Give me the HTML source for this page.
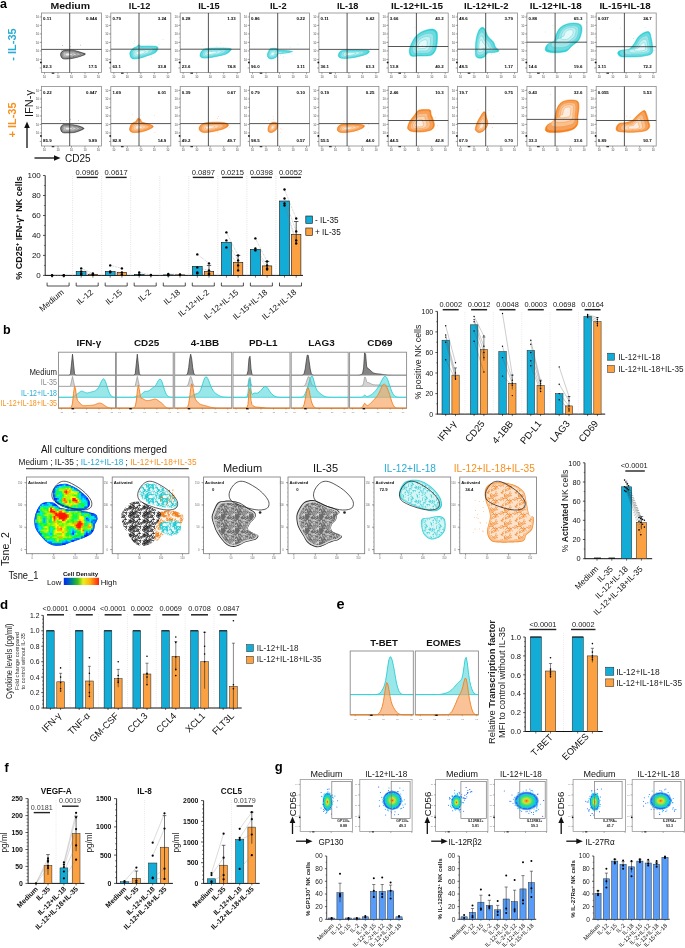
<!DOCTYPE html>
<html><head><meta charset="utf-8"><style>
html,body{margin:0;padding:0;background:#fff;width:685px;height:948px;overflow:hidden}
svg{display:block;will-change:transform;-webkit-font-smoothing:antialiased}
text{font-family:"Liberation Sans",sans-serif}
</style></head><body>
<svg width="685" height="948" viewBox="0 0 685 948" fill="#1a1a1a">
<rect width="685" height="948" fill="#fff"/>
<text x="0" y="8.2" font-size="12.5" font-weight="bold" fill="#000">a</text>
<defs><g id="fax"><line x1="-1.8" y1="4" x2="0" y2="4" stroke="#555" stroke-width="0.5"/>
<text x="-5.6" y="5.2" font-size="2.8" fill="#444">10</text>
<line x1="-1.8" y1="12.5" x2="0" y2="12.5" stroke="#555" stroke-width="0.5"/>
<text x="-5.6" y="13.7" font-size="2.8" fill="#444">10</text>
<line x1="-1.8" y1="21" x2="0" y2="21" stroke="#555" stroke-width="0.5"/>
<text x="-5.6" y="22.2" font-size="2.8" fill="#444">10</text>
<line x1="-1.8" y1="29.5" x2="0" y2="29.5" stroke="#555" stroke-width="0.5"/>
<text x="-5.6" y="30.7" font-size="2.8" fill="#444">10</text>
<line x1="-1.8" y1="38" x2="0" y2="38" stroke="#555" stroke-width="0.5"/>
<text x="-5.6" y="39.2" font-size="2.8" fill="#444">10</text>
<line x1="-1.8" y1="46.5" x2="0" y2="46.5" stroke="#555" stroke-width="0.5"/>
<text x="-5.6" y="47.7" font-size="2.8" fill="#444">10</text>
<line x1="-1.8" y1="55" x2="0" y2="55" stroke="#555" stroke-width="0.5"/>
<line x1="-1" y1="3" x2="0" y2="3" stroke="#777" stroke-width="0.3"/>
<line x1="-1" y1="7.3" x2="0" y2="7.3" stroke="#777" stroke-width="0.3"/>
<line x1="-1" y1="11.6" x2="0" y2="11.6" stroke="#777" stroke-width="0.3"/>
<line x1="-1" y1="15.9" x2="0" y2="15.9" stroke="#777" stroke-width="0.3"/>
<line x1="-1" y1="20.2" x2="0" y2="20.2" stroke="#777" stroke-width="0.3"/>
<line x1="-1" y1="24.5" x2="0" y2="24.5" stroke="#777" stroke-width="0.3"/>
<line x1="-1" y1="28.8" x2="0" y2="28.8" stroke="#777" stroke-width="0.3"/>
<line x1="-1" y1="33.1" x2="0" y2="33.1" stroke="#777" stroke-width="0.3"/>
<line x1="-1" y1="37.4" x2="0" y2="37.4" stroke="#777" stroke-width="0.3"/>
<line x1="-1" y1="41.7" x2="0" y2="41.7" stroke="#777" stroke-width="0.3"/>
<line x1="-1" y1="46" x2="0" y2="46" stroke="#777" stroke-width="0.3"/>
<line x1="-1" y1="50.3" x2="0" y2="50.3" stroke="#777" stroke-width="0.3"/>
<line x1="-1" y1="54.6" x2="0" y2="54.6" stroke="#777" stroke-width="0.3"/>
<line x1="3" y1="59.5" x2="3" y2="61.3" stroke="#555" stroke-width="0.5"/>
<text x="1.5" y="64.5" font-size="2.8" fill="#444">10</text>
<line x1="16.5" y1="59.5" x2="16.5" y2="61.3" stroke="#555" stroke-width="0.5"/>
<text x="15" y="64.5" font-size="2.8" fill="#444">10</text>
<line x1="30" y1="59.5" x2="30" y2="61.3" stroke="#555" stroke-width="0.5"/>
<text x="28.5" y="64.5" font-size="2.8" fill="#444">10</text>
<line x1="43.5" y1="59.5" x2="43.5" y2="61.3" stroke="#555" stroke-width="0.5"/>
<text x="42" y="64.5" font-size="2.8" fill="#444">10</text>
<line x1="57" y1="59.5" x2="57" y2="61.3" stroke="#555" stroke-width="0.5"/>
<text x="55.5" y="64.5" font-size="2.8" fill="#444">10</text>
<circle cx="-0.6" cy="49.4" r="0.9" fill="#111"/>
<rect x="10.2" y="59.7" width="2.6" height="1" fill="#111" stroke="none" stroke-width="1"/></g></defs>
<path d="M60.5,54.5C60.5,53.2 61.3,51.8 62.5,51C63.7,50.2 65.5,50.1 67.5,50C69.5,49.9 72.2,50.1 74.5,50.5C76.8,50.9 79.7,51.9 81.5,52.5C83.3,53.1 85.5,53.4 85.5,54C85.5,54.6 83.3,55.3 81.5,56C79.7,56.7 76.8,57.5 74.5,58C72.2,58.5 69.5,58.9 67.5,59C65.5,59.1 63.7,59.2 62.5,58.5C61.3,57.8 60.5,55.8 60.5,54.5Z" fill="#3a3a3a" stroke="#3a3a3a" stroke-width="0.5"/>
<path d="M61.1,54.5C61.1,53.4 61.8,52 62.9,51.3C64,50.6 65.7,50.4 67.5,50.4C69.3,50.3 71.8,50.4 73.9,50.8C76.1,51.2 78.7,52.1 80.4,52.7C82.1,53.2 84.1,53.5 84.1,54C84.1,54.6 82.1,55.3 80.4,55.9C78.7,56.5 76.1,57.3 73.9,57.7C71.8,58.2 69.3,58.6 67.5,58.6C65.7,58.7 64,58.9 62.9,58.2C61.8,57.5 61.1,55.6 61.1,54.5Z" fill="#9a9a9a" stroke="#555555" stroke-width="0.4"/>
<path d="M62.3,54.5C62.3,53.6 62.9,52.5 63.8,51.9C64.7,51.4 66,51.2 67.5,51.2C69,51.1 71,51.2 72.7,51.5C74.4,51.8 76.5,52.6 77.9,53C79.2,53.5 80.8,53.7 80.8,54.1C80.8,54.6 79.2,55.1 77.9,55.6C76.5,56.1 74.4,56.7 72.7,57.1C71,57.5 69,57.8 67.5,57.8C66,57.9 64.7,58 63.8,57.5C62.9,56.9 62.3,55.4 62.3,54.5Z" fill="#bdbdbd" stroke="#555555" stroke-width="0.4"/>
<path d="M63.7,54.5C63.7,53.8 64.2,53 64.8,52.6C65.4,52.2 66.4,52.1 67.5,52.1C68.6,52 70,52.1 71.3,52.3C72.5,52.6 74.1,53.1 75.1,53.4C76,53.7 77.2,53.9 77.2,54.2C77.2,54.5 76,55 75.1,55.3C74.1,55.7 72.5,56.1 71.3,56.4C70,56.7 68.6,56.9 67.5,56.9C66.4,57 65.4,57.1 64.8,56.7C64.2,56.3 63.7,55.2 63.7,54.5Z" fill="#d8d8d8" stroke="#555555" stroke-width="0.4"/>
<path d="M65.2,54.5C65.2,54.1 65.5,53.6 65.8,53.3C66.2,53.1 66.8,53 67.5,53C68.2,53 69,53 69.8,53.2C70.6,53.3 71.5,53.6 72.1,53.8C72.7,54 73.4,54.1 73.4,54.3C73.4,54.5 72.7,54.8 72.1,55C71.5,55.2 70.6,55.5 69.8,55.7C69,55.8 68.2,56 67.5,56C66.8,56 66.2,56.1 65.8,55.8C65.5,55.6 65.2,54.9 65.2,54.5Z" fill="#eeeeee" stroke="#555555" stroke-width="0.4"/>
<circle cx="70.5" cy="46.3" r="0.3" fill="#3a3a3a"/>
<circle cx="80.7" cy="45.1" r="0.3" fill="#3a3a3a"/>
<circle cx="77.1" cy="49.5" r="0.3" fill="#3a3a3a"/>
<circle cx="62.3" cy="51.6" r="0.3" fill="#3a3a3a"/>
<circle cx="61.7" cy="50.5" r="0.3" fill="#3a3a3a"/>
<circle cx="62.7" cy="45.4" r="0.3" fill="#3a3a3a"/>
<circle cx="73.7" cy="56.4" r="0.3" fill="#3a3a3a"/>
<rect x="41.5" y="13" width="60" height="59.5" fill="none" stroke="#8a8a8a" stroke-width="0.8"/>
<line x1="69.7" y1="13" x2="69.7" y2="72.5" stroke="#2a2a2a" stroke-width="0.8"/>
<line x1="41.5" y1="49.4" x2="101.5" y2="49.4" stroke="#2a2a2a" stroke-width="0.8"/>
<text x="43.1" y="20" font-size="4.4" font-weight="bold" fill="#000">0.11</text>
<text x="97" y="20" font-size="4.4" text-anchor="end" font-weight="bold" fill="#000">0.044</text>
<text x="43.1" y="68.4" font-size="4.4" font-weight="bold" fill="#000">82.3</text>
<text x="97" y="68.4" font-size="4.4" text-anchor="end" font-weight="bold" fill="#000">17.5</text>
<use href="#fax" x="41.5" y="13"/>
<path d="M129.8,53C130,51.3 131.7,49.6 132.8,48.5C134,47.4 135.8,47.1 136.8,46.5C137.8,45.9 138.2,44.9 138.8,44.8C139.5,44.7 139.2,45.8 140.8,46C142.5,46.2 146.2,45.9 148.8,46C151.5,46.1 155.3,46 156.8,46.5C158.3,47 158.2,47.9 157.8,49C157.5,50.1 156.7,51.8 154.8,53C153,54.2 149.5,55.1 146.8,56C144.2,56.9 141.3,58.1 138.8,58.5C136.3,58.9 133.3,59.4 131.8,58.5C130.3,57.6 129.7,54.7 129.8,53Z" fill="#2ccfd5" stroke="#2ccfd5" stroke-width="0.5"/>
<path d="M130.6,53C130.7,51.5 132.2,49.9 133.3,48.9C134.4,47.9 136.1,47.6 137,47C137.9,46.5 138.2,45.5 138.8,45.5C139.5,45.4 139.1,46.4 140.7,46.6C142.2,46.7 145.6,46.5 148,46.6C150.5,46.6 154,46.6 155.4,47C156.8,47.5 156.6,48.3 156.3,49.3C156,50.3 155.2,51.9 153.6,53C151.9,54.1 148.7,54.9 146.2,55.8C143.7,56.6 141.1,57.7 138.8,58.1C136.5,58.4 133.8,58.9 132.4,58.1C131,57.2 130.4,54.5 130.6,53Z" fill="#6fd9dd" stroke="#3fd2d8" stroke-width="0.4"/>
<path d="M132.2,53C132.3,51.8 133.5,50.5 134.4,49.7C135.3,48.9 136.6,48.6 137.4,48.2C138.1,47.7 138.3,47 138.8,46.9C139.3,46.9 139.1,47.7 140.3,47.8C141.6,48 144.3,47.8 146.2,47.8C148.2,47.9 151.1,47.8 152.2,48.2C153.3,48.6 153.1,49.2 152.9,50C152.7,50.8 152,52.1 150.7,53C149.3,53.9 146.7,54.5 144.8,55.2C142.8,55.9 140.7,56.8 138.8,57.1C137,57.4 134.8,57.7 133.7,57.1C132.6,56.4 132.1,54.2 132.2,53Z" fill="#9fe5e8" stroke="#3fd2d8" stroke-width="0.4"/>
<path d="M134,53C134.1,52.1 135,51.2 135.6,50.6C136.2,50 137.2,49.8 137.8,49.5C138.3,49.2 138.5,48.6 138.8,48.6C139.2,48.5 139,49.1 139.9,49.2C140.8,49.3 142.8,49.2 144.2,49.2C145.7,49.3 147.8,49.2 148.6,49.5C149.4,49.8 149.3,50.3 149.1,50.8C148.9,51.4 148.5,52.4 147.5,53C146.5,53.6 144.6,54.1 143.2,54.6C141.7,55.1 140.2,55.7 138.8,56C137.5,56.2 135.9,56.5 135.1,56C134.2,55.5 133.9,53.9 134,53Z" fill="#c8f0f1" stroke="#3fd2d8" stroke-width="0.4"/>
<path d="M135.9,53C135.9,52.5 136.5,51.9 136.9,51.5C137.2,51.2 137.9,51.1 138.2,50.9C138.5,50.7 138.6,50.3 138.8,50.3C139.1,50.3 138.9,50.6 139.5,50.7C140.1,50.8 141.3,50.7 142.1,50.7C143,50.7 144.3,50.7 144.8,50.9C145.3,51 145.2,51.3 145.1,51.7C145,52 144.7,52.6 144.1,53C143.5,53.4 142.4,53.7 141.5,54C140.6,54.3 139.7,54.7 138.8,54.8C138,55 137,55.1 136.5,54.8C136,54.5 135.8,53.5 135.9,53Z" fill="#e6f9fa" stroke="#3fd2d8" stroke-width="0.4"/>
<circle cx="134" cy="43.2" r="0.3" fill="#2ccfd5"/>
<circle cx="151.2" cy="57.5" r="0.3" fill="#2ccfd5"/>
<circle cx="149.5" cy="46.6" r="0.3" fill="#2ccfd5"/>
<circle cx="163" cy="39.7" r="0.3" fill="#2ccfd5"/>
<circle cx="159" cy="44.5" r="0.3" fill="#2ccfd5"/>
<circle cx="134.7" cy="41.1" r="0.3" fill="#2ccfd5"/>
<circle cx="140.3" cy="54.9" r="0.3" fill="#2ccfd5"/>
<rect x="110.8" y="13" width="60" height="59.5" fill="none" stroke="#8a8a8a" stroke-width="0.8"/>
<line x1="139" y1="13" x2="139" y2="72.5" stroke="#2a2a2a" stroke-width="0.8"/>
<line x1="110.8" y1="49.2" x2="170.8" y2="49.2" stroke="#2a2a2a" stroke-width="0.8"/>
<text x="112.4" y="20" font-size="4.4" font-weight="bold" fill="#000">0.79</text>
<text x="166.3" y="20" font-size="4.4" text-anchor="end" font-weight="bold" fill="#000">3.24</text>
<text x="112.4" y="68.4" font-size="4.4" font-weight="bold" fill="#000">63.1</text>
<text x="166.3" y="68.4" font-size="4.4" text-anchor="end" font-weight="bold" fill="#000">33.8</text>
<use href="#fax" x="110.8" y="13"/>
<path d="M200.2,54C200.5,52.7 201.5,50.5 203.2,49.5C204.8,48.5 207,48.5 210.2,48.2C213.3,48 218.8,48 222.2,48C225.5,48 228.7,48.2 230.2,48.5C231.7,48.8 231.8,49.1 231.2,50C230.5,50.9 228.7,52.9 226.2,54C223.7,55.1 219.3,55.8 216.2,56.5C213,57.2 209.7,57.8 207.2,58C204.7,58.2 202.3,58.2 201.2,57.5C200,56.8 199.8,55.3 200.2,54Z" fill="#2ccfd5" stroke="#2ccfd5" stroke-width="0.5"/>
<path d="M201,53.9C201.3,52.7 202.2,50.7 203.7,49.8C205.3,48.9 207.3,48.8 210.2,48.6C213.1,48.4 218.2,48.4 221.2,48.4C224.3,48.4 227.2,48.6 228.6,48.9C230,49.2 230.1,49.4 229.5,50.2C228.9,51.1 227.2,52.9 224.9,53.9C222.6,54.9 218.6,55.6 215.7,56.2C212.8,56.8 209.7,57.4 207.4,57.6C205.1,57.8 203,57.8 201.9,57.1C200.8,56.5 200.7,55.1 201,53.9Z" fill="#6fd9dd" stroke="#3fd2d8" stroke-width="0.4"/>
<path d="M202.8,53.7C203,52.8 203.8,51.1 205,50.4C206.2,49.7 207.8,49.6 210.2,49.4C212.5,49.3 216.6,49.3 219.1,49.3C221.5,49.3 223.9,49.4 225,49.7C226.1,49.9 226.2,50.1 225.7,50.8C225.2,51.5 223.9,52.9 222,53.7C220.2,54.5 217,55.1 214.6,55.6C212.3,56.1 209.8,56.6 208,56.7C206.1,56.8 204.4,56.8 203.5,56.3C202.7,55.8 202.5,54.7 202.8,53.7Z" fill="#9fe5e8" stroke="#3fd2d8" stroke-width="0.4"/>
<path d="M204.8,53.5C205,52.8 205.5,51.6 206.4,51.1C207.3,50.6 208.5,50.5 210.2,50.4C211.9,50.3 214.9,50.3 216.7,50.3C218.5,50.3 220.2,50.4 221,50.6C221.8,50.8 221.9,50.9 221.5,51.4C221.2,51.9 220.2,53 218.8,53.5C217.5,54.1 215.1,54.5 213.4,54.9C211.7,55.2 209.9,55.6 208.6,55.7C207.2,55.8 205.9,55.8 205.3,55.4C204.7,55.1 204.6,54.3 204.8,53.5Z" fill="#c8f0f1" stroke="#3fd2d8" stroke-width="0.4"/>
<path d="M206.9,53.3C207,52.9 207.3,52.2 207.9,51.8C208.4,51.5 209.1,51.5 210.2,51.4C211.2,51.3 213,51.3 214.1,51.4C215.2,51.4 216.3,51.4 216.8,51.5C217.3,51.6 217.3,51.7 217.1,52C216.9,52.3 216.3,53 215.5,53.3C214.6,53.7 213.2,53.9 212.2,54.2C211.1,54.4 210,54.6 209.2,54.6C208.4,54.7 207.6,54.7 207.2,54.5C206.8,54.3 206.8,53.8 206.9,53.3Z" fill="#e6f9fa" stroke="#3fd2d8" stroke-width="0.4"/>
<circle cx="206.9" cy="51.3" r="0.3" fill="#2ccfd5"/>
<circle cx="223.8" cy="48" r="0.3" fill="#2ccfd5"/>
<circle cx="220.4" cy="43" r="0.3" fill="#2ccfd5"/>
<circle cx="202.4" cy="45.3" r="0.3" fill="#2ccfd5"/>
<circle cx="225.4" cy="48.8" r="0.3" fill="#2ccfd5"/>
<circle cx="211.8" cy="51.4" r="0.3" fill="#2ccfd5"/>
<circle cx="216.9" cy="46.8" r="0.3" fill="#2ccfd5"/>
<rect x="180.2" y="13" width="60" height="59.5" fill="none" stroke="#8a8a8a" stroke-width="0.8"/>
<line x1="208.4" y1="13" x2="208.4" y2="72.5" stroke="#2a2a2a" stroke-width="0.8"/>
<line x1="180.2" y1="49.2" x2="240.2" y2="49.2" stroke="#2a2a2a" stroke-width="0.8"/>
<text x="181.8" y="20" font-size="4.4" font-weight="bold" fill="#000">0.28</text>
<text x="235.7" y="20" font-size="4.4" text-anchor="end" font-weight="bold" fill="#000">1.33</text>
<text x="181.8" y="68.4" font-size="4.4" font-weight="bold" fill="#000">23.6</text>
<text x="235.7" y="68.4" font-size="4.4" text-anchor="end" font-weight="bold" fill="#000">74.8</text>
<use href="#fax" x="180.2" y="13"/>
<path d="M267.5,54C267.8,52.7 268.7,50.5 269.5,49.5C270.4,48.5 271.4,48.5 272.5,48.3C273.7,48.1 275.5,48.2 276.5,48.5C277.5,48.8 277,49.7 278.5,50C280,50.3 283.2,50.2 285.5,50.5C287.9,50.8 292.5,51.1 292.5,51.5C292.5,51.9 287.9,52.7 285.5,53C283.2,53.3 280,52.8 278.5,53.5C277,54.2 277.7,56.1 276.5,57C275.4,57.9 272.9,58.9 271.5,59C270.1,59.1 268.7,58.3 268,57.5C267.4,56.7 267.3,55.3 267.5,54Z" fill="#2ccfd5" stroke="#2ccfd5" stroke-width="0.5"/>
<path d="M267.9,54C268.2,52.8 269,50.7 269.8,49.9C270.5,49 271.4,48.9 272.5,48.8C273.6,48.6 275.3,48.7 276.2,48.9C277.1,49.2 276.7,50 278,50.3C279.4,50.6 282.3,50.5 284.5,50.8C286.6,51 290.9,51.3 290.9,51.7C290.9,52.1 286.6,52.8 284.5,53.1C282.3,53.4 279.4,52.9 278,53.5C276.7,54.2 277.3,55.9 276.2,56.8C275.1,57.6 272.9,58.5 271.6,58.6C270.3,58.7 269,58 268.4,57.2C267.8,56.5 267.7,55.2 267.9,54Z" fill="#6fd9dd" stroke="#3fd2d8" stroke-width="0.4"/>
<path d="M268.8,54C269,53 269.7,51.4 270.3,50.7C270.9,50 271.7,49.9 272.5,49.8C273.4,49.7 274.7,49.7 275.5,49.9C276.2,50.1 275.9,50.8 277,51C278.1,51.3 280.4,51.2 282.1,51.4C283.9,51.6 287.3,51.8 287.3,52.1C287.3,52.5 283.9,53 282.1,53.3C280.4,53.5 278.1,53.1 277,53.6C275.9,54.1 276.3,55.5 275.5,56.2C274.6,56.9 272.8,57.6 271.8,57.7C270.7,57.8 269.7,57.2 269.2,56.6C268.7,56 268.6,55 268.8,54Z" fill="#9fe5e8" stroke="#3fd2d8" stroke-width="0.4"/>
<path d="M269.8,54C270,53.3 270.5,52.1 270.9,51.6C271.4,51.1 271.9,51 272.5,50.9C273.1,50.8 274.1,50.9 274.7,51C275.2,51.2 274.9,51.7 275.8,51.8C276.6,52 278.3,52 279.5,52.1C280.8,52.2 283.3,52.4 283.3,52.6C283.3,52.9 280.8,53.3 279.5,53.5C278.3,53.6 276.6,53.4 275.8,53.7C274.9,54.1 275.3,55.1 274.7,55.6C274.1,56.1 272.7,56.7 272,56.7C271.2,56.7 270.5,56.3 270.1,55.9C269.7,55.4 269.7,54.7 269.8,54Z" fill="#c8f0f1" stroke="#3fd2d8" stroke-width="0.4"/>
<path d="M270.9,54C271,53.6 271.3,52.8 271.5,52.5C271.8,52.2 272.1,52.2 272.5,52.1C272.9,52.1 273.5,52.1 273.8,52.2C274.2,52.3 274,52.6 274.5,52.7C275,52.8 276,52.8 276.8,52.8C277.6,52.9 279.1,53 279.1,53.2C279.1,53.3 277.6,53.6 276.8,53.7C276,53.8 275,53.6 274.5,53.8C274,54.1 274.2,54.7 273.8,55C273.5,55.3 272.7,55.6 272.2,55.6C271.7,55.7 271.3,55.4 271,55.2C270.8,54.9 270.8,54.4 270.9,54Z" fill="#e6f9fa" stroke="#3fd2d8" stroke-width="0.4"/>
<circle cx="292.1" cy="54" r="0.3" fill="#2ccfd5"/>
<circle cx="275.1" cy="51.9" r="0.3" fill="#2ccfd5"/>
<circle cx="283.8" cy="56.9" r="0.3" fill="#2ccfd5"/>
<circle cx="290.1" cy="47.1" r="0.3" fill="#2ccfd5"/>
<circle cx="297.9" cy="44.3" r="0.3" fill="#2ccfd5"/>
<circle cx="280.5" cy="54.9" r="0.3" fill="#2ccfd5"/>
<circle cx="272.2" cy="50.5" r="0.3" fill="#2ccfd5"/>
<rect x="249.5" y="13" width="60" height="59.5" fill="none" stroke="#8a8a8a" stroke-width="0.8"/>
<line x1="277.7" y1="13" x2="277.7" y2="72.5" stroke="#2a2a2a" stroke-width="0.8"/>
<line x1="249.5" y1="49.2" x2="309.5" y2="49.2" stroke="#2a2a2a" stroke-width="0.8"/>
<text x="251.1" y="20" font-size="4.4" font-weight="bold" fill="#000">0.86</text>
<text x="305" y="20" font-size="4.4" text-anchor="end" font-weight="bold" fill="#000">0.22</text>
<text x="251.1" y="68.4" font-size="4.4" font-weight="bold" fill="#000">96.0</text>
<text x="305" y="68.4" font-size="4.4" text-anchor="end" font-weight="bold" fill="#000">3.11</text>
<use href="#fax" x="249.5" y="13"/>
<path d="M338.4,54.5C338.7,53.5 339.1,51.8 340.9,51C342.6,50.2 345.5,50.2 348.9,50C352.2,49.8 357.5,49.9 360.9,50C364.2,50.1 367.7,49.9 368.9,50.5C370,51.1 369.2,52.6 367.9,53.5C366.5,54.4 363.7,55.2 360.9,56C358,56.8 354,57.6 350.9,58C347.7,58.4 343.9,58.5 341.9,58.3C339.9,58.1 339.4,57.6 338.9,57C338.3,56.4 338,55.5 338.4,54.5Z" fill="#2ccfd5" stroke="#2ccfd5" stroke-width="0.5"/>
<path d="M339.2,54.5C339.5,53.5 339.9,51.9 341.5,51.2C343.1,50.6 345.8,50.5 348.9,50.3C351.9,50.2 356.8,50.2 359.9,50.3C363,50.4 366.2,50.2 367.3,50.8C368.3,51.3 367.6,52.7 366.3,53.5C365.1,54.4 362.5,55.2 359.9,55.8C357.3,56.5 353.6,57.3 350.7,57.7C347.8,58 344.3,58.1 342.4,58C340.6,57.8 340.2,57.3 339.7,56.8C339.1,56.2 338.9,55.4 339.2,54.5Z" fill="#6fd9dd" stroke="#3fd2d8" stroke-width="0.4"/>
<path d="M341.1,54.4C341.3,53.6 341.6,52.3 342.9,51.8C344.2,51.2 346.4,51.2 348.9,51C351.3,50.9 355.3,51 357.7,51C360.2,51.1 362.8,51 363.7,51.4C364.5,51.8 363.9,53 362.9,53.6C361.9,54.3 359.8,54.9 357.7,55.5C355.6,56 352.7,56.7 350.3,57C348,57.2 345.2,57.3 343.7,57.2C342.2,57.1 341.9,56.7 341.5,56.2C341,55.8 340.8,55.1 341.1,54.4Z" fill="#9fe5e8" stroke="#3fd2d8" stroke-width="0.4"/>
<path d="M343.2,54.3C343.4,53.7 343.6,52.8 344.5,52.4C345.5,52 347.1,51.9 348.9,51.8C350.7,51.8 353.5,51.8 355.3,51.8C357.1,51.9 359,51.8 359.7,52.1C360.3,52.4 359.8,53.2 359.1,53.7C358.4,54.2 356.9,54.7 355.3,55.1C353.8,55.5 351.6,56 349.9,56.2C348.2,56.4 346.2,56.4 345.1,56.3C344,56.2 343.8,56 343.5,55.6C343.1,55.3 343,54.8 343.2,54.3Z" fill="#c8f0f1" stroke="#3fd2d8" stroke-width="0.4"/>
<path d="M345.4,54.2C345.5,53.8 345.6,53.3 346.2,53C346.8,52.8 347.8,52.7 348.9,52.7C350,52.6 351.7,52.7 352.8,52.7C353.9,52.7 355.1,52.7 355.5,52.8C355.8,53 355.6,53.5 355.1,53.8C354.7,54.1 353.8,54.4 352.8,54.7C351.9,54.9 350.6,55.2 349.5,55.3C348.5,55.4 347.2,55.5 346.6,55.4C345.9,55.4 345.8,55.2 345.6,55C345.4,54.8 345.3,54.5 345.4,54.2Z" fill="#e6f9fa" stroke="#3fd2d8" stroke-width="0.4"/>
<circle cx="339.8" cy="53.6" r="0.3" fill="#2ccfd5"/>
<circle cx="366.3" cy="52.2" r="0.3" fill="#2ccfd5"/>
<circle cx="370.3" cy="48.5" r="0.3" fill="#2ccfd5"/>
<circle cx="363.7" cy="52.5" r="0.3" fill="#2ccfd5"/>
<circle cx="359.5" cy="50.5" r="0.3" fill="#2ccfd5"/>
<circle cx="369" cy="57.5" r="0.3" fill="#2ccfd5"/>
<circle cx="355.7" cy="53.5" r="0.3" fill="#2ccfd5"/>
<rect x="318.9" y="13" width="60" height="59.5" fill="none" stroke="#8a8a8a" stroke-width="0.8"/>
<line x1="347.1" y1="13" x2="347.1" y2="72.5" stroke="#2a2a2a" stroke-width="0.8"/>
<line x1="318.9" y1="49.4" x2="378.9" y2="49.4" stroke="#2a2a2a" stroke-width="0.8"/>
<text x="320.5" y="20" font-size="4.4" font-weight="bold" fill="#000">0.11</text>
<text x="374.4" y="20" font-size="4.4" text-anchor="end" font-weight="bold" fill="#000">0.42</text>
<text x="320.5" y="68.4" font-size="4.4" font-weight="bold" fill="#000">36.1</text>
<text x="374.4" y="68.4" font-size="4.4" text-anchor="end" font-weight="bold" fill="#000">63.3</text>
<use href="#fax" x="318.9" y="13"/>
<path d="M409.2,51C409.2,49 410.2,46.3 411.2,44C412.2,41.7 413.5,39 415.2,37C416.9,35 419,33.2 421.2,32C423.4,30.8 426,29.9 428.2,29.5C430.4,29.1 432.7,28.9 434.2,29.5C435.7,30.1 436.7,30.8 437.2,33C437.7,35.2 437.5,40 437.2,43C436.9,46 436.4,48.9 435.2,51C434,53.1 433,54.7 430.2,55.5C427.4,56.3 421.4,55.9 418.2,56C415,56.1 412.7,56.8 411.2,56C409.7,55.2 409.2,53 409.2,51Z" fill="#2ccfd5" stroke="#2ccfd5" stroke-width="0.5"/>
<path d="M410.2,50.5C410.2,48.7 411.2,46.2 412.1,44.1C413,41.9 414.2,39.5 415.8,37.6C417.3,35.8 419.3,34.2 421.3,33C423.3,31.9 425.7,31.1 427.7,30.7C429.7,30.4 431.9,30.2 433.2,30.7C434.6,31.3 435.5,31.9 436,34C436.5,36 436.3,40.4 436,43.2C435.7,45.9 435.2,48.6 434.2,50.5C433.1,52.4 432.2,53.9 429.6,54.7C427,55.4 421.4,55 418.5,55.1C415.6,55.2 413.5,55.9 412.1,55.1C410.7,54.4 410.2,52.4 410.2,50.5Z" fill="#6fd9dd" stroke="#3fd2d8" stroke-width="0.4"/>
<path d="M412.6,49.4C412.6,48 413.3,46 414.1,44.3C414.8,42.5 415.8,40.6 417,39.1C418.3,37.6 419.9,36.3 421.5,35.4C423.1,34.5 425,33.8 426.6,33.5C428.2,33.2 430,33.1 431.1,33.5C432.2,34 432.9,34.5 433.3,36.1C433.7,37.8 433.5,41.3 433.3,43.5C433.1,45.7 432.7,47.9 431.8,49.4C431,51 430.2,52.2 428.1,52.8C426,53.4 421.6,53.1 419.2,53.1C416.9,53.2 415.2,53.8 414.1,53.1C413,52.5 412.6,50.9 412.6,49.4Z" fill="#9fe5e8" stroke="#3fd2d8" stroke-width="0.4"/>
<path d="M415.2,48.2C415.2,47.2 415.7,45.7 416.3,44.5C416.8,43.2 417.5,41.8 418.4,40.7C419.3,39.6 420.5,38.7 421.7,38C422.8,37.3 424.3,36.9 425.4,36.6C426.6,36.4 427.9,36.3 428.7,36.6C429.5,36.9 430,37.3 430.3,38.5C430.6,39.7 430.5,42.3 430.3,43.9C430.1,45.5 429.9,47.1 429.2,48.2C428.6,49.4 428.1,50.2 426.5,50.7C425,51.1 421.8,50.9 420,50.9C418.3,51 417.1,51.4 416.3,50.9C415.5,50.5 415.2,49.3 415.2,48.2Z" fill="#c8f0f1" stroke="#3fd2d8" stroke-width="0.4"/>
<path d="M417.9,47C417.9,46.3 418.2,45.4 418.6,44.7C418.9,43.9 419.3,43 419.9,42.4C420.4,41.7 421.2,41.1 421.9,40.7C422.6,40.3 423.5,40 424.2,39.9C424.9,39.7 425.7,39.7 426.2,39.9C426.7,40.1 427,40.3 427.2,41C427.3,41.8 427.3,43.4 427.2,44.3C427,45.3 426.9,46.3 426.5,47C426.1,47.7 425.8,48.2 424.8,48.5C423.9,48.7 421.9,48.6 420.9,48.6C419.8,48.7 419.1,48.9 418.6,48.6C418.1,48.4 417.9,47.6 417.9,47Z" fill="#e6f9fa" stroke="#3fd2d8" stroke-width="0.4"/>
<circle cx="411.3" cy="46.3" r="0.3" fill="#2ccfd5"/>
<circle cx="431.2" cy="55.8" r="0.3" fill="#2ccfd5"/>
<circle cx="437.1" cy="32.7" r="0.3" fill="#2ccfd5"/>
<circle cx="422.3" cy="45.2" r="0.3" fill="#2ccfd5"/>
<circle cx="410" cy="38.5" r="0.3" fill="#2ccfd5"/>
<circle cx="414.9" cy="27.3" r="0.3" fill="#2ccfd5"/>
<circle cx="411.2" cy="48.5" r="0.3" fill="#2ccfd5"/>
<rect x="388.2" y="13" width="60" height="59.5" fill="none" stroke="#8a8a8a" stroke-width="0.8"/>
<line x1="416.4" y1="13" x2="416.4" y2="72.5" stroke="#2a2a2a" stroke-width="0.8"/>
<line x1="388.2" y1="46.5" x2="448.2" y2="46.5" stroke="#2a2a2a" stroke-width="0.8"/>
<text x="389.8" y="20" font-size="4.4" font-weight="bold" fill="#000">3.66</text>
<text x="443.7" y="20" font-size="4.4" text-anchor="end" font-weight="bold" fill="#000">43.2</text>
<text x="389.8" y="68.4" font-size="4.4" font-weight="bold" fill="#000">13.8</text>
<text x="443.7" y="68.4" font-size="4.4" text-anchor="end" font-weight="bold" fill="#000">40.2</text>
<use href="#fax" x="388.2" y="13"/>
<path d="M475.5,51C475.5,48.2 475.5,43.3 476,40C476.5,36.7 477.6,33.1 478.5,31C479.5,28.9 480.5,27.9 481.5,27.5C482.5,27.1 483.7,27.6 484.5,28.5C485.4,29.4 485.9,31.6 486.5,33C487.2,34.4 487.4,35.5 488.5,37C489.7,38.5 492.4,40.3 493.5,42C494.7,43.7 494.6,45.5 495.5,47C496.5,48.5 499.4,50.1 499,51C498.7,51.9 495.5,52.2 493.5,52.5C491.6,52.8 489,52.2 487.5,53C486,53.8 485.9,56.1 484.5,57C483.2,57.9 481,58.3 479.5,58.2C478.1,58.1 476.7,57.7 476,56.5C475.4,55.3 475.5,53.8 475.5,51Z" fill="#2ccfd5" stroke="#2ccfd5" stroke-width="0.5"/>
<path d="M475.9,50.6C475.9,48.1 475.9,43.5 476.4,40.5C476.9,37.4 477.9,34.1 478.7,32.2C479.5,30.3 480.5,29.4 481.5,29C482.4,28.6 483.5,29.1 484.2,29.9C485,30.7 485.4,32.7 486.1,34C486.7,35.3 486.8,36.3 487.9,37.7C489,39.1 491.4,40.8 492.5,42.3C493.6,43.9 493.5,45.5 494.3,46.9C495.2,48.3 497.9,49.8 497.6,50.6C497.3,51.4 494.3,51.7 492.5,52C490.7,52.3 488.4,51.8 487,52.4C485.6,53.1 485.4,55.3 484.2,56.1C483,56.9 480.9,57.3 479.6,57.2C478.3,57.1 477,56.8 476.4,55.7C475.8,54.6 475.9,53.1 475.9,50.6Z" fill="#6fd9dd" stroke="#3fd2d8" stroke-width="0.4"/>
<path d="M476.8,49.7C476.8,47.7 476.8,44 477.2,41.6C477.6,39.1 478.4,36.4 479.1,34.9C479.7,33.4 480.5,32.6 481.3,32.3C482,32 482.9,32.4 483.5,33C484.1,33.7 484.5,35.3 485,36.4C485.5,37.4 485.6,38.2 486.5,39.3C487.3,40.5 489.3,41.8 490.2,43C491,44.3 491,45.6 491.6,46.7C492.3,47.9 494.5,49 494.2,49.7C494,50.4 491.6,50.6 490.2,50.8C488.7,51.1 486.8,50.6 485.7,51.2C484.6,51.7 484.5,53.5 483.5,54.1C482.5,54.8 480.8,55.1 479.8,55C478.8,55 477.7,54.7 477.2,53.8C476.7,52.9 476.8,51.7 476.8,49.7Z" fill="#9fe5e8" stroke="#3fd2d8" stroke-width="0.4"/>
<path d="M477.8,48.7C477.8,47.2 477.8,44.6 478.1,42.8C478.4,41 479,39 479.5,37.9C480,36.8 480.5,36.2 481.1,36C481.6,35.8 482.3,36.1 482.7,36.5C483.2,37 483.4,38.2 483.8,39C484.1,39.7 484.2,40.3 484.9,41.1C485.5,42 486.9,42.9 487.6,43.8C488.2,44.7 488.1,45.7 488.6,46.5C489.1,47.4 490.7,48.2 490.5,48.7C490.4,49.2 488.6,49.3 487.6,49.5C486.5,49.7 485.1,49.4 484.3,49.8C483.5,50.2 483.4,51.5 482.7,51.9C482,52.4 480.8,52.6 480,52.6C479.2,52.5 478.5,52.3 478.1,51.7C477.8,51 477.8,50.2 477.8,48.7Z" fill="#c8f0f1" stroke="#3fd2d8" stroke-width="0.4"/>
<path d="M478.9,47.6C478.9,46.7 478.9,45.1 479.1,44C479.2,42.9 479.6,41.7 479.9,41C480.2,40.4 480.5,40 480.9,39.9C481.2,39.8 481.6,39.9 481.9,40.2C482.1,40.5 482.3,41.2 482.5,41.7C482.7,42.2 482.8,42.5 483.2,43C483.6,43.5 484.4,44.1 484.8,44.7C485.2,45.2 485.2,45.8 485.5,46.3C485.8,46.8 486.8,47.3 486.6,47.6C486.5,48 485.5,48 484.8,48.1C484.2,48.3 483.3,48.1 482.9,48.3C482.4,48.6 482.3,49.3 481.9,49.6C481.4,49.9 480.7,50.1 480.2,50C479.7,50 479.3,49.9 479.1,49.5C478.8,49.1 478.9,48.6 478.9,47.6Z" fill="#e6f9fa" stroke="#3fd2d8" stroke-width="0.4"/>
<circle cx="479.4" cy="30.6" r="0.3" fill="#2ccfd5"/>
<circle cx="487.1" cy="53.5" r="0.3" fill="#2ccfd5"/>
<circle cx="477.9" cy="38" r="0.3" fill="#2ccfd5"/>
<circle cx="491.7" cy="53.9" r="0.3" fill="#2ccfd5"/>
<circle cx="499.7" cy="53.2" r="0.3" fill="#2ccfd5"/>
<circle cx="483.8" cy="36.7" r="0.3" fill="#2ccfd5"/>
<circle cx="486.1" cy="53.9" r="0.3" fill="#2ccfd5"/>
<rect x="457.5" y="13" width="60" height="59.5" fill="none" stroke="#8a8a8a" stroke-width="0.8"/>
<line x1="485.7" y1="13" x2="485.7" y2="72.5" stroke="#2a2a2a" stroke-width="0.8"/>
<line x1="457.5" y1="49.2" x2="517.5" y2="49.2" stroke="#2a2a2a" stroke-width="0.8"/>
<text x="459.1" y="20" font-size="4.4" font-weight="bold" fill="#000">48.6</text>
<text x="513" y="20" font-size="4.4" text-anchor="end" font-weight="bold" fill="#000">3.79</text>
<text x="459.1" y="68.4" font-size="4.4" font-weight="bold" fill="#000">48.5</text>
<text x="513" y="68.4" font-size="4.4" text-anchor="end" font-weight="bold" fill="#000">1.17</text>
<use href="#fax" x="457.5" y="13"/>
<path d="M545.4,48C545.7,46.8 546.5,45 547.9,44C549.3,43 552.5,43.5 553.9,42C555.2,40.5 554.9,37.3 555.9,35C556.9,32.7 558,29.8 559.9,28C561.7,26.2 564.4,24.8 566.9,24C569.4,23.2 572.5,22.8 574.9,23C577.2,23.2 579.7,23.7 580.9,25C582,26.3 582.2,28.5 581.9,31C581.5,33.5 580.5,37.5 578.9,40C577.2,42.5 573.9,44.2 571.9,46C569.9,47.8 568.9,49.9 566.9,51C564.9,52.1 562.5,52.2 559.9,52.5C557.2,52.8 553.2,52.8 550.9,52.5C548.5,52.2 546.8,51.8 545.9,51C545,50.2 545,49.2 545.4,48Z" fill="#2ccfd5" stroke="#2ccfd5" stroke-width="0.5"/>
<path d="M547.3,46.8C547.6,45.7 548.3,44 549.6,43.1C550.9,42.2 553.9,42.7 555.1,41.3C556.3,39.9 556,37 556.9,34.8C557.8,32.7 558.9,30.1 560.6,28.4C562.3,26.7 564.7,25.5 567,24.7C569.3,24 572.3,23.6 574.4,23.8C576.5,24 578.8,24.4 579.9,25.6C581,26.9 581.1,28.9 580.8,31.2C580.5,33.5 579.6,37.1 578.1,39.4C576.5,41.7 573.5,43.3 571.6,45C569.8,46.6 568.9,48.6 567,49.6C565.2,50.6 563.1,50.7 560.6,50.9C558.1,51.2 554.5,51.2 552.3,50.9C550.2,50.7 548.6,50.2 547.7,49.6C546.9,48.9 547,47.9 547.3,46.8Z" fill="#6fd9dd" stroke="#3fd2d8" stroke-width="0.4"/>
<path d="M551.5,44.1C551.7,43.2 552.3,41.9 553.3,41.1C554.4,40.4 556.8,40.8 557.8,39.7C558.8,38.5 558.5,36.2 559.3,34.5C560,32.8 560.9,30.7 562.2,29.3C563.6,27.9 565.5,27 567.4,26.3C569.2,25.7 571.6,25.5 573.3,25.6C575,25.7 576.9,26.1 577.8,27.1C578.6,28.1 578.7,29.7 578.5,31.5C578.3,33.4 577.5,36.3 576.3,38.2C575,40 572.6,41.3 571.1,42.6C569.6,44 568.9,45.5 567.4,46.3C565.9,47.1 564.2,47.2 562.2,47.4C560.2,47.6 557.3,47.6 555.6,47.4C553.8,47.2 552.5,46.9 551.9,46.3C551.2,45.8 551.2,45 551.5,44.1Z" fill="#9fe5e8" stroke="#3fd2d8" stroke-width="0.4"/>
<path d="M556.2,41.1C556.4,40.5 556.8,39.5 557.5,38.9C558.3,38.4 560.1,38.7 560.8,37.9C561.5,37 561.3,35.3 561.9,34.1C562.4,32.8 563,31.3 564,30.3C565,29.3 566.4,28.6 567.8,28.1C569.1,27.7 570.9,27.5 572.1,27.6C573.4,27.7 574.7,28 575.4,28.7C576,29.4 576.1,30.6 575.9,31.9C575.7,33.3 575.2,35.4 574.3,36.8C573.4,38.1 571.6,39 570.5,40C569.4,41 568.9,42.1 567.8,42.7C566.7,43.3 565.5,43.4 564,43.5C562.6,43.7 560.4,43.7 559.2,43.5C557.9,43.4 557,43.1 556.5,42.7C556,42.3 556,41.7 556.2,41.1Z" fill="#c8f0f1" stroke="#3fd2d8" stroke-width="0.4"/>
<path d="M561.1,38C561.2,37.6 561.5,37 562,36.6C562.4,36.3 563.5,36.5 563.9,36C564.4,35.5 564.3,34.4 564.6,33.7C564.9,32.9 565.3,32 565.9,31.4C566.5,30.7 567.4,30.3 568.2,30C569,29.8 570.1,29.6 570.9,29.7C571.6,29.8 572.5,29.9 572.8,30.4C573.2,30.8 573.3,31.5 573.2,32.3C573.1,33.2 572.7,34.5 572.2,35.3C571.6,36.1 570.5,36.7 569.9,37.3C569.2,37.9 568.9,38.6 568.2,38.9C567.6,39.3 566.8,39.4 565.9,39.4C565,39.5 563.7,39.5 562.9,39.4C562.2,39.4 561.6,39.2 561.3,38.9C561,38.7 561,38.3 561.1,38Z" fill="#e6f9fa" stroke="#3fd2d8" stroke-width="0.4"/>
<circle cx="586.1" cy="22.4" r="0.3" fill="#2ccfd5"/>
<circle cx="552.9" cy="25.2" r="0.3" fill="#2ccfd5"/>
<circle cx="555.3" cy="34.2" r="0.3" fill="#2ccfd5"/>
<circle cx="570.4" cy="26.3" r="0.3" fill="#2ccfd5"/>
<circle cx="545.6" cy="31.9" r="0.3" fill="#2ccfd5"/>
<circle cx="561.1" cy="37.1" r="0.3" fill="#2ccfd5"/>
<circle cx="585.9" cy="41.5" r="0.3" fill="#2ccfd5"/>
<rect x="526.9" y="13" width="60" height="59.5" fill="none" stroke="#8a8a8a" stroke-width="0.8"/>
<line x1="555.1" y1="13" x2="555.1" y2="72.5" stroke="#2a2a2a" stroke-width="0.8"/>
<line x1="526.9" y1="42.2" x2="586.9" y2="42.2" stroke="#2a2a2a" stroke-width="0.8"/>
<text x="528.5" y="20" font-size="4.4" font-weight="bold" fill="#000">0.88</text>
<text x="582.4" y="20" font-size="4.4" text-anchor="end" font-weight="bold" fill="#000">65.3</text>
<text x="528.5" y="68.4" font-size="4.4" font-weight="bold" fill="#000">14.6</text>
<text x="582.4" y="68.4" font-size="4.4" text-anchor="end" font-weight="bold" fill="#000">19.6</text>
<use href="#fax" x="526.9" y="13"/>
<path d="M617.7,53C617.7,52 618.5,51.1 620.2,50.5C622,49.9 626.1,50.4 628.2,49.5C630.4,48.6 631.6,47.1 633.2,45C634.9,42.9 636.4,39.1 638.2,37C640.1,34.9 642.4,33.3 644.2,32.5C646.1,31.7 648.1,31.1 649.2,32C650.4,32.9 650.6,35.3 651.2,38C651.8,40.7 652.7,45.3 652.7,48C652.7,50.7 653.1,52.6 651.2,54C649.3,55.4 645.1,56 641.2,56.5C637.4,57 631.7,57 628.2,57C624.7,57 622,57.2 620.2,56.5C618.5,55.8 617.7,54 617.7,53Z" fill="#2ccfd5" stroke="#2ccfd5" stroke-width="0.5"/>
<path d="M619.7,52.6C619.7,51.7 620.4,50.8 622,50.3C623.6,49.8 627.3,50.2 629.3,49.4C631.3,48.5 632.4,47.2 633.9,45.2C635.5,43.3 636.9,39.8 638.5,37.9C640.2,36 642.4,34.5 644.1,33.7C645.7,33 647.6,32.4 648.7,33.3C649.7,34.1 650,36.3 650.5,38.8C651,41.3 651.9,45.5 651.9,48C651.9,50.5 652.3,52.2 650.5,53.5C648.7,54.8 644.8,55.4 641.3,55.8C637.8,56.3 632.6,56.3 629.3,56.3C626.1,56.3 623.6,56.4 622,55.8C620.4,55.2 619.7,53.5 619.7,52.6Z" fill="#6fd9dd" stroke="#3fd2d8" stroke-width="0.4"/>
<path d="M624.1,51.7C624.1,51 624.6,50.3 625.9,49.9C627.2,49.4 630.3,49.8 631.9,49.1C633.5,48.4 634.3,47.3 635.6,45.8C636.8,44.2 637.9,41.4 639.3,39.9C640.6,38.3 642.3,37.1 643.7,36.5C645.1,35.9 646.5,35.5 647.4,36.2C648.3,36.8 648.4,38.6 648.9,40.6C649.3,42.6 650,46 650,48C650,50 650.3,51.4 648.9,52.4C647.5,53.5 644.3,53.9 641.5,54.3C638.6,54.7 634.5,54.7 631.9,54.7C629.3,54.7 627.2,54.8 625.9,54.3C624.6,53.8 624.1,52.4 624.1,51.7Z" fill="#9fe5e8" stroke="#3fd2d8" stroke-width="0.4"/>
<path d="M629,50.7C629,50.2 629.4,49.7 630.3,49.4C631.3,49 633.5,49.3 634.7,48.8C635.8,48.3 636.5,47.5 637.4,46.4C638.3,45.3 639.1,43.2 640.1,42.1C641.1,40.9 642.3,40.1 643.3,39.6C644.3,39.2 645.4,38.9 646,39.4C646.6,39.9 646.8,41.2 647.1,42.6C647.4,44 647.9,46.6 647.9,48C647.9,49.4 648.1,50.5 647.1,51.2C646,52 643.8,52.3 641.7,52.6C639.6,52.9 636.6,52.9 634.7,52.9C632.8,52.9 631.3,53 630.3,52.6C629.4,52.2 629,51.2 629,50.7Z" fill="#c8f0f1" stroke="#3fd2d8" stroke-width="0.4"/>
<path d="M634.1,49.6C634.1,49.3 634.4,49 635,48.8C635.5,48.6 636.9,48.8 637.6,48.5C638.3,48.2 638.7,47.7 639.2,47C639.8,46.3 640.3,45.1 640.9,44.4C641.5,43.7 642.3,43.2 642.9,42.9C643.5,42.6 644.1,42.4 644.5,42.7C644.9,43 645,43.8 645.2,44.7C645.4,45.6 645.7,47.1 645.7,48C645.7,48.9 645.8,49.5 645.2,50C644.6,50.4 643.2,50.6 641.9,50.8C640.6,51 638.8,51 637.6,51C636.4,51 635.5,51 635,50.8C634.4,50.6 634.1,50 634.1,49.6Z" fill="#e6f9fa" stroke="#3fd2d8" stroke-width="0.4"/>
<circle cx="638.9" cy="45.1" r="0.3" fill="#2ccfd5"/>
<circle cx="645.4" cy="27.7" r="0.3" fill="#2ccfd5"/>
<circle cx="654.6" cy="50.2" r="0.3" fill="#2ccfd5"/>
<circle cx="653.6" cy="50.7" r="0.3" fill="#2ccfd5"/>
<circle cx="633.8" cy="38.4" r="0.3" fill="#2ccfd5"/>
<circle cx="622" cy="45.7" r="0.3" fill="#2ccfd5"/>
<circle cx="620.3" cy="28.1" r="0.3" fill="#2ccfd5"/>
<rect x="596.2" y="13" width="60" height="59.5" fill="none" stroke="#8a8a8a" stroke-width="0.8"/>
<line x1="624.4" y1="13" x2="624.4" y2="72.5" stroke="#2a2a2a" stroke-width="0.8"/>
<line x1="596.2" y1="46.7" x2="656.2" y2="46.7" stroke="#2a2a2a" stroke-width="0.8"/>
<text x="597.8" y="20" font-size="4.4" font-weight="bold" fill="#000">0.037</text>
<text x="651.7" y="20" font-size="4.4" text-anchor="end" font-weight="bold" fill="#000">24.7</text>
<text x="597.8" y="68.4" font-size="4.4" font-weight="bold" fill="#000">3.11</text>
<text x="651.7" y="68.4" font-size="4.4" text-anchor="end" font-weight="bold" fill="#000">72.2</text>
<use href="#fax" x="596.2" y="13"/>
<path d="M60.5,128.5C60.5,127.2 61.3,125.7 62.5,125C63.7,124.3 65.5,124.5 67.5,124.5C69.5,124.5 72.3,124.7 74.5,125C76.7,125.3 78.9,125.9 80.5,126.5C82.1,127.1 84,127.8 84,128.5C84,129.2 82.1,129.8 80.5,130.5C78.9,131.2 76.7,132.1 74.5,132.5C72.3,132.9 69.5,132.9 67.5,132.9C65.5,132.9 63.7,133.2 62.5,132.5C61.3,131.8 60.5,129.8 60.5,128.5Z" fill="#3a3a3a" stroke="#3a3a3a" stroke-width="0.5"/>
<path d="M61.1,128.5C61.1,127.3 61.8,125.9 62.9,125.3C64,124.7 65.7,124.8 67.5,124.8C69.3,124.8 71.9,125 73.9,125.3C75.9,125.6 78,126.1 79.5,126.7C80.9,127.2 82.7,127.9 82.7,128.5C82.7,129.1 80.9,129.7 79.5,130.3C78,131 75.9,131.8 73.9,132.2C71.9,132.5 69.3,132.5 67.5,132.5C65.7,132.5 64,132.9 62.9,132.2C61.8,131.5 61.1,129.7 61.1,128.5Z" fill="#9a9a9a" stroke="#555555" stroke-width="0.4"/>
<path d="M62.3,128.5C62.3,127.6 62.9,126.4 63.8,125.9C64.7,125.4 66,125.5 67.5,125.5C69,125.5 71.1,125.7 72.7,125.9C74.3,126.2 75.9,126.6 77.1,127C78.3,127.5 79.7,128 79.7,128.5C79.7,129 78.3,129.5 77.1,130C75.9,130.5 74.3,131.2 72.7,131.5C71.1,131.8 69,131.8 67.5,131.8C66,131.8 64.7,132 63.8,131.5C62.9,130.9 62.3,129.4 62.3,128.5Z" fill="#bdbdbd" stroke="#555555" stroke-width="0.4"/>
<path d="M63.7,128.5C63.7,127.8 64.2,127 64.8,126.6C65.4,126.2 66.4,126.3 67.5,126.3C68.6,126.3 70.1,126.4 71.3,126.6C72.5,126.8 73.7,127.1 74.5,127.4C75.4,127.7 76.4,128.1 76.4,128.5C76.4,128.9 75.4,129.2 74.5,129.6C73.7,129.9 72.5,130.4 71.3,130.7C70.1,130.9 68.6,130.9 67.5,130.9C66.4,130.9 65.4,131.1 64.8,130.7C64.2,130.3 63.7,129.2 63.7,128.5Z" fill="#d8d8d8" stroke="#555555" stroke-width="0.4"/>
<path d="M65.2,128.5C65.2,128.1 65.5,127.6 65.8,127.3C66.2,127.1 66.8,127.2 67.5,127.2C68.2,127.2 69.1,127.2 69.8,127.3C70.5,127.5 71.3,127.6 71.8,127.8C72.3,128 72.9,128.3 72.9,128.5C72.9,128.7 72.3,128.9 71.8,129.2C71.3,129.4 70.5,129.7 69.8,129.8C69.1,130 68.2,130 67.5,130C66.8,130 66.2,130.1 65.8,129.8C65.5,129.6 65.2,128.9 65.2,128.5Z" fill="#eeeeee" stroke="#555555" stroke-width="0.4"/>
<circle cx="66.7" cy="120.8" r="0.3" fill="#3a3a3a"/>
<circle cx="70.5" cy="119.3" r="0.3" fill="#3a3a3a"/>
<circle cx="60.5" cy="120.7" r="0.3" fill="#3a3a3a"/>
<circle cx="63.5" cy="123.7" r="0.3" fill="#3a3a3a"/>
<circle cx="61.3" cy="131.1" r="0.3" fill="#3a3a3a"/>
<circle cx="78.6" cy="120.6" r="0.3" fill="#3a3a3a"/>
<circle cx="67.9" cy="123.5" r="0.3" fill="#3a3a3a"/>
<rect x="41.5" y="86.5" width="60" height="59.5" fill="none" stroke="#8a8a8a" stroke-width="0.8"/>
<line x1="69.7" y1="86.5" x2="69.7" y2="146" stroke="#2a2a2a" stroke-width="0.8"/>
<line x1="41.5" y1="123.6" x2="101.5" y2="123.6" stroke="#2a2a2a" stroke-width="0.8"/>
<text x="43.1" y="93.5" font-size="4.4" font-weight="bold" fill="#000">0.22</text>
<text x="97" y="93.5" font-size="4.4" text-anchor="end" font-weight="bold" fill="#000">0.047</text>
<text x="43.1" y="141.9" font-size="4.4" font-weight="bold" fill="#000">85.9</text>
<text x="97" y="141.9" font-size="4.4" text-anchor="end" font-weight="bold" fill="#000">9.89</text>
<use href="#fax" x="41.5" y="86.5"/>
<path d="M129.8,127.5C130.2,126.3 130.8,124.5 131.8,123.5C132.8,122.5 134.8,122.3 135.8,121.5C136.8,120.7 137,118.8 137.8,118.5C138.7,118.2 140.2,118.9 140.8,119.5C141.5,120.1 140.5,121.2 141.8,122C143.2,122.8 146.9,123.2 148.8,124C150.8,124.8 153.3,125.6 153.3,126.5C153.3,127.4 150.9,128.6 148.8,129.5C146.8,130.4 143.5,131.5 140.8,132C138.2,132.5 134.7,132.8 132.8,132.5C131,132.2 130.3,131.3 129.8,130.5C129.3,129.7 129.5,128.7 129.8,127.5Z" fill="#f47f1c" stroke="#f47f1c" stroke-width="0.5"/>
<path d="M130.5,127.5C130.8,126.4 131.4,124.7 132.3,123.8C133.2,122.9 135.1,122.7 136,122C136.9,121.2 137.1,119.5 137.8,119.2C138.6,118.9 140,119.6 140.6,120.1C141.2,120.7 140.3,121.8 141.5,122.4C142.7,123.1 146.2,123.6 148,124.3C149.7,125 152.1,125.7 152.1,126.6C152.1,127.4 149.9,128.5 148,129.3C146,130.2 143.1,131.2 140.6,131.6C138.1,132.1 134.9,132.3 133.2,132.1C131.6,131.9 130.9,131 130.5,130.3C130,129.5 130.2,128.6 130.5,127.5Z" fill="#f6a25e" stroke="#f58a2c" stroke-width="0.4"/>
<path d="M131.9,127.5C132.2,126.6 132.7,125.3 133.4,124.5C134.1,123.8 135.6,123.7 136.4,123.1C137.1,122.4 137.2,121.1 137.8,120.8C138.5,120.6 139.6,121.1 140.1,121.6C140.6,122 139.8,122.9 140.8,123.4C141.8,124 144.6,124.4 146,124.9C147.4,125.5 149.3,126.1 149.3,126.8C149.3,127.4 147.5,128.3 146,129C144.4,129.7 142,130.5 140.1,130.8C138.1,131.2 135.5,131.4 134.1,131.2C132.8,131 132.3,130.3 131.9,129.7C131.6,129.1 131.7,128.4 131.9,127.5Z" fill="#f9c08f" stroke="#f58a2c" stroke-width="0.4"/>
<path d="M133.5,127.5C133.7,126.9 134.1,125.9 134.6,125.3C135.1,124.8 136.2,124.7 136.8,124.3C137.3,123.8 137.4,122.8 137.8,122.6C138.3,122.5 139.1,122.9 139.5,123.2C139.8,123.5 139.3,124.1 140,124.5C140.7,124.9 142.7,125.2 143.8,125.6C144.8,126 146.2,126.5 146.2,127C146.2,127.5 144.9,128.1 143.8,128.6C142.7,129.1 140.9,129.7 139.5,129.9C138,130.2 136.1,130.3 135.1,130.2C134.2,130.1 133.8,129.6 133.5,129.1C133.2,128.7 133.3,128.1 133.5,127.5Z" fill="#fbd8ba" stroke="#f58a2c" stroke-width="0.4"/>
<path d="M135.2,127.5C135.3,127.1 135.5,126.5 135.9,126.2C136.2,125.9 136.9,125.8 137.2,125.5C137.5,125.2 137.6,124.6 137.8,124.5C138.1,124.4 138.6,124.7 138.8,124.9C139.1,125.1 138.7,125.4 139.2,125.7C139.6,125.9 140.8,126.1 141.5,126.3C142.1,126.6 143,126.9 143,127.2C143,127.5 142.2,127.9 141.5,128.2C140.8,128.5 139.7,128.8 138.8,129C138,129.2 136.8,129.2 136.2,129.2C135.6,129.1 135.4,128.8 135.2,128.5C135,128.2 135.1,127.9 135.2,127.5Z" fill="#fdece0" stroke="#f58a2c" stroke-width="0.4"/>
<circle cx="140.6" cy="115" r="0.3" fill="#f47f1c"/>
<circle cx="154.9" cy="132.4" r="0.3" fill="#f47f1c"/>
<circle cx="143.6" cy="122.2" r="0.3" fill="#f47f1c"/>
<circle cx="132.4" cy="114.5" r="0.3" fill="#f47f1c"/>
<circle cx="139.9" cy="117.8" r="0.3" fill="#f47f1c"/>
<circle cx="154.3" cy="115.7" r="0.3" fill="#f47f1c"/>
<circle cx="130.5" cy="131.5" r="0.3" fill="#f47f1c"/>
<rect x="110.8" y="86.5" width="60" height="59.5" fill="none" stroke="#8a8a8a" stroke-width="0.8"/>
<line x1="139" y1="86.5" x2="139" y2="146" stroke="#2a2a2a" stroke-width="0.8"/>
<line x1="110.8" y1="123.6" x2="170.8" y2="123.6" stroke="#2a2a2a" stroke-width="0.8"/>
<text x="112.4" y="93.5" font-size="4.4" font-weight="bold" fill="#000">1.69</text>
<text x="166.3" y="93.5" font-size="4.4" text-anchor="end" font-weight="bold" fill="#000">6.01</text>
<text x="112.4" y="141.9" font-size="4.4" font-weight="bold" fill="#000">82.8</text>
<text x="166.3" y="141.9" font-size="4.4" text-anchor="end" font-weight="bold" fill="#000">14.9</text>
<use href="#fax" x="110.8" y="86.5"/>
<path d="M199.2,127.5C199.5,126.3 200.7,124.8 202.2,124C203.7,123.2 205.2,122.8 208.2,122.5C211.2,122.2 217,122 220.2,122.2C223.3,122.4 225.8,122.9 227.2,123.5C228.5,124.1 228.8,125.1 228.2,126C227.5,126.9 225.7,128.1 223.2,129C220.7,129.9 216.3,130.9 213.2,131.5C210,132.1 206.3,132.6 204.2,132.5C202,132.4 201,131.8 200.2,131C199.3,130.2 198.8,128.7 199.2,127.5Z" fill="#f47f1c" stroke="#f47f1c" stroke-width="0.5"/>
<path d="M199.9,127.5C200.2,126.4 201.3,125 202.7,124.3C204,123.5 205.4,123.2 208.2,122.9C210.9,122.6 216.3,122.5 219.2,122.6C222.1,122.8 224.4,123.2 225.7,123.8C226.9,124.4 227.2,125.3 226.6,126.1C226,127 224.3,128 222,128.9C219.7,129.7 215.7,130.6 212.8,131.2C209.9,131.7 206.5,132.2 204.5,132.1C202.5,132 201.6,131.5 200.8,130.7C200.1,130 199.6,128.6 199.9,127.5Z" fill="#f6a25e" stroke="#f58a2c" stroke-width="0.4"/>
<path d="M201.5,127.5C201.8,126.6 202.6,125.5 203.7,124.9C204.9,124.3 206,124 208.2,123.8C210.4,123.6 214.7,123.5 217.1,123.6C219.4,123.7 221.3,124.1 222.2,124.5C223.2,125 223.5,125.7 223,126.4C222.5,127.1 221.1,127.9 219.3,128.6C217.4,129.3 214.2,130 211.9,130.5C209.5,130.9 206.8,131.3 205.2,131.2C203.6,131.1 202.9,130.7 202.3,130.1C201.6,129.5 201.3,128.4 201.5,127.5Z" fill="#f9c08f" stroke="#f58a2c" stroke-width="0.4"/>
<path d="M203.3,127.5C203.5,126.9 204.1,126.1 204.9,125.6C205.8,125.2 206.6,125 208.2,124.8C209.8,124.6 213,124.5 214.7,124.6C216.4,124.7 217.7,125 218.4,125.3C219.2,125.7 219.3,126.2 219,126.7C218.6,127.2 217.6,127.8 216.3,128.3C214.9,128.8 212.6,129.3 210.9,129.7C209.2,130 207.2,130.2 206,130.2C204.9,130.2 204.3,129.8 203.9,129.4C203.4,128.9 203.1,128.1 203.3,127.5Z" fill="#fbd8ba" stroke="#f58a2c" stroke-width="0.4"/>
<path d="M205.2,127.5C205.3,127.1 205.7,126.6 206.2,126.3C206.7,126.1 207.2,125.9 208.2,125.8C209.2,125.8 211.1,125.7 212.1,125.8C213.2,125.8 214,126 214.5,126.2C214.9,126.4 215,126.7 214.8,127C214.6,127.3 214,127.7 213.1,128C212.3,128.3 210.9,128.6 209.8,128.8C208.8,129 207.6,129.2 206.9,129.2C206.1,129.1 205.8,128.9 205.5,128.7C205.3,128.4 205.1,127.9 205.2,127.5Z" fill="#fdece0" stroke="#f58a2c" stroke-width="0.4"/>
<circle cx="217.7" cy="118.6" r="0.3" fill="#f47f1c"/>
<circle cx="218.2" cy="116.6" r="0.3" fill="#f47f1c"/>
<circle cx="217.7" cy="132.1" r="0.3" fill="#f47f1c"/>
<circle cx="229.4" cy="127.5" r="0.3" fill="#f47f1c"/>
<circle cx="208.3" cy="122.2" r="0.3" fill="#f47f1c"/>
<circle cx="205" cy="128.8" r="0.3" fill="#f47f1c"/>
<circle cx="217.8" cy="128.9" r="0.3" fill="#f47f1c"/>
<rect x="180.2" y="86.5" width="60" height="59.5" fill="none" stroke="#8a8a8a" stroke-width="0.8"/>
<line x1="208.4" y1="86.5" x2="208.4" y2="146" stroke="#2a2a2a" stroke-width="0.8"/>
<line x1="180.2" y1="123.6" x2="240.2" y2="123.6" stroke="#2a2a2a" stroke-width="0.8"/>
<text x="181.8" y="93.5" font-size="4.4" font-weight="bold" fill="#000">0.39</text>
<text x="235.7" y="93.5" font-size="4.4" text-anchor="end" font-weight="bold" fill="#000">0.67</text>
<text x="181.8" y="141.9" font-size="4.4" font-weight="bold" fill="#000">49.2</text>
<text x="235.7" y="141.9" font-size="4.4" text-anchor="end" font-weight="bold" fill="#000">49.7</text>
<use href="#fax" x="180.2" y="86.5"/>
<path d="M268,128.5C268.2,127.3 268.7,125.5 269.5,124.5C270.4,123.5 271.8,122.5 273,122.2C274.3,122 276.2,122.4 277,123C277.8,123.6 277.9,124.8 277.7,126C277.6,127.2 277.1,128.9 276,130C275,131.1 272.8,132.2 271.5,132.5C270.3,132.8 269.1,132.2 268.5,131.5C267.9,130.8 267.9,129.7 268,128.5Z" fill="#f47f1c" stroke="#f47f1c" stroke-width="0.5"/>
<path d="M268.4,128.4C268.5,127.3 269,125.7 269.8,124.7C270.5,123.8 271.8,122.9 273,122.6C274.1,122.4 275.9,122.8 276.7,123.4C277.4,123.9 277.5,125 277.3,126.1C277.2,127.2 276.7,128.8 275.7,129.8C274.8,130.8 272.8,131.9 271.6,132.1C270.5,132.3 269.4,131.8 268.8,131.2C268.3,130.6 268.2,129.5 268.4,128.4Z" fill="#f6a25e" stroke="#f58a2c" stroke-width="0.4"/>
<path d="M269.2,128.2C269.3,127.4 269.7,126.1 270.3,125.3C270.9,124.5 272,123.8 272.9,123.6C273.8,123.4 275.3,123.7 275.9,124.2C276.4,124.6 276.5,125.5 276.4,126.4C276.2,127.3 275.9,128.5 275.1,129.3C274.3,130.2 272.7,131 271.8,131.2C270.9,131.4 270,131 269.6,130.5C269.1,130 269.1,129.1 269.2,128.2Z" fill="#f9c08f" stroke="#f58a2c" stroke-width="0.4"/>
<path d="M270.1,128C270.2,127.4 270.5,126.4 270.9,125.9C271.4,125.3 272.1,124.8 272.8,124.6C273.5,124.5 274.5,124.7 274.9,125.1C275.4,125.4 275.4,126.1 275.3,126.7C275.2,127.3 275,128.3 274.4,128.8C273.9,129.4 272.7,130.1 272,130.2C271.3,130.3 270.7,130 270.4,129.7C270,129.3 270,128.7 270.1,128Z" fill="#fbd8ba" stroke="#f58a2c" stroke-width="0.4"/>
<path d="M271,127.8C271.1,127.4 271.3,126.9 271.5,126.5C271.8,126.2 272.3,125.8 272.7,125.8C273.1,125.7 273.7,125.8 274,126C274.3,126.2 274.3,126.6 274.2,127C274.2,127.4 274,128 273.7,128.3C273.3,128.7 272.6,129.1 272.2,129.2C271.8,129.2 271.4,129 271.2,128.8C271,128.6 271,128.2 271,127.8Z" fill="#fdece0" stroke="#f58a2c" stroke-width="0.4"/>
<circle cx="273.2" cy="119.8" r="0.3" fill="#f47f1c"/>
<circle cx="280.8" cy="132.3" r="0.3" fill="#f47f1c"/>
<circle cx="281.4" cy="129.3" r="0.3" fill="#f47f1c"/>
<circle cx="280.9" cy="128.3" r="0.3" fill="#f47f1c"/>
<circle cx="271.6" cy="124.6" r="0.3" fill="#f47f1c"/>
<circle cx="273.6" cy="116.7" r="0.3" fill="#f47f1c"/>
<circle cx="268.5" cy="120.8" r="0.3" fill="#f47f1c"/>
<rect x="249.5" y="86.5" width="60" height="59.5" fill="none" stroke="#8a8a8a" stroke-width="0.8"/>
<line x1="277.7" y1="86.5" x2="277.7" y2="146" stroke="#2a2a2a" stroke-width="0.8"/>
<line x1="249.5" y1="123.6" x2="309.5" y2="123.6" stroke="#2a2a2a" stroke-width="0.8"/>
<text x="251.1" y="93.5" font-size="4.4" font-weight="bold" fill="#000">0.79</text>
<text x="305" y="93.5" font-size="4.4" text-anchor="end" font-weight="bold" fill="#000">0.10</text>
<text x="251.1" y="141.9" font-size="4.4" font-weight="bold" fill="#000">98.5</text>
<text x="305" y="141.9" font-size="4.4" text-anchor="end" font-weight="bold" fill="#000">0.57</text>
<use href="#fax" x="249.5" y="86.5"/>
<path d="M337.4,128.5C337.6,127.4 338.3,125.8 339.9,125C341.4,124.2 344,124.2 346.9,124C349.7,123.8 354,123.8 356.9,124C359.8,124.2 363.4,124.8 364.3,125.5C365.1,126.2 363.8,127.5 361.9,128.5C360,129.5 356,130.8 352.9,131.5C349.7,132.2 345.3,132.5 342.9,132.5C340.4,132.5 339.3,132.2 338.4,131.5C337.4,130.8 337.1,129.6 337.4,128.5Z" fill="#f47f1c" stroke="#f47f1c" stroke-width="0.5"/>
<path d="M338.1,128.5C338.4,127.5 339,126 340.4,125.3C341.9,124.6 344.3,124.5 346.9,124.4C349.5,124.2 353.4,124.1 356.1,124.4C358.7,124.6 362.1,125.1 362.9,125.7C363.6,126.4 362.4,127.6 360.7,128.5C358.9,129.4 355.3,130.6 352.4,131.3C349.5,131.9 345.4,132.2 343.2,132.2C341,132.2 339.9,131.9 339,131.3C338.2,130.6 337.9,129.5 338.1,128.5Z" fill="#f6a25e" stroke="#f58a2c" stroke-width="0.4"/>
<path d="M339.8,128.5C340,127.7 340.5,126.5 341.7,125.9C342.9,125.4 344.8,125.3 346.9,125.2C349,125 352.1,125 354.3,125.2C356.4,125.4 359.1,125.7 359.7,126.3C360.4,126.8 359.4,127.8 358,128.5C356.6,129.2 353.6,130.2 351.3,130.7C349,131.2 345.7,131.5 343.9,131.5C342.1,131.5 341.2,131.2 340.6,130.7C339.9,130.2 339.6,129.3 339.8,128.5Z" fill="#f9c08f" stroke="#f58a2c" stroke-width="0.4"/>
<path d="M341.7,128.5C341.9,127.9 342.2,127 343.1,126.6C343.9,126.2 345.3,126.2 346.9,126.1C348.4,126 350.7,125.9 352.3,126.1C353.8,126.2 355.8,126.5 356.3,126.9C356.7,127.3 356,128 355,128.5C353.9,129 351.8,129.8 350.1,130.1C348.4,130.5 346,130.7 344.7,130.7C343.4,130.7 342.8,130.5 342.3,130.1C341.8,129.8 341.6,129.1 341.7,128.5Z" fill="#fbd8ba" stroke="#f58a2c" stroke-width="0.4"/>
<path d="M343.7,128.5C343.8,128.1 344,127.6 344.6,127.3C345.1,127.1 345.9,127.1 346.9,127C347.8,127 349.2,126.9 350.2,127C351.1,127.1 352.3,127.3 352.6,127.5C352.9,127.8 352.4,128.2 351.8,128.5C351.2,128.8 349.9,129.3 348.8,129.5C347.8,129.7 346.3,129.8 345.5,129.8C344.7,129.8 344.4,129.7 344.1,129.5C343.8,129.3 343.6,128.9 343.7,128.5Z" fill="#fdece0" stroke="#f58a2c" stroke-width="0.4"/>
<circle cx="345.9" cy="128" r="0.3" fill="#f47f1c"/>
<circle cx="368.8" cy="124.5" r="0.3" fill="#f47f1c"/>
<circle cx="368.2" cy="132.3" r="0.3" fill="#f47f1c"/>
<circle cx="368.8" cy="123.3" r="0.3" fill="#f47f1c"/>
<circle cx="344.6" cy="121.3" r="0.3" fill="#f47f1c"/>
<circle cx="343.8" cy="121" r="0.3" fill="#f47f1c"/>
<circle cx="357.9" cy="131.1" r="0.3" fill="#f47f1c"/>
<rect x="318.9" y="86.5" width="60" height="59.5" fill="none" stroke="#8a8a8a" stroke-width="0.8"/>
<line x1="347.1" y1="86.5" x2="347.1" y2="146" stroke="#2a2a2a" stroke-width="0.8"/>
<line x1="318.9" y1="123.6" x2="378.9" y2="123.6" stroke="#2a2a2a" stroke-width="0.8"/>
<text x="320.5" y="93.5" font-size="4.4" font-weight="bold" fill="#000">0.19</text>
<text x="374.4" y="93.5" font-size="4.4" text-anchor="end" font-weight="bold" fill="#000">0.25</text>
<text x="320.5" y="141.9" font-size="4.4" font-weight="bold" fill="#000">55.5</text>
<text x="374.4" y="141.9" font-size="4.4" text-anchor="end" font-weight="bold" fill="#000">44.0</text>
<use href="#fax" x="318.9" y="86.5"/>
<path d="M407.7,126.5C408,125 409.1,122.3 410.2,120.5C411.3,118.7 412.9,117.2 414.2,115.5C415.5,113.8 416.5,111.5 418.2,110.5C419.9,109.5 422.2,109.6 424.2,109.5C426.2,109.4 429,109.2 430.2,110C431.4,110.8 430.7,112.9 431.2,114.5C431.7,116.1 432.7,117.7 433.2,119.5C433.7,121.3 434.7,123.8 434.4,125.5C434.1,127.2 433.4,128.9 431.2,130C429,131.1 424.4,131.8 421.2,132C418,132.2 414.4,131.9 412.2,131.5C410,131.1 409,130.3 408.2,129.5C407.5,128.7 407.4,128 407.7,126.5Z" fill="#f47f1c" stroke="#f47f1c" stroke-width="0.5"/>
<path d="M408.5,126.3C408.8,125 409.8,122.5 410.8,120.8C411.8,119.1 413.3,117.8 414.5,116.2C415.7,114.7 416.7,112.5 418.2,111.6C419.7,110.7 421.9,110.8 423.7,110.7C425.6,110.6 428.2,110.4 429.2,111.2C430.3,111.9 429.7,113.8 430.2,115.3C430.6,116.8 431.5,118.2 432,119.9C432.5,121.6 433.4,123.8 433.1,125.4C432.8,127 432.2,128.6 430.2,129.6C428.1,130.6 423.9,131.2 421,131.4C418,131.6 414.7,131.3 412.7,130.9C410.7,130.6 409.7,129.9 409,129.1C408.3,128.3 408.2,127.7 408.5,126.3Z" fill="#f6a25e" stroke="#f58a2c" stroke-width="0.4"/>
<path d="M410.4,126C410.7,124.9 411.5,122.9 412.3,121.5C413.1,120.2 414.3,119.1 415.2,117.8C416.2,116.6 417,114.9 418.2,114.1C419.4,113.4 421.2,113.5 422.6,113.4C424.1,113.3 426.2,113.2 427.1,113.8C427.9,114.4 427.5,115.9 427.8,117.1C428.2,118.3 428.9,119.4 429.3,120.8C429.7,122.2 430.4,123.9 430.2,125.2C429.9,126.5 429.4,127.8 427.8,128.6C426.2,129.4 422.8,129.9 420.4,130.1C418.1,130.2 415.4,130 413.8,129.7C412.2,129.4 411.4,128.8 410.8,128.2C410.2,127.6 410.2,127.1 410.4,126Z" fill="#f9c08f" stroke="#f58a2c" stroke-width="0.4"/>
<path d="M412.5,125.6C412.7,124.8 413.3,123.3 413.9,122.3C414.5,121.4 415.3,120.5 416,119.6C416.8,118.7 417.3,117.5 418.2,116.9C419.1,116.4 420.4,116.4 421.4,116.4C422.5,116.4 424.1,116.2 424.7,116.7C425.3,117.1 425,118.2 425.2,119.1C425.5,120 426,120.8 426.3,121.8C426.6,122.8 427.1,124.1 426.9,125C426.8,126 426.4,126.9 425.2,127.5C424,128.1 421.5,128.4 419.8,128.6C418.1,128.7 416.1,128.5 415,128.3C413.8,128.1 413.2,127.7 412.8,127.2C412.4,126.8 412.4,126.4 412.5,125.6Z" fill="#fbd8ba" stroke="#f58a2c" stroke-width="0.4"/>
<path d="M414.7,125.2C414.8,124.7 415.2,123.8 415.6,123.2C415.9,122.6 416.4,122.1 416.9,121.5C417.3,121 417.7,120.2 418.2,119.9C418.8,119.5 419.5,119.6 420.2,119.5C420.8,119.5 421.8,119.4 422.2,119.7C422.5,120 422.3,120.7 422.5,121.2C422.7,121.7 423,122.2 423.2,122.8C423.3,123.5 423.7,124.3 423.5,124.8C423.4,125.4 423.2,126 422.5,126.3C421.8,126.7 420.2,126.9 419.2,127C418.1,127.1 416.9,126.9 416.2,126.8C415.5,126.7 415.1,126.4 414.9,126.2C414.7,125.9 414.6,125.7 414.7,125.2Z" fill="#fdece0" stroke="#f58a2c" stroke-width="0.4"/>
<circle cx="435.2" cy="117.2" r="0.3" fill="#f47f1c"/>
<circle cx="429.1" cy="126.3" r="0.3" fill="#f47f1c"/>
<circle cx="410.5" cy="122.3" r="0.3" fill="#f47f1c"/>
<circle cx="437.4" cy="125.8" r="0.3" fill="#f47f1c"/>
<circle cx="432.2" cy="117.1" r="0.3" fill="#f47f1c"/>
<circle cx="413.5" cy="126" r="0.3" fill="#f47f1c"/>
<circle cx="418.6" cy="126.3" r="0.3" fill="#f47f1c"/>
<rect x="388.2" y="86.5" width="60" height="59.5" fill="none" stroke="#8a8a8a" stroke-width="0.8"/>
<line x1="416.4" y1="86.5" x2="416.4" y2="146" stroke="#2a2a2a" stroke-width="0.8"/>
<line x1="388.2" y1="120.5" x2="448.2" y2="120.5" stroke="#2a2a2a" stroke-width="0.8"/>
<text x="389.8" y="93.5" font-size="4.4" font-weight="bold" fill="#000">2.46</text>
<text x="443.7" y="93.5" font-size="4.4" text-anchor="end" font-weight="bold" fill="#000">10.3</text>
<text x="389.8" y="141.9" font-size="4.4" font-weight="bold" fill="#000">44.5</text>
<text x="443.7" y="141.9" font-size="4.4" text-anchor="end" font-weight="bold" fill="#000">42.8</text>
<use href="#fax" x="388.2" y="86.5"/>
<path d="M475.5,127.5C475.8,126 476.6,123.5 477.5,121.5C478.5,119.5 480,117.1 481,115.5C482,113.9 482.8,112.5 483.5,112C484.3,111.5 485,111.6 485.5,112.5C486,113.4 486.1,115.8 486.5,117.5C486.9,119.2 487.9,120.8 487.9,122.5C487.9,124.2 487.4,126 486.5,127.5C485.6,129 483.9,130.7 482.5,131.5C481.2,132.3 479.7,132.7 478.5,132.5C477.4,132.3 476.2,131.3 475.7,130.5C475.2,129.7 475.2,129 475.5,127.5Z" fill="#f47f1c" stroke="#f47f1c" stroke-width="0.5"/>
<path d="M476,127.4C476.3,126 477,123.7 477.9,121.9C478.7,120.1 480.2,117.8 481.1,116.4C482,114.9 482.7,113.6 483.4,113.2C484.1,112.7 484.8,112.8 485.2,113.6C485.7,114.5 485.8,116.7 486.1,118.2C486.5,119.8 487.4,121.3 487.4,122.8C487.4,124.4 487,126 486.1,127.4C485.3,128.8 483.7,130.3 482.5,131.1C481.2,131.9 479.8,132.2 478.8,132C477.7,131.9 476.7,130.9 476.2,130.2C475.7,129.4 475.7,128.8 476,127.4Z" fill="#f6a25e" stroke="#f58a2c" stroke-width="0.4"/>
<path d="M477.1,127.2C477.3,126.1 477.9,124.3 478.6,122.8C479.3,121.3 480.4,119.5 481.2,118.4C481.9,117.2 482.5,116.1 483,115.8C483.6,115.4 484.1,115.5 484.5,116.1C484.9,116.8 484.9,118.6 485.2,119.8C485.5,121.1 486.3,122.3 486.3,123.5C486.3,124.8 485.9,126.1 485.2,127.2C484.6,128.4 483.3,129.6 482.3,130.2C481.3,130.8 480.2,131.1 479.3,130.9C478.5,130.8 477.6,130.1 477.2,129.5C476.9,128.8 476.9,128.4 477.1,127.2Z" fill="#f9c08f" stroke="#f58a2c" stroke-width="0.4"/>
<path d="M478.3,127C478.5,126.2 478.9,124.9 479.4,123.8C479.9,122.7 480.7,121.4 481.3,120.6C481.8,119.7 482.2,118.9 482.6,118.7C483,118.4 483.4,118.4 483.7,118.9C484,119.4 484,120.7 484.2,121.6C484.5,122.5 485,123.4 485,124.3C485,125.2 484.7,126.2 484.2,127C483.8,127.8 482.8,128.8 482.1,129.2C481.4,129.6 480.5,129.8 479.9,129.7C479.3,129.7 478.7,129.1 478.4,128.7C478.1,128.2 478.1,127.8 478.3,127Z" fill="#fbd8ba" stroke="#f58a2c" stroke-width="0.4"/>
<path d="M479.6,126.8C479.7,126.3 479.9,125.5 480.2,124.8C480.5,124.2 481,123.4 481.4,122.9C481.7,122.3 482,121.9 482.2,121.7C482.4,121.5 482.7,121.6 482.9,121.9C483,122.2 483.1,123 483.2,123.5C483.3,124.1 483.7,124.6 483.7,125.2C483.7,125.7 483.5,126.3 483.2,126.8C482.9,127.3 482.3,127.9 481.9,128.2C481.4,128.4 480.9,128.5 480.6,128.5C480.2,128.4 479.8,128.1 479.6,127.8C479.5,127.5 479.5,127.3 479.6,126.8Z" fill="#fdece0" stroke="#f58a2c" stroke-width="0.4"/>
<circle cx="493.4" cy="116.5" r="0.3" fill="#f47f1c"/>
<circle cx="482.9" cy="131.1" r="0.3" fill="#f47f1c"/>
<circle cx="488.9" cy="110.5" r="0.3" fill="#f47f1c"/>
<circle cx="477.9" cy="110" r="0.3" fill="#f47f1c"/>
<circle cx="492.2" cy="127.4" r="0.3" fill="#f47f1c"/>
<circle cx="478.2" cy="127.9" r="0.3" fill="#f47f1c"/>
<circle cx="493.6" cy="123.4" r="0.3" fill="#f47f1c"/>
<rect x="457.5" y="86.5" width="60" height="59.5" fill="none" stroke="#8a8a8a" stroke-width="0.8"/>
<line x1="485.7" y1="86.5" x2="485.7" y2="146" stroke="#2a2a2a" stroke-width="0.8"/>
<line x1="457.5" y1="123.6" x2="517.5" y2="123.6" stroke="#2a2a2a" stroke-width="0.8"/>
<text x="459.1" y="93.5" font-size="4.4" font-weight="bold" fill="#000">19.7</text>
<text x="513" y="93.5" font-size="4.4" text-anchor="end" font-weight="bold" fill="#000">0.75</text>
<text x="459.1" y="141.9" font-size="4.4" font-weight="bold" fill="#000">67.9</text>
<text x="513" y="141.9" font-size="4.4" text-anchor="end" font-weight="bold" fill="#000">0.70</text>
<use href="#fax" x="457.5" y="86.5"/>
<path d="M545.4,128.5C545.6,127.3 546.5,125.5 547.9,124.5C549.3,123.5 552.6,124.2 553.9,122.5C555.1,120.8 554.7,117.2 555.4,114.5C556,111.8 556.6,108.7 557.9,106.5C559.1,104.3 560.7,102.6 562.9,101.5C565,100.4 568.4,99.9 570.9,99.9C573.4,99.9 576.5,100.1 577.9,101.5C579.2,102.9 578.9,106 578.9,108.5C578.9,111 578.1,113.8 577.9,116.5C577.7,119.2 578.4,122.3 577.6,124.5C576.7,126.7 575.3,128.2 572.9,129.5C570.4,130.8 566.4,131.5 562.9,132C559.4,132.5 554.6,132.6 551.9,132.5C549.1,132.4 547.5,132.2 546.4,131.5C545.3,130.8 545.1,129.7 545.4,128.5Z" fill="#f47f1c" stroke="#f47f1c" stroke-width="0.5"/>
<path d="M547.1,127.1C547.3,126 548.1,124.3 549.4,123.4C550.7,122.5 553.8,123.1 554.9,121.5C556.1,120 555.7,116.6 556.3,114.2C556.9,111.7 557.5,108.8 558.6,106.8C559.8,104.8 561.2,103.2 563.2,102.2C565.2,101.2 568.3,100.7 570.6,100.7C572.9,100.7 575.8,100.9 577,102.2C578.2,103.5 577.9,106.4 577.9,108.7C577.9,111 577.2,113.6 577,116C576.8,118.5 577.5,121.4 576.7,123.4C576,125.4 574.7,126.8 572.4,128C570.1,129.1 566.4,129.8 563.2,130.3C560,130.7 555.6,130.8 553.1,130.7C550.6,130.7 549,130.4 548,129.8C547,129.2 546.9,128.1 547.1,127.1Z" fill="#f6a25e" stroke="#f58a2c" stroke-width="0.4"/>
<path d="M551,123.8C551.2,123 551.8,121.6 552.8,120.9C553.9,120.1 556.3,120.6 557.3,119.4C558.2,118.1 557.9,115.4 558.4,113.5C558.9,111.5 559.3,109.1 560.2,107.5C561.1,105.9 562.3,104.7 563.9,103.8C565.5,103 568,102.7 569.8,102.7C571.7,102.7 574,102.8 575,103.8C576,104.9 575.8,107.2 575.8,109C575.8,110.9 575.2,113 575,114.9C574.9,116.9 575.4,119.3 574.8,120.9C574.2,122.5 573.1,123.6 571.3,124.6C569.5,125.5 566.5,126 563.9,126.4C561.3,126.8 557.8,126.8 555.8,126.8C553.7,126.7 552.5,126.5 551.7,126C550.9,125.5 550.8,124.7 551,123.8Z" fill="#f9c08f" stroke="#f58a2c" stroke-width="0.4"/>
<path d="M555.3,120.2C555.4,119.6 555.9,118.6 556.6,118.1C557.4,117.5 559.2,117.9 559.9,117C560.5,116.1 560.3,114.1 560.7,112.7C561,111.2 561.3,109.5 562,108.3C562.7,107.2 563.6,106.2 564.7,105.6C565.9,105 567.7,104.8 569,104.8C570.4,104.8 572.1,104.9 572.8,105.6C573.5,106.4 573.4,108.1 573.4,109.4C573.4,110.8 572.9,112.3 572.8,113.7C572.7,115.2 573.1,116.9 572.7,118.1C572.2,119.2 571.4,120.1 570.1,120.8C568.8,121.4 566.6,121.8 564.7,122.1C562.8,122.4 560.3,122.4 558.8,122.4C557.3,122.3 556.4,122.2 555.8,121.8C555.2,121.5 555.1,120.8 555.3,120.2Z" fill="#fbd8ba" stroke="#f58a2c" stroke-width="0.4"/>
<path d="M559.8,116.4C559.9,116.1 560.1,115.5 560.6,115.1C561.1,114.8 562.2,115 562.6,114.5C563,113.9 562.9,112.7 563.1,111.8C563.3,110.9 563.5,109.9 563.9,109.2C564.3,108.5 564.8,107.9 565.6,107.5C566.3,107.2 567.4,107 568.2,107C569,107 570.1,107.1 570.5,107.5C571,108 570.8,109 570.8,109.8C570.8,110.7 570.6,111.6 570.5,112.5C570.4,113.4 570.7,114.4 570.4,115.1C570.1,115.8 569.7,116.4 568.9,116.8C568.1,117.2 566.7,117.4 565.6,117.6C564.4,117.8 562.8,117.8 561.9,117.8C561,117.7 560.5,117.7 560.1,117.4C559.8,117.2 559.7,116.8 559.8,116.4Z" fill="#fdece0" stroke="#f58a2c" stroke-width="0.4"/>
<circle cx="559.2" cy="115.1" r="0.3" fill="#f47f1c"/>
<circle cx="550.6" cy="94.4" r="0.3" fill="#f47f1c"/>
<circle cx="583.7" cy="119" r="0.3" fill="#f47f1c"/>
<circle cx="566.2" cy="129.9" r="0.3" fill="#f47f1c"/>
<circle cx="562.5" cy="127.5" r="0.3" fill="#f47f1c"/>
<circle cx="578" cy="102" r="0.3" fill="#f47f1c"/>
<circle cx="555.3" cy="105.2" r="0.3" fill="#f47f1c"/>
<rect x="526.9" y="86.5" width="60" height="59.5" fill="none" stroke="#8a8a8a" stroke-width="0.8"/>
<line x1="555.1" y1="86.5" x2="555.1" y2="146" stroke="#2a2a2a" stroke-width="0.8"/>
<line x1="526.9" y1="119.4" x2="586.9" y2="119.4" stroke="#2a2a2a" stroke-width="0.8"/>
<text x="528.5" y="93.5" font-size="4.4" font-weight="bold" fill="#000">0.43</text>
<text x="582.4" y="93.5" font-size="4.4" text-anchor="end" font-weight="bold" fill="#000">32.6</text>
<text x="528.5" y="141.9" font-size="4.4" font-weight="bold" fill="#000">33.3</text>
<text x="582.4" y="141.9" font-size="4.4" text-anchor="end" font-weight="bold" fill="#000">33.6</text>
<use href="#fax" x="526.9" y="86.5"/>
<path d="M616.2,127.5C616.6,126.2 617.6,124.3 619.2,123.5C620.9,122.7 624.1,123 626.2,122.5C628.4,122 630.6,121.5 632.2,120.5C633.9,119.5 634.7,117.9 636.2,116.5C637.7,115.1 639.8,113 641.2,112C642.6,111 643.8,110.1 644.7,110.5C645.6,110.9 646.1,112.7 646.7,114.5C647.4,116.3 648.2,119.5 648.7,121.5C649.2,123.5 650.1,125 649.7,126.5C649.3,128 648.5,129.6 646.2,130.5C644,131.4 639.9,131.8 636.2,132.1C632.6,132.4 627.4,132.3 624.2,132.1C621.1,131.9 618.6,131.8 617.2,131C615.9,130.2 615.9,128.8 616.2,127.5Z" fill="#f47f1c" stroke="#f47f1c" stroke-width="0.5"/>
<path d="M617.7,127.5C618,126.3 618.9,124.6 620.4,123.8C622,123.1 624.9,123.4 626.9,122.9C628.9,122.4 630.8,122 632.4,121.1C633.9,120.1 634.7,118.7 636.1,117.4C637.4,116.1 639.4,114.2 640.7,113.2C642,112.3 643,111.5 643.9,111.9C644.7,112.2 645.1,113.9 645.7,115.5C646.3,117.2 647.1,120.1 647.6,122C648,123.8 648.9,125.2 648.5,126.6C648.1,128 647.3,129.4 645.3,130.3C643.2,131.1 639.4,131.5 636.1,131.7C632.7,132 627.9,131.9 625,131.7C622.1,131.6 619.8,131.4 618.6,130.7C617.4,130 617.4,128.7 617.7,127.5Z" fill="#f6a25e" stroke="#f58a2c" stroke-width="0.4"/>
<path d="M620.9,127.5C621.1,126.6 621.9,125.2 623.1,124.5C624.4,123.9 626.7,124.2 628.3,123.8C629.9,123.4 631.5,123.1 632.7,122.3C634,121.6 634.6,120.4 635.7,119.4C636.8,118.3 638.4,116.8 639.4,116C640.4,115.3 641.3,114.6 642,114.9C642.7,115.2 643,116.5 643.5,117.9C644,119.2 644.6,121.6 645,123.1C645.3,124.5 646,125.6 645.7,126.8C645.4,127.9 644.8,129 643.1,129.7C641.4,130.4 638.4,130.7 635.7,130.9C633,131.1 629.2,131 626.8,130.9C624.5,130.8 622.6,130.7 621.6,130.1C620.7,129.5 620.7,128.4 620.9,127.5Z" fill="#f9c08f" stroke="#f58a2c" stroke-width="0.4"/>
<path d="M624.5,127.5C624.7,126.8 625.2,125.8 626.1,125.3C627,124.9 628.7,125.1 629.9,124.8C631.1,124.5 632.2,124.3 633.1,123.7C634,123.2 634.5,122.3 635.3,121.6C636.1,120.8 637.2,119.7 638,119.1C638.8,118.6 639.4,118.1 639.9,118.3C640.4,118.5 640.6,119.5 641,120.5C641.3,121.5 641.8,123.2 642.1,124.3C642.3,125.3 642.8,126.2 642.6,127C642.4,127.8 641.9,128.6 640.7,129.1C639.5,129.6 637.3,129.8 635.3,130C633.3,130.1 630.5,130.1 628.8,130C627.1,129.9 625.8,129.8 625,129.4C624.3,129 624.3,128.2 624.5,127.5Z" fill="#fbd8ba" stroke="#f58a2c" stroke-width="0.4"/>
<path d="M628.3,127.5C628.4,127.1 628.7,126.5 629.3,126.2C629.8,125.9 630.9,126 631.6,125.8C632.3,125.7 633,125.5 633.6,125.2C634.1,124.9 634.4,124.3 634.9,123.9C635.4,123.4 636.1,122.7 636.5,122.4C637,122.1 637.4,121.8 637.7,121.9C638,122 638.1,122.6 638.3,123.2C638.6,123.8 638.8,124.9 639,125.5C639.2,126.2 639.5,126.7 639.3,127.2C639.2,127.7 638.9,128.2 638.2,128.5C637.4,128.8 636.1,128.9 634.9,129C633.7,129.1 632,129.1 630.9,129C629.9,129 629.1,128.9 628.6,128.7C628.2,128.4 628.2,127.9 628.3,127.5Z" fill="#fdece0" stroke="#f58a2c" stroke-width="0.4"/>
<circle cx="625.7" cy="120.7" r="0.3" fill="#f47f1c"/>
<circle cx="626.5" cy="116.1" r="0.3" fill="#f47f1c"/>
<circle cx="621.4" cy="129.6" r="0.3" fill="#f47f1c"/>
<circle cx="630.2" cy="117.1" r="0.3" fill="#f47f1c"/>
<circle cx="639.3" cy="129.5" r="0.3" fill="#f47f1c"/>
<circle cx="632.8" cy="129.8" r="0.3" fill="#f47f1c"/>
<circle cx="636" cy="119.2" r="0.3" fill="#f47f1c"/>
<rect x="596.2" y="86.5" width="60" height="59.5" fill="none" stroke="#8a8a8a" stroke-width="0.8"/>
<line x1="624.4" y1="86.5" x2="624.4" y2="146" stroke="#2a2a2a" stroke-width="0.8"/>
<line x1="596.2" y1="120.5" x2="656.2" y2="120.5" stroke="#2a2a2a" stroke-width="0.8"/>
<text x="597.8" y="93.5" font-size="4.4" font-weight="bold" fill="#000">0.055</text>
<text x="651.7" y="93.5" font-size="4.4" text-anchor="end" font-weight="bold" fill="#000">5.53</text>
<text x="597.8" y="141.9" font-size="4.4" font-weight="bold" fill="#000">0.89</text>
<text x="651.7" y="141.9" font-size="4.4" text-anchor="end" font-weight="bold" fill="#000">93.7</text>
<use href="#fax" x="596.2" y="86.5"/>
<text x="70.3" y="8.7" font-size="9.3" text-anchor="middle" font-weight="bold" fill="#111" textLength="39.7" lengthAdjust="spacingAndGlyphs">Medium</text>
<text x="139.6" y="8.7" font-size="9.3" text-anchor="middle" font-weight="bold" fill="#111" textLength="21.5" lengthAdjust="spacingAndGlyphs">IL-12</text>
<text x="209" y="8.7" font-size="9.3" text-anchor="middle" font-weight="bold" fill="#111" textLength="21.5" lengthAdjust="spacingAndGlyphs">IL-15</text>
<text x="278.3" y="8.7" font-size="9.3" text-anchor="middle" font-weight="bold" fill="#111" textLength="16.5" lengthAdjust="spacingAndGlyphs">IL-2</text>
<text x="347.7" y="8.7" font-size="9.3" text-anchor="middle" font-weight="bold" fill="#111" textLength="21.5" lengthAdjust="spacingAndGlyphs">IL-18</text>
<text x="417" y="8.7" font-size="9.3" text-anchor="middle" font-weight="bold" fill="#111" textLength="52.1" lengthAdjust="spacingAndGlyphs">IL-12+IL-15</text>
<text x="486.3" y="8.7" font-size="9.3" text-anchor="middle" font-weight="bold" fill="#111" textLength="44.5" lengthAdjust="spacingAndGlyphs">IL-12+IL-2</text>
<text x="555.7" y="8.7" font-size="9.3" text-anchor="middle" font-weight="bold" fill="#111" textLength="52" lengthAdjust="spacingAndGlyphs">IL-12+IL-18</text>
<text x="625" y="8.7" font-size="9.3" text-anchor="middle" font-weight="bold" fill="#111" textLength="51.2" lengthAdjust="spacingAndGlyphs">IL-15+IL-18</text>
<text x="16.3" y="44.5" font-size="11" text-anchor="middle" font-weight="bold" fill="#29abd4" transform="rotate(-90 16.3 44.5)">- IL-35</text>
<text x="16.3" y="120" font-size="11" text-anchor="middle" font-weight="bold" fill="#f7901e" transform="rotate(-90 16.3 120)">+ IL-35</text>
<text x="33" y="103.5" font-size="11" text-anchor="middle" fill="#111" transform="rotate(-90 33 103.5)">IFN-&#947;</text>
<line x1="27" y1="148" x2="27" y2="127" stroke="#111" stroke-width="1.3"/>
<path d="M24.2,128 L27,121.5 L29.8,128 Z" fill="#111" stroke="none" stroke-width="1"/>
<line x1="34.5" y1="158" x2="55" y2="158" stroke="#111" stroke-width="1.3"/>
<path d="M54,155.2 L60.5,158 L54,160.8 Z" fill="#111" stroke="none" stroke-width="1"/>
<text x="65" y="161.6" font-size="10" fill="#111">CD25</text>
<line x1="45.2" y1="275.8" x2="45.2" y2="175.5" stroke="#111" stroke-width="0.9"/>
<line x1="43" y1="275.4" x2="45.2" y2="275.4" stroke="#111" stroke-width="0.7"/>
<text x="40.8" y="278.3" font-size="8" text-anchor="end" fill="#111">0</text>
<line x1="43.9" y1="265.4" x2="45.2" y2="265.4" stroke="#111" stroke-width="0.5"/>
<line x1="43" y1="255.4" x2="45.2" y2="255.4" stroke="#111" stroke-width="0.7"/>
<text x="40.8" y="258.3" font-size="8" text-anchor="end" fill="#111">20</text>
<line x1="43.9" y1="245.4" x2="45.2" y2="245.4" stroke="#111" stroke-width="0.5"/>
<line x1="43" y1="235.4" x2="45.2" y2="235.4" stroke="#111" stroke-width="0.7"/>
<text x="40.8" y="238.3" font-size="8" text-anchor="end" fill="#111">40</text>
<line x1="43.9" y1="225.4" x2="45.2" y2="225.4" stroke="#111" stroke-width="0.5"/>
<line x1="43" y1="215.5" x2="45.2" y2="215.5" stroke="#111" stroke-width="0.7"/>
<text x="40.8" y="218.3" font-size="8" text-anchor="end" fill="#111">60</text>
<line x1="43.9" y1="205.5" x2="45.2" y2="205.5" stroke="#111" stroke-width="0.5"/>
<line x1="43" y1="195.5" x2="45.2" y2="195.5" stroke="#111" stroke-width="0.7"/>
<text x="40.8" y="198.4" font-size="8" text-anchor="end" fill="#111">80</text>
<line x1="43.9" y1="185.5" x2="45.2" y2="185.5" stroke="#111" stroke-width="0.5"/>
<line x1="43" y1="175.5" x2="45.2" y2="175.5" stroke="#111" stroke-width="0.7"/>
<text x="40.8" y="178.4" font-size="8" text-anchor="end" fill="#111">100</text>
<line x1="45.2" y1="275.4" x2="303" y2="275.4" stroke="#111" stroke-width="1"/>
<text x="21.8" y="228" font-size="9" text-anchor="middle" font-weight="bold" fill="#111" transform="rotate(-90 21.8 228)">% CD25<tspan font-size="5.8" dy="-3.2">+</tspan><tspan dy="3.2"> IFN-&#947;</tspan><tspan font-size="5.8" dy="-3.2">+</tspan><tspan dy="3.2"> NK cells</tspan></text>
<line x1="72.6" y1="176" x2="72.6" y2="275.4" stroke="#bbb" stroke-width="0.5" stroke-dasharray="0.8,1.4"/>
<line x1="101.7" y1="176" x2="101.7" y2="275.4" stroke="#bbb" stroke-width="0.5" stroke-dasharray="0.8,1.4"/>
<line x1="130.7" y1="176" x2="130.7" y2="275.4" stroke="#bbb" stroke-width="0.5" stroke-dasharray="0.8,1.4"/>
<line x1="159.8" y1="176" x2="159.8" y2="275.4" stroke="#bbb" stroke-width="0.5" stroke-dasharray="0.8,1.4"/>
<line x1="188.8" y1="176" x2="188.8" y2="275.4" stroke="#bbb" stroke-width="0.5" stroke-dasharray="0.8,1.4"/>
<line x1="217.8" y1="176" x2="217.8" y2="275.4" stroke="#bbb" stroke-width="0.5" stroke-dasharray="0.8,1.4"/>
<line x1="246.9" y1="176" x2="246.9" y2="275.4" stroke="#bbb" stroke-width="0.5" stroke-dasharray="0.8,1.4"/>
<line x1="275.9" y1="176" x2="275.9" y2="275.4" stroke="#bbb" stroke-width="0.5" stroke-dasharray="0.8,1.4"/>
<line x1="52.1" y1="275.4" x2="63.8" y2="275.4" stroke="#777" stroke-width="0.4" stroke-dasharray="0.8,0.8"/>
<line x1="52.1" y1="275.4" x2="63.8" y2="275.4" stroke="#777" stroke-width="0.4" stroke-dasharray="0.8,0.8"/>
<line x1="52.1" y1="275.4" x2="63.8" y2="275.4" stroke="#777" stroke-width="0.4" stroke-dasharray="0.8,0.8"/>
<circle cx="52.1" cy="275.4" r="1.2" fill="#000"/>
<circle cx="52.1" cy="275.4" r="1.2" fill="#000"/>
<circle cx="52.1" cy="275.4" r="1.2" fill="#000"/>
<circle cx="63.8" cy="275.4" r="1.2" fill="#000"/>
<circle cx="63.8" cy="275.4" r="1.2" fill="#000"/>
<circle cx="63.8" cy="275.4" r="1.2" fill="#000"/>
<path d="M47.1,282.6 L47.1,286 L69.1,286 L69.1,282.6" fill="none" stroke="#222" stroke-width="0.8"/>
<line x1="52.1" y1="275.4" x2="52.1" y2="277.6" stroke="#111" stroke-width="0.6"/>
<line x1="63.8" y1="275.4" x2="63.8" y2="277.6" stroke="#111" stroke-width="0.6"/>
<text x="64.6" y="293.2" font-size="8.2" text-anchor="end" fill="#111" transform="rotate(-40 64.6 293.2)">Medium</text>
<rect x="76.2" y="271.4" width="9.8" height="4" fill="#12acd6" stroke="#111" stroke-width="0.6"/>
<rect x="88.2" y="274.4" width="9.4" height="1" fill="#fba142" stroke="#111" stroke-width="0.6"/>
<line x1="81.2" y1="268.4" x2="92.9" y2="273.4" stroke="#777" stroke-width="0.4" stroke-dasharray="0.8,0.8"/>
<line x1="81.2" y1="271.4" x2="92.9" y2="274.4" stroke="#777" stroke-width="0.4" stroke-dasharray="0.8,0.8"/>
<line x1="81.2" y1="273.4" x2="92.9" y2="274.9" stroke="#777" stroke-width="0.4" stroke-dasharray="0.8,0.8"/>
<circle cx="81.2" cy="268.4" r="1.2" fill="#000"/>
<circle cx="81.2" cy="271.4" r="1.2" fill="#000"/>
<circle cx="81.2" cy="273.4" r="1.2" fill="#000"/>
<circle cx="81.2" cy="274.4" r="1.2" fill="#000"/>
<circle cx="92.9" cy="273.4" r="1.2" fill="#000"/>
<circle cx="92.9" cy="274.4" r="1.2" fill="#000"/>
<circle cx="92.9" cy="274.9" r="1.2" fill="#000"/>
<path d="M76.2,282.6 L76.2,286 L98.2,286 L98.2,282.6" fill="none" stroke="#222" stroke-width="0.8"/>
<line x1="81.2" y1="275.4" x2="81.2" y2="277.6" stroke="#111" stroke-width="0.6"/>
<line x1="92.9" y1="275.4" x2="92.9" y2="277.6" stroke="#111" stroke-width="0.6"/>
<text x="87.2" y="174.8" font-size="7.6" text-anchor="middle" fill="#222">0.0966</text>
<line x1="76.7" y1="177.4" x2="97.7" y2="177.4" stroke="#222" stroke-width="1.4"/>
<text x="93.7" y="293.2" font-size="8.2" text-anchor="end" fill="#111" transform="rotate(-40 93.7 293.2)">IL-12</text>
<rect x="105.3" y="271.4" width="9.8" height="4" fill="#12acd6" stroke="#111" stroke-width="0.6"/>
<rect x="117.2" y="272.4" width="9.4" height="3" fill="#fba142" stroke="#111" stroke-width="0.6"/>
<line x1="110.2" y1="265.4" x2="121.9" y2="268.4" stroke="#777" stroke-width="0.4" stroke-dasharray="0.8,0.8"/>
<line x1="110.2" y1="271.4" x2="121.9" y2="272.4" stroke="#777" stroke-width="0.4" stroke-dasharray="0.8,0.8"/>
<line x1="110.2" y1="272.4" x2="121.9" y2="274.4" stroke="#777" stroke-width="0.4" stroke-dasharray="0.8,0.8"/>
<circle cx="110.2" cy="265.4" r="1.2" fill="#000"/>
<circle cx="110.2" cy="271.4" r="1.2" fill="#000"/>
<circle cx="110.2" cy="272.4" r="1.2" fill="#000"/>
<circle cx="121.9" cy="268.4" r="1.2" fill="#000"/>
<circle cx="121.9" cy="272.4" r="1.2" fill="#000"/>
<circle cx="121.9" cy="274.4" r="1.2" fill="#000"/>
<path d="M105.2,282.6 L105.2,286 L127.2,286 L127.2,282.6" fill="none" stroke="#222" stroke-width="0.8"/>
<line x1="110.2" y1="275.4" x2="110.2" y2="277.6" stroke="#111" stroke-width="0.6"/>
<line x1="121.9" y1="275.4" x2="121.9" y2="277.6" stroke="#111" stroke-width="0.6"/>
<text x="116.2" y="174.8" font-size="7.6" text-anchor="middle" fill="#222">0.0617</text>
<line x1="105.7" y1="177.4" x2="126.7" y2="177.4" stroke="#222" stroke-width="1.4"/>
<text x="122.7" y="293.2" font-size="8.2" text-anchor="end" fill="#111" transform="rotate(-40 122.7 293.2)">IL-15</text>
<rect x="134.3" y="274.4" width="9.8" height="1" fill="#12acd6" stroke="#111" stroke-width="0.6"/>
<line x1="139.2" y1="272.4" x2="150.9" y2="274.9" stroke="#777" stroke-width="0.4" stroke-dasharray="0.8,0.8"/>
<line x1="139.2" y1="274.4" x2="150.9" y2="275.2" stroke="#777" stroke-width="0.4" stroke-dasharray="0.8,0.8"/>
<circle cx="139.2" cy="272.4" r="1.2" fill="#000"/>
<circle cx="139.2" cy="274.4" r="1.2" fill="#000"/>
<circle cx="139.2" cy="274.9" r="1.2" fill="#000"/>
<circle cx="150.9" cy="274.9" r="1.2" fill="#000"/>
<circle cx="150.9" cy="275.2" r="1.2" fill="#000"/>
<path d="M134.2,282.6 L134.2,286 L156.2,286 L156.2,282.6" fill="none" stroke="#222" stroke-width="0.8"/>
<line x1="139.2" y1="275.4" x2="139.2" y2="277.6" stroke="#111" stroke-width="0.6"/>
<line x1="150.9" y1="275.4" x2="150.9" y2="277.6" stroke="#111" stroke-width="0.6"/>
<text x="151.8" y="293.2" font-size="8.2" text-anchor="end" fill="#111" transform="rotate(-40 151.8 293.2)">IL-2</text>
<rect x="163.4" y="274.9" width="9.8" height="0.5" fill="#12acd6" stroke="#111" stroke-width="0.6"/>
<rect x="175.3" y="274.9" width="9.4" height="0.5" fill="#fba142" stroke="#111" stroke-width="0.6"/>
<line x1="168.3" y1="273.9" x2="180" y2="274.4" stroke="#777" stroke-width="0.4" stroke-dasharray="0.8,0.8"/>
<line x1="168.3" y1="274.9" x2="180" y2="274.9" stroke="#777" stroke-width="0.4" stroke-dasharray="0.8,0.8"/>
<circle cx="168.3" cy="273.9" r="1.2" fill="#000"/>
<circle cx="168.3" cy="274.9" r="1.2" fill="#000"/>
<circle cx="168.3" cy="275.4" r="1.2" fill="#000"/>
<circle cx="180" cy="274.4" r="1.2" fill="#000"/>
<circle cx="180" cy="274.9" r="1.2" fill="#000"/>
<path d="M163.3,282.6 L163.3,286 L185.3,286 L185.3,282.6" fill="none" stroke="#222" stroke-width="0.8"/>
<line x1="168.3" y1="275.4" x2="168.3" y2="277.6" stroke="#111" stroke-width="0.6"/>
<line x1="180" y1="275.4" x2="180" y2="277.6" stroke="#111" stroke-width="0.6"/>
<text x="180.8" y="293.2" font-size="8.2" text-anchor="end" fill="#111" transform="rotate(-40 180.8 293.2)">IL-18</text>
<rect x="192.4" y="266.4" width="9.8" height="9" fill="#12acd6" stroke="#111" stroke-width="0.6"/>
<rect x="204.3" y="271.4" width="9.4" height="4" fill="#fba142" stroke="#111" stroke-width="0.6"/>
<line x1="197.3" y1="254.4" x2="209" y2="263.4" stroke="#777" stroke-width="0.4" stroke-dasharray="0.8,0.8"/>
<line x1="197.3" y1="267.4" x2="209" y2="270.4" stroke="#777" stroke-width="0.4" stroke-dasharray="0.8,0.8"/>
<line x1="197.3" y1="272.4" x2="209" y2="273.4" stroke="#777" stroke-width="0.4" stroke-dasharray="0.8,0.8"/>
<line x1="197.3" y1="273.4" x2="209" y2="274.4" stroke="#777" stroke-width="0.4" stroke-dasharray="0.8,0.8"/>
<circle cx="197.3" cy="254.4" r="1.2" fill="#000"/>
<circle cx="197.3" cy="267.4" r="1.2" fill="#000"/>
<circle cx="197.3" cy="272.4" r="1.2" fill="#000"/>
<circle cx="197.3" cy="273.4" r="1.2" fill="#000"/>
<circle cx="209" cy="263.4" r="1.2" fill="#000"/>
<circle cx="209" cy="270.4" r="1.2" fill="#000"/>
<circle cx="209" cy="273.4" r="1.2" fill="#000"/>
<circle cx="209" cy="274.4" r="1.2" fill="#000"/>
<line x1="209" y1="265.4" x2="209" y2="275.4" stroke="#111" stroke-width="0.7"/>
<line x1="206.8" y1="265.4" x2="211.2" y2="265.4" stroke="#111" stroke-width="0.7"/>
<path d="M192.3,282.6 L192.3,286 L214.3,286 L214.3,282.6" fill="none" stroke="#222" stroke-width="0.8"/>
<line x1="197.3" y1="275.4" x2="197.3" y2="277.6" stroke="#111" stroke-width="0.6"/>
<line x1="209" y1="275.4" x2="209" y2="277.6" stroke="#111" stroke-width="0.6"/>
<text x="203.3" y="174.8" font-size="7.6" text-anchor="middle" fill="#222">0.0897</text>
<line x1="192.8" y1="177.4" x2="213.8" y2="177.4" stroke="#222" stroke-width="1.4"/>
<text x="209.8" y="293.2" font-size="8.2" text-anchor="end" fill="#111" transform="rotate(-40 209.8 293.2)">IL-12+IL-2</text>
<rect x="221.5" y="242.4" width="9.8" height="33" fill="#12acd6" stroke="#111" stroke-width="0.6"/>
<rect x="233.4" y="262.4" width="9.4" height="13" fill="#fba142" stroke="#111" stroke-width="0.6"/>
<line x1="226.4" y1="232.4" x2="238.1" y2="255.4" stroke="#777" stroke-width="0.4" stroke-dasharray="0.8,0.8"/>
<line x1="226.4" y1="240.4" x2="238.1" y2="260.4" stroke="#777" stroke-width="0.4" stroke-dasharray="0.8,0.8"/>
<line x1="226.4" y1="247.4" x2="238.1" y2="265.4" stroke="#777" stroke-width="0.4" stroke-dasharray="0.8,0.8"/>
<circle cx="226.4" cy="232.4" r="1.2" fill="#000"/>
<circle cx="226.4" cy="240.4" r="1.2" fill="#000"/>
<circle cx="226.4" cy="247.4" r="1.2" fill="#000"/>
<circle cx="238.1" cy="255.4" r="1.2" fill="#000"/>
<circle cx="238.1" cy="260.4" r="1.2" fill="#000"/>
<circle cx="238.1" cy="265.4" r="1.2" fill="#000"/>
<circle cx="238.1" cy="270.4" r="1.2" fill="#000"/>
<line x1="238.1" y1="255.4" x2="238.1" y2="269.4" stroke="#111" stroke-width="0.7"/>
<line x1="235.9" y1="255.4" x2="240.3" y2="255.4" stroke="#111" stroke-width="0.7"/>
<path d="M221.4,282.6 L221.4,286 L243.4,286 L243.4,282.6" fill="none" stroke="#222" stroke-width="0.8"/>
<line x1="226.4" y1="275.4" x2="226.4" y2="277.6" stroke="#111" stroke-width="0.6"/>
<line x1="238.1" y1="275.4" x2="238.1" y2="277.6" stroke="#111" stroke-width="0.6"/>
<text x="232.4" y="174.8" font-size="7.6" text-anchor="middle" fill="#222">0.0215</text>
<line x1="221.9" y1="177.4" x2="242.9" y2="177.4" stroke="#222" stroke-width="1.4"/>
<text x="238.9" y="293.2" font-size="8.2" text-anchor="end" fill="#111" transform="rotate(-40 238.9 293.2)">IL-12+IL-15</text>
<rect x="250.5" y="249.4" width="9.8" height="26" fill="#12acd6" stroke="#111" stroke-width="0.6"/>
<rect x="262.4" y="265.9" width="9.4" height="9.5" fill="#fba142" stroke="#111" stroke-width="0.6"/>
<line x1="255.4" y1="238.4" x2="267.1" y2="261.4" stroke="#777" stroke-width="0.4" stroke-dasharray="0.8,0.8"/>
<line x1="255.4" y1="248.4" x2="267.1" y2="265.4" stroke="#777" stroke-width="0.4" stroke-dasharray="0.8,0.8"/>
<line x1="255.4" y1="250.4" x2="267.1" y2="268.4" stroke="#777" stroke-width="0.4" stroke-dasharray="0.8,0.8"/>
<circle cx="255.4" cy="238.4" r="1.2" fill="#000"/>
<circle cx="255.4" cy="248.4" r="1.2" fill="#000"/>
<circle cx="255.4" cy="250.4" r="1.2" fill="#000"/>
<circle cx="267.1" cy="261.4" r="1.2" fill="#000"/>
<circle cx="267.1" cy="265.4" r="1.2" fill="#000"/>
<circle cx="267.1" cy="268.4" r="1.2" fill="#000"/>
<circle cx="267.1" cy="269.4" r="1.2" fill="#000"/>
<line x1="267.1" y1="261.4" x2="267.1" y2="270.4" stroke="#111" stroke-width="0.7"/>
<line x1="264.9" y1="261.4" x2="269.3" y2="261.4" stroke="#111" stroke-width="0.7"/>
<path d="M250.4,282.6 L250.4,286 L272.4,286 L272.4,282.6" fill="none" stroke="#222" stroke-width="0.8"/>
<line x1="255.4" y1="275.4" x2="255.4" y2="277.6" stroke="#111" stroke-width="0.6"/>
<line x1="267.1" y1="275.4" x2="267.1" y2="277.6" stroke="#111" stroke-width="0.6"/>
<text x="261.4" y="174.8" font-size="7.6" text-anchor="middle" fill="#222">0.0398</text>
<line x1="250.9" y1="177.4" x2="271.9" y2="177.4" stroke="#222" stroke-width="1.4"/>
<text x="267.9" y="293.2" font-size="8.2" text-anchor="end" fill="#111" transform="rotate(-40 267.9 293.2)">IL-15+IL-18</text>
<rect x="279.6" y="201" width="9.8" height="74.4" fill="#12acd6" stroke="#111" stroke-width="0.6"/>
<rect x="291.5" y="234.4" width="9.4" height="41" fill="#fba142" stroke="#111" stroke-width="0.6"/>
<line x1="284.5" y1="189.5" x2="296.2" y2="218.5" stroke="#777" stroke-width="0.4" stroke-dasharray="0.8,0.8"/>
<line x1="284.5" y1="198.5" x2="296.2" y2="231.4" stroke="#777" stroke-width="0.4" stroke-dasharray="0.8,0.8"/>
<line x1="284.5" y1="203.5" x2="296.2" y2="240.4" stroke="#777" stroke-width="0.4" stroke-dasharray="0.8,0.8"/>
<line x1="284.5" y1="205.5" x2="296.2" y2="243.4" stroke="#777" stroke-width="0.4" stroke-dasharray="0.8,0.8"/>
<circle cx="284.5" cy="189.5" r="1.2" fill="#000"/>
<circle cx="284.5" cy="198.5" r="1.2" fill="#000"/>
<circle cx="284.5" cy="203.5" r="1.2" fill="#000"/>
<circle cx="284.5" cy="205.5" r="1.2" fill="#000"/>
<circle cx="296.2" cy="218.5" r="1.2" fill="#000"/>
<circle cx="296.2" cy="231.4" r="1.2" fill="#000"/>
<circle cx="296.2" cy="240.4" r="1.2" fill="#000"/>
<circle cx="296.2" cy="243.4" r="1.2" fill="#000"/>
<line x1="296.2" y1="221.5" x2="296.2" y2="244.4" stroke="#111" stroke-width="0.7"/>
<line x1="294" y1="221.5" x2="298.4" y2="221.5" stroke="#111" stroke-width="0.7"/>
<path d="M279.5,282.6 L279.5,286 L301.5,286 L301.5,282.6" fill="none" stroke="#222" stroke-width="0.8"/>
<line x1="284.5" y1="275.4" x2="284.5" y2="277.6" stroke="#111" stroke-width="0.6"/>
<line x1="296.2" y1="275.4" x2="296.2" y2="277.6" stroke="#111" stroke-width="0.6"/>
<text x="290.5" y="174.8" font-size="7.6" text-anchor="middle" fill="#222">0.0052</text>
<line x1="280" y1="177.4" x2="301" y2="177.4" stroke="#222" stroke-width="1.4"/>
<text x="297" y="293.2" font-size="8.2" text-anchor="end" fill="#111" transform="rotate(-40 297 293.2)">IL-12+IL-18</text>
<rect x="305.8" y="216" width="6.6" height="7.3" fill="#12acd6" stroke="#111" stroke-width="0.6"/>
<rect x="305.8" y="228" width="6.6" height="7.3" fill="#fba142" stroke="#111" stroke-width="0.6"/>
<text x="315" y="222.6" font-size="8.2" fill="#111">- IL-35</text>
<text x="315" y="234.6" font-size="8.2" fill="#111">+ IL-35</text>
<text x="3" y="334" font-size="12.5" font-weight="bold" fill="#000">b</text>
<path d="M58.5,375.2 L58.5,375.2 L59.5,375.2 L60.5,375.2 L61.5,375.2 L62.5,375.2 L63.5,375.2 L64.5,375.2 L65.5,375.2 L66.5,375.2 L67.5,375.2 L68.5,375.2 L69.5,375.1 L70.5,373.4 L71.5,363.9 L72.5,354.2 L73.5,363.9 L74.5,373.4 L75.5,375.1 L76.5,375.2 L77.5,375.2 L78.5,375.2 L79.5,375.2 L80.5,375.2 L81.5,375.2 L82.5,375.2 L83.5,375.2 L84.5,375.2 L85.5,375.2 L86.5,375.2 L87.5,375.2 L88.5,375.2 L89.5,375.2 L90.5,375.2 L91.5,375.2 L92.5,375.2 L93.5,375.2 L94.5,375.2 L95.5,375.2 L96.5,375.2 L97.5,375.2 L98.5,375.2 L99.5,375.2 L100.5,375.2 L101.5,375.2 L102.5,375.2 L103.5,375.2 L104.5,375.2 L105.5,375.2 L106.5,375.2 L107.5,375.2 L108.5,375.2 L109.5,375.2 L110.5,375.2 L111.5,375.2 L112.5,375.2 L113.5,375.2 L114.5,375.2 L115.5,375.2 L115.5,375.2 Z" fill="#6e6e6e" stroke="none" stroke-width="1" fill-opacity="0.85"/>
<path d="M58.5,375.2 L59.5,375.2 L60.5,375.2 L61.5,375.2 L62.5,375.2 L63.5,375.2 L64.5,375.2 L65.5,375.2 L66.5,375.2 L67.5,375.2 L68.5,375.2 L69.5,375.1 L70.5,373.4 L71.5,363.9 L72.5,354.2 L73.5,363.9 L74.5,373.4 L75.5,375.1 L76.5,375.2 L77.5,375.2 L78.5,375.2 L79.5,375.2 L80.5,375.2 L81.5,375.2 L82.5,375.2 L83.5,375.2 L84.5,375.2 L85.5,375.2 L86.5,375.2 L87.5,375.2 L88.5,375.2 L89.5,375.2 L90.5,375.2 L91.5,375.2 L92.5,375.2 L93.5,375.2 L94.5,375.2 L95.5,375.2 L96.5,375.2 L97.5,375.2 L98.5,375.2 L99.5,375.2 L100.5,375.2 L101.5,375.2 L102.5,375.2 L103.5,375.2 L104.5,375.2 L105.5,375.2 L106.5,375.2 L107.5,375.2 L108.5,375.2 L109.5,375.2 L110.5,375.2 L111.5,375.2 L112.5,375.2 L113.5,375.2 L114.5,375.2 L115.5,375.2" fill="none" stroke="#333" stroke-width="0.7"/>
<line x1="58.5" y1="375.2" x2="115.5" y2="375.2" stroke="#999" stroke-width="0.6"/>
<path d="M58.5,386.4 L58.5,386.4 L59.5,386.4 L60.5,386.4 L61.5,386.4 L62.5,386.4 L63.5,386.4 L64.5,386.4 L65.5,386.4 L66.5,386.4 L67.5,386.4 L68.5,386.4 L69.5,386.4 L70.5,385.6 L71.5,381 L72.5,376.4 L73.5,381 L74.5,385.6 L75.5,386.4 L76.5,386.4 L77.5,386.4 L78.5,386.4 L79.5,386.4 L80.5,386.4 L81.5,386.4 L82.5,386.4 L83.5,386.4 L84.5,386.4 L85.5,386.4 L86.5,386.4 L87.5,386.4 L88.5,386.4 L89.5,386.4 L90.5,386.4 L91.5,386.4 L92.5,386.4 L93.5,386.4 L94.5,386.4 L95.5,386.4 L96.5,386.4 L97.5,386.4 L98.5,386.4 L99.5,386.4 L100.5,386.4 L101.5,386.4 L102.5,386.4 L103.5,386.4 L104.5,386.4 L105.5,386.4 L106.5,386.4 L107.5,386.4 L108.5,386.4 L109.5,386.4 L110.5,386.4 L111.5,386.4 L112.5,386.4 L113.5,386.4 L114.5,386.4 L115.5,386.4 L115.5,386.4 Z" fill="#cfcfcf" stroke="none" stroke-width="1" fill-opacity="0.9"/>
<path d="M58.5,386.4 L59.5,386.4 L60.5,386.4 L61.5,386.4 L62.5,386.4 L63.5,386.4 L64.5,386.4 L65.5,386.4 L66.5,386.4 L67.5,386.4 L68.5,386.4 L69.5,386.4 L70.5,385.6 L71.5,381 L72.5,376.4 L73.5,381 L74.5,385.6 L75.5,386.4 L76.5,386.4 L77.5,386.4 L78.5,386.4 L79.5,386.4 L80.5,386.4 L81.5,386.4 L82.5,386.4 L83.5,386.4 L84.5,386.4 L85.5,386.4 L86.5,386.4 L87.5,386.4 L88.5,386.4 L89.5,386.4 L90.5,386.4 L91.5,386.4 L92.5,386.4 L93.5,386.4 L94.5,386.4 L95.5,386.4 L96.5,386.4 L97.5,386.4 L98.5,386.4 L99.5,386.4 L100.5,386.4 L101.5,386.4 L102.5,386.4 L103.5,386.4 L104.5,386.4 L105.5,386.4 L106.5,386.4 L107.5,386.4 L108.5,386.4 L109.5,386.4 L110.5,386.4 L111.5,386.4 L112.5,386.4 L113.5,386.4 L114.5,386.4 L115.5,386.4" fill="none" stroke="#8a8a8a" stroke-width="0.6"/>
<line x1="58.5" y1="386.4" x2="115.5" y2="386.4" stroke="#999" stroke-width="0.6"/>
<path d="M58.5,397.3 L58.5,397.3 L59.5,397.3 L60.5,397.3 L61.5,397.3 L62.5,397.3 L63.5,397.3 L64.5,397.3 L65.5,397.3 L66.5,397.3 L67.5,397.3 L68.5,397.3 L69.5,397.3 L70.5,397.3 L71.5,397.2 L72.5,397 L73.5,396.7 L74.5,396 L75.5,395.2 L76.5,394.4 L77.5,393.7 L78.5,393 L79.5,392.3 L80.5,391.6 L81.5,391.2 L82.5,391.3 L83.5,391.7 L84.5,392.2 L85.5,392.7 L86.5,392.9 L87.5,392.9 L88.5,392.7 L89.5,392.5 L90.5,392.2 L91.5,391.9 L92.5,391.7 L93.5,391.5 L94.5,391.2 L95.5,390.7 L96.5,390 L97.5,389 L98.5,387.6 L99.5,385.7 L100.5,383.4 L101.5,381.2 L102.5,379.5 L103.5,378.8 L104.5,379.6 L105.5,381.6 L106.5,384.6 L107.5,387.9 L108.5,390.9 L109.5,393.3 L110.5,395.1 L111.5,396.1 L112.5,396.7 L113.5,397.1 L114.5,397.2 L115.5,397.3 L115.5,397.3 Z" fill="#36cfd6" stroke="none" stroke-width="1" fill-opacity="0.5"/>
<path d="M58.5,397.3 L59.5,397.3 L60.5,397.3 L61.5,397.3 L62.5,397.3 L63.5,397.3 L64.5,397.3 L65.5,397.3 L66.5,397.3 L67.5,397.3 L68.5,397.3 L69.5,397.3 L70.5,397.3 L71.5,397.2 L72.5,397 L73.5,396.7 L74.5,396 L75.5,395.2 L76.5,394.4 L77.5,393.7 L78.5,393 L79.5,392.3 L80.5,391.6 L81.5,391.2 L82.5,391.3 L83.5,391.7 L84.5,392.2 L85.5,392.7 L86.5,392.9 L87.5,392.9 L88.5,392.7 L89.5,392.5 L90.5,392.2 L91.5,391.9 L92.5,391.7 L93.5,391.5 L94.5,391.2 L95.5,390.7 L96.5,390 L97.5,389 L98.5,387.6 L99.5,385.7 L100.5,383.4 L101.5,381.2 L102.5,379.5 L103.5,378.8 L104.5,379.6 L105.5,381.6 L106.5,384.6 L107.5,387.9 L108.5,390.9 L109.5,393.3 L110.5,395.1 L111.5,396.1 L112.5,396.7 L113.5,397.1 L114.5,397.2 L115.5,397.3" fill="none" stroke="#28cdd4" stroke-width="0.9"/>
<line x1="58.5" y1="397.3" x2="115.5" y2="397.3" stroke="#35cfd6" stroke-width="0.8"/>
<path d="M58.5,408.2 L58.5,408.2 L59.5,408.2 L60.5,408.2 L61.5,408.2 L62.5,408.2 L63.5,408.2 L64.5,408.2 L65.5,408.2 L66.5,408.2 L67.5,408.2 L68.5,408.2 L69.5,408.1 L70.5,407.9 L71.5,407.1 L72.5,403.1 L73.5,393.8 L74.5,386 L75.5,389 L76.5,396.6 L77.5,400.3 L78.5,401.5 L79.5,402.6 L80.5,403.8 L81.5,404.8 L82.5,405.4 L83.5,405.7 L84.5,405.7 L85.5,405.7 L86.5,405.6 L87.5,405.5 L88.5,405.5 L89.5,405.4 L90.5,405.4 L91.5,405.3 L92.5,405.2 L93.5,405 L94.5,404.8 L95.5,404.4 L96.5,404 L97.5,403.6 L98.5,403.3 L99.5,403.1 L100.5,403.2 L101.5,403.5 L102.5,404 L103.5,404.7 L104.5,405.4 L105.5,406.1 L106.5,406.7 L107.5,407.2 L108.5,407.6 L109.5,407.8 L110.5,408 L111.5,408.1 L112.5,408.1 L113.5,408.2 L114.5,408.2 L115.5,408.2 L115.5,408.2 Z" fill="#f6a25f" stroke="none" stroke-width="1" fill-opacity="0.65"/>
<path d="M58.5,408.2 L59.5,408.2 L60.5,408.2 L61.5,408.2 L62.5,408.2 L63.5,408.2 L64.5,408.2 L65.5,408.2 L66.5,408.2 L67.5,408.2 L68.5,408.2 L69.5,408.1 L70.5,407.9 L71.5,407.1 L72.5,403.1 L73.5,393.8 L74.5,386 L75.5,389 L76.5,396.6 L77.5,400.3 L78.5,401.5 L79.5,402.6 L80.5,403.8 L81.5,404.8 L82.5,405.4 L83.5,405.7 L84.5,405.7 L85.5,405.7 L86.5,405.6 L87.5,405.5 L88.5,405.5 L89.5,405.4 L90.5,405.4 L91.5,405.3 L92.5,405.2 L93.5,405 L94.5,404.8 L95.5,404.4 L96.5,404 L97.5,403.6 L98.5,403.3 L99.5,403.1 L100.5,403.2 L101.5,403.5 L102.5,404 L103.5,404.7 L104.5,405.4 L105.5,406.1 L106.5,406.7 L107.5,407.2 L108.5,407.6 L109.5,407.8 L110.5,408 L111.5,408.1 L112.5,408.1 L113.5,408.2 L114.5,408.2 L115.5,408.2" fill="none" stroke="#f47f1c" stroke-width="0.9"/>
<rect x="58.5" y="352.2" width="57" height="56" fill="none" stroke="#8a8a8a" stroke-width="0.9"/>
<line x1="58.5" y1="408.2" x2="115.5" y2="408.2" stroke="#f47f1c" stroke-width="0.9"/>
<line x1="61.5" y1="408.2" x2="61.5" y2="409.7" stroke="#666" stroke-width="0.4"/>
<text x="60.5" y="413.2" font-size="2.4" fill="#777">10</text>
<line x1="74" y1="408.2" x2="74" y2="409.7" stroke="#666" stroke-width="0.4"/>
<text x="73" y="413.2" font-size="2.4" fill="#777">10</text>
<line x1="86.5" y1="408.2" x2="86.5" y2="409.7" stroke="#666" stroke-width="0.4"/>
<text x="85.5" y="413.2" font-size="2.4" fill="#777">10</text>
<line x1="99" y1="408.2" x2="99" y2="409.7" stroke="#666" stroke-width="0.4"/>
<text x="98" y="413.2" font-size="2.4" fill="#777">10</text>
<line x1="111.5" y1="408.2" x2="111.5" y2="409.7" stroke="#666" stroke-width="0.4"/>
<text x="110.5" y="413.2" font-size="2.4" fill="#777">10</text>
<rect x="71.5" y="408" width="2.4" height="1.4" fill="#111" stroke="none" stroke-width="1"/>
<text x="88.8" y="346.4" font-size="9.9" text-anchor="middle" font-weight="bold" fill="#111">IFN-&#947;</text>
<path d="M116.3,375.2 L116.3,375.2 L117.3,375.2 L118.3,375.2 L119.3,375.2 L120.3,375.2 L121.3,375.2 L122.3,375.2 L123.3,375.2 L124.3,375.2 L125.3,375.2 L126.3,375.2 L127.3,375.2 L128.3,375.2 L129.3,375.2 L130.3,375.2 L131.3,375.2 L132.3,375.2 L133.3,375.2 L134.3,375.1 L135.3,373.4 L136.3,363.9 L137.3,354.2 L138.3,363.9 L139.3,373.4 L140.3,375.1 L141.3,375.2 L142.3,375.2 L143.3,375.2 L144.3,375.2 L145.3,375.2 L146.3,375.2 L147.3,375.2 L148.3,375.2 L149.3,375.2 L150.3,375.2 L151.3,375.2 L152.3,375.2 L153.3,375.2 L154.3,375.2 L155.3,375.2 L156.3,375.2 L157.3,375.2 L158.3,375.2 L159.3,375.2 L160.3,375.2 L161.3,375.2 L162.3,375.2 L163.3,375.2 L164.3,375.2 L165.3,375.2 L166.3,375.2 L167.3,375.2 L168.3,375.2 L169.3,375.2 L170.3,375.2 L171.3,375.2 L172.3,375.2 L173.3,375.2 L173.3,375.2 Z" fill="#6e6e6e" stroke="none" stroke-width="1" fill-opacity="0.85"/>
<path d="M116.3,375.2 L117.3,375.2 L118.3,375.2 L119.3,375.2 L120.3,375.2 L121.3,375.2 L122.3,375.2 L123.3,375.2 L124.3,375.2 L125.3,375.2 L126.3,375.2 L127.3,375.2 L128.3,375.2 L129.3,375.2 L130.3,375.2 L131.3,375.2 L132.3,375.2 L133.3,375.2 L134.3,375.1 L135.3,373.4 L136.3,363.9 L137.3,354.2 L138.3,363.9 L139.3,373.4 L140.3,375.1 L141.3,375.2 L142.3,375.2 L143.3,375.2 L144.3,375.2 L145.3,375.2 L146.3,375.2 L147.3,375.2 L148.3,375.2 L149.3,375.2 L150.3,375.2 L151.3,375.2 L152.3,375.2 L153.3,375.2 L154.3,375.2 L155.3,375.2 L156.3,375.2 L157.3,375.2 L158.3,375.2 L159.3,375.2 L160.3,375.2 L161.3,375.2 L162.3,375.2 L163.3,375.2 L164.3,375.2 L165.3,375.2 L166.3,375.2 L167.3,375.2 L168.3,375.2 L169.3,375.2 L170.3,375.2 L171.3,375.2 L172.3,375.2 L173.3,375.2" fill="none" stroke="#333" stroke-width="0.7"/>
<line x1="116.3" y1="375.2" x2="173.3" y2="375.2" stroke="#999" stroke-width="0.6"/>
<path d="M116.3,386.4 L116.3,386.4 L117.3,386.4 L118.3,386.4 L119.3,386.4 L120.3,386.4 L121.3,386.4 L122.3,386.4 L123.3,386.4 L124.3,386.4 L125.3,386.4 L126.3,386.4 L127.3,386.4 L128.3,386.4 L129.3,386.4 L130.3,386.4 L131.3,386.4 L132.3,386.4 L133.3,386.4 L134.3,386.4 L135.3,385.6 L136.3,381 L137.3,376.4 L138.3,381 L139.3,385.6 L140.3,386.4 L141.3,386.4 L142.3,386.4 L143.3,386.4 L144.3,386.4 L145.3,386.4 L146.3,386.4 L147.3,386.4 L148.3,386.4 L149.3,386.4 L150.3,386.4 L151.3,386.4 L152.3,386.4 L153.3,386.4 L154.3,386.4 L155.3,386.4 L156.3,386.4 L157.3,386.4 L158.3,386.4 L159.3,386.4 L160.3,386.4 L161.3,386.4 L162.3,386.4 L163.3,386.4 L164.3,386.4 L165.3,386.4 L166.3,386.4 L167.3,386.4 L168.3,386.4 L169.3,386.4 L170.3,386.4 L171.3,386.4 L172.3,386.4 L173.3,386.4 L173.3,386.4 Z" fill="#cfcfcf" stroke="none" stroke-width="1" fill-opacity="0.9"/>
<path d="M116.3,386.4 L117.3,386.4 L118.3,386.4 L119.3,386.4 L120.3,386.4 L121.3,386.4 L122.3,386.4 L123.3,386.4 L124.3,386.4 L125.3,386.4 L126.3,386.4 L127.3,386.4 L128.3,386.4 L129.3,386.4 L130.3,386.4 L131.3,386.4 L132.3,386.4 L133.3,386.4 L134.3,386.4 L135.3,385.6 L136.3,381 L137.3,376.4 L138.3,381 L139.3,385.6 L140.3,386.4 L141.3,386.4 L142.3,386.4 L143.3,386.4 L144.3,386.4 L145.3,386.4 L146.3,386.4 L147.3,386.4 L148.3,386.4 L149.3,386.4 L150.3,386.4 L151.3,386.4 L152.3,386.4 L153.3,386.4 L154.3,386.4 L155.3,386.4 L156.3,386.4 L157.3,386.4 L158.3,386.4 L159.3,386.4 L160.3,386.4 L161.3,386.4 L162.3,386.4 L163.3,386.4 L164.3,386.4 L165.3,386.4 L166.3,386.4 L167.3,386.4 L168.3,386.4 L169.3,386.4 L170.3,386.4 L171.3,386.4 L172.3,386.4 L173.3,386.4" fill="none" stroke="#8a8a8a" stroke-width="0.6"/>
<line x1="116.3" y1="386.4" x2="173.3" y2="386.4" stroke="#999" stroke-width="0.6"/>
<path d="M116.3,397.3 L116.3,397.3 L117.3,397.3 L118.3,397.3 L119.3,397.3 L120.3,397.3 L121.3,397.3 L122.3,397.3 L123.3,397.3 L124.3,397.3 L125.3,397.3 L126.3,397.3 L127.3,397.3 L128.3,397.3 L129.3,397.3 L130.3,397.3 L131.3,397.3 L132.3,397.3 L133.3,397.3 L134.3,397.1 L135.3,396.8 L136.3,396.4 L137.3,396 L138.3,395.9 L139.3,395.7 L140.3,395.2 L141.3,394.4 L142.3,393.4 L143.3,392.5 L144.3,391.8 L145.3,391.5 L146.3,391.4 L147.3,391.3 L148.3,391 L149.3,390.5 L150.3,389.8 L151.3,389 L152.3,388.2 L153.3,387.5 L154.3,386.7 L155.3,385.7 L156.3,384.3 L157.3,382.5 L158.3,380.6 L159.3,379.3 L160.3,379.1 L161.3,380.2 L162.3,382.7 L163.3,386 L164.3,389.3 L165.3,392.2 L166.3,394.3 L167.3,395.7 L168.3,396.5 L169.3,396.9 L170.3,397.1 L171.3,397.2 L172.3,397.3 L173.3,397.3 L173.3,397.3 Z" fill="#36cfd6" stroke="none" stroke-width="1" fill-opacity="0.5"/>
<path d="M116.3,397.3 L117.3,397.3 L118.3,397.3 L119.3,397.3 L120.3,397.3 L121.3,397.3 L122.3,397.3 L123.3,397.3 L124.3,397.3 L125.3,397.3 L126.3,397.3 L127.3,397.3 L128.3,397.3 L129.3,397.3 L130.3,397.3 L131.3,397.3 L132.3,397.3 L133.3,397.3 L134.3,397.1 L135.3,396.8 L136.3,396.4 L137.3,396 L138.3,395.9 L139.3,395.7 L140.3,395.2 L141.3,394.4 L142.3,393.4 L143.3,392.5 L144.3,391.8 L145.3,391.5 L146.3,391.4 L147.3,391.3 L148.3,391 L149.3,390.5 L150.3,389.8 L151.3,389 L152.3,388.2 L153.3,387.5 L154.3,386.7 L155.3,385.7 L156.3,384.3 L157.3,382.5 L158.3,380.6 L159.3,379.3 L160.3,379.1 L161.3,380.2 L162.3,382.7 L163.3,386 L164.3,389.3 L165.3,392.2 L166.3,394.3 L167.3,395.7 L168.3,396.5 L169.3,396.9 L170.3,397.1 L171.3,397.2 L172.3,397.3 L173.3,397.3" fill="none" stroke="#28cdd4" stroke-width="0.9"/>
<line x1="116.3" y1="397.3" x2="173.3" y2="397.3" stroke="#35cfd6" stroke-width="0.8"/>
<path d="M116.3,408.2 L116.3,408.2 L117.3,408.2 L118.3,408.2 L119.3,408.2 L120.3,408.2 L121.3,408.2 L122.3,408.2 L123.3,408.2 L124.3,408.2 L125.3,408.2 L126.3,408.2 L127.3,408.2 L128.3,408.2 L129.3,408.2 L130.3,408.2 L131.3,408.2 L132.3,408.1 L133.3,408 L134.3,407.6 L135.3,406.1 L136.3,401 L137.3,391.2 L138.3,385.1 L139.3,389.5 L140.3,395.9 L141.3,398.3 L142.3,398.6 L143.3,399 L144.3,399.6 L145.3,400.2 L146.3,400.6 L147.3,400.7 L148.3,400.6 L149.3,400.4 L150.3,400.2 L151.3,400 L152.3,399.7 L153.3,399.4 L154.3,399.2 L155.3,399.1 L156.3,399.4 L157.3,399.9 L158.3,400.6 L159.3,401.4 L160.3,402.1 L161.3,402.7 L162.3,403.6 L163.3,404.7 L164.3,405.9 L165.3,406.9 L166.3,407.6 L167.3,407.9 L168.3,408.1 L169.3,408.2 L170.3,408.2 L171.3,408.2 L172.3,408.2 L173.3,408.2 L173.3,408.2 Z" fill="#f6a25f" stroke="none" stroke-width="1" fill-opacity="0.65"/>
<path d="M116.3,408.2 L117.3,408.2 L118.3,408.2 L119.3,408.2 L120.3,408.2 L121.3,408.2 L122.3,408.2 L123.3,408.2 L124.3,408.2 L125.3,408.2 L126.3,408.2 L127.3,408.2 L128.3,408.2 L129.3,408.2 L130.3,408.2 L131.3,408.2 L132.3,408.1 L133.3,408 L134.3,407.6 L135.3,406.1 L136.3,401 L137.3,391.2 L138.3,385.1 L139.3,389.5 L140.3,395.9 L141.3,398.3 L142.3,398.6 L143.3,399 L144.3,399.6 L145.3,400.2 L146.3,400.6 L147.3,400.7 L148.3,400.6 L149.3,400.4 L150.3,400.2 L151.3,400 L152.3,399.7 L153.3,399.4 L154.3,399.2 L155.3,399.1 L156.3,399.4 L157.3,399.9 L158.3,400.6 L159.3,401.4 L160.3,402.1 L161.3,402.7 L162.3,403.6 L163.3,404.7 L164.3,405.9 L165.3,406.9 L166.3,407.6 L167.3,407.9 L168.3,408.1 L169.3,408.2 L170.3,408.2 L171.3,408.2 L172.3,408.2 L173.3,408.2" fill="none" stroke="#f47f1c" stroke-width="0.9"/>
<rect x="116.3" y="352.2" width="57" height="56" fill="none" stroke="#8a8a8a" stroke-width="0.9"/>
<line x1="116.3" y1="408.2" x2="173.3" y2="408.2" stroke="#f47f1c" stroke-width="0.9"/>
<line x1="119.3" y1="408.2" x2="119.3" y2="409.7" stroke="#666" stroke-width="0.4"/>
<text x="118.3" y="413.2" font-size="2.4" fill="#777">10</text>
<line x1="131.8" y1="408.2" x2="131.8" y2="409.7" stroke="#666" stroke-width="0.4"/>
<text x="130.8" y="413.2" font-size="2.4" fill="#777">10</text>
<line x1="144.3" y1="408.2" x2="144.3" y2="409.7" stroke="#666" stroke-width="0.4"/>
<text x="143.3" y="413.2" font-size="2.4" fill="#777">10</text>
<line x1="156.8" y1="408.2" x2="156.8" y2="409.7" stroke="#666" stroke-width="0.4"/>
<text x="155.8" y="413.2" font-size="2.4" fill="#777">10</text>
<line x1="169.3" y1="408.2" x2="169.3" y2="409.7" stroke="#666" stroke-width="0.4"/>
<text x="168.3" y="413.2" font-size="2.4" fill="#777">10</text>
<rect x="129.3" y="408" width="2.4" height="1.4" fill="#111" stroke="none" stroke-width="1"/>
<text x="146.6" y="346.4" font-size="9.9" text-anchor="middle" font-weight="bold" fill="#111">CD25</text>
<path d="M174.7,375.2 L174.7,375.2 L175.7,375.2 L176.7,375.2 L177.7,375.2 L178.7,375.2 L179.7,375.2 L180.7,375.2 L181.7,375.2 L182.7,375.2 L183.7,375.2 L184.7,375.2 L185.7,375.2 L186.7,374.8 L187.7,373.1 L188.7,367.6 L189.7,358.9 L190.7,354.2 L191.7,358.9 L192.7,367.6 L193.7,373.1 L194.7,374.8 L195.7,375.2 L196.7,375.2 L197.7,375.2 L198.7,375.2 L199.7,375.2 L200.7,375.2 L201.7,375.2 L202.7,375.2 L203.7,375.2 L204.7,375.2 L205.7,375.2 L206.7,375.2 L207.7,375.2 L208.7,375.2 L209.7,375.2 L210.7,375.2 L211.7,375.2 L212.7,375.2 L213.7,375.2 L214.7,375.2 L215.7,375.2 L216.7,375.2 L217.7,375.2 L218.7,375.2 L219.7,375.2 L220.7,375.2 L221.7,375.2 L222.7,375.2 L223.7,375.2 L224.7,375.2 L225.7,375.2 L226.7,375.2 L227.7,375.2 L228.7,375.2 L229.7,375.2 L230.7,375.2 L231.7,375.2 L231.7,375.2 Z" fill="#6e6e6e" stroke="none" stroke-width="1" fill-opacity="0.85"/>
<path d="M174.7,375.2 L175.7,375.2 L176.7,375.2 L177.7,375.2 L178.7,375.2 L179.7,375.2 L180.7,375.2 L181.7,375.2 L182.7,375.2 L183.7,375.2 L184.7,375.2 L185.7,375.2 L186.7,374.8 L187.7,373.1 L188.7,367.6 L189.7,358.9 L190.7,354.2 L191.7,358.9 L192.7,367.6 L193.7,373.1 L194.7,374.8 L195.7,375.2 L196.7,375.2 L197.7,375.2 L198.7,375.2 L199.7,375.2 L200.7,375.2 L201.7,375.2 L202.7,375.2 L203.7,375.2 L204.7,375.2 L205.7,375.2 L206.7,375.2 L207.7,375.2 L208.7,375.2 L209.7,375.2 L210.7,375.2 L211.7,375.2 L212.7,375.2 L213.7,375.2 L214.7,375.2 L215.7,375.2 L216.7,375.2 L217.7,375.2 L218.7,375.2 L219.7,375.2 L220.7,375.2 L221.7,375.2 L222.7,375.2 L223.7,375.2 L224.7,375.2 L225.7,375.2 L226.7,375.2 L227.7,375.2 L228.7,375.2 L229.7,375.2 L230.7,375.2 L231.7,375.2" fill="none" stroke="#333" stroke-width="0.7"/>
<line x1="174.7" y1="375.2" x2="231.7" y2="375.2" stroke="#999" stroke-width="0.6"/>
<path d="M174.7,386.4 L174.7,386.4 L175.7,386.4 L176.7,386.4 L177.7,386.4 L178.7,386.4 L179.7,386.4 L180.7,386.4 L181.7,386.4 L182.7,386.4 L183.7,386.4 L184.7,386.4 L185.7,386.4 L186.7,386.2 L187.7,385.4 L188.7,382.8 L189.7,378.7 L190.7,376.4 L191.7,378.7 L192.7,382.8 L193.7,385.4 L194.7,386.2 L195.7,386.4 L196.7,386.4 L197.7,386.4 L198.7,386.4 L199.7,386.4 L200.7,386.4 L201.7,386.4 L202.7,386.4 L203.7,386.4 L204.7,386.4 L205.7,386.4 L206.7,386.4 L207.7,386.4 L208.7,386.4 L209.7,386.4 L210.7,386.4 L211.7,386.4 L212.7,386.4 L213.7,386.4 L214.7,386.4 L215.7,386.4 L216.7,386.4 L217.7,386.4 L218.7,386.4 L219.7,386.4 L220.7,386.4 L221.7,386.4 L222.7,386.4 L223.7,386.4 L224.7,386.4 L225.7,386.4 L226.7,386.4 L227.7,386.4 L228.7,386.4 L229.7,386.4 L230.7,386.4 L231.7,386.4 L231.7,386.4 Z" fill="#cfcfcf" stroke="none" stroke-width="1" fill-opacity="0.9"/>
<path d="M174.7,386.4 L175.7,386.4 L176.7,386.4 L177.7,386.4 L178.7,386.4 L179.7,386.4 L180.7,386.4 L181.7,386.4 L182.7,386.4 L183.7,386.4 L184.7,386.4 L185.7,386.4 L186.7,386.2 L187.7,385.4 L188.7,382.8 L189.7,378.7 L190.7,376.4 L191.7,378.7 L192.7,382.8 L193.7,385.4 L194.7,386.2 L195.7,386.4 L196.7,386.4 L197.7,386.4 L198.7,386.4 L199.7,386.4 L200.7,386.4 L201.7,386.4 L202.7,386.4 L203.7,386.4 L204.7,386.4 L205.7,386.4 L206.7,386.4 L207.7,386.4 L208.7,386.4 L209.7,386.4 L210.7,386.4 L211.7,386.4 L212.7,386.4 L213.7,386.4 L214.7,386.4 L215.7,386.4 L216.7,386.4 L217.7,386.4 L218.7,386.4 L219.7,386.4 L220.7,386.4 L221.7,386.4 L222.7,386.4 L223.7,386.4 L224.7,386.4 L225.7,386.4 L226.7,386.4 L227.7,386.4 L228.7,386.4 L229.7,386.4 L230.7,386.4 L231.7,386.4" fill="none" stroke="#8a8a8a" stroke-width="0.6"/>
<line x1="174.7" y1="386.4" x2="231.7" y2="386.4" stroke="#999" stroke-width="0.6"/>
<path d="M174.7,397.3 L174.7,397.3 L175.7,397.3 L176.7,397.3 L177.7,397.3 L178.7,397.3 L179.7,397.3 L180.7,397.3 L181.7,397.3 L182.7,397.3 L183.7,397.3 L184.7,397.3 L185.7,397.3 L186.7,397.3 L187.7,397.2 L188.7,397.1 L189.7,396.9 L190.7,396.5 L191.7,396.1 L192.7,395.5 L193.7,394.8 L194.7,394.3 L195.7,394 L196.7,393.7 L197.7,393.5 L198.7,392.9 L199.7,391.6 L200.7,389.6 L201.7,386.8 L202.7,383.6 L203.7,380.5 L204.7,378.1 L205.7,376.9 L206.7,377 L207.7,378.4 L208.7,380.7 L209.7,383.3 L210.7,385.9 L211.7,388.2 L212.7,390 L213.7,391.4 L214.7,392.5 L215.7,393.4 L216.7,394.1 L217.7,394.8 L218.7,395.4 L219.7,395.9 L220.7,396.3 L221.7,396.6 L222.7,396.9 L223.7,397 L224.7,397.1 L225.7,397.2 L226.7,397.2 L227.7,397.3 L228.7,397.3 L229.7,397.3 L230.7,397.3 L231.7,397.3 L231.7,397.3 Z" fill="#36cfd6" stroke="none" stroke-width="1" fill-opacity="0.5"/>
<path d="M174.7,397.3 L175.7,397.3 L176.7,397.3 L177.7,397.3 L178.7,397.3 L179.7,397.3 L180.7,397.3 L181.7,397.3 L182.7,397.3 L183.7,397.3 L184.7,397.3 L185.7,397.3 L186.7,397.3 L187.7,397.2 L188.7,397.1 L189.7,396.9 L190.7,396.5 L191.7,396.1 L192.7,395.5 L193.7,394.8 L194.7,394.3 L195.7,394 L196.7,393.7 L197.7,393.5 L198.7,392.9 L199.7,391.6 L200.7,389.6 L201.7,386.8 L202.7,383.6 L203.7,380.5 L204.7,378.1 L205.7,376.9 L206.7,377 L207.7,378.4 L208.7,380.7 L209.7,383.3 L210.7,385.9 L211.7,388.2 L212.7,390 L213.7,391.4 L214.7,392.5 L215.7,393.4 L216.7,394.1 L217.7,394.8 L218.7,395.4 L219.7,395.9 L220.7,396.3 L221.7,396.6 L222.7,396.9 L223.7,397 L224.7,397.1 L225.7,397.2 L226.7,397.2 L227.7,397.3 L228.7,397.3 L229.7,397.3 L230.7,397.3 L231.7,397.3" fill="none" stroke="#28cdd4" stroke-width="0.9"/>
<line x1="174.7" y1="397.3" x2="231.7" y2="397.3" stroke="#35cfd6" stroke-width="0.8"/>
<path d="M174.7,408.2 L174.7,408.2 L175.7,408.2 L176.7,408.2 L177.7,408.2 L178.7,408.2 L179.7,408.2 L180.7,408.2 L181.7,408.2 L182.7,408.2 L183.7,408.2 L184.7,408.1 L185.7,408 L186.7,407.7 L187.7,406.7 L188.7,403.7 L189.7,397.1 L190.7,388.7 L191.7,383.8 L192.7,386 L193.7,392.1 L194.7,397.2 L195.7,399.8 L196.7,401.1 L197.7,402.1 L198.7,403.1 L199.7,403.9 L200.7,404.4 L201.7,404.8 L202.7,405.1 L203.7,405.3 L204.7,405.5 L205.7,405.8 L206.7,406.1 L207.7,406.4 L208.7,406.7 L209.7,407 L210.7,407.2 L211.7,407.5 L212.7,407.6 L213.7,407.8 L214.7,407.9 L215.7,408 L216.7,408.1 L217.7,408.1 L218.7,408.1 L219.7,408.2 L220.7,408.2 L221.7,408.2 L222.7,408.2 L223.7,408.2 L224.7,408.2 L225.7,408.2 L226.7,408.2 L227.7,408.2 L228.7,408.2 L229.7,408.2 L230.7,408.2 L231.7,408.2 L231.7,408.2 Z" fill="#f6a25f" stroke="none" stroke-width="1" fill-opacity="0.65"/>
<path d="M174.7,408.2 L175.7,408.2 L176.7,408.2 L177.7,408.2 L178.7,408.2 L179.7,408.2 L180.7,408.2 L181.7,408.2 L182.7,408.2 L183.7,408.2 L184.7,408.1 L185.7,408 L186.7,407.7 L187.7,406.7 L188.7,403.7 L189.7,397.1 L190.7,388.7 L191.7,383.8 L192.7,386 L193.7,392.1 L194.7,397.2 L195.7,399.8 L196.7,401.1 L197.7,402.1 L198.7,403.1 L199.7,403.9 L200.7,404.4 L201.7,404.8 L202.7,405.1 L203.7,405.3 L204.7,405.5 L205.7,405.8 L206.7,406.1 L207.7,406.4 L208.7,406.7 L209.7,407 L210.7,407.2 L211.7,407.5 L212.7,407.6 L213.7,407.8 L214.7,407.9 L215.7,408 L216.7,408.1 L217.7,408.1 L218.7,408.1 L219.7,408.2 L220.7,408.2 L221.7,408.2 L222.7,408.2 L223.7,408.2 L224.7,408.2 L225.7,408.2 L226.7,408.2 L227.7,408.2 L228.7,408.2 L229.7,408.2 L230.7,408.2 L231.7,408.2" fill="none" stroke="#f47f1c" stroke-width="0.9"/>
<rect x="174.7" y="352.2" width="57" height="56" fill="none" stroke="#8a8a8a" stroke-width="0.9"/>
<line x1="174.7" y1="408.2" x2="231.7" y2="408.2" stroke="#f47f1c" stroke-width="0.9"/>
<line x1="177.7" y1="408.2" x2="177.7" y2="409.7" stroke="#666" stroke-width="0.4"/>
<text x="176.7" y="413.2" font-size="2.4" fill="#777">10</text>
<line x1="190.2" y1="408.2" x2="190.2" y2="409.7" stroke="#666" stroke-width="0.4"/>
<text x="189.2" y="413.2" font-size="2.4" fill="#777">10</text>
<line x1="202.7" y1="408.2" x2="202.7" y2="409.7" stroke="#666" stroke-width="0.4"/>
<text x="201.7" y="413.2" font-size="2.4" fill="#777">10</text>
<line x1="215.2" y1="408.2" x2="215.2" y2="409.7" stroke="#666" stroke-width="0.4"/>
<text x="214.2" y="413.2" font-size="2.4" fill="#777">10</text>
<line x1="227.7" y1="408.2" x2="227.7" y2="409.7" stroke="#666" stroke-width="0.4"/>
<text x="226.7" y="413.2" font-size="2.4" fill="#777">10</text>
<rect x="187.7" y="408" width="2.4" height="1.4" fill="#111" stroke="none" stroke-width="1"/>
<text x="205" y="346.4" font-size="9.9" text-anchor="middle" font-weight="bold" fill="#111">4-1BB</text>
<path d="M233,375.2 L233,375.2 L234,375.2 L235,375.2 L236,375.2 L237,375.2 L238,375.2 L239,375.2 L240,375.2 L241,375.2 L242,375.2 L243,375.2 L244,375.2 L245,375.2 L246,375.2 L247,374.9 L248,370.9 L249,358.4 L250,356.2 L251,368.9 L252,374.6 L253,375.2 L254,375.2 L255,375.2 L256,375.2 L257,375.2 L258,375.2 L259,375.2 L260,375.2 L261,375.2 L262,375.2 L263,375.2 L264,375.2 L265,375.2 L266,375.2 L267,375.2 L268,375.2 L269,375.2 L270,375.2 L271,375.2 L272,375.2 L273,375.2 L274,375.2 L275,375.2 L276,375.2 L277,375.2 L278,375.2 L279,375.2 L280,375.2 L281,375.2 L282,375.2 L283,375.2 L284,375.2 L285,375.2 L286,375.2 L287,375.2 L288,375.2 L289,375.2 L290,375.2 L290,375.2 Z" fill="#6e6e6e" stroke="none" stroke-width="1" fill-opacity="0.85"/>
<path d="M233,375.2 L234,375.2 L235,375.2 L236,375.2 L237,375.2 L238,375.2 L239,375.2 L240,375.2 L241,375.2 L242,375.2 L243,375.2 L244,375.2 L245,375.2 L246,375.2 L247,374.9 L248,370.9 L249,358.4 L250,356.2 L251,368.9 L252,374.6 L253,375.2 L254,375.2 L255,375.2 L256,375.2 L257,375.2 L258,375.2 L259,375.2 L260,375.2 L261,375.2 L262,375.2 L263,375.2 L264,375.2 L265,375.2 L266,375.2 L267,375.2 L268,375.2 L269,375.2 L270,375.2 L271,375.2 L272,375.2 L273,375.2 L274,375.2 L275,375.2 L276,375.2 L277,375.2 L278,375.2 L279,375.2 L280,375.2 L281,375.2 L282,375.2 L283,375.2 L284,375.2 L285,375.2 L286,375.2 L287,375.2 L288,375.2 L289,375.2 L290,375.2" fill="none" stroke="#333" stroke-width="0.7"/>
<line x1="233" y1="375.2" x2="290" y2="375.2" stroke="#999" stroke-width="0.6"/>
<path d="M233,386.4 L233,386.4 L234,386.4 L235,386.4 L236,386.4 L237,386.4 L238,386.4 L239,386.4 L240,386.4 L241,386.4 L242,386.4 L243,386.4 L244,386.4 L245,386.4 L246,386.4 L247,386.2 L248,384.3 L249,378.4 L250,377.3 L251,383.4 L252,386.1 L253,386.4 L254,386.4 L255,386.4 L256,386.4 L257,386.4 L258,386.4 L259,386.4 L260,386.4 L261,386.4 L262,386.4 L263,386.4 L264,386.4 L265,386.4 L266,386.4 L267,386.4 L268,386.4 L269,386.4 L270,386.4 L271,386.4 L272,386.4 L273,386.4 L274,386.4 L275,386.4 L276,386.4 L277,386.4 L278,386.4 L279,386.4 L280,386.4 L281,386.4 L282,386.4 L283,386.4 L284,386.4 L285,386.4 L286,386.4 L287,386.4 L288,386.4 L289,386.4 L290,386.4 L290,386.4 Z" fill="#cfcfcf" stroke="none" stroke-width="1" fill-opacity="0.9"/>
<path d="M233,386.4 L234,386.4 L235,386.4 L236,386.4 L237,386.4 L238,386.4 L239,386.4 L240,386.4 L241,386.4 L242,386.4 L243,386.4 L244,386.4 L245,386.4 L246,386.4 L247,386.2 L248,384.3 L249,378.4 L250,377.3 L251,383.4 L252,386.1 L253,386.4 L254,386.4 L255,386.4 L256,386.4 L257,386.4 L258,386.4 L259,386.4 L260,386.4 L261,386.4 L262,386.4 L263,386.4 L264,386.4 L265,386.4 L266,386.4 L267,386.4 L268,386.4 L269,386.4 L270,386.4 L271,386.4 L272,386.4 L273,386.4 L274,386.4 L275,386.4 L276,386.4 L277,386.4 L278,386.4 L279,386.4 L280,386.4 L281,386.4 L282,386.4 L283,386.4 L284,386.4 L285,386.4 L286,386.4 L287,386.4 L288,386.4 L289,386.4 L290,386.4" fill="none" stroke="#8a8a8a" stroke-width="0.6"/>
<line x1="233" y1="386.4" x2="290" y2="386.4" stroke="#999" stroke-width="0.6"/>
<path d="M233,397.3 L233,397.3 L234,397.3 L235,397.3 L236,397.3 L237,397.3 L238,397.3 L239,397.3 L240,397.3 L241,397.3 L242,397.3 L243,397.3 L244,397.3 L245,397.3 L246,397.3 L247,397 L248,393.1 L249,381.1 L250,378.7 L251,390.1 L252,394.5 L253,394 L254,393.2 L255,393 L256,393.2 L257,393.2 L258,392.9 L259,392.2 L260,391.3 L261,390.3 L262,389.1 L263,388 L264,387 L265,386.4 L266,386.5 L267,387.3 L268,388.6 L269,390.2 L270,391.7 L271,393.1 L272,394.2 L273,395.1 L274,395.8 L275,396.4 L276,396.8 L277,397 L278,397.2 L279,397.2 L280,397.3 L281,397.3 L282,397.3 L283,397.3 L284,397.3 L285,397.3 L286,397.3 L287,397.3 L288,397.3 L289,397.3 L290,397.3 L290,397.3 Z" fill="#36cfd6" stroke="none" stroke-width="1" fill-opacity="0.5"/>
<path d="M233,397.3 L234,397.3 L235,397.3 L236,397.3 L237,397.3 L238,397.3 L239,397.3 L240,397.3 L241,397.3 L242,397.3 L243,397.3 L244,397.3 L245,397.3 L246,397.3 L247,397 L248,393.1 L249,381.1 L250,378.7 L251,390.1 L252,394.5 L253,394 L254,393.2 L255,393 L256,393.2 L257,393.2 L258,392.9 L259,392.2 L260,391.3 L261,390.3 L262,389.1 L263,388 L264,387 L265,386.4 L266,386.5 L267,387.3 L268,388.6 L269,390.2 L270,391.7 L271,393.1 L272,394.2 L273,395.1 L274,395.8 L275,396.4 L276,396.8 L277,397 L278,397.2 L279,397.2 L280,397.3 L281,397.3 L282,397.3 L283,397.3 L284,397.3 L285,397.3 L286,397.3 L287,397.3 L288,397.3 L289,397.3 L290,397.3" fill="none" stroke="#28cdd4" stroke-width="0.9"/>
<line x1="233" y1="397.3" x2="290" y2="397.3" stroke="#35cfd6" stroke-width="0.8"/>
<path d="M233,408.2 L233,408.2 L234,408.2 L235,408.2 L236,408.2 L237,408.2 L238,408.2 L239,408.2 L240,408.2 L241,408.2 L242,408.2 L243,408.2 L244,408.2 L245,408.1 L246,408 L247,407.6 L248,404.5 L249,391.8 L250,388.4 L251,400.6 L252,404.7 L253,405.7 L254,406.4 L255,406.9 L256,407.1 L257,407.2 L258,407.2 L259,407.3 L260,407.4 L261,407.5 L262,407.6 L263,407.7 L264,407.8 L265,407.9 L266,408 L267,408.1 L268,408.1 L269,408.1 L270,408.2 L271,408.2 L272,408.2 L273,408.2 L274,408.2 L275,408.2 L276,408.2 L277,408.2 L278,408.2 L279,408.2 L280,408.2 L281,408.2 L282,408.2 L283,408.2 L284,408.2 L285,408.2 L286,408.2 L287,408.2 L288,408.2 L289,408.2 L290,408.2 L290,408.2 Z" fill="#f6a25f" stroke="none" stroke-width="1" fill-opacity="0.65"/>
<path d="M233,408.2 L234,408.2 L235,408.2 L236,408.2 L237,408.2 L238,408.2 L239,408.2 L240,408.2 L241,408.2 L242,408.2 L243,408.2 L244,408.2 L245,408.1 L246,408 L247,407.6 L248,404.5 L249,391.8 L250,388.4 L251,400.6 L252,404.7 L253,405.7 L254,406.4 L255,406.9 L256,407.1 L257,407.2 L258,407.2 L259,407.3 L260,407.4 L261,407.5 L262,407.6 L263,407.7 L264,407.8 L265,407.9 L266,408 L267,408.1 L268,408.1 L269,408.1 L270,408.2 L271,408.2 L272,408.2 L273,408.2 L274,408.2 L275,408.2 L276,408.2 L277,408.2 L278,408.2 L279,408.2 L280,408.2 L281,408.2 L282,408.2 L283,408.2 L284,408.2 L285,408.2 L286,408.2 L287,408.2 L288,408.2 L289,408.2 L290,408.2" fill="none" stroke="#f47f1c" stroke-width="0.9"/>
<rect x="233" y="352.2" width="57" height="56" fill="none" stroke="#8a8a8a" stroke-width="0.9"/>
<line x1="233" y1="408.2" x2="290" y2="408.2" stroke="#f47f1c" stroke-width="0.9"/>
<line x1="236" y1="408.2" x2="236" y2="409.7" stroke="#666" stroke-width="0.4"/>
<text x="235" y="413.2" font-size="2.4" fill="#777">10</text>
<line x1="248.5" y1="408.2" x2="248.5" y2="409.7" stroke="#666" stroke-width="0.4"/>
<text x="247.5" y="413.2" font-size="2.4" fill="#777">10</text>
<line x1="261" y1="408.2" x2="261" y2="409.7" stroke="#666" stroke-width="0.4"/>
<text x="260" y="413.2" font-size="2.4" fill="#777">10</text>
<line x1="273.5" y1="408.2" x2="273.5" y2="409.7" stroke="#666" stroke-width="0.4"/>
<text x="272.5" y="413.2" font-size="2.4" fill="#777">10</text>
<line x1="286" y1="408.2" x2="286" y2="409.7" stroke="#666" stroke-width="0.4"/>
<text x="285" y="413.2" font-size="2.4" fill="#777">10</text>
<rect x="246" y="408" width="2.4" height="1.4" fill="#111" stroke="none" stroke-width="1"/>
<text x="263.3" y="346.4" font-size="9.9" text-anchor="middle" font-weight="bold" fill="#111">PD-L1</text>
<path d="M291.2,375.2 L291.2,375.2 L292.2,375.2 L293.2,375.2 L294.2,375.2 L295.2,375.2 L296.2,375.2 L297.2,375.2 L298.2,375.2 L299.2,375.2 L300.2,375.2 L301.2,375.2 L302.2,375.1 L303.2,374.8 L304.2,373.3 L305.2,369 L306.2,361.7 L307.2,355.2 L308.2,355.2 L309.2,361.7 L310.2,369 L311.2,373.3 L312.2,374.8 L313.2,375.1 L314.2,375.2 L315.2,375.2 L316.2,375.2 L317.2,375.2 L318.2,375.2 L319.2,375.2 L320.2,375.2 L321.2,375.2 L322.2,375.2 L323.2,375.2 L324.2,375.2 L325.2,375.2 L326.2,375.2 L327.2,375.2 L328.2,375.2 L329.2,375.2 L330.2,375.2 L331.2,375.2 L332.2,375.2 L333.2,375.2 L334.2,375.2 L335.2,375.2 L336.2,375.2 L337.2,375.2 L338.2,375.2 L339.2,375.2 L340.2,375.2 L341.2,375.2 L342.2,375.2 L343.2,375.2 L344.2,375.2 L345.2,375.2 L346.2,375.2 L347.2,375.2 L348.2,375.2 L348.2,375.2 Z" fill="#6e6e6e" stroke="none" stroke-width="1" fill-opacity="0.85"/>
<path d="M291.2,375.2 L292.2,375.2 L293.2,375.2 L294.2,375.2 L295.2,375.2 L296.2,375.2 L297.2,375.2 L298.2,375.2 L299.2,375.2 L300.2,375.2 L301.2,375.2 L302.2,375.1 L303.2,374.8 L304.2,373.3 L305.2,369 L306.2,361.7 L307.2,355.2 L308.2,355.2 L309.2,361.7 L310.2,369 L311.2,373.3 L312.2,374.8 L313.2,375.1 L314.2,375.2 L315.2,375.2 L316.2,375.2 L317.2,375.2 L318.2,375.2 L319.2,375.2 L320.2,375.2 L321.2,375.2 L322.2,375.2 L323.2,375.2 L324.2,375.2 L325.2,375.2 L326.2,375.2 L327.2,375.2 L328.2,375.2 L329.2,375.2 L330.2,375.2 L331.2,375.2 L332.2,375.2 L333.2,375.2 L334.2,375.2 L335.2,375.2 L336.2,375.2 L337.2,375.2 L338.2,375.2 L339.2,375.2 L340.2,375.2 L341.2,375.2 L342.2,375.2 L343.2,375.2 L344.2,375.2 L345.2,375.2 L346.2,375.2 L347.2,375.2 L348.2,375.2" fill="none" stroke="#333" stroke-width="0.7"/>
<line x1="291.2" y1="375.2" x2="348.2" y2="375.2" stroke="#999" stroke-width="0.6"/>
<path d="M291.2,386.4 L291.2,386.4 L292.2,386.4 L293.2,386.4 L294.2,386.4 L295.2,386.4 L296.2,386.4 L297.2,386.4 L298.2,386.4 L299.2,386.4 L300.2,386.4 L301.2,386.4 L302.2,386.4 L303.2,386.3 L304.2,386 L305.2,384.9 L306.2,382.6 L307.2,379.3 L308.2,376.8 L309.2,376.8 L310.2,379.3 L311.2,382.6 L312.2,384.9 L313.2,386 L314.2,386.3 L315.2,386.4 L316.2,386.4 L317.2,386.4 L318.2,386.4 L319.2,386.4 L320.2,386.4 L321.2,386.4 L322.2,386.4 L323.2,386.4 L324.2,386.4 L325.2,386.4 L326.2,386.4 L327.2,386.4 L328.2,386.4 L329.2,386.4 L330.2,386.4 L331.2,386.4 L332.2,386.4 L333.2,386.4 L334.2,386.4 L335.2,386.4 L336.2,386.4 L337.2,386.4 L338.2,386.4 L339.2,386.4 L340.2,386.4 L341.2,386.4 L342.2,386.4 L343.2,386.4 L344.2,386.4 L345.2,386.4 L346.2,386.4 L347.2,386.4 L348.2,386.4 L348.2,386.4 Z" fill="#cfcfcf" stroke="none" stroke-width="1" fill-opacity="0.9"/>
<path d="M291.2,386.4 L292.2,386.4 L293.2,386.4 L294.2,386.4 L295.2,386.4 L296.2,386.4 L297.2,386.4 L298.2,386.4 L299.2,386.4 L300.2,386.4 L301.2,386.4 L302.2,386.4 L303.2,386.3 L304.2,386 L305.2,384.9 L306.2,382.6 L307.2,379.3 L308.2,376.8 L309.2,376.8 L310.2,379.3 L311.2,382.6 L312.2,384.9 L313.2,386 L314.2,386.3 L315.2,386.4 L316.2,386.4 L317.2,386.4 L318.2,386.4 L319.2,386.4 L320.2,386.4 L321.2,386.4 L322.2,386.4 L323.2,386.4 L324.2,386.4 L325.2,386.4 L326.2,386.4 L327.2,386.4 L328.2,386.4 L329.2,386.4 L330.2,386.4 L331.2,386.4 L332.2,386.4 L333.2,386.4 L334.2,386.4 L335.2,386.4 L336.2,386.4 L337.2,386.4 L338.2,386.4 L339.2,386.4 L340.2,386.4 L341.2,386.4 L342.2,386.4 L343.2,386.4 L344.2,386.4 L345.2,386.4 L346.2,386.4 L347.2,386.4 L348.2,386.4" fill="none" stroke="#8a8a8a" stroke-width="0.6"/>
<line x1="291.2" y1="386.4" x2="348.2" y2="386.4" stroke="#999" stroke-width="0.6"/>
<path d="M291.2,397.3 L291.2,397.3 L292.2,397.3 L293.2,397.3 L294.2,397.3 L295.2,397.3 L296.2,397.3 L297.2,397.3 L298.2,397.3 L299.2,397.3 L300.2,397.3 L301.2,397.2 L302.2,397.1 L303.2,396.6 L304.2,395.4 L305.2,393.6 L306.2,391.1 L307.2,388.3 L308.2,385.4 L309.2,382.1 L310.2,378.7 L311.2,376.4 L312.2,376.2 L313.2,378.3 L314.2,382 L315.2,385.8 L316.2,388.7 L317.2,390.6 L318.2,391.8 L319.2,392.7 L320.2,393.5 L321.2,394.3 L322.2,395 L323.2,395.7 L324.2,396.2 L325.2,396.6 L326.2,396.9 L327.2,397.1 L328.2,397.2 L329.2,397.2 L330.2,397.3 L331.2,397.3 L332.2,397.3 L333.2,397.3 L334.2,397.3 L335.2,397.3 L336.2,397.3 L337.2,397.3 L338.2,397.3 L339.2,397.3 L340.2,397.3 L341.2,397.3 L342.2,397.3 L343.2,397.3 L344.2,397.3 L345.2,397.3 L346.2,397.3 L347.2,397.3 L348.2,397.3 L348.2,397.3 Z" fill="#36cfd6" stroke="none" stroke-width="1" fill-opacity="0.5"/>
<path d="M291.2,397.3 L292.2,397.3 L293.2,397.3 L294.2,397.3 L295.2,397.3 L296.2,397.3 L297.2,397.3 L298.2,397.3 L299.2,397.3 L300.2,397.3 L301.2,397.2 L302.2,397.1 L303.2,396.6 L304.2,395.4 L305.2,393.6 L306.2,391.1 L307.2,388.3 L308.2,385.4 L309.2,382.1 L310.2,378.7 L311.2,376.4 L312.2,376.2 L313.2,378.3 L314.2,382 L315.2,385.8 L316.2,388.7 L317.2,390.6 L318.2,391.8 L319.2,392.7 L320.2,393.5 L321.2,394.3 L322.2,395 L323.2,395.7 L324.2,396.2 L325.2,396.6 L326.2,396.9 L327.2,397.1 L328.2,397.2 L329.2,397.2 L330.2,397.3 L331.2,397.3 L332.2,397.3 L333.2,397.3 L334.2,397.3 L335.2,397.3 L336.2,397.3 L337.2,397.3 L338.2,397.3 L339.2,397.3 L340.2,397.3 L341.2,397.3 L342.2,397.3 L343.2,397.3 L344.2,397.3 L345.2,397.3 L346.2,397.3 L347.2,397.3 L348.2,397.3" fill="none" stroke="#28cdd4" stroke-width="0.9"/>
<line x1="291.2" y1="397.3" x2="348.2" y2="397.3" stroke="#35cfd6" stroke-width="0.8"/>
<path d="M291.2,408.2 L291.2,408.2 L292.2,408.2 L293.2,408.2 L294.2,408.2 L295.2,408.2 L296.2,408.2 L297.2,408.2 L298.2,408.2 L299.2,408.2 L300.2,408.2 L301.2,408.1 L302.2,407.8 L303.2,406.8 L304.2,404.2 L305.2,399.6 L306.2,393.5 L307.2,388.7 L308.2,387.6 L309.2,390.7 L310.2,395.8 L311.2,400.5 L312.2,403.8 L313.2,405.9 L314.2,407.1 L315.2,407.8 L316.2,408.1 L317.2,408.2 L318.2,408.2 L319.2,408.2 L320.2,408.2 L321.2,408.2 L322.2,408.2 L323.2,408.2 L324.2,408.2 L325.2,408.2 L326.2,408.2 L327.2,408.2 L328.2,408.2 L329.2,408.2 L330.2,408.2 L331.2,408.2 L332.2,408.2 L333.2,408.2 L334.2,408.2 L335.2,408.2 L336.2,408.2 L337.2,408.2 L338.2,408.2 L339.2,408.2 L340.2,408.2 L341.2,408.2 L342.2,408.2 L343.2,408.2 L344.2,408.2 L345.2,408.2 L346.2,408.2 L347.2,408.2 L348.2,408.2 L348.2,408.2 Z" fill="#f6a25f" stroke="none" stroke-width="1" fill-opacity="0.65"/>
<path d="M291.2,408.2 L292.2,408.2 L293.2,408.2 L294.2,408.2 L295.2,408.2 L296.2,408.2 L297.2,408.2 L298.2,408.2 L299.2,408.2 L300.2,408.2 L301.2,408.1 L302.2,407.8 L303.2,406.8 L304.2,404.2 L305.2,399.6 L306.2,393.5 L307.2,388.7 L308.2,387.6 L309.2,390.7 L310.2,395.8 L311.2,400.5 L312.2,403.8 L313.2,405.9 L314.2,407.1 L315.2,407.8 L316.2,408.1 L317.2,408.2 L318.2,408.2 L319.2,408.2 L320.2,408.2 L321.2,408.2 L322.2,408.2 L323.2,408.2 L324.2,408.2 L325.2,408.2 L326.2,408.2 L327.2,408.2 L328.2,408.2 L329.2,408.2 L330.2,408.2 L331.2,408.2 L332.2,408.2 L333.2,408.2 L334.2,408.2 L335.2,408.2 L336.2,408.2 L337.2,408.2 L338.2,408.2 L339.2,408.2 L340.2,408.2 L341.2,408.2 L342.2,408.2 L343.2,408.2 L344.2,408.2 L345.2,408.2 L346.2,408.2 L347.2,408.2 L348.2,408.2" fill="none" stroke="#f47f1c" stroke-width="0.9"/>
<rect x="291.2" y="352.2" width="57" height="56" fill="none" stroke="#8a8a8a" stroke-width="0.9"/>
<line x1="291.2" y1="408.2" x2="348.2" y2="408.2" stroke="#f47f1c" stroke-width="0.9"/>
<line x1="294.2" y1="408.2" x2="294.2" y2="409.7" stroke="#666" stroke-width="0.4"/>
<text x="293.2" y="413.2" font-size="2.4" fill="#777">10</text>
<line x1="306.7" y1="408.2" x2="306.7" y2="409.7" stroke="#666" stroke-width="0.4"/>
<text x="305.7" y="413.2" font-size="2.4" fill="#777">10</text>
<line x1="319.2" y1="408.2" x2="319.2" y2="409.7" stroke="#666" stroke-width="0.4"/>
<text x="318.2" y="413.2" font-size="2.4" fill="#777">10</text>
<line x1="331.7" y1="408.2" x2="331.7" y2="409.7" stroke="#666" stroke-width="0.4"/>
<text x="330.7" y="413.2" font-size="2.4" fill="#777">10</text>
<line x1="344.2" y1="408.2" x2="344.2" y2="409.7" stroke="#666" stroke-width="0.4"/>
<text x="343.2" y="413.2" font-size="2.4" fill="#777">10</text>
<rect x="304.2" y="408" width="2.4" height="1.4" fill="#111" stroke="none" stroke-width="1"/>
<text x="321.5" y="346.4" font-size="9.9" text-anchor="middle" font-weight="bold" fill="#111">LAG3</text>
<path d="M349.6,375.2 L349.6,375.2 L350.6,375.2 L351.6,375.2 L352.6,375.2 L353.6,375.2 L354.6,375.2 L355.6,375.2 L356.6,375.2 L357.6,375.2 L358.6,375.1 L359.6,375 L360.6,374.7 L361.6,374.3 L362.6,373.3 L363.6,368 L364.6,352.7 L365.6,354.2 L366.6,366.2 L367.6,368.5 L368.6,368.8 L369.6,369.5 L370.6,370.5 L371.6,371.5 L372.6,372.4 L373.6,373 L374.6,373.3 L375.6,373.5 L376.6,373.7 L377.6,373.8 L378.6,373.9 L379.6,374 L380.6,374.1 L381.6,374.3 L382.6,374.4 L383.6,374.6 L384.6,374.7 L385.6,374.8 L386.6,374.9 L387.6,375 L388.6,375.1 L389.6,375.1 L390.6,375.1 L391.6,375.2 L392.6,375.2 L393.6,375.2 L394.6,375.2 L395.6,375.2 L396.6,375.2 L397.6,375.2 L398.6,375.2 L399.6,375.2 L400.6,375.2 L401.6,375.2 L402.6,375.2 L403.6,375.2 L404.6,375.2 L405.6,375.2 L406.6,375.2 L406.6,375.2 Z" fill="#6e6e6e" stroke="none" stroke-width="1" fill-opacity="0.85"/>
<path d="M349.6,375.2 L350.6,375.2 L351.6,375.2 L352.6,375.2 L353.6,375.2 L354.6,375.2 L355.6,375.2 L356.6,375.2 L357.6,375.2 L358.6,375.1 L359.6,375 L360.6,374.7 L361.6,374.3 L362.6,373.3 L363.6,368 L364.6,352.7 L365.6,354.2 L366.6,366.2 L367.6,368.5 L368.6,368.8 L369.6,369.5 L370.6,370.5 L371.6,371.5 L372.6,372.4 L373.6,373 L374.6,373.3 L375.6,373.5 L376.6,373.7 L377.6,373.8 L378.6,373.9 L379.6,374 L380.6,374.1 L381.6,374.3 L382.6,374.4 L383.6,374.6 L384.6,374.7 L385.6,374.8 L386.6,374.9 L387.6,375 L388.6,375.1 L389.6,375.1 L390.6,375.1 L391.6,375.2 L392.6,375.2 L393.6,375.2 L394.6,375.2 L395.6,375.2 L396.6,375.2 L397.6,375.2 L398.6,375.2 L399.6,375.2 L400.6,375.2 L401.6,375.2 L402.6,375.2 L403.6,375.2 L404.6,375.2 L405.6,375.2 L406.6,375.2" fill="none" stroke="#333" stroke-width="0.7"/>
<line x1="349.6" y1="375.2" x2="406.6" y2="375.2" stroke="#999" stroke-width="0.6"/>
<path d="M349.6,386.4 L349.6,386.4 L350.6,386.4 L351.6,386.4 L352.6,386.4 L353.6,386.4 L354.6,386.4 L355.6,386.4 L356.6,386.4 L357.6,386.4 L358.6,386.4 L359.6,386.3 L360.6,386.1 L361.6,385.9 L362.6,385.4 L363.6,383.1 L364.6,377.1 L365.6,377.4 L366.6,381.7 L367.6,382.5 L368.6,382.6 L369.6,383 L370.6,383.5 L371.6,384.1 L372.6,384.5 L373.6,384.7 L374.6,384.8 L375.6,384.9 L376.6,384.9 L377.6,384.9 L378.6,384.9 L379.6,385 L380.6,385.1 L381.6,385.2 L382.6,385.3 L383.6,385.5 L384.6,385.6 L385.6,385.8 L386.6,385.9 L387.6,386 L388.6,386.1 L389.6,386.2 L390.6,386.3 L391.6,386.3 L392.6,386.3 L393.6,386.4 L394.6,386.4 L395.6,386.4 L396.6,386.4 L397.6,386.4 L398.6,386.4 L399.6,386.4 L400.6,386.4 L401.6,386.4 L402.6,386.4 L403.6,386.4 L404.6,386.4 L405.6,386.4 L406.6,386.4 L406.6,386.4 Z" fill="#cfcfcf" stroke="none" stroke-width="1" fill-opacity="0.9"/>
<path d="M349.6,386.4 L350.6,386.4 L351.6,386.4 L352.6,386.4 L353.6,386.4 L354.6,386.4 L355.6,386.4 L356.6,386.4 L357.6,386.4 L358.6,386.4 L359.6,386.3 L360.6,386.1 L361.6,385.9 L362.6,385.4 L363.6,383.1 L364.6,377.1 L365.6,377.4 L366.6,381.7 L367.6,382.5 L368.6,382.6 L369.6,383 L370.6,383.5 L371.6,384.1 L372.6,384.5 L373.6,384.7 L374.6,384.8 L375.6,384.9 L376.6,384.9 L377.6,384.9 L378.6,384.9 L379.6,385 L380.6,385.1 L381.6,385.2 L382.6,385.3 L383.6,385.5 L384.6,385.6 L385.6,385.8 L386.6,385.9 L387.6,386 L388.6,386.1 L389.6,386.2 L390.6,386.3 L391.6,386.3 L392.6,386.3 L393.6,386.4 L394.6,386.4 L395.6,386.4 L396.6,386.4 L397.6,386.4 L398.6,386.4 L399.6,386.4 L400.6,386.4 L401.6,386.4 L402.6,386.4 L403.6,386.4 L404.6,386.4 L405.6,386.4 L406.6,386.4" fill="none" stroke="#8a8a8a" stroke-width="0.6"/>
<line x1="349.6" y1="386.4" x2="406.6" y2="386.4" stroke="#999" stroke-width="0.6"/>
<path d="M349.6,397.3 L349.6,397.3 L350.6,397.3 L351.6,397.3 L352.6,397.3 L353.6,397.3 L354.6,397.3 L355.6,397.3 L356.6,397.3 L357.6,397.3 L358.6,397.3 L359.6,397.3 L360.6,397.3 L361.6,397.2 L362.6,396.9 L363.6,396 L364.6,395.1 L365.6,395.7 L366.6,396.5 L367.6,396.5 L368.6,396.1 L369.6,395.7 L370.6,395.1 L371.6,394.5 L372.6,393.7 L373.6,392.8 L374.6,391.8 L375.6,390.7 L376.6,389.4 L377.6,388 L378.6,386.5 L379.6,384.8 L380.6,382.8 L381.6,380.8 L382.6,378.9 L383.6,377.3 L384.6,376.3 L385.6,376.3 L386.6,377.4 L387.6,379.4 L388.6,382.2 L389.6,385.3 L390.6,388.3 L391.6,391.1 L392.6,393.2 L393.6,394.8 L394.6,395.9 L395.6,396.6 L396.6,396.9 L397.6,397.1 L398.6,397.2 L399.6,397.3 L400.6,397.3 L401.6,397.3 L402.6,397.3 L403.6,397.3 L404.6,397.3 L405.6,397.3 L406.6,397.3 L406.6,397.3 Z" fill="#36cfd6" stroke="none" stroke-width="1" fill-opacity="0.5"/>
<path d="M349.6,397.3 L350.6,397.3 L351.6,397.3 L352.6,397.3 L353.6,397.3 L354.6,397.3 L355.6,397.3 L356.6,397.3 L357.6,397.3 L358.6,397.3 L359.6,397.3 L360.6,397.3 L361.6,397.2 L362.6,396.9 L363.6,396 L364.6,395.1 L365.6,395.7 L366.6,396.5 L367.6,396.5 L368.6,396.1 L369.6,395.7 L370.6,395.1 L371.6,394.5 L372.6,393.7 L373.6,392.8 L374.6,391.8 L375.6,390.7 L376.6,389.4 L377.6,388 L378.6,386.5 L379.6,384.8 L380.6,382.8 L381.6,380.8 L382.6,378.9 L383.6,377.3 L384.6,376.3 L385.6,376.3 L386.6,377.4 L387.6,379.4 L388.6,382.2 L389.6,385.3 L390.6,388.3 L391.6,391.1 L392.6,393.2 L393.6,394.8 L394.6,395.9 L395.6,396.6 L396.6,396.9 L397.6,397.1 L398.6,397.2 L399.6,397.3 L400.6,397.3 L401.6,397.3 L402.6,397.3 L403.6,397.3 L404.6,397.3 L405.6,397.3 L406.6,397.3" fill="none" stroke="#28cdd4" stroke-width="0.9"/>
<line x1="349.6" y1="397.3" x2="406.6" y2="397.3" stroke="#35cfd6" stroke-width="0.8"/>
<path d="M349.6,408.2 L349.6,408.2 L350.6,408.2 L351.6,408.2 L352.6,408.2 L353.6,408.2 L354.6,408.2 L355.6,408.2 L356.6,408.2 L357.6,408.2 L358.6,408.2 L359.6,408.1 L360.6,408 L361.6,407.8 L362.6,406.8 L363.6,404.8 L364.6,403.3 L365.6,404.1 L366.6,405.4 L367.6,405.6 L368.6,405 L369.6,404.2 L370.6,403.3 L371.6,402.3 L372.6,401.2 L373.6,400.2 L374.6,399.1 L375.6,398 L376.6,396.9 L377.6,395.5 L378.6,393.8 L379.6,391.8 L380.6,389.5 L381.6,387.2 L382.6,385.3 L383.6,384.2 L384.6,384.2 L385.6,385.1 L386.6,386.9 L387.6,389.1 L388.6,391.7 L389.6,394.6 L390.6,397.8 L391.6,401 L392.6,403.7 L393.6,405.7 L394.6,407 L395.6,407.7 L396.6,408 L397.6,408.1 L398.6,408.2 L399.6,408.2 L400.6,408.2 L401.6,408.2 L402.6,408.2 L403.6,408.2 L404.6,408.2 L405.6,408.2 L406.6,408.2 L406.6,408.2 Z" fill="#f6a25f" stroke="none" stroke-width="1" fill-opacity="0.65"/>
<path d="M349.6,408.2 L350.6,408.2 L351.6,408.2 L352.6,408.2 L353.6,408.2 L354.6,408.2 L355.6,408.2 L356.6,408.2 L357.6,408.2 L358.6,408.2 L359.6,408.1 L360.6,408 L361.6,407.8 L362.6,406.8 L363.6,404.8 L364.6,403.3 L365.6,404.1 L366.6,405.4 L367.6,405.6 L368.6,405 L369.6,404.2 L370.6,403.3 L371.6,402.3 L372.6,401.2 L373.6,400.2 L374.6,399.1 L375.6,398 L376.6,396.9 L377.6,395.5 L378.6,393.8 L379.6,391.8 L380.6,389.5 L381.6,387.2 L382.6,385.3 L383.6,384.2 L384.6,384.2 L385.6,385.1 L386.6,386.9 L387.6,389.1 L388.6,391.7 L389.6,394.6 L390.6,397.8 L391.6,401 L392.6,403.7 L393.6,405.7 L394.6,407 L395.6,407.7 L396.6,408 L397.6,408.1 L398.6,408.2 L399.6,408.2 L400.6,408.2 L401.6,408.2 L402.6,408.2 L403.6,408.2 L404.6,408.2 L405.6,408.2 L406.6,408.2" fill="none" stroke="#f47f1c" stroke-width="0.9"/>
<rect x="349.6" y="352.2" width="57" height="56" fill="none" stroke="#8a8a8a" stroke-width="0.9"/>
<line x1="349.6" y1="408.2" x2="406.6" y2="408.2" stroke="#f47f1c" stroke-width="0.9"/>
<line x1="352.6" y1="408.2" x2="352.6" y2="409.7" stroke="#666" stroke-width="0.4"/>
<text x="351.6" y="413.2" font-size="2.4" fill="#777">10</text>
<line x1="365.1" y1="408.2" x2="365.1" y2="409.7" stroke="#666" stroke-width="0.4"/>
<text x="364.1" y="413.2" font-size="2.4" fill="#777">10</text>
<line x1="377.6" y1="408.2" x2="377.6" y2="409.7" stroke="#666" stroke-width="0.4"/>
<text x="376.6" y="413.2" font-size="2.4" fill="#777">10</text>
<line x1="390.1" y1="408.2" x2="390.1" y2="409.7" stroke="#666" stroke-width="0.4"/>
<text x="389.1" y="413.2" font-size="2.4" fill="#777">10</text>
<line x1="402.6" y1="408.2" x2="402.6" y2="409.7" stroke="#666" stroke-width="0.4"/>
<text x="401.6" y="413.2" font-size="2.4" fill="#777">10</text>
<rect x="362.6" y="408" width="2.4" height="1.4" fill="#111" stroke="none" stroke-width="1"/>
<text x="379.9" y="346.4" font-size="9.9" text-anchor="middle" font-weight="bold" fill="#111">CD69</text>
<line x1="173.6" y1="352.2" x2="173.6" y2="408.2" stroke="#aaa" stroke-width="1.6"/>
<text x="57" y="375" font-size="8.6" text-anchor="end" fill="#222" textLength="27.6" lengthAdjust="spacingAndGlyphs">Medium</text>
<text x="57" y="385.4" font-size="8.6" text-anchor="end" fill="#8a8a8a" textLength="16.3" lengthAdjust="spacingAndGlyphs">IL-35</text>
<text x="57" y="395.7" font-size="8.6" text-anchor="end" fill="#29abd4" textLength="36" lengthAdjust="spacingAndGlyphs">IL-12+IL-18</text>
<text x="57" y="405.6" font-size="8.6" text-anchor="end" fill="#f7901e" textLength="56.5" lengthAdjust="spacingAndGlyphs">IL-12+IL-18+IL-35</text>
<line x1="437.4" y1="414.5" x2="437.4" y2="311.4" stroke="#111" stroke-width="0.9"/>
<line x1="435.4" y1="414.1" x2="437.4" y2="414.1" stroke="#111" stroke-width="0.7"/>
<text x="433.2" y="416.6" font-size="7" text-anchor="end" fill="#111">0</text>
<line x1="436.2" y1="403.8" x2="437.4" y2="403.8" stroke="#111" stroke-width="0.5"/>
<line x1="435.4" y1="393.6" x2="437.4" y2="393.6" stroke="#111" stroke-width="0.7"/>
<text x="433.2" y="396.1" font-size="7" text-anchor="end" fill="#111">20</text>
<line x1="436.2" y1="383.3" x2="437.4" y2="383.3" stroke="#111" stroke-width="0.5"/>
<line x1="435.4" y1="373" x2="437.4" y2="373" stroke="#111" stroke-width="0.7"/>
<text x="433.2" y="375.5" font-size="7" text-anchor="end" fill="#111">40</text>
<line x1="436.2" y1="362.8" x2="437.4" y2="362.8" stroke="#111" stroke-width="0.5"/>
<line x1="435.4" y1="352.5" x2="437.4" y2="352.5" stroke="#111" stroke-width="0.7"/>
<text x="433.2" y="355" font-size="7" text-anchor="end" fill="#111">60</text>
<line x1="436.2" y1="342.2" x2="437.4" y2="342.2" stroke="#111" stroke-width="0.5"/>
<line x1="435.4" y1="331.9" x2="437.4" y2="331.9" stroke="#111" stroke-width="0.7"/>
<text x="433.2" y="334.5" font-size="7" text-anchor="end" fill="#111">80</text>
<line x1="436.2" y1="321.7" x2="437.4" y2="321.7" stroke="#111" stroke-width="0.5"/>
<line x1="435.4" y1="311.4" x2="437.4" y2="311.4" stroke="#111" stroke-width="0.7"/>
<text x="433.2" y="313.9" font-size="7" text-anchor="end" fill="#111">100</text>
<line x1="437.4" y1="414.1" x2="605.2" y2="414.1" stroke="#111" stroke-width="1"/>
<line x1="464.9" y1="312" x2="464.9" y2="414.1" stroke="#ccc" stroke-width="0.5" stroke-dasharray="0.8,1.4"/>
<line x1="493.3" y1="312" x2="493.3" y2="414.1" stroke="#ccc" stroke-width="0.5" stroke-dasharray="0.8,1.4"/>
<line x1="521.7" y1="312" x2="521.7" y2="414.1" stroke="#ccc" stroke-width="0.5" stroke-dasharray="0.8,1.4"/>
<line x1="550" y1="312" x2="550" y2="414.1" stroke="#ccc" stroke-width="0.5" stroke-dasharray="0.8,1.4"/>
<line x1="578.4" y1="312" x2="578.4" y2="414.1" stroke="#ccc" stroke-width="0.5" stroke-dasharray="0.8,1.4"/>
<rect x="442" y="340.2" width="7.5" height="73.9" fill="#12acd6" stroke="#222" stroke-width="0.5"/>
<rect x="451.9" y="375.1" width="7.3" height="39" fill="#fba142" stroke="#222" stroke-width="0.5"/>
<line x1="445.7" y1="325.8" x2="455.5" y2="362.8" stroke="#555" stroke-width="0.3"/>
<line x1="445.7" y1="335" x2="455.5" y2="373" stroke="#555" stroke-width="0.3"/>
<line x1="445.7" y1="337.1" x2="455.5" y2="376.1" stroke="#555" stroke-width="0.3"/>
<line x1="445.7" y1="342.2" x2="455.5" y2="378.2" stroke="#555" stroke-width="0.3"/>
<line x1="445.7" y1="359.7" x2="455.5" y2="379.2" stroke="#555" stroke-width="0.3"/>
<circle cx="445.7" cy="325.8" r="0.7" fill="#000"/>
<circle cx="445.7" cy="335" r="0.7" fill="#000"/>
<circle cx="445.7" cy="337.1" r="0.7" fill="#000"/>
<circle cx="445.7" cy="342.2" r="0.7" fill="#000"/>
<circle cx="445.7" cy="359.7" r="0.7" fill="#000"/>
<circle cx="455.5" cy="362.8" r="0.7" fill="#000"/>
<circle cx="455.5" cy="373" r="0.7" fill="#000"/>
<circle cx="455.5" cy="376.1" r="0.7" fill="#000"/>
<circle cx="455.5" cy="378.2" r="0.7" fill="#000"/>
<circle cx="455.5" cy="379.2" r="0.7" fill="#000"/>
<line x1="455.5" y1="367.9" x2="455.5" y2="379.2" stroke="#111" stroke-width="0.5"/>
<line x1="454" y1="367.9" x2="457" y2="367.9" stroke="#111" stroke-width="0.5"/>
<text x="450.7" y="307.3" font-size="7.4" text-anchor="middle" fill="#222">0.0002</text>
<line x1="442.7" y1="309.7" x2="458.7" y2="309.7" stroke="#222" stroke-width="1.5"/>
<line x1="445.7" y1="414.1" x2="445.7" y2="416.1" stroke="#111" stroke-width="0.6"/>
<line x1="455.5" y1="414.1" x2="455.5" y2="416.1" stroke="#111" stroke-width="0.6"/>
<text x="456.9" y="424" font-size="9.6" text-anchor="end" fill="#111" transform="rotate(-50 456.9 424)">IFN-&#947;</text>
<rect x="470.4" y="324.8" width="7.5" height="89.3" fill="#12acd6" stroke="#222" stroke-width="0.5"/>
<rect x="480.3" y="349.4" width="7.3" height="64.7" fill="#fba142" stroke="#222" stroke-width="0.5"/>
<line x1="474.1" y1="316.5" x2="483.9" y2="336" stroke="#555" stroke-width="0.3"/>
<line x1="474.1" y1="319.6" x2="483.9" y2="346.3" stroke="#555" stroke-width="0.3"/>
<line x1="474.1" y1="321.7" x2="483.9" y2="352.5" stroke="#555" stroke-width="0.3"/>
<line x1="474.1" y1="330.9" x2="483.9" y2="357.6" stroke="#555" stroke-width="0.3"/>
<line x1="474.1" y1="341.2" x2="483.9" y2="372" stroke="#555" stroke-width="0.3"/>
<circle cx="474.1" cy="316.5" r="0.7" fill="#000"/>
<circle cx="474.1" cy="319.6" r="0.7" fill="#000"/>
<circle cx="474.1" cy="321.7" r="0.7" fill="#000"/>
<circle cx="474.1" cy="330.9" r="0.7" fill="#000"/>
<circle cx="474.1" cy="341.2" r="0.7" fill="#000"/>
<circle cx="483.9" cy="336" r="0.7" fill="#000"/>
<circle cx="483.9" cy="346.3" r="0.7" fill="#000"/>
<circle cx="483.9" cy="352.5" r="0.7" fill="#000"/>
<circle cx="483.9" cy="357.6" r="0.7" fill="#000"/>
<circle cx="483.9" cy="372" r="0.7" fill="#000"/>
<line x1="483.9" y1="337.1" x2="483.9" y2="360.7" stroke="#111" stroke-width="0.5"/>
<line x1="482.4" y1="337.1" x2="485.4" y2="337.1" stroke="#111" stroke-width="0.5"/>
<text x="479.1" y="307.3" font-size="7.4" text-anchor="middle" fill="#222">0.0012</text>
<line x1="471.1" y1="309.7" x2="487.1" y2="309.7" stroke="#222" stroke-width="1.5"/>
<line x1="474.1" y1="414.1" x2="474.1" y2="416.1" stroke="#111" stroke-width="0.6"/>
<line x1="483.9" y1="414.1" x2="483.9" y2="416.1" stroke="#111" stroke-width="0.6"/>
<text x="485.3" y="424" font-size="9.6" text-anchor="end" fill="#111" transform="rotate(-50 485.3 424)">CD25</text>
<rect x="498.8" y="351.5" width="7.5" height="62.6" fill="#12acd6" stroke="#222" stroke-width="0.5"/>
<rect x="508.7" y="383.3" width="7.3" height="30.8" fill="#fba142" stroke="#222" stroke-width="0.5"/>
<line x1="502.5" y1="313.5" x2="512.3" y2="375.1" stroke="#555" stroke-width="0.3"/>
<line x1="502.5" y1="346.3" x2="512.3" y2="380.2" stroke="#555" stroke-width="0.3"/>
<line x1="502.5" y1="357.6" x2="512.3" y2="383.3" stroke="#555" stroke-width="0.3"/>
<line x1="502.5" y1="376.1" x2="512.3" y2="385.3" stroke="#555" stroke-width="0.3"/>
<circle cx="502.5" cy="313.5" r="0.7" fill="#000"/>
<circle cx="502.5" cy="346.3" r="0.7" fill="#000"/>
<circle cx="502.5" cy="357.6" r="0.7" fill="#000"/>
<circle cx="502.5" cy="376.1" r="0.7" fill="#000"/>
<circle cx="512.3" cy="375.1" r="0.7" fill="#000"/>
<circle cx="512.3" cy="380.2" r="0.7" fill="#000"/>
<circle cx="512.3" cy="383.3" r="0.7" fill="#000"/>
<circle cx="512.3" cy="385.3" r="0.7" fill="#000"/>
<circle cx="512.3" cy="395.6" r="0.7" fill="#000"/>
<line x1="512.3" y1="375.1" x2="512.3" y2="389.5" stroke="#111" stroke-width="0.5"/>
<line x1="510.8" y1="375.1" x2="513.8" y2="375.1" stroke="#111" stroke-width="0.5"/>
<text x="507.5" y="307.3" font-size="7.4" text-anchor="middle" fill="#222">0.0048</text>
<line x1="499.5" y1="309.7" x2="515.5" y2="309.7" stroke="#222" stroke-width="1.5"/>
<line x1="502.5" y1="414.1" x2="502.5" y2="416.1" stroke="#111" stroke-width="0.6"/>
<line x1="512.3" y1="414.1" x2="512.3" y2="416.1" stroke="#111" stroke-width="0.6"/>
<text x="513.7" y="424" font-size="9.6" text-anchor="end" fill="#111" transform="rotate(-50 513.7 424)">4-1BB</text>
<rect x="527.1" y="350.4" width="7.5" height="63.7" fill="#12acd6" stroke="#222" stroke-width="0.5"/>
<rect x="537" y="385.3" width="7.3" height="28.8" fill="#fba142" stroke="#222" stroke-width="0.5"/>
<line x1="530.8" y1="340.2" x2="540.6" y2="381.2" stroke="#555" stroke-width="0.3"/>
<line x1="530.8" y1="344.3" x2="540.6" y2="383.3" stroke="#555" stroke-width="0.3"/>
<line x1="530.8" y1="352.5" x2="540.6" y2="385.3" stroke="#555" stroke-width="0.3"/>
<line x1="530.8" y1="360.7" x2="540.6" y2="388.4" stroke="#555" stroke-width="0.3"/>
<line x1="530.8" y1="365.8" x2="540.6" y2="391.5" stroke="#555" stroke-width="0.3"/>
<circle cx="530.8" cy="340.2" r="0.7" fill="#000"/>
<circle cx="530.8" cy="344.3" r="0.7" fill="#000"/>
<circle cx="530.8" cy="352.5" r="0.7" fill="#000"/>
<circle cx="530.8" cy="360.7" r="0.7" fill="#000"/>
<circle cx="530.8" cy="365.8" r="0.7" fill="#000"/>
<circle cx="540.6" cy="381.2" r="0.7" fill="#000"/>
<circle cx="540.6" cy="383.3" r="0.7" fill="#000"/>
<circle cx="540.6" cy="385.3" r="0.7" fill="#000"/>
<circle cx="540.6" cy="388.4" r="0.7" fill="#000"/>
<circle cx="540.6" cy="391.5" r="0.7" fill="#000"/>
<line x1="540.6" y1="380.2" x2="540.6" y2="390.5" stroke="#111" stroke-width="0.5"/>
<line x1="539.1" y1="380.2" x2="542.1" y2="380.2" stroke="#111" stroke-width="0.5"/>
<text x="535.8" y="307.3" font-size="7.4" text-anchor="middle" fill="#222">0.0003</text>
<line x1="527.8" y1="309.7" x2="543.8" y2="309.7" stroke="#222" stroke-width="1.5"/>
<line x1="530.8" y1="414.1" x2="530.8" y2="416.1" stroke="#111" stroke-width="0.6"/>
<line x1="540.6" y1="414.1" x2="540.6" y2="416.1" stroke="#111" stroke-width="0.6"/>
<text x="542" y="424" font-size="9.6" text-anchor="end" fill="#111" transform="rotate(-50 542 424)">PD-L1</text>
<rect x="555.5" y="393.6" width="7.5" height="20.5" fill="#12acd6" stroke="#222" stroke-width="0.5"/>
<rect x="565.4" y="405.9" width="7.3" height="8.2" fill="#fba142" stroke="#222" stroke-width="0.5"/>
<line x1="559.2" y1="366.9" x2="569" y2="396.6" stroke="#555" stroke-width="0.3"/>
<line x1="559.2" y1="384.3" x2="569" y2="400.7" stroke="#555" stroke-width="0.3"/>
<line x1="559.2" y1="393.6" x2="569" y2="405.9" stroke="#555" stroke-width="0.3"/>
<line x1="559.2" y1="399.7" x2="569" y2="409" stroke="#555" stroke-width="0.3"/>
<circle cx="559.2" cy="366.9" r="0.7" fill="#000"/>
<circle cx="559.2" cy="384.3" r="0.7" fill="#000"/>
<circle cx="559.2" cy="393.6" r="0.7" fill="#000"/>
<circle cx="559.2" cy="399.7" r="0.7" fill="#000"/>
<circle cx="569" cy="396.6" r="0.7" fill="#000"/>
<circle cx="569" cy="400.7" r="0.7" fill="#000"/>
<circle cx="569" cy="405.9" r="0.7" fill="#000"/>
<circle cx="569" cy="409" r="0.7" fill="#000"/>
<circle cx="569" cy="411" r="0.7" fill="#000"/>
<line x1="569" y1="396.6" x2="569" y2="411" stroke="#111" stroke-width="0.5"/>
<line x1="567.5" y1="396.6" x2="570.5" y2="396.6" stroke="#111" stroke-width="0.5"/>
<text x="564.2" y="307.3" font-size="7.4" text-anchor="middle" fill="#222">0.0698</text>
<line x1="556.2" y1="309.7" x2="572.2" y2="309.7" stroke="#222" stroke-width="1.5"/>
<line x1="559.2" y1="414.1" x2="559.2" y2="416.1" stroke="#111" stroke-width="0.6"/>
<line x1="569" y1="414.1" x2="569" y2="416.1" stroke="#111" stroke-width="0.6"/>
<text x="570.4" y="424" font-size="9.6" text-anchor="end" fill="#111" transform="rotate(-50 570.4 424)">LAG3</text>
<rect x="583.9" y="316.5" width="7.5" height="97.6" fill="#12acd6" stroke="#222" stroke-width="0.5"/>
<rect x="593.8" y="321.7" width="7.3" height="92.4" fill="#fba142" stroke="#222" stroke-width="0.5"/>
<line x1="587.6" y1="314.5" x2="597.4" y2="317.6" stroke="#555" stroke-width="0.3"/>
<line x1="587.6" y1="315.5" x2="597.4" y2="319.6" stroke="#555" stroke-width="0.3"/>
<line x1="587.6" y1="316.5" x2="597.4" y2="321.7" stroke="#555" stroke-width="0.3"/>
<line x1="587.6" y1="317.6" x2="597.4" y2="323.7" stroke="#555" stroke-width="0.3"/>
<circle cx="587.6" cy="314.5" r="0.7" fill="#000"/>
<circle cx="587.6" cy="315.5" r="0.7" fill="#000"/>
<circle cx="587.6" cy="316.5" r="0.7" fill="#000"/>
<circle cx="587.6" cy="317.6" r="0.7" fill="#000"/>
<circle cx="597.4" cy="317.6" r="0.7" fill="#000"/>
<circle cx="597.4" cy="319.6" r="0.7" fill="#000"/>
<circle cx="597.4" cy="321.7" r="0.7" fill="#000"/>
<circle cx="597.4" cy="323.7" r="0.7" fill="#000"/>
<circle cx="597.4" cy="325.8" r="0.7" fill="#000"/>
<line x1="597.4" y1="317.6" x2="597.4" y2="325.8" stroke="#111" stroke-width="0.5"/>
<line x1="595.9" y1="317.6" x2="598.9" y2="317.6" stroke="#111" stroke-width="0.5"/>
<text x="592.6" y="307.3" font-size="7.4" text-anchor="middle" fill="#222">0.0164</text>
<line x1="584.6" y1="309.7" x2="600.6" y2="309.7" stroke="#222" stroke-width="1.5"/>
<line x1="587.6" y1="414.1" x2="587.6" y2="416.1" stroke="#111" stroke-width="0.6"/>
<line x1="597.4" y1="414.1" x2="597.4" y2="416.1" stroke="#111" stroke-width="0.6"/>
<text x="598.8" y="424" font-size="9.6" text-anchor="end" fill="#111" transform="rotate(-50 598.8 424)">CD69</text>
<text x="421.2" y="362" font-size="8.8" text-anchor="middle" fill="#222" transform="rotate(-90 421.2 362)">% positive NK cells</text>
<rect x="607.7" y="353.2" width="6.8" height="7" fill="#12acd6" stroke="#222" stroke-width="0.5"/>
<rect x="607.7" y="365.5" width="6.8" height="7" fill="#fba142" stroke="#222" stroke-width="0.5"/>
<text x="618.3" y="359.6" font-size="8.3" fill="#222" textLength="41.9" lengthAdjust="spacingAndGlyphs">IL-12+IL-18</text>
<text x="618.3" y="371.8" font-size="8.3" fill="#222" textLength="65.2" lengthAdjust="spacingAndGlyphs">IL-12+IL-18+IL-35</text>
<text x="1.5" y="441.5" font-size="12.5" font-weight="bold" fill="#000">c</text>
<text x="104" y="453" font-size="10.4" text-anchor="middle" fill="#111" textLength="126" lengthAdjust="spacingAndGlyphs">All culture conditions merged</text>
<text x="18.5" y="465.3" font-size="9.4" textLength="178" lengthAdjust="spacingAndGlyphs">Medium ; IL-35 ; <tspan fill="#29abd4">IL-12+IL-18</tspan> ; <tspan fill="#f7901e">IL-12+IL-18+IL-35</tspan></text>
<line x1="26" y1="468.7" x2="188.7" y2="468.7" stroke="#111" stroke-width="0.9"/>
<defs><g id="tax"><line x1="-2" y1="72.5" x2="0" y2="72.5" stroke="#444" stroke-width="0.5"/>
<text x="-4.2" y="73.5" font-size="2.6" text-anchor="end" fill="#666">0</text>
<line x1="-2" y1="50.2" x2="0" y2="50.2" stroke="#444" stroke-width="0.5"/>
<text x="-4.2" y="51.2" font-size="2.6" text-anchor="end" fill="#666">50</text>
<line x1="-2" y1="27.9" x2="0" y2="27.9" stroke="#444" stroke-width="0.5"/>
<text x="-4.2" y="28.9" font-size="2.6" text-anchor="end" fill="#666">100</text>
<line x1="-2" y1="5.6" x2="0" y2="5.6" stroke="#444" stroke-width="0.5"/>
<text x="-4.2" y="6.6" font-size="2.6" text-anchor="end" fill="#666">150</text>
<line x1="-1" y1="74" x2="0" y2="74" stroke="#777" stroke-width="0.3"/>
<line x1="-1" y1="69.5" x2="0" y2="69.5" stroke="#777" stroke-width="0.3"/>
<line x1="-1" y1="65" x2="0" y2="65" stroke="#777" stroke-width="0.3"/>
<line x1="-1" y1="60.5" x2="0" y2="60.5" stroke="#777" stroke-width="0.3"/>
<line x1="-1" y1="56" x2="0" y2="56" stroke="#777" stroke-width="0.3"/>
<line x1="-1" y1="51.5" x2="0" y2="51.5" stroke="#777" stroke-width="0.3"/>
<line x1="-1" y1="47" x2="0" y2="47" stroke="#777" stroke-width="0.3"/>
<line x1="-1" y1="42.5" x2="0" y2="42.5" stroke="#777" stroke-width="0.3"/>
<line x1="-1" y1="38" x2="0" y2="38" stroke="#777" stroke-width="0.3"/>
<line x1="-1" y1="33.5" x2="0" y2="33.5" stroke="#777" stroke-width="0.3"/>
<line x1="-1" y1="29" x2="0" y2="29" stroke="#777" stroke-width="0.3"/>
<line x1="-1" y1="24.5" x2="0" y2="24.5" stroke="#777" stroke-width="0.3"/>
<line x1="-1" y1="20" x2="0" y2="20" stroke="#777" stroke-width="0.3"/>
<line x1="-1" y1="15.5" x2="0" y2="15.5" stroke="#777" stroke-width="0.3"/>
<line x1="-1" y1="11" x2="0" y2="11" stroke="#777" stroke-width="0.3"/>
<line x1="-1" y1="6.5" x2="0" y2="6.5" stroke="#777" stroke-width="0.3"/>
<line x1="5.8" y1="76.7" x2="5.8" y2="78.7" stroke="#444" stroke-width="0.5"/>
<text x="5.8" y="81.9" font-size="2.6" text-anchor="middle" fill="#666">0</text>
<line x1="27.3" y1="76.7" x2="27.3" y2="78.7" stroke="#444" stroke-width="0.5"/>
<text x="27.3" y="81.9" font-size="2.6" text-anchor="middle" fill="#666">50</text>
<line x1="48.8" y1="76.7" x2="48.8" y2="78.7" stroke="#444" stroke-width="0.5"/>
<text x="48.8" y="81.9" font-size="2.6" text-anchor="middle" fill="#666">100</text>
<line x1="70.3" y1="76.7" x2="70.3" y2="78.7" stroke="#444" stroke-width="0.5"/>
<text x="70.3" y="81.9" font-size="2.6" text-anchor="middle" fill="#666">150</text></g></defs>
<defs>
<pattern id="pg" width="6" height="6" patternUnits="userSpaceOnUse"><rect width="6" height="6" fill="#8c8c8c"/><path d="M0,1.5 Q1.5,0 3,1.5 T6,1.5 M0,4.5 Q1.5,3 3,4.5 T6,4.5" stroke="#f2f2f2" stroke-width="0.7" fill="none"/><circle cx="4.5" cy="3" r="0.7" fill="#333"/></pattern>
<pattern id="pk" width="14" height="14" patternUnits="userSpaceOnUse"><rect width="14" height="14" fill="#ffffff"/><path d="M6,9.2L5.8,10.5L6.5,11.6L7.4,12.6M11.6,3.8L10.3,3.9L9.6,5L9.8,6.3M1.1,8.2L0.3,9.2L-0.5,10.2L-1.8,10.1M12.3,0.7L13,1.8L14.3,1.3L15.2,0.4M5.5,11.7L4.8,12.8L4.4,14.1L5.1,15.2M9.5,5.9L8.8,7L9.9,7.8L11.1,8.2M13.6,0.4L14.9,0.6L16.1,1L17.3,0.5M7.6,2.5L6.9,3.6L5.6,3.5L4.6,2.7M5.8,7.8L6.6,6.8L7,5.5L7.1,4.2M10.5,8.5L11.7,9L12.2,7.9L11.2,7.1M7.7,9.4L7.2,8.2L6,7.7L6.1,6.4M0.9,9.2L0.1,8.3L-1,9L-1.9,10M1.1,4.2L2.1,4.9L2,6.2L0.8,6.5M8.8,8.4L9.8,9.1L9.3,10.3L8.1,10M12.8,1.3L14,1.7L14.7,2.8L16,2.7M5.2,5.6L5.3,4.3L4,4L4.3,2.8M5.1,13.2L4.1,12.3L4.9,11.3L4.9,10M7.1,6L7.2,4.7L8.5,4.4L9.6,3.7M4.5,3.1L4.2,1.9L4.9,0.8L5.7,-0.2M8.4,10.5L7.1,10.4L6.6,9.2L7.8,8.7M11.1,11.1L10.3,12.1L10.9,13.3L11.9,14.1M14,5.9L14.4,4.6L15.7,4.3L16.1,3.1M6.9,12.6L6.3,11.4L5.5,10.5L4.6,9.5M2.4,3L3.3,3.9L4.1,4.9L5.3,4.5M0.6,7.5L0.3,8.8L0,10.1L1,10.9M8.3,9.1L9.5,8.5L10.1,7.4L10.8,6.3M8,1.8L6.9,1.2L5.6,1.1L4.7,0.1M6.5,2.4L7.3,1.4L6.9,0.1L6.6,-1.1M10.7,1.9L11.8,2.6L11.2,3.8L10,4.2M6.6,0.1L5.3,-0.3L5.3,-1.6L4,-1.7M13,12.4L12.1,11.5L10.9,11L10.8,9.7M8.1,9.2L7.5,8L6.4,7.3L5.3,6.7M5.6,13.2L6.9,13.3L8.2,13.2L9.5,13.3M5,13.1L6.1,12.4L5.4,11.3L4.1,11.5M7.4,1.5L6.7,0.4L7.5,-0.6L7.1,-1.9M3.6,4.5L4.8,4.7L5.1,3.4L4.8,2.1M6.3,10.9L6.4,9.7L5.7,8.5L4.4,8.2M2.5,10.7L2.4,12L3,13.2L4.3,12.9M6.7,1.3L7.6,2.3L7.7,3.6L8.5,4.6M9.4,13.6L8.6,12.6L7.6,13.4L8.2,14.6M13.5,10L14,8.7L12.8,8.3L11.7,9.1M3.1,1.4L3.8,2.6L2.9,3.5L2.6,4.8M7.8,9.1L7.4,10.3L7.3,11.6L8,12.7M3.6,9.2L4.2,10.4L3.2,11.2L3.8,12.3M11.3,6.4L10.9,7.6L9.6,7.9L8.6,7.2M8.1,9.7L9.1,10.5L9,11.8L7.8,12.2M3.5,13.6L2.5,14.5L3.2,15.6L4.5,15.4M10.5,9.3L9.3,9.7L8.4,8.8L8.5,7.5M1.1,1.9L0,1.2L-0.6,0.1L-1.9,-0.1M13.7,6.4L12.6,5.8L12.5,4.5L11.4,3.9M12.1,11.9L12,13.2L13.3,13.3L13.8,14.5M5.3,10.4L4.8,11.6L3.6,11.2L2.6,11.9M11.6,5.4L12.8,4.9L12.9,3.6L14,2.8M3.7,6.8L4.5,7.8L5.7,8.5L6.7,7.7M0.5,12.3L-0.7,12.7L-2,12.6L-2.6,13.8M11.5,13.6L12.2,14.7L12.1,16L10.8,15.8M7.5,12.9L8.5,13.8L9.7,13.6L11,13.9M12.3,1.1L12,2.3L11.1,3.2L9.8,3.4M7.9,8.5L6.7,8.7L5.4,8.7L4.4,9.6M13,12L12,12.7L10.7,13.2L9.8,12.2M1,5.1L-0.2,5.4L-1.4,6L-2.5,6.6M9.6,3.4L8.5,2.8L8.1,1.6L8.5,0.3M0.7,4.5L-0.5,4.7L-0.4,6L-1.7,6.2M10.9,10.6L11.8,11.6L12.9,10.9L13.7,11.9M13.1,6.1L14.4,5.9L14.6,7.2L15.2,8.4M12.8,1L13.9,0.4L14.9,1.1L16.1,0.7M4.3,8.6L3.5,9.7L4.2,10.8L4.9,11.9M2.7,8L3.3,9.1L4.6,9.5L5,8.2M6.2,2.8L7.3,3.3L7.2,4.6L6.4,5.7M3.9,5.3L2.7,4.8L1.5,5.2L0.4,6M3.3,4L3.6,2.7L4.9,3L6.1,3.5M6.2,2.1L4.9,2.4L3.7,2.8L2.7,1.9M8.6,8.9L7.3,9L6.8,10.3L7.5,11.4M7.9,1.8L8.6,3L9.3,4L9,5.3M11.4,5.5L12.3,6.4L13.6,6.4L14.8,6.7" stroke="#1a1a1a" stroke-width="0.7" fill="none" stroke-linejoin="round"/></pattern><pattern id="pc" width="14" height="14" patternUnits="userSpaceOnUse"><rect width="14" height="14" fill="#f4fdfd"/><path d="M4.5,4.3L3.5,5.1L2.2,5.6L1.2,6.4M8.6,10.1L8.8,11.4L9.5,12.5L9.8,13.8M4.4,0.7L3.7,1.8L3.2,3L3.4,4.3M6.7,4.6L7.6,5.5L7,6.6L5.9,7.3M13.7,6.2L14.7,5.4L16,5.1L16.6,3.9M12.7,7L13.7,7.8L13,8.9L12.8,10.2M5.3,8.4L5.9,7.3L6.2,6L7.4,6.3M6.8,7.7L6,6.7L7.1,5.9L8.3,6.2M3.7,1.8L4.5,0.9L5.6,0.2L6.3,1.3M6.6,10.2L7.4,9.2L8.4,10L9.6,9.6M12.8,8.4L11.8,9.2L12,10.5L12.3,11.8M8.7,0.9L7.8,0L8.4,-1.1L8,-2.4M13.2,10L13.2,11.3L12.4,12.4L12.1,13.6M9.9,10.7L9.9,12L9.4,13.2L8.1,13.2M9.3,0.8L10.2,-0.2L9.9,-1.4L10.7,-2.4M12.1,8.2L12.3,9.5L12.8,10.7L11.9,11.7M9.2,2.2L7.9,2.3L7.2,1.2L6.1,1.8M8.6,0.1L8.3,-1.2L7.1,-1.3L5.9,-1.9M4.7,13.4L5.4,14.5L6.6,15L7.1,13.8M11.4,10.1L10.2,10.6L9.5,11.7L8.2,11.7M3.5,11.8L3.6,13.1L4.8,13.6L4.3,14.8M8.6,5.7L7.4,5L6.2,5.1L5.6,6.3M13,11.1L13.2,12.4L13.9,13.5L13.1,14.5M1.2,5.5L2.5,5.7L2.6,7L2.8,8.3M7.7,4.6L8.8,5.1L10.1,4.9L10.7,3.8M9.5,7.9L10.2,9L11.5,8.9L12.7,8.2M9.5,3.4L8.3,4L7,4L6.1,4.9M2.2,0.8L3.3,1.3L4.3,0.5L5.6,0.1M2.3,11.1L1.8,9.9L2.1,8.6L2.9,7.6M8.4,6.8L7.1,6.8L6.3,7.8L5.4,8.8M13.8,13.4L14.6,14.3L15.6,15.2L16.8,15M4.9,14L6.2,14.1L6.6,15.3L7.1,16.5M8.2,13.8L8.8,15L9.2,16.2L8.8,17.4M1.4,9.5L0.5,8.6L0.1,7.4L-0.2,6.1M12.6,0.8L13.8,1.3L15.1,1.5L16.4,1.7M9.8,1.3L10.4,2.5L11.6,1.9L12.6,1.1M2.3,5.3L1.8,4.1L0.5,4.2L-0.7,4M7.9,12.4L8.9,13.3L9.1,14.6L10.4,14.5M6.3,9.5L6.4,10.8L7.7,10.7L8.9,10.3M3.9,0.6L5.2,0.7L6.1,1.7L5.7,2.9M3.9,12.1L2.9,11.3L1.8,11.8L0.5,12.3M7.1,0.8L8.4,1.2L9.2,0.2L10.5,0.6M3.9,2L4.6,0.9L4.6,-0.4L5.7,-1.1M13.8,10.1L14.8,10.9L14.2,12.1L12.9,12.3M10.8,11.1L10.2,12.3L9,12.5L7.9,13.2M6.6,9.5L5.8,8.4L4.5,8.3L4.1,9.5M7.4,6.1L7.4,4.8L7.4,3.5L8.6,3.2M6.5,11.5L7.7,10.9L8.6,10L8.8,8.7M13,11.4L14.3,11.2L14.3,9.9L13.2,9.1M13.9,4.7L15.2,4.6L16.2,5.4L16.2,6.7M7.5,6.2L6.3,6.5L5.2,7.2L4.3,8.1M8,12.6L7.2,13.7L7.1,15L5.9,15.5M1.5,11L2.3,12L3.4,12.7L4.5,13.4M11.8,5.6L12.7,4.7L14,4.7L14.7,5.8M13.4,4.2L12.2,4.7L11,4.4L11,3.1M11,12.2L11.9,11.4L12.8,12.3L13.9,13.1M6.9,7.1L8.1,7.8L9,8.6L8.9,9.9M6.9,10.2L6.3,9.1L6.8,7.8L8.1,7.8M4.1,6.3L5.2,5.5L6,6.5L6.2,7.7M7.1,4.3L7.8,3.2L8.7,2.3L10,2.7M3.7,11.5L3.6,12.8L4.1,14L5.3,13.5M7.9,6.3L7.7,5.1L6.8,4.1L7.2,2.9M12,4.2L10.7,4.4L9.5,4.2L8.7,5.3M1.7,3L0.9,2L0.3,0.8L-0.9,0.3M8.2,0.1L9.3,-0.6L9.3,-1.9L10.2,-2.8M5.3,3.9L6.1,5L5.5,6.1L5.8,7.4M4.5,3.8L3.2,3.7L2.6,2.6L1.4,3M13.4,2.7L14.7,2.7L15.6,3.6L15.9,4.9M10.5,8L11.2,9.1L12.3,9.7L13.6,9.4M10.2,8.6L8.9,8.7L7.8,8L7.9,6.7" stroke="#16c6cc" stroke-width="0.75" fill="none" stroke-linejoin="round"/></pattern><pattern id="po" width="14" height="14" patternUnits="userSpaceOnUse"><rect width="14" height="14" fill="#fff8f0"/><path d="M4.9,6.2L5.9,7.1L6.3,8.3L7.6,8.2M7.3,10.6L7.1,9.3L7.9,8.4L8.9,9.2M4,4.1L4.1,2.8L4.2,1.5L2.9,1.5M5.6,8.3L6.9,8.5L7.7,7.6L6.7,6.7M13.2,4.2L12,4.7L12.3,5.9L12.9,7.1M13.3,11.1L12.5,12.2L11.4,11.6L10.3,10.9M0.7,1.3L1,2.6L0.9,3.9L1.9,4.7M1.6,6L0.3,6.3L-1,6.4L-2.3,6.3M7.6,0.5L7.4,-0.8L8.2,-1.9L9.5,-1.8M5,5.8L6.3,6L7,4.8L7.9,4M10.2,9.8L9,10.2L7.7,10.1L7.2,11.3M4.2,11.9L4.7,10.7L4.9,9.4L6.2,9.4M6.7,8.3L5.5,8.8L5.7,10.1L4.5,10.7M0.6,11.5L-0.1,12.6L-1.2,13.4L-2.1,14.3M0.5,10.1L0.1,8.9L1.1,7.9L2.3,7.6M9.7,10.1L9.6,11.4L9.3,12.7L10.4,13.5M8.3,5.9L8,4.6L9,3.8L9.9,2.9M1.4,2.1L2.2,1.1L3.4,1.7L4,0.6M13.8,4.7L12.9,3.7L13.4,2.5L14.7,2.8M11.8,1.3L13,0.6L14.2,0.8L14.7,-0.4M12.9,7.3L12.4,6.1L11.4,5.3L11.8,4M8.2,7.4L8.3,8.7L7.1,9L5.8,9.1M5.2,8.9L6,9.9L7.3,9.9L8.5,10.4M9.7,7.8L10.9,7.5L12,6.8L13.2,6.1M0.8,13.8L1,12.5L1.2,11.2L1.7,10M4.4,2.4L3.6,1.5L2.5,0.7L1.4,1.3M4.3,6.9L3.8,8.1L2.6,8.6L2.7,9.9M2.5,13.9L1.6,14.8L0.5,15.5L-0.8,15.3M2.8,12.7L3,14L2.6,15.2L1.3,14.8M2.6,6L1.3,6.4L0.3,7.1L-0.3,8.3M1.3,6L0.2,6.8L0,8.1L-1.1,8.7M0.5,10.8L0.2,9.6L-1.1,9.2L-2,10.1M10.2,13.1L9.1,12.3L8.5,11.2L7.3,11.7M8.9,10.3L8.1,9.3L6.8,9.2L5.5,9.1M9.3,12.5L9.6,11.3L8.4,10.7L7.2,10.3M3.5,10.4L4.6,9.7L5.9,9.5L5.8,8.3M6.2,4.9L5.8,6.2L6,7.4L4.7,7.6M3.1,4.6L1.9,4.1L1.5,2.9L0.4,2.2M1.6,3.4L1.7,2.1L2,0.8L0.8,0.4M8.3,11.7L7.2,11L5.9,11.1L5.9,12.4M5.6,3.6L6.8,3L6.5,1.7L7.8,1.4M13.8,4.5L12.5,4.2L11.3,4.7L10,5.1M11.2,5.7L10.9,7L10.2,8L9.9,9.3M11.8,2L13,2.5L14,1.7L14.7,0.6M12.6,8.3L12.4,7.1L13.6,6.6L14.6,7.3M3.9,3.2L4.3,1.9L4.8,0.7L4,-0.3M1.4,11.2L0.2,10.8L-0.8,9.9L-1.9,10.4M1.8,2.5L2.9,3L4,3.8L5.3,3.6M3.7,4.2L4.1,3L4.1,1.7L4.9,0.7M11.4,5.7L11.9,6.9L11.2,7.9L10.4,9M3.4,0.8L3,2L2.4,3.1L1.8,4.3M0.3,6.1L1.2,5.2L2.3,4.6L2,3.3M11,12.4L9.7,12.7L8.4,12.3L7.1,12.4M13.9,1.2L12.8,0.6L13.1,-0.6L12.3,-1.7M11.3,8.8L11.1,7.5L12.4,7L13.4,6.3M7.9,7.8L7.4,6.7L7.6,5.4L7.5,4.1M4.8,5.6L5.8,4.8L7,4.3L8.2,4.9M7.8,8.4L9,8.7L10.3,8.3L11.5,8.7M8.6,5.4L7.7,4.5L6.6,5.3L7,6.5M8.6,11.2L9.9,11.2L11,11.9L11.7,10.8M10.1,12.3L11.4,12.2L12.5,11.6L13.3,12.7M0.6,1.7L1.3,0.6L2.4,-0.1L2,-1.3M14,7L13.6,8.3L13.5,9.6L14.1,10.7M7.7,1.8L8.4,2.8L9.7,3.2L11,3.2M6.6,8.8L7,10L8.3,9.9L9.6,10.3M4.6,2.9L4.1,4.1L3.7,5.3L4.7,6.1M8.2,11L9.4,10.5L10.5,9.8L11.7,9.4M9.3,9.1L9.8,10.2L8.9,11.1L7.6,11.1M5.6,3.4L4.5,2.7L3.7,3.7L3.5,5M10.1,11.8L11.2,12.5L12.3,13.2L13.5,13.6" stroke="#ef7a10" stroke-width="0.75" fill="none" stroke-linejoin="round"/></pattern><pattern id="pw" width="14" height="14" patternUnits="userSpaceOnUse"><rect width="14" height="14" fill="#6a6a6a"/><path d="M6.1,7.9L7.2,8.5L8,7.5L8.7,6.4M10.9,13.5L10.4,12.3L10.7,11.1L10.3,9.8M2.5,0.6L1.3,1.1L0,1.1L-1.1,0.5M12.4,3.9L11.3,4.7L10.4,3.8L10.1,2.5M0.8,7.3L1,6L0.4,4.8L-0.7,5.5M11.8,1.5L10.6,0.9L9.5,1.5L8.8,2.6M3.9,12.5L2.7,12.2L1.8,13.1L2.6,14.2M6.1,12L7.4,11.6L8.7,11.7L9.2,10.5M4.1,1.5L4.6,2.7L5.9,2.5L6.5,1.4M5.7,4.7L7,4.5L7.2,5.8L6.8,7.1M3,3.7L3.5,2.5L3,1.3L2.6,0M8.3,8.1L9,9.2L9.3,10.4L10.6,10.3M10.6,6.9L9.4,7.3L8.6,6.3L9,5M11.3,3.6L10.6,4.7L10.7,6L9.5,6.4M1.1,10.9L1.9,11.8L3.1,11.3L4.3,11.8M11.3,7.4L12.6,7.4L12.9,8.7L13.4,9.9M12.6,6.1L12.4,7.3L11.1,7.6L10.5,6.4M8.2,3L7.2,2.3L5.9,2.2L4.9,1.3M13.3,2L14,3L15,3.9L16,3.1M1.8,2.3L2,1L1.2,0L0.2,-0.8M9.7,3.3L8.4,3.4L7.6,2.3L6.3,2.6M6,3.6L5.3,4.6L4.5,5.7L3.2,5.6M6.3,3.5L7.5,3L8.5,2.1L9,1M3.6,5L2.3,4.8L1.9,3.6L0.6,3.7M5.9,8.3L4.6,8.2L4.6,6.9L4,5.7M7,11.6L7.8,12.6L8.4,13.7L9.6,14.4M11.9,3.7L13.2,3.8L14.2,4.6L15.4,4.3M3.6,10.7L3.8,9.4L2.6,8.8L1.4,9.2M7.8,0.9L7.2,-0.2L6.3,-1.1L6.6,-2.4M4.3,11L3.5,11.9L2.4,12.7L1.7,13.8M5,3L4.8,4.3L5.8,5.1L7.1,5.1M7.8,12.3L8.8,11.6L9.4,10.4L9.2,9.1M6.3,0.8L5.8,2L4.5,1.9L3.2,1.7M5.8,13.6L5.4,12.4L4.5,11.4L5.2,10.3M12.5,2.3L13.7,2.7L13.3,4L13.5,5.3M8.4,10.6L7.2,10.2L5.9,9.8L4.6,9.8M12.8,9.9L11.6,9.5L10.5,10.1L10.2,11.4M6.8,6.3L5.5,6.2L4.3,6.6L3,6.5M10.3,11.6L10.3,10.3L10.5,9L10.6,7.7M7.5,9.4L8.2,10.5L9.1,11.5L10,10.5" stroke="#f0f0f0" stroke-width="0.5" fill="none" stroke-linejoin="round"/></pattern><pattern id="pc2" width="14" height="14" patternUnits="userSpaceOnUse"><rect width="14" height="14" fill="#d8f5f6"/><path d="M13.8,3.3L13.6,2.1L14.7,1.4L16,1.1M1.1,2.6L2.4,2.7L3.6,2.2L4.6,3M12.4,10.2L12.4,11.5L12.6,12.7L13.6,13.5M11.1,8.1L12,7.3L11.2,6.3L11.3,5M3.1,7.2L2.6,8.4L2.5,9.7L2.6,11M13.4,7.1L14.7,6.7L16,6.4L17.2,6M5.6,6L6.5,7L6.7,8.2L8,8.4M0.7,11.6L-0.6,11.4L-0.8,12.7L-1.4,13.9M0.6,12.8L-0.6,12.4L-0.9,11.1L-1.5,9.9M1.4,11.3L0.2,11.9L-1,12.1L-2.3,12.5M9.8,12.4L9.6,11.1L10.8,10.5L11.5,11.6M7.2,0.4L8.5,0.4L8.5,-0.9L7.9,-2.1M2.2,2.1L1.5,1L0.4,0.3L-0.9,0.3M12.7,4L13.8,4.7L15.1,4.5L15.8,5.7M12.1,6.9L11.1,6.2L11.5,5L10.3,4.4M13.1,9.7L12.8,10.9L13.4,12.1L12.4,12.9M12.6,12.7L11.6,13.5L11,14.7L10.5,15.9M11.5,12.2L10.3,12L9.3,11.1L8.1,11.6M0.5,10.7L-0.6,11.4L-0.5,12.7L0,13.9M5.2,11.5L5,10.2L6.1,9.4L6.4,8.1M12.3,2.4L13.5,2.2L14.6,1.5L15.8,2M7.4,8.9L6.4,9.8L5.1,9.7L4.8,8.4M5.3,1.9L5.9,3.1L5.2,4.2L4.1,4.8M1.4,0.9L0.1,0.9L-0.9,1.7L-2.2,1.9M7,7.6L5.7,7.4L4.8,6.5L5.6,5.4M9.6,9.5L10.3,10.6L10.4,11.9L9.5,12.9M3,1.3L3.3,0.1L2.1,-0.3L0.8,-0.3M6.1,11.2L5.5,12.3L4.2,12.4L2.9,12.6M1.4,5.5L2.7,5.6L3,4.3L2.8,3M7.4,0.6L8.5,-0.1L9.7,0.5L9.5,1.8M5.6,13.6L4.5,12.9L3.5,13.6L2.4,14.4M7.6,2.3L7.1,1.1L6.8,-0.1L5.6,-0.7" stroke="#22c8ce" stroke-width="0.6" fill="none" stroke-linejoin="round"/></pattern><pattern id="po2" width="14" height="14" patternUnits="userSpaceOnUse"><rect width="14" height="14" fill="#fde3cc"/><path d="M0.1,9.2L0.7,8L2,8L2.9,8.9M8.1,10.9L7.1,10.1L6.2,11L5,10.9M12.1,7.4L13,8.4L14.3,8.6L15.3,9.4M1.9,2.9L1,3.9L0.3,5L0.5,6.2M7.2,5.6L6.1,4.8L6.6,3.6L7.8,3.3M4.4,6.1L5.2,5L4.3,4.1L3.4,5.1M11.1,2.9L12.1,2L13,1.1L14.2,1.5M1.4,11.8L2.1,10.7L3.3,10.3L3.5,9M1,12.5L1.3,13.8L2.6,13.8L3,12.6M2.4,4.5L3.3,5.5L4.4,6.2L5.6,6.7M11.7,2.9L12.9,2.5L12.9,1.2L12.6,0M2.5,4.6L2,5.8L0.7,5.9L0.4,7.2M8.5,13.3L7.9,12.1L7,11.2L6.8,9.9M13.1,8L11.9,7.5L11.1,8.5L10.1,7.7M5.6,0.9L6.4,1.9L5.6,2.9L5.4,4.2M7.8,9L9,9.5L10.3,9.6L10.3,10.9M6.5,10L6.4,11.3L5.6,12.3L4.4,12.9M13.7,14L14.2,12.8L15.2,12L16.5,11.9M3.3,12L4,13.1L5.2,13.2L5.8,12.1M1.5,6.4L2.7,6.8L3.4,5.7L2.6,4.7M6.7,12.5L6.1,13.6L6.9,14.6L7.3,15.9M12.5,9L13.8,8.7L14.1,9.9L13.5,11.1M4.5,6.6L5.5,5.8L6.8,5.8L8.1,5.6M5.9,8.5L5.6,9.8L4.7,10.7L3.4,10.6M11.1,1.7L11.2,3L12.4,3.4L13.5,4.1M1.5,1.1L1.3,-0.2L0.4,-1.1L0.2,-2.4M4,6.6L3.4,7.8L2.1,7.9L1.7,9.1M11.1,10.8L11.4,9.5L12.6,9.2L13.5,8.2M4.3,10.5L5.2,11.3L5.7,12.5L4.9,13.5M5.2,11.2L4.4,10.2L3.4,9.5L2.9,8.3M4.3,0.5L3.1,0.1L1.8,0.4L1.7,1.7M0.8,7.8L1.5,6.8L0.6,5.9L0.5,4.6" stroke="#f08020" stroke-width="0.6" fill="none" stroke-linejoin="round"/></pattern>
<filter id="bl" x="-20%" y="-20%" width="140%" height="140%"><feGaussianBlur stdDeviation="1.6"/></filter>
<filter id="bl2" x="-20%" y="-20%" width="140%" height="140%"><feGaussianBlur stdDeviation="0.55"/></filter>
<linearGradient id="cbar" x1="0" x2="1" y1="0" y2="0"><stop offset="0" stop-color="#0028f0"/><stop offset="0.12" stop-color="#0050d0"/><stop offset="0.25" stop-color="#00907a"/><stop offset="0.4" stop-color="#40c020"/><stop offset="0.55" stop-color="#e8f020"/><stop offset="0.75" stop-color="#ffb010"/><stop offset="1" stop-color="#ff2010"/></linearGradient>
</defs>
<clipPath id="cp1"><path d="M53,491.4C53.3,489.4 54.2,487.8 55.4,486.7C56.5,485.5 58.3,484.8 60,484.3C61.8,483.9 63.9,483.5 65.9,483.8C67.8,484.1 69.8,485.2 71.7,486.1C73.7,487 75.6,487.7 77.6,489C79.5,490.3 81.6,492.1 83.4,493.7C85.1,495.2 87,496.8 88.1,498.4C89.1,499.9 89.7,501.6 89.8,503C89.9,504.5 89.5,506 88.6,507.1C87.8,508.2 86.2,508.9 84.6,509.5C82.9,510 80.7,510.5 78.7,510.6C76.8,510.7 74.8,510.4 72.9,510C70.9,509.6 69,509 67,508.3C65.1,507.6 63,506.8 61.2,505.9C59.5,505.1 57.8,504.3 56.5,503C55.3,501.8 54.2,500.3 53.6,498.4C53,496.4 52.7,493.3 53,491.4Z"/><path d="M34.3,519.4C34.5,517 35.3,514.5 36.1,512.4C36.9,510.2 37.9,508.1 39,506.5C40.1,505 41,503.8 42.5,503C44.1,502.3 46.4,501.9 48.4,501.9C50.3,501.9 52.3,502.1 54.2,503C56.1,504 58.1,506.7 60,507.7C62,508.7 63.9,508.5 65.9,508.9C67.8,509.3 69.8,509.8 71.7,510C73.7,510.2 75.6,509.8 77.6,510C79.5,510.2 81.3,510.8 83.4,511.2C85.5,511.6 88.3,511.8 90.4,512.4C92.5,513 95.1,513.5 96.2,514.7C97.4,515.9 97.6,517.8 97.4,519.4C97.2,520.9 95.7,522.3 95.1,524.1C94.5,525.8 94.7,528.1 93.9,529.9C93.1,531.6 92.2,533.2 90.4,534.6C88.6,535.9 85.7,537.1 83.4,538.1C81.1,539 78.7,539.6 76.4,540.4C74.1,541.2 71.5,542 69.4,542.7C67.2,543.5 65.5,544.6 63.5,545.1C61.6,545.6 59.6,545.7 57.7,545.7C55.8,545.7 53.8,545.8 51.9,545.1C49.9,544.4 47.6,542.7 46,541.6C44.5,540.4 43.9,539.6 42.5,538.1C41.2,536.5 39.1,534.2 37.8,532.2C36.6,530.3 35.5,528.5 34.9,526.4C34.3,524.2 34.1,521.7 34.3,519.4Z"/></clipPath>
<path d="M53,491.4C53.3,489.4 54.2,487.8 55.4,486.7C56.5,485.5 58.3,484.8 60,484.3C61.8,483.9 63.9,483.5 65.9,483.8C67.8,484.1 69.8,485.2 71.7,486.1C73.7,487 75.6,487.7 77.6,489C79.5,490.3 81.6,492.1 83.4,493.7C85.1,495.2 87,496.8 88.1,498.4C89.1,499.9 89.7,501.6 89.8,503C89.9,504.5 89.5,506 88.6,507.1C87.8,508.2 86.2,508.9 84.6,509.5C82.9,510 80.7,510.5 78.7,510.6C76.8,510.7 74.8,510.4 72.9,510C70.9,509.6 69,509 67,508.3C65.1,507.6 63,506.8 61.2,505.9C59.5,505.1 57.8,504.3 56.5,503C55.3,501.8 54.2,500.3 53.6,498.4C53,496.4 52.7,493.3 53,491.4Z" fill="#1030f0" stroke="none" stroke-width="1"/>
<path d="M34.3,519.4C34.5,517 35.3,514.5 36.1,512.4C36.9,510.2 37.9,508.1 39,506.5C40.1,505 41,503.8 42.5,503C44.1,502.3 46.4,501.9 48.4,501.9C50.3,501.9 52.3,502.1 54.2,503C56.1,504 58.1,506.7 60,507.7C62,508.7 63.9,508.5 65.9,508.9C67.8,509.3 69.8,509.8 71.7,510C73.7,510.2 75.6,509.8 77.6,510C79.5,510.2 81.3,510.8 83.4,511.2C85.5,511.6 88.3,511.8 90.4,512.4C92.5,513 95.1,513.5 96.2,514.7C97.4,515.9 97.6,517.8 97.4,519.4C97.2,520.9 95.7,522.3 95.1,524.1C94.5,525.8 94.7,528.1 93.9,529.9C93.1,531.6 92.2,533.2 90.4,534.6C88.6,535.9 85.7,537.1 83.4,538.1C81.1,539 78.7,539.6 76.4,540.4C74.1,541.2 71.5,542 69.4,542.7C67.2,543.5 65.5,544.6 63.5,545.1C61.6,545.6 59.6,545.7 57.7,545.7C55.8,545.7 53.8,545.8 51.9,545.1C49.9,544.4 47.6,542.7 46,541.6C44.5,540.4 43.9,539.6 42.5,538.1C41.2,536.5 39.1,534.2 37.8,532.2C36.6,530.3 35.5,528.5 34.9,526.4C34.3,524.2 34.1,521.7 34.3,519.4Z" fill="#1030f0" stroke="none" stroke-width="1"/>
<g clip-path="url(#cp1)"><g filter="url(#bl2)"><rect x="57" y="484.4" width="2.3" height="2.3" fill="#0028ff"/><rect x="58.7" y="484.4" width="2.3" height="2.3" fill="#0069ff"/><rect x="60.4" y="484.4" width="2.3" height="2.3" fill="#0069ff"/><rect x="62.1" y="484.4" width="2.3" height="2.3" fill="#00aaff"/><rect x="63.8" y="484.4" width="2.3" height="2.3" fill="#00ebff"/><rect x="65.5" y="484.4" width="2.3" height="2.3" fill="#0069ff"/><rect x="67.2" y="484.4" width="2.3" height="2.3" fill="#0069ff"/><rect x="68.9" y="484.4" width="2.3" height="2.3" fill="#0069ff"/><rect x="55.3" y="486.1" width="2.3" height="2.3" fill="#0069ff"/><rect x="57" y="486.1" width="2.3" height="2.3" fill="#00aaff"/><rect x="58.7" y="486.1" width="2.3" height="2.3" fill="#00ebff"/><rect x="60.4" y="486.1" width="2.3" height="2.3" fill="#00ebff"/><rect x="62.1" y="486.1" width="2.3" height="2.3" fill="#06f0b7"/><rect x="63.8" y="486.1" width="2.3" height="2.3" fill="#0df56f"/><rect x="65.5" y="486.1" width="2.3" height="2.3" fill="#0df56f"/><rect x="67.2" y="486.1" width="2.3" height="2.3" fill="#0df56f"/><rect x="68.9" y="486.1" width="2.3" height="2.3" fill="#0df56f"/><rect x="70.6" y="486.1" width="2.3" height="2.3" fill="#0069ff"/><rect x="72.3" y="486.1" width="2.3" height="2.3" fill="#0069ff"/><rect x="53.6" y="487.8" width="2.3" height="2.3" fill="#0069ff"/><rect x="55.3" y="487.8" width="2.3" height="2.3" fill="#00ebff"/><rect x="57" y="487.8" width="2.3" height="2.3" fill="#06f0b7"/><rect x="58.7" y="487.8" width="2.3" height="2.3" fill="#62fa1a"/><rect x="60.4" y="487.8" width="2.3" height="2.3" fill="#62fa1a"/><rect x="62.1" y="487.8" width="2.3" height="2.3" fill="#62fa1a"/><rect x="63.8" y="487.8" width="2.3" height="2.3" fill="#62fa1a"/><rect x="65.5" y="487.8" width="2.3" height="2.3" fill="#b0fa0d"/><rect x="67.2" y="487.8" width="2.3" height="2.3" fill="#62fa1a"/><rect x="68.9" y="487.8" width="2.3" height="2.3" fill="#fffa00"/><rect x="70.6" y="487.8" width="2.3" height="2.3" fill="#14fa28"/><rect x="72.3" y="487.8" width="2.3" height="2.3" fill="#00ebff"/><rect x="74" y="487.8" width="2.3" height="2.3" fill="#0069ff"/><rect x="75.7" y="487.8" width="2.3" height="2.3" fill="#0069ff"/><rect x="53.6" y="489.5" width="2.3" height="2.3" fill="#0069ff"/><rect x="55.3" y="489.5" width="2.3" height="2.3" fill="#06f0b7"/><rect x="57" y="489.5" width="2.3" height="2.3" fill="#14fa28"/><rect x="58.7" y="489.5" width="2.3" height="2.3" fill="#b0fa0d"/><rect x="60.4" y="489.5" width="2.3" height="2.3" fill="#b0fa0d"/><rect x="62.1" y="489.5" width="2.3" height="2.3" fill="#b0fa0d"/><rect x="63.8" y="489.5" width="2.3" height="2.3" fill="#ffad00"/><rect x="65.5" y="489.5" width="2.3" height="2.3" fill="#ff6000"/><rect x="67.2" y="489.5" width="2.3" height="2.3" fill="#fffa00"/><rect x="68.9" y="489.5" width="2.3" height="2.3" fill="#ffad00"/><rect x="70.6" y="489.5" width="2.3" height="2.3" fill="#b0fa0d"/><rect x="72.3" y="489.5" width="2.3" height="2.3" fill="#06f0b7"/><rect x="74" y="489.5" width="2.3" height="2.3" fill="#06f0b7"/><rect x="75.7" y="489.5" width="2.3" height="2.3" fill="#00aaff"/><rect x="77.4" y="489.5" width="2.3" height="2.3" fill="#0069ff"/><rect x="53.6" y="491.2" width="2.3" height="2.3" fill="#0069ff"/><rect x="55.3" y="491.2" width="2.3" height="2.3" fill="#0df56f"/><rect x="57" y="491.2" width="2.3" height="2.3" fill="#0df56f"/><rect x="58.7" y="491.2" width="2.3" height="2.3" fill="#06f0b7"/><rect x="60.4" y="491.2" width="2.3" height="2.3" fill="#0df56f"/><rect x="62.1" y="491.2" width="2.3" height="2.3" fill="#b0fa0d"/><rect x="63.8" y="491.2" width="2.3" height="2.3" fill="#ff6000"/><rect x="65.5" y="491.2" width="2.3" height="2.3" fill="#ff1400"/><rect x="67.2" y="491.2" width="2.3" height="2.3" fill="#ffad00"/><rect x="68.9" y="491.2" width="2.3" height="2.3" fill="#ffad00"/><rect x="70.6" y="491.2" width="2.3" height="2.3" fill="#fffa00"/><rect x="72.3" y="491.2" width="2.3" height="2.3" fill="#fffa00"/><rect x="74" y="491.2" width="2.3" height="2.3" fill="#b0fa0d"/><rect x="75.7" y="491.2" width="2.3" height="2.3" fill="#b0fa0d"/><rect x="77.4" y="491.2" width="2.3" height="2.3" fill="#62fa1a"/><rect x="79.1" y="491.2" width="2.3" height="2.3" fill="#0069ff"/><rect x="53.6" y="492.9" width="2.3" height="2.3" fill="#00aaff"/><rect x="55.3" y="492.9" width="2.3" height="2.3" fill="#0df56f"/><rect x="57" y="492.9" width="2.3" height="2.3" fill="#14fa28"/><rect x="58.7" y="492.9" width="2.3" height="2.3" fill="#06f0b7"/><rect x="60.4" y="492.9" width="2.3" height="2.3" fill="#06f0b7"/><rect x="62.1" y="492.9" width="2.3" height="2.3" fill="#62fa1a"/><rect x="63.8" y="492.9" width="2.3" height="2.3" fill="#b0fa0d"/><rect x="65.5" y="492.9" width="2.3" height="2.3" fill="#ff6000"/><rect x="67.2" y="492.9" width="2.3" height="2.3" fill="#ffad00"/><rect x="68.9" y="492.9" width="2.3" height="2.3" fill="#b0fa0d"/><rect x="70.6" y="492.9" width="2.3" height="2.3" fill="#b0fa0d"/><rect x="72.3" y="492.9" width="2.3" height="2.3" fill="#b0fa0d"/><rect x="74" y="492.9" width="2.3" height="2.3" fill="#fffa00"/><rect x="75.7" y="492.9" width="2.3" height="2.3" fill="#fffa00"/><rect x="77.4" y="492.9" width="2.3" height="2.3" fill="#14fa28"/><rect x="79.1" y="492.9" width="2.3" height="2.3" fill="#0df56f"/><rect x="80.8" y="492.9" width="2.3" height="2.3" fill="#0069ff"/><rect x="82.5" y="492.9" width="2.3" height="2.3" fill="#0028ff"/><rect x="53.6" y="494.6" width="2.3" height="2.3" fill="#0069ff"/><rect x="55.3" y="494.6" width="2.3" height="2.3" fill="#14fa28"/><rect x="57" y="494.6" width="2.3" height="2.3" fill="#62fa1a"/><rect x="58.7" y="494.6" width="2.3" height="2.3" fill="#00ebff"/><rect x="60.4" y="494.6" width="2.3" height="2.3" fill="#06f0b7"/><rect x="62.1" y="494.6" width="2.3" height="2.3" fill="#14fa28"/><rect x="63.8" y="494.6" width="2.3" height="2.3" fill="#b0fa0d"/><rect x="65.5" y="494.6" width="2.3" height="2.3" fill="#fffa00"/><rect x="67.2" y="494.6" width="2.3" height="2.3" fill="#b0fa0d"/><rect x="68.9" y="494.6" width="2.3" height="2.3" fill="#b0fa0d"/><rect x="70.6" y="494.6" width="2.3" height="2.3" fill="#b0fa0d"/><rect x="72.3" y="494.6" width="2.3" height="2.3" fill="#62fa1a"/><rect x="74" y="494.6" width="2.3" height="2.3" fill="#14fa28"/><rect x="75.7" y="494.6" width="2.3" height="2.3" fill="#62fa1a"/><rect x="77.4" y="494.6" width="2.3" height="2.3" fill="#0df56f"/><rect x="79.1" y="494.6" width="2.3" height="2.3" fill="#00ebff"/><rect x="80.8" y="494.6" width="2.3" height="2.3" fill="#0069ff"/><rect x="82.5" y="494.6" width="2.3" height="2.3" fill="#0069ff"/><rect x="84.2" y="494.6" width="2.3" height="2.3" fill="#0069ff"/><rect x="53.6" y="496.3" width="2.3" height="2.3" fill="#0069ff"/><rect x="55.3" y="496.3" width="2.3" height="2.3" fill="#06f0b7"/><rect x="57" y="496.3" width="2.3" height="2.3" fill="#06f0b7"/><rect x="58.7" y="496.3" width="2.3" height="2.3" fill="#06f0b7"/><rect x="60.4" y="496.3" width="2.3" height="2.3" fill="#06f0b7"/><rect x="62.1" y="496.3" width="2.3" height="2.3" fill="#62fa1a"/><rect x="63.8" y="496.3" width="2.3" height="2.3" fill="#b0fa0d"/><rect x="65.5" y="496.3" width="2.3" height="2.3" fill="#b0fa0d"/><rect x="67.2" y="496.3" width="2.3" height="2.3" fill="#b0fa0d"/><rect x="68.9" y="496.3" width="2.3" height="2.3" fill="#b0fa0d"/><rect x="70.6" y="496.3" width="2.3" height="2.3" fill="#fffa00"/><rect x="72.3" y="496.3" width="2.3" height="2.3" fill="#fffa00"/><rect x="74" y="496.3" width="2.3" height="2.3" fill="#fffa00"/><rect x="75.7" y="496.3" width="2.3" height="2.3" fill="#62fa1a"/><rect x="77.4" y="496.3" width="2.3" height="2.3" fill="#0df56f"/><rect x="79.1" y="496.3" width="2.3" height="2.3" fill="#00ebff"/><rect x="80.8" y="496.3" width="2.3" height="2.3" fill="#00aaff"/><rect x="82.5" y="496.3" width="2.3" height="2.3" fill="#00aaff"/><rect x="84.2" y="496.3" width="2.3" height="2.3" fill="#0069ff"/><rect x="85.9" y="496.3" width="2.3" height="2.3" fill="#0069ff"/><rect x="53.6" y="498" width="2.3" height="2.3" fill="#0028ff"/><rect x="55.3" y="498" width="2.3" height="2.3" fill="#0028ff"/><rect x="57" y="498" width="2.3" height="2.3" fill="#0069ff"/><rect x="58.7" y="498" width="2.3" height="2.3" fill="#00ebff"/><rect x="60.4" y="498" width="2.3" height="2.3" fill="#0df56f"/><rect x="62.1" y="498" width="2.3" height="2.3" fill="#ffad00"/><rect x="63.8" y="498" width="2.3" height="2.3" fill="#ff6000"/><rect x="65.5" y="498" width="2.3" height="2.3" fill="#b0fa0d"/><rect x="67.2" y="498" width="2.3" height="2.3" fill="#b0fa0d"/><rect x="68.9" y="498" width="2.3" height="2.3" fill="#b0fa0d"/><rect x="70.6" y="498" width="2.3" height="2.3" fill="#fffa00"/><rect x="72.3" y="498" width="2.3" height="2.3" fill="#ff1400"/><rect x="74" y="498" width="2.3" height="2.3" fill="#ff1400"/><rect x="75.7" y="498" width="2.3" height="2.3" fill="#fffa00"/><rect x="77.4" y="498" width="2.3" height="2.3" fill="#62fa1a"/><rect x="79.1" y="498" width="2.3" height="2.3" fill="#06f0b7"/><rect x="80.8" y="498" width="2.3" height="2.3" fill="#00aaff"/><rect x="82.5" y="498" width="2.3" height="2.3" fill="#00ebff"/><rect x="84.2" y="498" width="2.3" height="2.3" fill="#00aaff"/><rect x="85.9" y="498" width="2.3" height="2.3" fill="#0028ff"/><rect x="55.3" y="499.7" width="2.3" height="2.3" fill="#0069ff"/><rect x="57" y="499.7" width="2.3" height="2.3" fill="#00ebff"/><rect x="58.7" y="499.7" width="2.3" height="2.3" fill="#0df56f"/><rect x="60.4" y="499.7" width="2.3" height="2.3" fill="#14fa28"/><rect x="62.1" y="499.7" width="2.3" height="2.3" fill="#ffad00"/><rect x="63.8" y="499.7" width="2.3" height="2.3" fill="#ff6000"/><rect x="65.5" y="499.7" width="2.3" height="2.3" fill="#ffad00"/><rect x="67.2" y="499.7" width="2.3" height="2.3" fill="#b0fa0d"/><rect x="68.9" y="499.7" width="2.3" height="2.3" fill="#14fa28"/><rect x="70.6" y="499.7" width="2.3" height="2.3" fill="#b0fa0d"/><rect x="72.3" y="499.7" width="2.3" height="2.3" fill="#ff1400"/><rect x="74" y="499.7" width="2.3" height="2.3" fill="#ff1400"/><rect x="75.7" y="499.7" width="2.3" height="2.3" fill="#ff1400"/><rect x="77.4" y="499.7" width="2.3" height="2.3" fill="#fffa00"/><rect x="79.1" y="499.7" width="2.3" height="2.3" fill="#62fa1a"/><rect x="80.8" y="499.7" width="2.3" height="2.3" fill="#06f0b7"/><rect x="82.5" y="499.7" width="2.3" height="2.3" fill="#00ebff"/><rect x="84.2" y="499.7" width="2.3" height="2.3" fill="#00ebff"/><rect x="85.9" y="499.7" width="2.3" height="2.3" fill="#00aaff"/><rect x="87.6" y="499.7" width="2.3" height="2.3" fill="#0028ff"/><rect x="55.3" y="501.4" width="2.3" height="2.3" fill="#0069ff"/><rect x="57" y="501.4" width="2.3" height="2.3" fill="#0069ff"/><rect x="58.7" y="501.4" width="2.3" height="2.3" fill="#0df56f"/><rect x="60.4" y="501.4" width="2.3" height="2.3" fill="#0df56f"/><rect x="62.1" y="501.4" width="2.3" height="2.3" fill="#b0fa0d"/><rect x="63.8" y="501.4" width="2.3" height="2.3" fill="#ffad00"/><rect x="65.5" y="501.4" width="2.3" height="2.3" fill="#ff6000"/><rect x="67.2" y="501.4" width="2.3" height="2.3" fill="#fffa00"/><rect x="68.9" y="501.4" width="2.3" height="2.3" fill="#14fa28"/><rect x="70.6" y="501.4" width="2.3" height="2.3" fill="#b0fa0d"/><rect x="72.3" y="501.4" width="2.3" height="2.3" fill="#b0fa0d"/><rect x="74" y="501.4" width="2.3" height="2.3" fill="#ffad00"/><rect x="75.7" y="501.4" width="2.3" height="2.3" fill="#ff6000"/><rect x="77.4" y="501.4" width="2.3" height="2.3" fill="#ffad00"/><rect x="79.1" y="501.4" width="2.3" height="2.3" fill="#b0fa0d"/><rect x="80.8" y="501.4" width="2.3" height="2.3" fill="#06f0b7"/><rect x="82.5" y="501.4" width="2.3" height="2.3" fill="#00ebff"/><rect x="84.2" y="501.4" width="2.3" height="2.3" fill="#06f0b7"/><rect x="85.9" y="501.4" width="2.3" height="2.3" fill="#06f0b7"/><rect x="87.6" y="501.4" width="2.3" height="2.3" fill="#0028ff"/><rect x="58.7" y="503.1" width="2.3" height="2.3" fill="#0069ff"/><rect x="60.4" y="503.1" width="2.3" height="2.3" fill="#06f0b7"/><rect x="62.1" y="503.1" width="2.3" height="2.3" fill="#0df56f"/><rect x="63.8" y="503.1" width="2.3" height="2.3" fill="#62fa1a"/><rect x="65.5" y="503.1" width="2.3" height="2.3" fill="#fffa00"/><rect x="67.2" y="503.1" width="2.3" height="2.3" fill="#fffa00"/><rect x="68.9" y="503.1" width="2.3" height="2.3" fill="#b0fa0d"/><rect x="70.6" y="503.1" width="2.3" height="2.3" fill="#fffa00"/><rect x="72.3" y="503.1" width="2.3" height="2.3" fill="#b0fa0d"/><rect x="74" y="503.1" width="2.3" height="2.3" fill="#fffa00"/><rect x="75.7" y="503.1" width="2.3" height="2.3" fill="#b0fa0d"/><rect x="77.4" y="503.1" width="2.3" height="2.3" fill="#62fa1a"/><rect x="79.1" y="503.1" width="2.3" height="2.3" fill="#0df56f"/><rect x="80.8" y="503.1" width="2.3" height="2.3" fill="#14fa28"/><rect x="82.5" y="503.1" width="2.3" height="2.3" fill="#14fa28"/><rect x="84.2" y="503.1" width="2.3" height="2.3" fill="#06f0b7"/><rect x="85.9" y="503.1" width="2.3" height="2.3" fill="#06f0b7"/><rect x="87.6" y="503.1" width="2.3" height="2.3" fill="#0028ff"/><rect x="60.4" y="504.8" width="2.3" height="2.3" fill="#0069ff"/><rect x="62.1" y="504.8" width="2.3" height="2.3" fill="#0069ff"/><rect x="63.8" y="504.8" width="2.3" height="2.3" fill="#06f0b7"/><rect x="65.5" y="504.8" width="2.3" height="2.3" fill="#0df56f"/><rect x="67.2" y="504.8" width="2.3" height="2.3" fill="#62fa1a"/><rect x="68.9" y="504.8" width="2.3" height="2.3" fill="#fffa00"/><rect x="70.6" y="504.8" width="2.3" height="2.3" fill="#ffad00"/><rect x="72.3" y="504.8" width="2.3" height="2.3" fill="#62fa1a"/><rect x="74" y="504.8" width="2.3" height="2.3" fill="#0df56f"/><rect x="75.7" y="504.8" width="2.3" height="2.3" fill="#62fa1a"/><rect x="77.4" y="504.8" width="2.3" height="2.3" fill="#06f0b7"/><rect x="79.1" y="504.8" width="2.3" height="2.3" fill="#00ebff"/><rect x="80.8" y="504.8" width="2.3" height="2.3" fill="#14fa28"/><rect x="82.5" y="504.8" width="2.3" height="2.3" fill="#14fa28"/><rect x="84.2" y="504.8" width="2.3" height="2.3" fill="#06f0b7"/><rect x="85.9" y="504.8" width="2.3" height="2.3" fill="#00ebff"/><rect x="87.6" y="504.8" width="2.3" height="2.3" fill="#0028ff"/><rect x="65.5" y="506.5" width="2.3" height="2.3" fill="#0069ff"/><rect x="67.2" y="506.5" width="2.3" height="2.3" fill="#0069ff"/><rect x="68.9" y="506.5" width="2.3" height="2.3" fill="#0df56f"/><rect x="70.6" y="506.5" width="2.3" height="2.3" fill="#14fa28"/><rect x="72.3" y="506.5" width="2.3" height="2.3" fill="#06f0b7"/><rect x="74" y="506.5" width="2.3" height="2.3" fill="#06f0b7"/><rect x="75.7" y="506.5" width="2.3" height="2.3" fill="#62fa1a"/><rect x="77.4" y="506.5" width="2.3" height="2.3" fill="#0df56f"/><rect x="79.1" y="506.5" width="2.3" height="2.3" fill="#06f0b7"/><rect x="80.8" y="506.5" width="2.3" height="2.3" fill="#0df56f"/><rect x="82.5" y="506.5" width="2.3" height="2.3" fill="#0df56f"/><rect x="84.2" y="506.5" width="2.3" height="2.3" fill="#0069ff"/><rect x="85.9" y="506.5" width="2.3" height="2.3" fill="#0069ff"/><rect x="70.6" y="508.2" width="2.3" height="2.3" fill="#0069ff"/><rect x="72.3" y="508.2" width="2.3" height="2.3" fill="#0069ff"/><rect x="74" y="508.2" width="2.3" height="2.3" fill="#0069ff"/><rect x="75.7" y="508.2" width="2.3" height="2.3" fill="#0069ff"/><rect x="77.4" y="508.2" width="2.3" height="2.3" fill="#0069ff"/><rect x="79.1" y="508.2" width="2.3" height="2.3" fill="#0069ff"/><rect x="80.8" y="508.2" width="2.3" height="2.3" fill="#0069ff"/><rect x="82.5" y="508.2" width="2.3" height="2.3" fill="#0069ff"/><rect x="41.7" y="502.5" width="2.3" height="2.3" fill="#0069ff"/><rect x="43.4" y="502.5" width="2.3" height="2.3" fill="#0028ff"/><rect x="45.1" y="502.5" width="2.3" height="2.3" fill="#0069ff"/><rect x="46.8" y="502.5" width="2.3" height="2.3" fill="#06f0b7"/><rect x="48.5" y="502.5" width="2.3" height="2.3" fill="#00ebff"/><rect x="50.2" y="502.5" width="2.3" height="2.3" fill="#0069ff"/><rect x="51.9" y="502.5" width="2.3" height="2.3" fill="#0069ff"/><rect x="53.6" y="502.5" width="2.3" height="2.3" fill="#0069ff"/><rect x="40" y="504.2" width="2.3" height="2.3" fill="#0069ff"/><rect x="41.7" y="504.2" width="2.3" height="2.3" fill="#00ebff"/><rect x="43.4" y="504.2" width="2.3" height="2.3" fill="#00aaff"/><rect x="45.1" y="504.2" width="2.3" height="2.3" fill="#00aaff"/><rect x="46.8" y="504.2" width="2.3" height="2.3" fill="#00aaff"/><rect x="48.5" y="504.2" width="2.3" height="2.3" fill="#00ebff"/><rect x="50.2" y="504.2" width="2.3" height="2.3" fill="#00ebff"/><rect x="51.9" y="504.2" width="2.3" height="2.3" fill="#0069ff"/><rect x="53.6" y="504.2" width="2.3" height="2.3" fill="#0028ff"/><rect x="55.3" y="504.2" width="2.3" height="2.3" fill="#0028ff"/><rect x="38.3" y="505.9" width="2.3" height="2.3" fill="#0069ff"/><rect x="40" y="505.9" width="2.3" height="2.3" fill="#06f0b7"/><rect x="41.7" y="505.9" width="2.3" height="2.3" fill="#06f0b7"/><rect x="43.4" y="505.9" width="2.3" height="2.3" fill="#06f0b7"/><rect x="45.1" y="505.9" width="2.3" height="2.3" fill="#06f0b7"/><rect x="46.8" y="505.9" width="2.3" height="2.3" fill="#06f0b7"/><rect x="48.5" y="505.9" width="2.3" height="2.3" fill="#0df56f"/><rect x="50.2" y="505.9" width="2.3" height="2.3" fill="#62fa1a"/><rect x="51.9" y="505.9" width="2.3" height="2.3" fill="#0df56f"/><rect x="53.6" y="505.9" width="2.3" height="2.3" fill="#00ebff"/><rect x="55.3" y="505.9" width="2.3" height="2.3" fill="#00aaff"/><rect x="57" y="505.9" width="2.3" height="2.3" fill="#0069ff"/><rect x="38.3" y="507.6" width="2.3" height="2.3" fill="#0069ff"/><rect x="40" y="507.6" width="2.3" height="2.3" fill="#62fa1a"/><rect x="41.7" y="507.6" width="2.3" height="2.3" fill="#62fa1a"/><rect x="43.4" y="507.6" width="2.3" height="2.3" fill="#14fa28"/><rect x="45.1" y="507.6" width="2.3" height="2.3" fill="#0df56f"/><rect x="46.8" y="507.6" width="2.3" height="2.3" fill="#0df56f"/><rect x="48.5" y="507.6" width="2.3" height="2.3" fill="#fffa00"/><rect x="50.2" y="507.6" width="2.3" height="2.3" fill="#ff1400"/><rect x="51.9" y="507.6" width="2.3" height="2.3" fill="#fffa00"/><rect x="53.6" y="507.6" width="2.3" height="2.3" fill="#62fa1a"/><rect x="55.3" y="507.6" width="2.3" height="2.3" fill="#06f0b7"/><rect x="57" y="507.6" width="2.3" height="2.3" fill="#06f0b7"/><rect x="58.7" y="507.6" width="2.3" height="2.3" fill="#0069ff"/><rect x="60.4" y="507.6" width="2.3" height="2.3" fill="#0069ff"/><rect x="62.1" y="507.6" width="2.3" height="2.3" fill="#0069ff"/><rect x="36.6" y="509.3" width="2.3" height="2.3" fill="#0028ff"/><rect x="38.3" y="509.3" width="2.3" height="2.3" fill="#00ebff"/><rect x="40" y="509.3" width="2.3" height="2.3" fill="#14fa28"/><rect x="41.7" y="509.3" width="2.3" height="2.3" fill="#62fa1a"/><rect x="43.4" y="509.3" width="2.3" height="2.3" fill="#62fa1a"/><rect x="45.1" y="509.3" width="2.3" height="2.3" fill="#62fa1a"/><rect x="46.8" y="509.3" width="2.3" height="2.3" fill="#14fa28"/><rect x="48.5" y="509.3" width="2.3" height="2.3" fill="#fffa00"/><rect x="50.2" y="509.3" width="2.3" height="2.3" fill="#ff1400"/><rect x="51.9" y="509.3" width="2.3" height="2.3" fill="#ff6000"/><rect x="53.6" y="509.3" width="2.3" height="2.3" fill="#ffad00"/><rect x="55.3" y="509.3" width="2.3" height="2.3" fill="#62fa1a"/><rect x="57" y="509.3" width="2.3" height="2.3" fill="#0df56f"/><rect x="58.7" y="509.3" width="2.3" height="2.3" fill="#b0fa0d"/><rect x="60.4" y="509.3" width="2.3" height="2.3" fill="#ffad00"/><rect x="62.1" y="509.3" width="2.3" height="2.3" fill="#b0fa0d"/><rect x="63.8" y="509.3" width="2.3" height="2.3" fill="#62fa1a"/><rect x="65.5" y="509.3" width="2.3" height="2.3" fill="#0069ff"/><rect x="67.2" y="509.3" width="2.3" height="2.3" fill="#0069ff"/><rect x="68.9" y="509.3" width="2.3" height="2.3" fill="#0069ff"/><rect x="70.6" y="509.3" width="2.3" height="2.3" fill="#0069ff"/><rect x="72.3" y="509.3" width="2.3" height="2.3" fill="#0069ff"/><rect x="74" y="509.3" width="2.3" height="2.3" fill="#0069ff"/><rect x="75.7" y="509.3" width="2.3" height="2.3" fill="#0069ff"/><rect x="77.4" y="509.3" width="2.3" height="2.3" fill="#0069ff"/><rect x="36.6" y="511" width="2.3" height="2.3" fill="#0028ff"/><rect x="38.3" y="511" width="2.3" height="2.3" fill="#0069ff"/><rect x="40" y="511" width="2.3" height="2.3" fill="#06f0b7"/><rect x="41.7" y="511" width="2.3" height="2.3" fill="#0df56f"/><rect x="43.4" y="511" width="2.3" height="2.3" fill="#62fa1a"/><rect x="45.1" y="511" width="2.3" height="2.3" fill="#b0fa0d"/><rect x="46.8" y="511" width="2.3" height="2.3" fill="#62fa1a"/><rect x="48.5" y="511" width="2.3" height="2.3" fill="#ffad00"/><rect x="50.2" y="511" width="2.3" height="2.3" fill="#ff1400"/><rect x="51.9" y="511" width="2.3" height="2.3" fill="#ff1400"/><rect x="53.6" y="511" width="2.3" height="2.3" fill="#ff1400"/><rect x="55.3" y="511" width="2.3" height="2.3" fill="#ffad00"/><rect x="57" y="511" width="2.3" height="2.3" fill="#fffa00"/><rect x="58.7" y="511" width="2.3" height="2.3" fill="#ff6000"/><rect x="60.4" y="511" width="2.3" height="2.3" fill="#ff6000"/><rect x="62.1" y="511" width="2.3" height="2.3" fill="#fffa00"/><rect x="63.8" y="511" width="2.3" height="2.3" fill="#b0fa0d"/><rect x="65.5" y="511" width="2.3" height="2.3" fill="#14fa28"/><rect x="67.2" y="511" width="2.3" height="2.3" fill="#0df56f"/><rect x="68.9" y="511" width="2.3" height="2.3" fill="#b0fa0d"/><rect x="70.6" y="511" width="2.3" height="2.3" fill="#62fa1a"/><rect x="72.3" y="511" width="2.3" height="2.3" fill="#62fa1a"/><rect x="74" y="511" width="2.3" height="2.3" fill="#62fa1a"/><rect x="75.7" y="511" width="2.3" height="2.3" fill="#b0fa0d"/><rect x="77.4" y="511" width="2.3" height="2.3" fill="#14fa28"/><rect x="79.1" y="511" width="2.3" height="2.3" fill="#14fa28"/><rect x="80.8" y="511" width="2.3" height="2.3" fill="#0069ff"/><rect x="82.5" y="511" width="2.3" height="2.3" fill="#0069ff"/><rect x="84.2" y="511" width="2.3" height="2.3" fill="#0069ff"/><rect x="85.9" y="511" width="2.3" height="2.3" fill="#0028ff"/><rect x="34.9" y="512.7" width="2.3" height="2.3" fill="#0028ff"/><rect x="36.6" y="512.7" width="2.3" height="2.3" fill="#06f0b7"/><rect x="38.3" y="512.7" width="2.3" height="2.3" fill="#0df56f"/><rect x="40" y="512.7" width="2.3" height="2.3" fill="#00ebff"/><rect x="41.7" y="512.7" width="2.3" height="2.3" fill="#06f0b7"/><rect x="43.4" y="512.7" width="2.3" height="2.3" fill="#14fa28"/><rect x="45.1" y="512.7" width="2.3" height="2.3" fill="#62fa1a"/><rect x="46.8" y="512.7" width="2.3" height="2.3" fill="#b0fa0d"/><rect x="48.5" y="512.7" width="2.3" height="2.3" fill="#b0fa0d"/><rect x="50.2" y="512.7" width="2.3" height="2.3" fill="#b0fa0d"/><rect x="51.9" y="512.7" width="2.3" height="2.3" fill="#ffad00"/><rect x="53.6" y="512.7" width="2.3" height="2.3" fill="#ff6000"/><rect x="55.3" y="512.7" width="2.3" height="2.3" fill="#ff1400"/><rect x="57" y="512.7" width="2.3" height="2.3" fill="#ff6000"/><rect x="58.7" y="512.7" width="2.3" height="2.3" fill="#ff1400"/><rect x="60.4" y="512.7" width="2.3" height="2.3" fill="#ff1400"/><rect x="62.1" y="512.7" width="2.3" height="2.3" fill="#ff1400"/><rect x="63.8" y="512.7" width="2.3" height="2.3" fill="#ff1400"/><rect x="65.5" y="512.7" width="2.3" height="2.3" fill="#ffad00"/><rect x="67.2" y="512.7" width="2.3" height="2.3" fill="#fffa00"/><rect x="68.9" y="512.7" width="2.3" height="2.3" fill="#b0fa0d"/><rect x="70.6" y="512.7" width="2.3" height="2.3" fill="#62fa1a"/><rect x="72.3" y="512.7" width="2.3" height="2.3" fill="#14fa28"/><rect x="74" y="512.7" width="2.3" height="2.3" fill="#62fa1a"/><rect x="75.7" y="512.7" width="2.3" height="2.3" fill="#14fa28"/><rect x="77.4" y="512.7" width="2.3" height="2.3" fill="#62fa1a"/><rect x="79.1" y="512.7" width="2.3" height="2.3" fill="#b0fa0d"/><rect x="80.8" y="512.7" width="2.3" height="2.3" fill="#0df56f"/><rect x="82.5" y="512.7" width="2.3" height="2.3" fill="#06f0b7"/><rect x="84.2" y="512.7" width="2.3" height="2.3" fill="#0df56f"/><rect x="85.9" y="512.7" width="2.3" height="2.3" fill="#0df56f"/><rect x="87.6" y="512.7" width="2.3" height="2.3" fill="#0df56f"/><rect x="89.3" y="512.7" width="2.3" height="2.3" fill="#0069ff"/><rect x="91" y="512.7" width="2.3" height="2.3" fill="#0028ff"/><rect x="92.7" y="512.7" width="2.3" height="2.3" fill="#0028ff"/><rect x="34.9" y="514.4" width="2.3" height="2.3" fill="#0069ff"/><rect x="36.6" y="514.4" width="2.3" height="2.3" fill="#14fa28"/><rect x="38.3" y="514.4" width="2.3" height="2.3" fill="#14fa28"/><rect x="40" y="514.4" width="2.3" height="2.3" fill="#06f0b7"/><rect x="41.7" y="514.4" width="2.3" height="2.3" fill="#0df56f"/><rect x="43.4" y="514.4" width="2.3" height="2.3" fill="#62fa1a"/><rect x="45.1" y="514.4" width="2.3" height="2.3" fill="#b0fa0d"/><rect x="46.8" y="514.4" width="2.3" height="2.3" fill="#b0fa0d"/><rect x="48.5" y="514.4" width="2.3" height="2.3" fill="#62fa1a"/><rect x="50.2" y="514.4" width="2.3" height="2.3" fill="#62fa1a"/><rect x="51.9" y="514.4" width="2.3" height="2.3" fill="#b0fa0d"/><rect x="53.6" y="514.4" width="2.3" height="2.3" fill="#ffad00"/><rect x="55.3" y="514.4" width="2.3" height="2.3" fill="#ff1400"/><rect x="57" y="514.4" width="2.3" height="2.3" fill="#ff1400"/><rect x="58.7" y="514.4" width="2.3" height="2.3" fill="#ff1400"/><rect x="60.4" y="514.4" width="2.3" height="2.3" fill="#ff1400"/><rect x="62.1" y="514.4" width="2.3" height="2.3" fill="#ff1400"/><rect x="63.8" y="514.4" width="2.3" height="2.3" fill="#ff1400"/><rect x="65.5" y="514.4" width="2.3" height="2.3" fill="#ff1400"/><rect x="67.2" y="514.4" width="2.3" height="2.3" fill="#ff6000"/><rect x="68.9" y="514.4" width="2.3" height="2.3" fill="#b0fa0d"/><rect x="70.6" y="514.4" width="2.3" height="2.3" fill="#b0fa0d"/><rect x="72.3" y="514.4" width="2.3" height="2.3" fill="#14fa28"/><rect x="74" y="514.4" width="2.3" height="2.3" fill="#0df56f"/><rect x="75.7" y="514.4" width="2.3" height="2.3" fill="#0df56f"/><rect x="77.4" y="514.4" width="2.3" height="2.3" fill="#62fa1a"/><rect x="79.1" y="514.4" width="2.3" height="2.3" fill="#b0fa0d"/><rect x="80.8" y="514.4" width="2.3" height="2.3" fill="#14fa28"/><rect x="82.5" y="514.4" width="2.3" height="2.3" fill="#06f0b7"/><rect x="84.2" y="514.4" width="2.3" height="2.3" fill="#62fa1a"/><rect x="85.9" y="514.4" width="2.3" height="2.3" fill="#62fa1a"/><rect x="87.6" y="514.4" width="2.3" height="2.3" fill="#14fa28"/><rect x="89.3" y="514.4" width="2.3" height="2.3" fill="#0df56f"/><rect x="91" y="514.4" width="2.3" height="2.3" fill="#0069ff"/><rect x="92.7" y="514.4" width="2.3" height="2.3" fill="#0069ff"/><rect x="94.4" y="514.4" width="2.3" height="2.3" fill="#0069ff"/><rect x="34.9" y="516.1" width="2.3" height="2.3" fill="#0069ff"/><rect x="36.6" y="516.1" width="2.3" height="2.3" fill="#62fa1a"/><rect x="38.3" y="516.1" width="2.3" height="2.3" fill="#b0fa0d"/><rect x="40" y="516.1" width="2.3" height="2.3" fill="#62fa1a"/><rect x="41.7" y="516.1" width="2.3" height="2.3" fill="#0df56f"/><rect x="43.4" y="516.1" width="2.3" height="2.3" fill="#0df56f"/><rect x="45.1" y="516.1" width="2.3" height="2.3" fill="#0df56f"/><rect x="46.8" y="516.1" width="2.3" height="2.3" fill="#b0fa0d"/><rect x="48.5" y="516.1" width="2.3" height="2.3" fill="#62fa1a"/><rect x="50.2" y="516.1" width="2.3" height="2.3" fill="#14fa28"/><rect x="51.9" y="516.1" width="2.3" height="2.3" fill="#ffad00"/><rect x="53.6" y="516.1" width="2.3" height="2.3" fill="#ff1400"/><rect x="55.3" y="516.1" width="2.3" height="2.3" fill="#ffad00"/><rect x="57" y="516.1" width="2.3" height="2.3" fill="#ff6000"/><rect x="58.7" y="516.1" width="2.3" height="2.3" fill="#ff1400"/><rect x="60.4" y="516.1" width="2.3" height="2.3" fill="#ff1400"/><rect x="62.1" y="516.1" width="2.3" height="2.3" fill="#ff1400"/><rect x="63.8" y="516.1" width="2.3" height="2.3" fill="#ff1400"/><rect x="65.5" y="516.1" width="2.3" height="2.3" fill="#ff1400"/><rect x="67.2" y="516.1" width="2.3" height="2.3" fill="#ff6000"/><rect x="68.9" y="516.1" width="2.3" height="2.3" fill="#b0fa0d"/><rect x="70.6" y="516.1" width="2.3" height="2.3" fill="#62fa1a"/><rect x="72.3" y="516.1" width="2.3" height="2.3" fill="#14fa28"/><rect x="74" y="516.1" width="2.3" height="2.3" fill="#14fa28"/><rect x="75.7" y="516.1" width="2.3" height="2.3" fill="#14fa28"/><rect x="77.4" y="516.1" width="2.3" height="2.3" fill="#62fa1a"/><rect x="79.1" y="516.1" width="2.3" height="2.3" fill="#fffa00"/><rect x="80.8" y="516.1" width="2.3" height="2.3" fill="#fffa00"/><rect x="82.5" y="516.1" width="2.3" height="2.3" fill="#b0fa0d"/><rect x="84.2" y="516.1" width="2.3" height="2.3" fill="#14fa28"/><rect x="85.9" y="516.1" width="2.3" height="2.3" fill="#00ebff"/><rect x="87.6" y="516.1" width="2.3" height="2.3" fill="#0df56f"/><rect x="89.3" y="516.1" width="2.3" height="2.3" fill="#0df56f"/><rect x="91" y="516.1" width="2.3" height="2.3" fill="#00ebff"/><rect x="92.7" y="516.1" width="2.3" height="2.3" fill="#00ebff"/><rect x="94.4" y="516.1" width="2.3" height="2.3" fill="#0069ff"/><rect x="34.9" y="517.8" width="2.3" height="2.3" fill="#0069ff"/><rect x="36.6" y="517.8" width="2.3" height="2.3" fill="#62fa1a"/><rect x="38.3" y="517.8" width="2.3" height="2.3" fill="#b0fa0d"/><rect x="40" y="517.8" width="2.3" height="2.3" fill="#62fa1a"/><rect x="41.7" y="517.8" width="2.3" height="2.3" fill="#0df56f"/><rect x="43.4" y="517.8" width="2.3" height="2.3" fill="#00aaff"/><rect x="45.1" y="517.8" width="2.3" height="2.3" fill="#0df56f"/><rect x="46.8" y="517.8" width="2.3" height="2.3" fill="#62fa1a"/><rect x="48.5" y="517.8" width="2.3" height="2.3" fill="#62fa1a"/><rect x="50.2" y="517.8" width="2.3" height="2.3" fill="#14fa28"/><rect x="51.9" y="517.8" width="2.3" height="2.3" fill="#fffa00"/><rect x="53.6" y="517.8" width="2.3" height="2.3" fill="#ff1400"/><rect x="55.3" y="517.8" width="2.3" height="2.3" fill="#ffad00"/><rect x="57" y="517.8" width="2.3" height="2.3" fill="#fffa00"/><rect x="58.7" y="517.8" width="2.3" height="2.3" fill="#ff1400"/><rect x="60.4" y="517.8" width="2.3" height="2.3" fill="#ff1400"/><rect x="62.1" y="517.8" width="2.3" height="2.3" fill="#ff1400"/><rect x="63.8" y="517.8" width="2.3" height="2.3" fill="#ff1400"/><rect x="65.5" y="517.8" width="2.3" height="2.3" fill="#ff6000"/><rect x="67.2" y="517.8" width="2.3" height="2.3" fill="#fffa00"/><rect x="68.9" y="517.8" width="2.3" height="2.3" fill="#b0fa0d"/><rect x="70.6" y="517.8" width="2.3" height="2.3" fill="#62fa1a"/><rect x="72.3" y="517.8" width="2.3" height="2.3" fill="#0df56f"/><rect x="74" y="517.8" width="2.3" height="2.3" fill="#0df56f"/><rect x="75.7" y="517.8" width="2.3" height="2.3" fill="#06f0b7"/><rect x="77.4" y="517.8" width="2.3" height="2.3" fill="#62fa1a"/><rect x="79.1" y="517.8" width="2.3" height="2.3" fill="#fffa00"/><rect x="80.8" y="517.8" width="2.3" height="2.3" fill="#fffa00"/><rect x="82.5" y="517.8" width="2.3" height="2.3" fill="#fffa00"/><rect x="84.2" y="517.8" width="2.3" height="2.3" fill="#00ebff"/><rect x="85.9" y="517.8" width="2.3" height="2.3" fill="#0028ff"/><rect x="87.6" y="517.8" width="2.3" height="2.3" fill="#00aaff"/><rect x="89.3" y="517.8" width="2.3" height="2.3" fill="#00ebff"/><rect x="91" y="517.8" width="2.3" height="2.3" fill="#06f0b7"/><rect x="92.7" y="517.8" width="2.3" height="2.3" fill="#06f0b7"/><rect x="94.4" y="517.8" width="2.3" height="2.3" fill="#06f0b7"/><rect x="96.1" y="517.8" width="2.3" height="2.3" fill="#0069ff"/><rect x="34.9" y="519.5" width="2.3" height="2.3" fill="#06f0b7"/><rect x="36.6" y="519.5" width="2.3" height="2.3" fill="#62fa1a"/><rect x="38.3" y="519.5" width="2.3" height="2.3" fill="#b0fa0d"/><rect x="40" y="519.5" width="2.3" height="2.3" fill="#b0fa0d"/><rect x="41.7" y="519.5" width="2.3" height="2.3" fill="#06f0b7"/><rect x="43.4" y="519.5" width="2.3" height="2.3" fill="#00aaff"/><rect x="45.1" y="519.5" width="2.3" height="2.3" fill="#06f0b7"/><rect x="46.8" y="519.5" width="2.3" height="2.3" fill="#b0fa0d"/><rect x="48.5" y="519.5" width="2.3" height="2.3" fill="#14fa28"/><rect x="50.2" y="519.5" width="2.3" height="2.3" fill="#06f0b7"/><rect x="51.9" y="519.5" width="2.3" height="2.3" fill="#fffa00"/><rect x="53.6" y="519.5" width="2.3" height="2.3" fill="#ff6000"/><rect x="55.3" y="519.5" width="2.3" height="2.3" fill="#b0fa0d"/><rect x="57" y="519.5" width="2.3" height="2.3" fill="#62fa1a"/><rect x="58.7" y="519.5" width="2.3" height="2.3" fill="#fffa00"/><rect x="60.4" y="519.5" width="2.3" height="2.3" fill="#fffa00"/><rect x="62.1" y="519.5" width="2.3" height="2.3" fill="#ff1400"/><rect x="63.8" y="519.5" width="2.3" height="2.3" fill="#ff6000"/><rect x="65.5" y="519.5" width="2.3" height="2.3" fill="#fffa00"/><rect x="67.2" y="519.5" width="2.3" height="2.3" fill="#62fa1a"/><rect x="68.9" y="519.5" width="2.3" height="2.3" fill="#62fa1a"/><rect x="70.6" y="519.5" width="2.3" height="2.3" fill="#14fa28"/><rect x="72.3" y="519.5" width="2.3" height="2.3" fill="#14fa28"/><rect x="74" y="519.5" width="2.3" height="2.3" fill="#62fa1a"/><rect x="75.7" y="519.5" width="2.3" height="2.3" fill="#62fa1a"/><rect x="77.4" y="519.5" width="2.3" height="2.3" fill="#b0fa0d"/><rect x="79.1" y="519.5" width="2.3" height="2.3" fill="#ffad00"/><rect x="80.8" y="519.5" width="2.3" height="2.3" fill="#fffa00"/><rect x="82.5" y="519.5" width="2.3" height="2.3" fill="#b0fa0d"/><rect x="84.2" y="519.5" width="2.3" height="2.3" fill="#0df56f"/><rect x="85.9" y="519.5" width="2.3" height="2.3" fill="#00aaff"/><rect x="87.6" y="519.5" width="2.3" height="2.3" fill="#0069ff"/><rect x="89.3" y="519.5" width="2.3" height="2.3" fill="#00ebff"/><rect x="91" y="519.5" width="2.3" height="2.3" fill="#00aaff"/><rect x="92.7" y="519.5" width="2.3" height="2.3" fill="#0069ff"/><rect x="94.4" y="519.5" width="2.3" height="2.3" fill="#0069ff"/><rect x="34.9" y="521.2" width="2.3" height="2.3" fill="#0df56f"/><rect x="36.6" y="521.2" width="2.3" height="2.3" fill="#14fa28"/><rect x="38.3" y="521.2" width="2.3" height="2.3" fill="#b0fa0d"/><rect x="40" y="521.2" width="2.3" height="2.3" fill="#62fa1a"/><rect x="41.7" y="521.2" width="2.3" height="2.3" fill="#0df56f"/><rect x="43.4" y="521.2" width="2.3" height="2.3" fill="#00aaff"/><rect x="45.1" y="521.2" width="2.3" height="2.3" fill="#06f0b7"/><rect x="46.8" y="521.2" width="2.3" height="2.3" fill="#b0fa0d"/><rect x="48.5" y="521.2" width="2.3" height="2.3" fill="#14fa28"/><rect x="50.2" y="521.2" width="2.3" height="2.3" fill="#0df56f"/><rect x="51.9" y="521.2" width="2.3" height="2.3" fill="#62fa1a"/><rect x="53.6" y="521.2" width="2.3" height="2.3" fill="#ffad00"/><rect x="55.3" y="521.2" width="2.3" height="2.3" fill="#b0fa0d"/><rect x="57" y="521.2" width="2.3" height="2.3" fill="#62fa1a"/><rect x="58.7" y="521.2" width="2.3" height="2.3" fill="#14fa28"/><rect x="60.4" y="521.2" width="2.3" height="2.3" fill="#62fa1a"/><rect x="62.1" y="521.2" width="2.3" height="2.3" fill="#fffa00"/><rect x="63.8" y="521.2" width="2.3" height="2.3" fill="#fffa00"/><rect x="65.5" y="521.2" width="2.3" height="2.3" fill="#62fa1a"/><rect x="67.2" y="521.2" width="2.3" height="2.3" fill="#14fa28"/><rect x="68.9" y="521.2" width="2.3" height="2.3" fill="#62fa1a"/><rect x="70.6" y="521.2" width="2.3" height="2.3" fill="#62fa1a"/><rect x="72.3" y="521.2" width="2.3" height="2.3" fill="#14fa28"/><rect x="74" y="521.2" width="2.3" height="2.3" fill="#62fa1a"/><rect x="75.7" y="521.2" width="2.3" height="2.3" fill="#62fa1a"/><rect x="77.4" y="521.2" width="2.3" height="2.3" fill="#ff6000"/><rect x="79.1" y="521.2" width="2.3" height="2.3" fill="#ff1400"/><rect x="80.8" y="521.2" width="2.3" height="2.3" fill="#ffad00"/><rect x="82.5" y="521.2" width="2.3" height="2.3" fill="#fffa00"/><rect x="84.2" y="521.2" width="2.3" height="2.3" fill="#62fa1a"/><rect x="85.9" y="521.2" width="2.3" height="2.3" fill="#14fa28"/><rect x="87.6" y="521.2" width="2.3" height="2.3" fill="#00ebff"/><rect x="89.3" y="521.2" width="2.3" height="2.3" fill="#06f0b7"/><rect x="91" y="521.2" width="2.3" height="2.3" fill="#0069ff"/><rect x="92.7" y="521.2" width="2.3" height="2.3" fill="#00aaff"/><rect x="94.4" y="521.2" width="2.3" height="2.3" fill="#0069ff"/><rect x="34.9" y="522.9" width="2.3" height="2.3" fill="#0069ff"/><rect x="36.6" y="522.9" width="2.3" height="2.3" fill="#00aaff"/><rect x="38.3" y="522.9" width="2.3" height="2.3" fill="#0df56f"/><rect x="40" y="522.9" width="2.3" height="2.3" fill="#14fa28"/><rect x="41.7" y="522.9" width="2.3" height="2.3" fill="#14fa28"/><rect x="43.4" y="522.9" width="2.3" height="2.3" fill="#0df56f"/><rect x="45.1" y="522.9" width="2.3" height="2.3" fill="#0df56f"/><rect x="46.8" y="522.9" width="2.3" height="2.3" fill="#62fa1a"/><rect x="48.5" y="522.9" width="2.3" height="2.3" fill="#b0fa0d"/><rect x="50.2" y="522.9" width="2.3" height="2.3" fill="#62fa1a"/><rect x="51.9" y="522.9" width="2.3" height="2.3" fill="#62fa1a"/><rect x="53.6" y="522.9" width="2.3" height="2.3" fill="#b0fa0d"/><rect x="55.3" y="522.9" width="2.3" height="2.3" fill="#fffa00"/><rect x="57" y="522.9" width="2.3" height="2.3" fill="#ffad00"/><rect x="58.7" y="522.9" width="2.3" height="2.3" fill="#b0fa0d"/><rect x="60.4" y="522.9" width="2.3" height="2.3" fill="#b0fa0d"/><rect x="62.1" y="522.9" width="2.3" height="2.3" fill="#62fa1a"/><rect x="63.8" y="522.9" width="2.3" height="2.3" fill="#b0fa0d"/><rect x="65.5" y="522.9" width="2.3" height="2.3" fill="#62fa1a"/><rect x="67.2" y="522.9" width="2.3" height="2.3" fill="#b0fa0d"/><rect x="68.9" y="522.9" width="2.3" height="2.3" fill="#fffa00"/><rect x="70.6" y="522.9" width="2.3" height="2.3" fill="#b0fa0d"/><rect x="72.3" y="522.9" width="2.3" height="2.3" fill="#ffad00"/><rect x="74" y="522.9" width="2.3" height="2.3" fill="#ffad00"/><rect x="75.7" y="522.9" width="2.3" height="2.3" fill="#ffad00"/><rect x="77.4" y="522.9" width="2.3" height="2.3" fill="#ff1400"/><rect x="79.1" y="522.9" width="2.3" height="2.3" fill="#ff1400"/><rect x="80.8" y="522.9" width="2.3" height="2.3" fill="#ff1400"/><rect x="82.5" y="522.9" width="2.3" height="2.3" fill="#ffad00"/><rect x="84.2" y="522.9" width="2.3" height="2.3" fill="#0df56f"/><rect x="85.9" y="522.9" width="2.3" height="2.3" fill="#06f0b7"/><rect x="87.6" y="522.9" width="2.3" height="2.3" fill="#62fa1a"/><rect x="89.3" y="522.9" width="2.3" height="2.3" fill="#b0fa0d"/><rect x="91" y="522.9" width="2.3" height="2.3" fill="#0df56f"/><rect x="92.7" y="522.9" width="2.3" height="2.3" fill="#0069ff"/><rect x="34.9" y="524.6" width="2.3" height="2.3" fill="#0069ff"/><rect x="36.6" y="524.6" width="2.3" height="2.3" fill="#00aaff"/><rect x="38.3" y="524.6" width="2.3" height="2.3" fill="#06f0b7"/><rect x="40" y="524.6" width="2.3" height="2.3" fill="#14fa28"/><rect x="41.7" y="524.6" width="2.3" height="2.3" fill="#62fa1a"/><rect x="43.4" y="524.6" width="2.3" height="2.3" fill="#14fa28"/><rect x="45.1" y="524.6" width="2.3" height="2.3" fill="#14fa28"/><rect x="46.8" y="524.6" width="2.3" height="2.3" fill="#62fa1a"/><rect x="48.5" y="524.6" width="2.3" height="2.3" fill="#62fa1a"/><rect x="50.2" y="524.6" width="2.3" height="2.3" fill="#62fa1a"/><rect x="51.9" y="524.6" width="2.3" height="2.3" fill="#b0fa0d"/><rect x="53.6" y="524.6" width="2.3" height="2.3" fill="#b0fa0d"/><rect x="55.3" y="524.6" width="2.3" height="2.3" fill="#fffa00"/><rect x="57" y="524.6" width="2.3" height="2.3" fill="#fffa00"/><rect x="58.7" y="524.6" width="2.3" height="2.3" fill="#62fa1a"/><rect x="60.4" y="524.6" width="2.3" height="2.3" fill="#62fa1a"/><rect x="62.1" y="524.6" width="2.3" height="2.3" fill="#62fa1a"/><rect x="63.8" y="524.6" width="2.3" height="2.3" fill="#b0fa0d"/><rect x="65.5" y="524.6" width="2.3" height="2.3" fill="#b0fa0d"/><rect x="67.2" y="524.6" width="2.3" height="2.3" fill="#b0fa0d"/><rect x="68.9" y="524.6" width="2.3" height="2.3" fill="#b0fa0d"/><rect x="70.6" y="524.6" width="2.3" height="2.3" fill="#fffa00"/><rect x="72.3" y="524.6" width="2.3" height="2.3" fill="#fffa00"/><rect x="74" y="524.6" width="2.3" height="2.3" fill="#ffad00"/><rect x="75.7" y="524.6" width="2.3" height="2.3" fill="#ff1400"/><rect x="77.4" y="524.6" width="2.3" height="2.3" fill="#ff1400"/><rect x="79.1" y="524.6" width="2.3" height="2.3" fill="#ff1400"/><rect x="80.8" y="524.6" width="2.3" height="2.3" fill="#ff6000"/><rect x="82.5" y="524.6" width="2.3" height="2.3" fill="#ffad00"/><rect x="84.2" y="524.6" width="2.3" height="2.3" fill="#14fa28"/><rect x="85.9" y="524.6" width="2.3" height="2.3" fill="#0df56f"/><rect x="87.6" y="524.6" width="2.3" height="2.3" fill="#ffad00"/><rect x="89.3" y="524.6" width="2.3" height="2.3" fill="#fffa00"/><rect x="91" y="524.6" width="2.3" height="2.3" fill="#62fa1a"/><rect x="92.7" y="524.6" width="2.3" height="2.3" fill="#0069ff"/><rect x="34.9" y="526.3" width="2.3" height="2.3" fill="#0069ff"/><rect x="36.6" y="526.3" width="2.3" height="2.3" fill="#00aaff"/><rect x="38.3" y="526.3" width="2.3" height="2.3" fill="#00ebff"/><rect x="40" y="526.3" width="2.3" height="2.3" fill="#06f0b7"/><rect x="41.7" y="526.3" width="2.3" height="2.3" fill="#06f0b7"/><rect x="43.4" y="526.3" width="2.3" height="2.3" fill="#b0fa0d"/><rect x="45.1" y="526.3" width="2.3" height="2.3" fill="#fffa00"/><rect x="46.8" y="526.3" width="2.3" height="2.3" fill="#b0fa0d"/><rect x="48.5" y="526.3" width="2.3" height="2.3" fill="#14fa28"/><rect x="50.2" y="526.3" width="2.3" height="2.3" fill="#06f0b7"/><rect x="51.9" y="526.3" width="2.3" height="2.3" fill="#14fa28"/><rect x="53.6" y="526.3" width="2.3" height="2.3" fill="#62fa1a"/><rect x="55.3" y="526.3" width="2.3" height="2.3" fill="#fffa00"/><rect x="57" y="526.3" width="2.3" height="2.3" fill="#ffad00"/><rect x="58.7" y="526.3" width="2.3" height="2.3" fill="#fffa00"/><rect x="60.4" y="526.3" width="2.3" height="2.3" fill="#ffad00"/><rect x="62.1" y="526.3" width="2.3" height="2.3" fill="#b0fa0d"/><rect x="63.8" y="526.3" width="2.3" height="2.3" fill="#fffa00"/><rect x="65.5" y="526.3" width="2.3" height="2.3" fill="#62fa1a"/><rect x="67.2" y="526.3" width="2.3" height="2.3" fill="#14fa28"/><rect x="68.9" y="526.3" width="2.3" height="2.3" fill="#0df56f"/><rect x="70.6" y="526.3" width="2.3" height="2.3" fill="#14fa28"/><rect x="72.3" y="526.3" width="2.3" height="2.3" fill="#62fa1a"/><rect x="74" y="526.3" width="2.3" height="2.3" fill="#b0fa0d"/><rect x="75.7" y="526.3" width="2.3" height="2.3" fill="#ff6000"/><rect x="77.4" y="526.3" width="2.3" height="2.3" fill="#ff1400"/><rect x="79.1" y="526.3" width="2.3" height="2.3" fill="#ff1400"/><rect x="80.8" y="526.3" width="2.3" height="2.3" fill="#ffad00"/><rect x="82.5" y="526.3" width="2.3" height="2.3" fill="#62fa1a"/><rect x="84.2" y="526.3" width="2.3" height="2.3" fill="#62fa1a"/><rect x="85.9" y="526.3" width="2.3" height="2.3" fill="#62fa1a"/><rect x="87.6" y="526.3" width="2.3" height="2.3" fill="#ffad00"/><rect x="89.3" y="526.3" width="2.3" height="2.3" fill="#ffad00"/><rect x="91" y="526.3" width="2.3" height="2.3" fill="#b0fa0d"/><rect x="92.7" y="526.3" width="2.3" height="2.3" fill="#0069ff"/><rect x="36.6" y="528" width="2.3" height="2.3" fill="#0069ff"/><rect x="38.3" y="528" width="2.3" height="2.3" fill="#00ebff"/><rect x="40" y="528" width="2.3" height="2.3" fill="#00ebff"/><rect x="41.7" y="528" width="2.3" height="2.3" fill="#14fa28"/><rect x="43.4" y="528" width="2.3" height="2.3" fill="#62fa1a"/><rect x="45.1" y="528" width="2.3" height="2.3" fill="#62fa1a"/><rect x="46.8" y="528" width="2.3" height="2.3" fill="#b0fa0d"/><rect x="48.5" y="528" width="2.3" height="2.3" fill="#14fa28"/><rect x="50.2" y="528" width="2.3" height="2.3" fill="#00ebff"/><rect x="51.9" y="528" width="2.3" height="2.3" fill="#06f0b7"/><rect x="53.6" y="528" width="2.3" height="2.3" fill="#14fa28"/><rect x="55.3" y="528" width="2.3" height="2.3" fill="#b0fa0d"/><rect x="57" y="528" width="2.3" height="2.3" fill="#ffad00"/><rect x="58.7" y="528" width="2.3" height="2.3" fill="#ffad00"/><rect x="60.4" y="528" width="2.3" height="2.3" fill="#ff6000"/><rect x="62.1" y="528" width="2.3" height="2.3" fill="#fffa00"/><rect x="63.8" y="528" width="2.3" height="2.3" fill="#b0fa0d"/><rect x="65.5" y="528" width="2.3" height="2.3" fill="#62fa1a"/><rect x="67.2" y="528" width="2.3" height="2.3" fill="#14fa28"/><rect x="68.9" y="528" width="2.3" height="2.3" fill="#0df56f"/><rect x="70.6" y="528" width="2.3" height="2.3" fill="#06f0b7"/><rect x="72.3" y="528" width="2.3" height="2.3" fill="#06f0b7"/><rect x="74" y="528" width="2.3" height="2.3" fill="#62fa1a"/><rect x="75.7" y="528" width="2.3" height="2.3" fill="#b0fa0d"/><rect x="77.4" y="528" width="2.3" height="2.3" fill="#ff6000"/><rect x="79.1" y="528" width="2.3" height="2.3" fill="#ff6000"/><rect x="80.8" y="528" width="2.3" height="2.3" fill="#fffa00"/><rect x="82.5" y="528" width="2.3" height="2.3" fill="#62fa1a"/><rect x="84.2" y="528" width="2.3" height="2.3" fill="#62fa1a"/><rect x="85.9" y="528" width="2.3" height="2.3" fill="#62fa1a"/><rect x="87.6" y="528" width="2.3" height="2.3" fill="#b0fa0d"/><rect x="89.3" y="528" width="2.3" height="2.3" fill="#b0fa0d"/><rect x="91" y="528" width="2.3" height="2.3" fill="#0df56f"/><rect x="92.7" y="528" width="2.3" height="2.3" fill="#0069ff"/><rect x="36.6" y="529.7" width="2.3" height="2.3" fill="#0069ff"/><rect x="38.3" y="529.7" width="2.3" height="2.3" fill="#00ebff"/><rect x="40" y="529.7" width="2.3" height="2.3" fill="#62fa1a"/><rect x="41.7" y="529.7" width="2.3" height="2.3" fill="#b0fa0d"/><rect x="43.4" y="529.7" width="2.3" height="2.3" fill="#b0fa0d"/><rect x="45.1" y="529.7" width="2.3" height="2.3" fill="#b0fa0d"/><rect x="46.8" y="529.7" width="2.3" height="2.3" fill="#fffa00"/><rect x="48.5" y="529.7" width="2.3" height="2.3" fill="#14fa28"/><rect x="50.2" y="529.7" width="2.3" height="2.3" fill="#00ebff"/><rect x="51.9" y="529.7" width="2.3" height="2.3" fill="#14fa28"/><rect x="53.6" y="529.7" width="2.3" height="2.3" fill="#b0fa0d"/><rect x="55.3" y="529.7" width="2.3" height="2.3" fill="#fffa00"/><rect x="57" y="529.7" width="2.3" height="2.3" fill="#ffad00"/><rect x="58.7" y="529.7" width="2.3" height="2.3" fill="#ffad00"/><rect x="60.4" y="529.7" width="2.3" height="2.3" fill="#ffad00"/><rect x="62.1" y="529.7" width="2.3" height="2.3" fill="#fffa00"/><rect x="63.8" y="529.7" width="2.3" height="2.3" fill="#b0fa0d"/><rect x="65.5" y="529.7" width="2.3" height="2.3" fill="#ffad00"/><rect x="67.2" y="529.7" width="2.3" height="2.3" fill="#62fa1a"/><rect x="68.9" y="529.7" width="2.3" height="2.3" fill="#0df56f"/><rect x="70.6" y="529.7" width="2.3" height="2.3" fill="#00ebff"/><rect x="72.3" y="529.7" width="2.3" height="2.3" fill="#00aaff"/><rect x="74" y="529.7" width="2.3" height="2.3" fill="#00ebff"/><rect x="75.7" y="529.7" width="2.3" height="2.3" fill="#0df56f"/><rect x="77.4" y="529.7" width="2.3" height="2.3" fill="#62fa1a"/><rect x="79.1" y="529.7" width="2.3" height="2.3" fill="#62fa1a"/><rect x="80.8" y="529.7" width="2.3" height="2.3" fill="#fffa00"/><rect x="82.5" y="529.7" width="2.3" height="2.3" fill="#ff6000"/><rect x="84.2" y="529.7" width="2.3" height="2.3" fill="#0df56f"/><rect x="85.9" y="529.7" width="2.3" height="2.3" fill="#06f0b7"/><rect x="87.6" y="529.7" width="2.3" height="2.3" fill="#0df56f"/><rect x="89.3" y="529.7" width="2.3" height="2.3" fill="#06f0b7"/><rect x="91" y="529.7" width="2.3" height="2.3" fill="#0028ff"/><rect x="38.3" y="531.4" width="2.3" height="2.3" fill="#0069ff"/><rect x="40" y="531.4" width="2.3" height="2.3" fill="#14fa28"/><rect x="41.7" y="531.4" width="2.3" height="2.3" fill="#14fa28"/><rect x="43.4" y="531.4" width="2.3" height="2.3" fill="#62fa1a"/><rect x="45.1" y="531.4" width="2.3" height="2.3" fill="#b0fa0d"/><rect x="46.8" y="531.4" width="2.3" height="2.3" fill="#62fa1a"/><rect x="48.5" y="531.4" width="2.3" height="2.3" fill="#0df56f"/><rect x="50.2" y="531.4" width="2.3" height="2.3" fill="#06f0b7"/><rect x="51.9" y="531.4" width="2.3" height="2.3" fill="#0df56f"/><rect x="53.6" y="531.4" width="2.3" height="2.3" fill="#b0fa0d"/><rect x="55.3" y="531.4" width="2.3" height="2.3" fill="#fffa00"/><rect x="57" y="531.4" width="2.3" height="2.3" fill="#fffa00"/><rect x="58.7" y="531.4" width="2.3" height="2.3" fill="#fffa00"/><rect x="60.4" y="531.4" width="2.3" height="2.3" fill="#fffa00"/><rect x="62.1" y="531.4" width="2.3" height="2.3" fill="#ffad00"/><rect x="63.8" y="531.4" width="2.3" height="2.3" fill="#b0fa0d"/><rect x="65.5" y="531.4" width="2.3" height="2.3" fill="#b0fa0d"/><rect x="67.2" y="531.4" width="2.3" height="2.3" fill="#14fa28"/><rect x="68.9" y="531.4" width="2.3" height="2.3" fill="#0df56f"/><rect x="70.6" y="531.4" width="2.3" height="2.3" fill="#00ebff"/><rect x="72.3" y="531.4" width="2.3" height="2.3" fill="#0069ff"/><rect x="74" y="531.4" width="2.3" height="2.3" fill="#00aaff"/><rect x="75.7" y="531.4" width="2.3" height="2.3" fill="#06f0b7"/><rect x="77.4" y="531.4" width="2.3" height="2.3" fill="#14fa28"/><rect x="79.1" y="531.4" width="2.3" height="2.3" fill="#0df56f"/><rect x="80.8" y="531.4" width="2.3" height="2.3" fill="#fffa00"/><rect x="82.5" y="531.4" width="2.3" height="2.3" fill="#b0fa0d"/><rect x="84.2" y="531.4" width="2.3" height="2.3" fill="#00ebff"/><rect x="85.9" y="531.4" width="2.3" height="2.3" fill="#0069ff"/><rect x="87.6" y="531.4" width="2.3" height="2.3" fill="#06f0b7"/><rect x="89.3" y="531.4" width="2.3" height="2.3" fill="#0069ff"/><rect x="38.3" y="533.1" width="2.3" height="2.3" fill="#0069ff"/><rect x="40" y="533.1" width="2.3" height="2.3" fill="#0069ff"/><rect x="41.7" y="533.1" width="2.3" height="2.3" fill="#0df56f"/><rect x="43.4" y="533.1" width="2.3" height="2.3" fill="#14fa28"/><rect x="45.1" y="533.1" width="2.3" height="2.3" fill="#0df56f"/><rect x="46.8" y="533.1" width="2.3" height="2.3" fill="#00ebff"/><rect x="48.5" y="533.1" width="2.3" height="2.3" fill="#00ebff"/><rect x="50.2" y="533.1" width="2.3" height="2.3" fill="#00aaff"/><rect x="51.9" y="533.1" width="2.3" height="2.3" fill="#14fa28"/><rect x="53.6" y="533.1" width="2.3" height="2.3" fill="#fffa00"/><rect x="55.3" y="533.1" width="2.3" height="2.3" fill="#b0fa0d"/><rect x="57" y="533.1" width="2.3" height="2.3" fill="#62fa1a"/><rect x="58.7" y="533.1" width="2.3" height="2.3" fill="#62fa1a"/><rect x="60.4" y="533.1" width="2.3" height="2.3" fill="#62fa1a"/><rect x="62.1" y="533.1" width="2.3" height="2.3" fill="#fffa00"/><rect x="63.8" y="533.1" width="2.3" height="2.3" fill="#b0fa0d"/><rect x="65.5" y="533.1" width="2.3" height="2.3" fill="#0df56f"/><rect x="67.2" y="533.1" width="2.3" height="2.3" fill="#14fa28"/><rect x="68.9" y="533.1" width="2.3" height="2.3" fill="#0df56f"/><rect x="70.6" y="533.1" width="2.3" height="2.3" fill="#00aaff"/><rect x="72.3" y="533.1" width="2.3" height="2.3" fill="#0028ff"/><rect x="74" y="533.1" width="2.3" height="2.3" fill="#00ebff"/><rect x="75.7" y="533.1" width="2.3" height="2.3" fill="#b0fa0d"/><rect x="77.4" y="533.1" width="2.3" height="2.3" fill="#14fa28"/><rect x="79.1" y="533.1" width="2.3" height="2.3" fill="#0df56f"/><rect x="80.8" y="533.1" width="2.3" height="2.3" fill="#62fa1a"/><rect x="82.5" y="533.1" width="2.3" height="2.3" fill="#62fa1a"/><rect x="84.2" y="533.1" width="2.3" height="2.3" fill="#00aaff"/><rect x="85.9" y="533.1" width="2.3" height="2.3" fill="#0028ff"/><rect x="87.6" y="533.1" width="2.3" height="2.3" fill="#0069ff"/><rect x="89.3" y="533.1" width="2.3" height="2.3" fill="#0069ff"/><rect x="40" y="534.8" width="2.3" height="2.3" fill="#0069ff"/><rect x="41.7" y="534.8" width="2.3" height="2.3" fill="#06f0b7"/><rect x="43.4" y="534.8" width="2.3" height="2.3" fill="#0df56f"/><rect x="45.1" y="534.8" width="2.3" height="2.3" fill="#14fa28"/><rect x="46.8" y="534.8" width="2.3" height="2.3" fill="#14fa28"/><rect x="48.5" y="534.8" width="2.3" height="2.3" fill="#0df56f"/><rect x="50.2" y="534.8" width="2.3" height="2.3" fill="#00ebff"/><rect x="51.9" y="534.8" width="2.3" height="2.3" fill="#14fa28"/><rect x="53.6" y="534.8" width="2.3" height="2.3" fill="#62fa1a"/><rect x="55.3" y="534.8" width="2.3" height="2.3" fill="#62fa1a"/><rect x="57" y="534.8" width="2.3" height="2.3" fill="#b0fa0d"/><rect x="58.7" y="534.8" width="2.3" height="2.3" fill="#b0fa0d"/><rect x="60.4" y="534.8" width="2.3" height="2.3" fill="#b0fa0d"/><rect x="62.1" y="534.8" width="2.3" height="2.3" fill="#fffa00"/><rect x="63.8" y="534.8" width="2.3" height="2.3" fill="#b0fa0d"/><rect x="65.5" y="534.8" width="2.3" height="2.3" fill="#14fa28"/><rect x="67.2" y="534.8" width="2.3" height="2.3" fill="#14fa28"/><rect x="68.9" y="534.8" width="2.3" height="2.3" fill="#62fa1a"/><rect x="70.6" y="534.8" width="2.3" height="2.3" fill="#0df56f"/><rect x="72.3" y="534.8" width="2.3" height="2.3" fill="#00ebff"/><rect x="74" y="534.8" width="2.3" height="2.3" fill="#0df56f"/><rect x="75.7" y="534.8" width="2.3" height="2.3" fill="#14fa28"/><rect x="77.4" y="534.8" width="2.3" height="2.3" fill="#14fa28"/><rect x="79.1" y="534.8" width="2.3" height="2.3" fill="#0df56f"/><rect x="80.8" y="534.8" width="2.3" height="2.3" fill="#0df56f"/><rect x="82.5" y="534.8" width="2.3" height="2.3" fill="#0df56f"/><rect x="84.2" y="534.8" width="2.3" height="2.3" fill="#0028ff"/><rect x="85.9" y="534.8" width="2.3" height="2.3" fill="#0028ff"/><rect x="41.7" y="536.5" width="2.3" height="2.3" fill="#0069ff"/><rect x="43.4" y="536.5" width="2.3" height="2.3" fill="#14fa28"/><rect x="45.1" y="536.5" width="2.3" height="2.3" fill="#62fa1a"/><rect x="46.8" y="536.5" width="2.3" height="2.3" fill="#b0fa0d"/><rect x="48.5" y="536.5" width="2.3" height="2.3" fill="#62fa1a"/><rect x="50.2" y="536.5" width="2.3" height="2.3" fill="#14fa28"/><rect x="51.9" y="536.5" width="2.3" height="2.3" fill="#62fa1a"/><rect x="53.6" y="536.5" width="2.3" height="2.3" fill="#b0fa0d"/><rect x="55.3" y="536.5" width="2.3" height="2.3" fill="#b0fa0d"/><rect x="57" y="536.5" width="2.3" height="2.3" fill="#62fa1a"/><rect x="58.7" y="536.5" width="2.3" height="2.3" fill="#ffad00"/><rect x="60.4" y="536.5" width="2.3" height="2.3" fill="#ffad00"/><rect x="62.1" y="536.5" width="2.3" height="2.3" fill="#b0fa0d"/><rect x="63.8" y="536.5" width="2.3" height="2.3" fill="#b0fa0d"/><rect x="65.5" y="536.5" width="2.3" height="2.3" fill="#b0fa0d"/><rect x="67.2" y="536.5" width="2.3" height="2.3" fill="#62fa1a"/><rect x="68.9" y="536.5" width="2.3" height="2.3" fill="#b0fa0d"/><rect x="70.6" y="536.5" width="2.3" height="2.3" fill="#62fa1a"/><rect x="72.3" y="536.5" width="2.3" height="2.3" fill="#14fa28"/><rect x="74" y="536.5" width="2.3" height="2.3" fill="#14fa28"/><rect x="75.7" y="536.5" width="2.3" height="2.3" fill="#0df56f"/><rect x="77.4" y="536.5" width="2.3" height="2.3" fill="#06f0b7"/><rect x="79.1" y="536.5" width="2.3" height="2.3" fill="#0df56f"/><rect x="80.8" y="536.5" width="2.3" height="2.3" fill="#0069ff"/><rect x="82.5" y="536.5" width="2.3" height="2.3" fill="#0069ff"/><rect x="43.4" y="538.2" width="2.3" height="2.3" fill="#0069ff"/><rect x="45.1" y="538.2" width="2.3" height="2.3" fill="#0df56f"/><rect x="46.8" y="538.2" width="2.3" height="2.3" fill="#14fa28"/><rect x="48.5" y="538.2" width="2.3" height="2.3" fill="#0df56f"/><rect x="50.2" y="538.2" width="2.3" height="2.3" fill="#0df56f"/><rect x="51.9" y="538.2" width="2.3" height="2.3" fill="#0df56f"/><rect x="53.6" y="538.2" width="2.3" height="2.3" fill="#14fa28"/><rect x="55.3" y="538.2" width="2.3" height="2.3" fill="#62fa1a"/><rect x="57" y="538.2" width="2.3" height="2.3" fill="#b0fa0d"/><rect x="58.7" y="538.2" width="2.3" height="2.3" fill="#62fa1a"/><rect x="60.4" y="538.2" width="2.3" height="2.3" fill="#62fa1a"/><rect x="62.1" y="538.2" width="2.3" height="2.3" fill="#62fa1a"/><rect x="63.8" y="538.2" width="2.3" height="2.3" fill="#14fa28"/><rect x="65.5" y="538.2" width="2.3" height="2.3" fill="#0df56f"/><rect x="67.2" y="538.2" width="2.3" height="2.3" fill="#14fa28"/><rect x="68.9" y="538.2" width="2.3" height="2.3" fill="#14fa28"/><rect x="70.6" y="538.2" width="2.3" height="2.3" fill="#0df56f"/><rect x="72.3" y="538.2" width="2.3" height="2.3" fill="#00ebff"/><rect x="74" y="538.2" width="2.3" height="2.3" fill="#00aaff"/><rect x="75.7" y="538.2" width="2.3" height="2.3" fill="#0069ff"/><rect x="77.4" y="538.2" width="2.3" height="2.3" fill="#0069ff"/><rect x="45.1" y="539.9" width="2.3" height="2.3" fill="#0069ff"/><rect x="46.8" y="539.9" width="2.3" height="2.3" fill="#00ebff"/><rect x="48.5" y="539.9" width="2.3" height="2.3" fill="#00ebff"/><rect x="50.2" y="539.9" width="2.3" height="2.3" fill="#00ebff"/><rect x="51.9" y="539.9" width="2.3" height="2.3" fill="#06f0b7"/><rect x="53.6" y="539.9" width="2.3" height="2.3" fill="#0df56f"/><rect x="55.3" y="539.9" width="2.3" height="2.3" fill="#62fa1a"/><rect x="57" y="539.9" width="2.3" height="2.3" fill="#fffa00"/><rect x="58.7" y="539.9" width="2.3" height="2.3" fill="#14fa28"/><rect x="60.4" y="539.9" width="2.3" height="2.3" fill="#06f0b7"/><rect x="62.1" y="539.9" width="2.3" height="2.3" fill="#06f0b7"/><rect x="63.8" y="539.9" width="2.3" height="2.3" fill="#00ebff"/><rect x="65.5" y="539.9" width="2.3" height="2.3" fill="#00aaff"/><rect x="67.2" y="539.9" width="2.3" height="2.3" fill="#00ebff"/><rect x="68.9" y="539.9" width="2.3" height="2.3" fill="#06f0b7"/><rect x="70.6" y="539.9" width="2.3" height="2.3" fill="#0069ff"/><rect x="72.3" y="539.9" width="2.3" height="2.3" fill="#0028ff"/><rect x="46.8" y="541.6" width="2.3" height="2.3" fill="#0069ff"/><rect x="48.5" y="541.6" width="2.3" height="2.3" fill="#0069ff"/><rect x="50.2" y="541.6" width="2.3" height="2.3" fill="#0069ff"/><rect x="51.9" y="541.6" width="2.3" height="2.3" fill="#06f0b7"/><rect x="53.6" y="541.6" width="2.3" height="2.3" fill="#0df56f"/><rect x="55.3" y="541.6" width="2.3" height="2.3" fill="#06f0b7"/><rect x="57" y="541.6" width="2.3" height="2.3" fill="#0df56f"/><rect x="58.7" y="541.6" width="2.3" height="2.3" fill="#0df56f"/><rect x="60.4" y="541.6" width="2.3" height="2.3" fill="#0df56f"/><rect x="62.1" y="541.6" width="2.3" height="2.3" fill="#00aaff"/><rect x="63.8" y="541.6" width="2.3" height="2.3" fill="#00aaff"/><rect x="65.5" y="541.6" width="2.3" height="2.3" fill="#0069ff"/><rect x="67.2" y="541.6" width="2.3" height="2.3" fill="#0069ff"/><rect x="50.2" y="543.3" width="2.3" height="2.3" fill="#0069ff"/><rect x="51.9" y="543.3" width="2.3" height="2.3" fill="#0069ff"/><rect x="53.6" y="543.3" width="2.3" height="2.3" fill="#0069ff"/><rect x="55.3" y="543.3" width="2.3" height="2.3" fill="#0069ff"/><rect x="57" y="543.3" width="2.3" height="2.3" fill="#0069ff"/><rect x="58.7" y="543.3" width="2.3" height="2.3" fill="#0069ff"/><rect x="60.4" y="543.3" width="2.3" height="2.3" fill="#0069ff"/><rect x="62.1" y="543.3" width="2.3" height="2.3" fill="#0028ff"/><rect x="63.8" y="543.3" width="2.3" height="2.3" fill="#0028ff"/></g></g>
<path d="M51.9,494.9C51.9,493 52.6,490.9 53.6,489C54.6,487.2 56.2,485 57.7,483.8C59.2,482.5 60.6,481.7 62.4,481.4C64.1,481.1 66.1,481.3 68.2,482C70.4,482.7 72.9,484.1 75.2,485.5C77.6,486.9 80.1,488.4 82.2,490.2C84.4,491.9 86.5,494.1 88.1,496C89.6,498 91.1,500 91.6,501.9C92.1,503.7 91.8,505.9 91,507.1C90.2,508.4 88.6,509 86.9,509.5C85.2,509.9 83.2,510.1 81.1,510C78.9,509.9 76.6,509.5 74.1,508.9C71.5,508.3 68.4,507.4 65.9,506.5C63.3,505.7 60.9,504.7 58.9,503.6C56.8,502.5 54.8,501.6 53.6,500.1C52.4,498.6 51.9,496.7 51.9,494.9Z" fill="none" stroke="#111" stroke-width="0.7"/>
<path d="M139.3,489.5C139.8,487.9 141.2,486.6 142.7,485.5C144.3,484.5 146.4,483.5 148.4,483.3C150.5,483 153,483.2 155.3,483.8C157.5,484.5 159.8,485.9 162.1,487.2C164.4,488.6 166.9,490.1 168.9,491.8C170.9,493.5 172.7,495.6 174.1,497.5C175.4,499.4 176.6,501.6 176.9,503.2C177.2,504.8 177.1,506.4 175.8,507.2C174.4,507.9 171.2,507.7 168.9,507.7C166.7,507.7 164.4,507.6 162.1,507.2C159.8,506.8 157.5,506 155.3,505.5C153,504.9 150.5,504.7 148.4,503.8C146.4,502.8 144.2,501.2 142.7,499.8C141.3,498.4 140.5,496.9 139.9,495.2C139.3,493.5 138.9,491.1 139.3,489.5Z" fill="url(#pc)" stroke="none" stroke-width="1"/>
<path d="M158.7,513.4C159.6,512.1 161.2,511.6 163.2,511.2C165.3,510.7 168.7,510.4 171.2,510.6C173.7,510.8 176.1,511.4 178,512.3C180,513.2 182.4,514.2 183.2,515.7C183.9,517.2 183.1,519.7 182.6,521.4C182.1,523.1 181.1,524.4 180.3,526C179.6,527.5 179.2,529.2 178,530.5C176.9,531.8 175.6,533.4 173.5,533.9C171.4,534.5 167.6,533.6 165.5,533.9C163.4,534.3 162.3,535.1 161,536.2C159.6,537.4 158.6,540.4 157.5,540.8C156.5,541.1 155.3,540 154.7,538.5C154.1,537 153.8,533.9 154.1,531.7C154.4,529.4 155.8,526.9 156.4,524.8C157,522.7 157.2,521 157.5,519.1C157.9,517.2 157.7,514.8 158.7,513.4Z" fill="url(#po)" stroke="none" stroke-width="1"/>
<path d="M159.8,524.8C160.3,523.4 161.7,522.6 163.2,522C164.8,521.3 166.8,521 168.9,520.8C171,520.6 173.9,520.6 175.8,520.8C177.7,521.1 179.5,521.3 180.3,522.5C181.2,523.8 181.1,526.5 180.9,528.2C180.7,529.9 180.2,531.7 179.2,532.8C178.1,533.9 176.3,534.6 174.6,535.1C172.9,535.5 170.6,535.9 168.9,535.6C167.2,535.4 165.8,534.2 164.4,533.4C163,532.5 161.2,531.9 160.4,530.5C159.6,529.1 159.4,526.2 159.8,524.8Z" fill="url(#pc)" stroke="none" stroke-width="1"/>
<path d="M121.1,515.7C121.3,512.9 123.2,510.9 124.5,508.9C125.9,506.9 127.2,505 129.1,503.8C131,502.5 133.6,501.7 135.9,501.5C138.2,501.3 140.5,501.8 142.7,502.6C145,503.5 147.3,505.4 149.6,506.6C151.9,507.8 154.5,508.9 156.4,510C158.3,511.2 160.4,511.9 161,513.4C161.5,515 160.4,517.6 159.8,519.1C159.3,520.6 158.3,521.2 157.5,522.5C156.8,523.9 155.6,525.2 155.3,527.1C154.9,529 155.5,531.7 155.3,533.9C155.1,536.2 155.1,539.1 154.1,540.8C153.2,542.5 151.3,543.3 149.6,544.2C147.9,545 145.8,545.7 143.9,545.9C142,546.1 140.1,546.2 138.2,545.3C136.3,544.5 134.2,542.7 132.5,540.8C130.8,538.9 129.5,536.4 127.9,533.9C126.4,531.5 124.5,529 123.4,526C122.2,522.9 120.9,518.6 121.1,515.7Z" fill="url(#pk)" stroke="none" stroke-width="1"/>
<circle cx="171.7" cy="500" r="0.6" fill="#ef7a10"/>
<circle cx="173.4" cy="501.8" r="0.6" fill="#ef7a10"/>
<circle cx="172.6" cy="493" r="0.6" fill="#ef7a10"/>
<circle cx="170.4" cy="498" r="0.6" fill="#ef7a10"/>
<circle cx="171.1" cy="496.6" r="0.6" fill="#ef7a10"/>
<circle cx="173.2" cy="498.3" r="0.6" fill="#ef7a10"/>
<circle cx="164" cy="493.5" r="0.6" fill="#ef7a10"/>
<circle cx="162.1" cy="497.4" r="0.6" fill="#ef7a10"/>
<circle cx="160.9" cy="497" r="0.6" fill="#ef7a10"/>
<circle cx="162.2" cy="497.4" r="0.6" fill="#ef7a10"/>
<circle cx="167.5" cy="498.1" r="0.6" fill="#ef7a10"/>
<circle cx="172.9" cy="490.1" r="0.6" fill="#ef7a10"/>
<circle cx="172.6" cy="497" r="0.6" fill="#ef7a10"/>
<circle cx="168.4" cy="500" r="0.6" fill="#ef7a10"/>
<circle cx="172.6" cy="495.6" r="0.6" fill="#ef7a10"/>
<circle cx="166.3" cy="504.4" r="0.6" fill="#ef7a10"/>
<circle cx="161.1" cy="499.6" r="0.6" fill="#ef7a10"/>
<circle cx="169.5" cy="490.4" r="0.6" fill="#ef7a10"/>
<circle cx="169.1" cy="500.2" r="0.6" fill="#ef7a10"/>
<circle cx="174" cy="495" r="0.6" fill="#ef7a10"/>
<circle cx="174.7" cy="497.7" r="0.6" fill="#ef7a10"/>
<circle cx="167.3" cy="503.5" r="0.6" fill="#ef7a10"/>
<circle cx="160.5" cy="500.8" r="0.6" fill="#ef7a10"/>
<circle cx="169.4" cy="495.1" r="0.6" fill="#ef7a10"/>
<circle cx="172.9" cy="495.5" r="0.6" fill="#ef7a10"/>
<path d="M137.7,494.9C137.7,493 138.4,490.9 139.4,489C140.4,487.2 142,485 143.5,483.8C145,482.5 146.4,481.7 148.2,481.4C149.9,481.1 151.9,481.3 154,482C156.2,482.7 158.7,484.1 161,485.5C163.4,486.9 165.9,488.4 168,490.2C170.2,491.9 172.3,494.1 173.9,496C175.4,498 176.9,500 177.4,501.9C177.9,503.7 177.6,505.9 176.8,507.1C176,508.4 174.4,509 172.7,509.5C171,509.9 169,510.1 166.9,510C164.7,509.9 162.4,509.5 159.9,508.9C157.3,508.3 154.2,507.4 151.7,506.5C149.1,505.7 146.7,504.7 144.7,503.6C142.6,502.5 140.6,501.6 139.4,500.1C138.2,498.6 137.7,496.7 137.7,494.9Z" fill="none" stroke="#111" stroke-width="0.7"/>
<path d="M212.5,513.4C213.4,510.7 215.7,504.9 217.7,502.8C219.7,500.8 221.9,501.2 224.3,500.9C226.7,500.5 229.5,500.5 232.2,500.9C234.8,501.2 237.4,501.6 240,502.8C242.7,504.1 245.5,506.6 247.9,508.1C250.3,509.6 253.2,510.7 254.5,512C255.8,513.4 256,514.7 255.8,516C255.6,517.3 254.1,518.8 253.2,519.9C252.3,521 251.4,521 250.6,522.6C249.7,524.1 247.5,527.4 247.9,529.1C248.4,530.9 251.4,532 253.2,533.1C254.9,534.2 258,534.6 258.4,535.7C258.9,536.8 257.1,538.8 255.8,539.6C254.5,540.5 252.3,540.5 250.6,540.9C248.8,541.4 247.1,541.6 245.3,542.3C243.5,542.9 242,544.1 240,544.9C238.1,545.7 235.7,546.9 233.5,546.9C231.3,546.9 228.9,546.1 226.9,544.9C224.9,543.7 223.4,541.8 221.6,539.6C219.9,537.4 217.7,534.2 216.4,531.8C215.1,529.3 214.5,527.4 213.8,525.2C213,523 212,520.6 211.8,518.6C211.6,516.6 211.5,516 212.5,513.4Z" fill="#2e2e2e" stroke="none" stroke-width="1"/>
<path d="M213.3,513.8C214.3,511.2 216.5,505.6 218.4,503.6C220.3,501.6 222.4,502 224.7,501.7C227.1,501.4 229.8,501.4 232.4,501.7C234.9,502 237.4,502.5 240,503.6C242.5,504.8 245.2,507.2 247.6,508.7C249.9,510.2 252.6,511.2 253.9,512.5C255.2,513.8 255.4,515 255.2,516.3C255,517.6 253.5,519 252.6,520.1C251.8,521.2 250.9,521.2 250.1,522.6C249.3,524.1 247.1,527.3 247.6,529C248,530.7 250.9,531.7 252.6,532.8C254.3,533.8 257.3,534.3 257.7,535.3C258.1,536.4 256.4,538.3 255.2,539.1C253.9,540 251.8,540 250.1,540.4C248.4,540.8 246.7,541 245,541.7C243.3,542.3 241.9,543.5 240,544.2C238.1,544.9 235.7,546.1 233.6,546.1C231.5,546.1 229.2,545.4 227.3,544.2C225.4,543 223.9,541.2 222.2,539.1C220.5,537 218.4,533.8 217.1,531.5C215.9,529.2 215.3,527.3 214.6,525.2C213.9,523.1 212.9,520.7 212.7,518.8C212.5,516.9 212.4,516.3 213.3,513.8Z" fill="#d6d6d6" stroke="none" stroke-width="1"/>
<path d="M215,514.5C215.9,512.1 217.9,506.9 219.7,505C221.5,503.2 223.4,503.6 225.6,503.3C227.8,503 230.3,503 232.7,503.3C235.1,503.6 237.4,504 239.8,505C242.2,506.1 244.7,508.4 246.9,509.8C249.1,511.2 251.6,512.1 252.8,513.3C254,514.5 254.2,515.7 254,516.9C253.8,518.1 252.4,519.4 251.6,520.4C250.8,521.4 250,521.4 249.3,522.8C248.5,524.2 246.5,527.1 246.9,528.7C247.3,530.3 250,531.3 251.6,532.2C253.2,533.2 256,533.6 256.4,534.6C256.7,535.6 255.2,537.4 254,538.2C252.8,538.9 250.8,538.9 249.3,539.3C247.7,539.7 246.1,539.9 244.5,540.5C242.9,541.1 241.6,542.2 239.8,542.9C238,543.6 235.9,544.7 233.9,544.7C231.9,544.7 229.7,544 228,542.9C226.2,541.8 224.8,540.1 223.2,538.2C221.7,536.2 219.7,533.2 218.5,531.1C217.3,528.9 216.8,527.1 216.1,525.2C215.5,523.2 214.6,521 214.4,519.2C214.2,517.5 214.1,516.9 215,514.5Z" fill="url(#pw)" stroke="none" stroke-width="1"/>
<path d="M229.1,494.9C229.1,493 229.8,490.9 230.8,489C231.8,487.2 233.4,485 234.9,483.8C236.4,482.5 237.8,481.7 239.6,481.4C241.3,481.1 243.3,481.3 245.4,482C247.6,482.7 250.1,484.1 252.4,485.5C254.8,486.9 257.3,488.4 259.4,490.2C261.6,491.9 263.7,494.1 265.3,496C266.8,498 268.3,500 268.8,501.9C269.3,503.7 269,505.9 268.2,507.1C267.4,508.4 265.8,509 264.1,509.5C262.4,509.9 260.4,510.1 258.3,510C256.1,509.9 253.8,509.5 251.3,508.9C248.7,508.3 245.6,507.4 243.1,506.5C240.5,505.7 238.1,504.7 236.1,503.6C234,502.5 232,501.6 230.8,500.1C229.6,498.6 229.1,496.7 229.1,494.9Z" fill="none" stroke="#111" stroke-width="0.7"/>
<circle cx="260.1" cy="512.5" r="1.3" fill="#222"/>
<path d="M296.5,515.2C296.9,512.6 298.2,510.1 299.5,507.9C300.9,505.7 302.2,503.2 304.4,501.9C306.6,500.6 310.2,500 312.9,500.1C315.5,500.2 317.9,501.6 320.1,502.5C322.4,503.4 324,504.6 326.2,505.5C328.4,506.4 331.4,507.1 333.5,507.9C335.5,508.7 337.3,509.5 338.3,510.4C339.3,511.2 339.7,512 339.5,512.8C339.3,513.6 337.7,514 337.1,515.2C336.5,516.4 336.7,518.6 335.9,520C335.1,521.5 333.1,522.3 332.3,523.7C331.4,525.1 330.8,527.1 331,528.5C331.2,529.9 332.1,531.2 333.5,532.2C334.9,533.2 338.1,533.8 339.5,534.6C340.9,535.4 342.2,536.1 341.9,537C341.7,537.9 339.7,539.3 338.3,540C336.9,540.7 335.1,540.7 333.5,541.2C331.9,541.8 330.2,542.4 328.6,543.1C327,543.8 325.6,544.8 323.8,545.5C322,546.2 319.7,547.3 317.7,547.3C315.7,547.3 313.5,546.4 311.7,545.5C309.8,544.6 308.2,543.5 306.8,541.9C305.4,540.2 304.4,537.8 303.2,535.8C302,533.8 300.5,531.8 299.5,529.7C298.5,527.7 297.6,526.1 297.1,523.7C296.6,521.3 296.1,517.8 296.5,515.2Z" fill="#2e2e2e" stroke="none" stroke-width="1"/>
<path d="M297.4,515.5C297.8,513 299.1,510.7 300.3,508.5C301.6,506.4 302.9,503.9 305,502.7C307.2,501.4 310.7,500.8 313.2,500.9C315.7,501 318.1,502.4 320.2,503.3C322.4,504.1 323.9,505.3 326.1,506.2C328.2,507.1 331.1,507.7 333.1,508.5C335,509.3 336.8,510.1 337.8,510.9C338.7,511.6 339.1,512.4 338.9,513.2C338.7,514 337.2,514.4 336.6,515.5C336,516.7 336.2,518.9 335.4,520.2C334.6,521.6 332.7,522.4 331.9,523.7C331.1,525.1 330.5,527 330.7,528.4C330.9,529.8 331.7,530.9 333.1,531.9C334.4,532.9 337.6,533.5 338.9,534.2C340.3,535 341.5,535.7 341.3,536.6C341.1,537.5 339.1,538.8 337.8,539.5C336.4,540.2 334.6,540.2 333.1,540.7C331.5,541.2 330,541.8 328.4,542.4C326.8,543.1 325.5,544.1 323.7,544.8C322,545.5 319.8,546.5 317.9,546.5C315.9,546.5 313.8,545.6 312,544.8C310.3,543.9 308.7,542.8 307.4,541.3C306,539.7 305,537.4 303.8,535.4C302.7,533.5 301.3,531.5 300.3,529.6C299.4,527.6 298.5,526.1 298,523.7C297.5,521.4 297,518.1 297.4,515.5Z" fill="#d6d6d6" stroke="none" stroke-width="1"/>
<path d="M299.1,516.2C299.5,513.8 300.6,511.6 301.8,509.6C303,507.6 304.2,505.4 306.2,504.2C308.2,503 311.5,502.5 313.8,502.5C316.2,502.6 318.4,503.9 320.4,504.7C322.4,505.5 323.8,506.6 325.8,507.4C327.8,508.3 330.5,508.9 332.4,509.6C334.2,510.4 335.8,511.1 336.7,511.8C337.6,512.5 338,513.3 337.8,514C337.6,514.7 336.2,515.1 335.6,516.2C335.1,517.3 335.3,519.3 334.5,520.5C333.8,521.8 332,522.5 331.3,523.8C330.5,525.1 330,526.9 330.2,528.2C330.4,529.4 331.1,530.5 332.4,531.4C333.6,532.3 336.5,532.9 337.8,533.6C339.1,534.3 340.2,535 340,535.8C339.8,536.6 338,537.9 336.7,538.5C335.5,539.2 333.8,539.2 332.4,539.6C330.9,540.1 329.5,540.6 328,541.3C326.5,541.9 325.3,542.8 323.6,543.4C322,544.1 320,545.1 318.2,545.1C316.4,545.1 314.4,544.3 312.7,543.4C311.1,542.6 309.6,541.6 308.4,540.2C307.1,538.7 306.2,536.5 305.1,534.7C304,532.9 302.7,531.1 301.8,529.3C300.9,527.4 300.1,526 299.6,523.8C299.2,521.6 298.7,518.5 299.1,516.2Z" fill="url(#pw)" stroke="none" stroke-width="1"/>
<path d="M313.5,494.9C313.5,493 314.2,490.9 315.2,489C316.2,487.2 317.8,485 319.3,483.8C320.8,482.5 322.2,481.7 324,481.4C325.7,481.1 327.7,481.3 329.8,482C332,482.7 334.5,484.1 336.8,485.5C339.2,486.9 341.7,488.4 343.8,490.2C346,491.9 348.1,494.1 349.7,496C351.2,498 352.7,500 353.2,501.9C353.7,503.7 353.4,505.9 352.6,507.1C351.8,508.4 350.2,509 348.5,509.5C346.8,509.9 344.8,510.1 342.7,510C340.5,509.9 338.2,509.5 335.7,508.9C333.1,508.3 330,507.4 327.5,506.5C324.9,505.7 322.5,504.7 320.5,503.6C318.4,502.5 316.4,501.6 315.2,500.1C314,498.6 313.5,496.7 313.5,494.9Z" fill="none" stroke="#111" stroke-width="0.7"/>
<circle cx="344.5" cy="512.5" r="1.3" fill="#222"/>
<path d="M399.5,490.9C400.3,488.1 402.6,483.4 405.7,481.6C408.8,479.7 414.1,479.2 418.2,480C422.4,480.8 427.1,483.4 430.7,486.2C434.4,489.1 438.3,493.8 440.1,497.2C441.9,500.6 442.4,504.2 441.7,506.6C440.9,508.9 438.3,510.7 435.4,511.2C432.5,511.8 428.4,510.7 424.5,509.7C420.6,508.6 415.9,506.8 412,505C408.1,503.2 403.1,501.1 401,498.7C399,496.4 398.7,493.8 399.5,490.9Z" fill="#2ccfd5" stroke="none" stroke-width="1"/>
<path d="M400.5,491.2C401.3,488.5 403.5,484.1 406.5,482.3C409.4,480.6 414.4,480.1 418.4,480.8C422.3,481.6 426.8,484.1 430.2,486.8C433.7,489.5 437.4,493.9 439.1,497.2C440.9,500.4 441.4,503.8 440.6,506.1C439.9,508.3 437.4,510 434.7,510.5C432,511 428,510 424.3,509C420.6,508 416.1,506.3 412.4,504.6C408.7,502.8 404,500.9 402,498.6C400.1,496.4 399.8,493.9 400.5,491.2Z" fill="#8fe3e6" stroke="none" stroke-width="1"/>
<path d="M402,491.6C402.7,489.1 404.8,485 407.5,483.4C410.3,481.8 414.9,481.3 418.5,482C422.2,482.7 426.3,485 429.5,487.5C432.7,490 436.2,494.1 437.8,497.1C439.4,500.1 439.8,503.3 439.2,505.4C438.5,507.4 436.2,509 433.7,509.5C431.1,510 427.5,509 424,508.1C420.6,507.2 416.5,505.6 413,504C409.6,502.4 405.3,500.6 403.4,498.5C401.6,496.4 401.4,494.1 402,491.6Z" fill="url(#pc2)" stroke="none" stroke-width="1"/>
<path d="M421.9,519.1C423.4,517.6 427.3,518.1 430.1,517.6C432.9,517.1 436.4,515.9 438.8,516.1C441.3,516.4 443.6,516.9 444.7,519.1C445.7,521.2 446,526.4 445.3,529.3C444.5,532.2 442.6,534.9 440.3,536.6C438,538.3 434.2,539.7 431.5,539.5C428.9,539.2 425.9,537.3 424.2,535.1C422.5,532.9 421.7,529 421.3,526.4C420.9,523.7 420.4,520.5 421.9,519.1Z" fill="#2ccfd5" stroke="none" stroke-width="1"/>
<path d="M422.5,519.4C423.8,518 427.5,518.5 430.2,518C432.9,517.6 436.2,516.4 438.5,516.7C440.9,516.9 443.1,517.3 444.1,519.4C445.1,521.5 445.3,526.4 444.6,529.1C444,531.9 442.1,534.4 439.9,536.1C437.8,537.7 434.2,539.1 431.6,538.8C429.1,538.6 426.3,536.8 424.7,534.7C423.1,532.6 422.3,528.9 421.9,526.4C421.5,523.8 421.1,520.8 422.5,519.4Z" fill="#8fe3e6" stroke="none" stroke-width="1"/>
<path d="M423.2,519.9C424.5,518.7 428,519.1 430.4,518.7C432.9,518.2 436,517.2 438.1,517.4C440.3,517.6 442.3,518 443.3,519.9C444.2,521.9 444.4,526.4 443.8,528.9C443.2,531.5 441.4,533.9 439.4,535.4C437.4,536.9 434.1,538.1 431.7,537.9C429.4,537.7 426.8,536 425.3,534.1C423.8,532.2 423.1,528.7 422.7,526.4C422.4,524 422,521.2 423.2,519.9Z" fill="url(#pc2)" stroke="none" stroke-width="1"/>
<path d="M399.5,494.9C399.5,493 400.2,490.9 401.2,489C402.2,487.2 403.8,485 405.3,483.8C406.8,482.5 408.2,481.7 410,481.4C411.7,481.1 413.7,481.3 415.8,482C418,482.7 420.5,484.1 422.8,485.5C425.2,486.9 427.7,488.4 429.8,490.2C432,491.9 434.1,494.1 435.7,496C437.2,498 438.7,500 439.2,501.9C439.7,503.7 439.4,505.9 438.6,507.1C437.8,508.4 436.2,509 434.5,509.5C432.8,509.9 430.8,510.1 428.7,510C426.5,509.9 424.2,509.5 421.7,508.9C419.1,508.3 416,507.4 413.5,506.5C410.9,505.7 408.5,504.7 406.5,503.6C404.4,502.5 402.4,501.6 401.2,500.1C400,498.6 399.5,496.7 399.5,494.9Z" fill="none" stroke="#111" stroke-width="0.7"/>
<path d="M485.5,488.4C487,485.5 489.9,483.3 494.3,482.6C498.7,481.8 507,482.6 511.8,484C516.7,485.5 521.1,488.4 523.5,491.3C525.9,494.2 525.5,497.6 526.4,501.5C527.4,505.4 528.1,512 529.3,514.7C530.6,517.3 533.2,515.2 533.7,517.6C534.2,520 533.5,526.4 532.3,529.3C531,532.2 527.9,533.2 526.4,535.1C525,537.1 525.9,539.7 523.5,540.9C521.1,542.2 515.7,542.2 511.8,542.4C507.9,542.7 503.6,542.7 500.1,542.4C496.7,542.2 493.6,542.7 491.4,540.9C489.2,539.2 487.3,536.1 487,532.2C486.8,528.3 489.7,521.5 489.9,517.6C490.2,513.7 489.2,511.8 488.5,508.8C487.7,505.9 486,503.5 485.5,500.1C485.1,496.7 484.1,491.3 485.5,488.4Z" fill="#f58a2a" stroke="none" stroke-width="1"/>
<path d="M486.2,489C487.6,486.1 490.4,484 494.7,483.3C499,482.6 507,483.3 511.8,484.7C516.5,486.1 520.8,489 523.2,491.8C525.5,494.7 525.1,498 526,501.8C527,505.6 527.7,512 528.9,514.6C530,517.2 532.7,515.1 533.1,517.5C533.6,519.8 532.9,526 531.7,528.8C530.5,531.7 527.4,532.6 526,534.5C524.6,536.4 525.5,539 523.2,540.2C520.8,541.4 515.6,541.4 511.8,541.6C508,541.9 503.7,541.9 500.4,541.6C497.1,541.4 494,541.9 491.9,540.2C489.7,538.6 487.8,535.5 487.6,531.7C487.3,527.9 490.2,521.2 490.4,517.5C490.7,513.7 489.7,511.8 489,508.9C488.3,506.1 486.6,503.7 486.2,500.4C485.7,497.1 484.7,491.8 486.2,489Z" fill="#f9c08e" stroke="none" stroke-width="1"/>
<path d="M487.7,490.1C489,487.4 491.7,485.4 495.7,484.8C499.8,484.1 507.4,484.8 511.8,486.1C516.3,487.4 520.3,490.1 522.6,492.8C524.8,495.5 524.4,498.6 525.3,502.2C526.2,505.8 526.8,511.8 528,514.3C529.1,516.8 531.5,514.7 532,517C532.4,519.2 531.8,525 530.6,527.7C529.5,530.4 526.6,531.3 525.3,533.1C523.9,534.9 524.8,537.4 522.6,538.5C520.3,539.6 515.4,539.6 511.8,539.8C508.3,540 504.2,540 501.1,539.8C498,539.6 495.1,540 493,538.5C491,536.9 489.2,534 489,530.4C488.8,526.8 491.5,520.6 491.7,517C491.9,513.4 491,511.6 490.3,508.9C489.7,506.2 488.1,504 487.7,500.9C487.2,497.7 486.3,492.8 487.7,490.1Z" fill="url(#po2)" stroke="none" stroke-width="1"/>
<circle cx="478.1" cy="518.4" r="0.4" fill="#f58a2a"/>
<circle cx="483.1" cy="507.4" r="0.4" fill="#f58a2a"/>
<circle cx="477.4" cy="514.8" r="0.4" fill="#f58a2a"/>
<circle cx="479.4" cy="528.9" r="0.4" fill="#f58a2a"/>
<circle cx="475" cy="529" r="0.4" fill="#f58a2a"/>
<circle cx="476.9" cy="517.6" r="0.4" fill="#f58a2a"/>
<circle cx="474.6" cy="517.7" r="0.4" fill="#f58a2a"/>
<circle cx="486.6" cy="522.9" r="0.4" fill="#f58a2a"/>
<circle cx="483.5" cy="511.6" r="0.4" fill="#f58a2a"/>
<circle cx="475.4" cy="510.5" r="0.4" fill="#f58a2a"/>
<circle cx="480" cy="522.2" r="0.4" fill="#f58a2a"/>
<circle cx="483.3" cy="501.4" r="0.4" fill="#f58a2a"/>
<circle cx="482.3" cy="531" r="0.4" fill="#f58a2a"/>
<circle cx="479.3" cy="501.7" r="0.4" fill="#f58a2a"/>
<circle cx="475.1" cy="500.2" r="0.4" fill="#f58a2a"/>
<circle cx="473.2" cy="532.3" r="0.4" fill="#f58a2a"/>
<circle cx="480.3" cy="523" r="0.4" fill="#f58a2a"/>
<circle cx="483.4" cy="531.8" r="0.4" fill="#f58a2a"/>
<path d="M485.3,494.9C485.3,493 486,490.9 487,489C488,487.2 489.6,485 491.1,483.8C492.6,482.5 494,481.7 495.8,481.4C497.5,481.1 499.5,481.3 501.6,482C503.8,482.7 506.3,484.1 508.6,485.5C511,486.9 513.5,488.4 515.6,490.2C517.8,491.9 519.9,494.1 521.5,496C523,498 524.5,500 525,501.9C525.5,503.7 525.2,505.9 524.4,507.1C523.6,508.4 522,509 520.3,509.5C518.6,509.9 516.6,510.1 514.5,510C512.3,509.9 510,509.5 507.5,508.9C504.9,508.3 501.8,507.4 499.3,506.5C496.7,505.7 494.3,504.7 492.3,503.6C490.2,502.5 488.2,501.6 487,500.1C485.8,498.6 485.3,496.7 485.3,494.9Z" fill="none" stroke="#111" stroke-width="0.7"/>
<rect x="26.4" y="477" width="76.7" height="76.7" fill="none" stroke="#777" stroke-width="0.8"/>
<use href="#tax" x="26.4" y="477"/>
<text x="27.9" y="484.4" font-size="4.2" font-weight="bold" fill="#111">Activated</text>
<rect x="112.2" y="477" width="76.7" height="76.7" fill="none" stroke="#777" stroke-width="0.8"/>
<use href="#tax" x="112.2" y="477"/>
<text x="113.7" y="484.4" font-size="4.2" font-weight="bold" fill="#111">Activated</text>
<rect x="203.6" y="477" width="76.7" height="76.7" fill="none" stroke="#777" stroke-width="0.8"/>
<use href="#tax" x="203.6" y="477"/>
<text x="205.1" y="484.4" font-size="4.2" font-weight="bold" fill="#111">Activated</text>
<text x="213.1" y="491" font-size="4.2" text-anchor="middle" font-weight="bold" fill="#111">0</text>
<rect x="288" y="477" width="76.7" height="76.7" fill="none" stroke="#777" stroke-width="0.8"/>
<use href="#tax" x="288" y="477"/>
<text x="289.5" y="484.4" font-size="4.2" font-weight="bold" fill="#111">Activated</text>
<text x="297.5" y="491" font-size="4.2" text-anchor="middle" font-weight="bold" fill="#111">0</text>
<rect x="374" y="477" width="76.7" height="76.7" fill="none" stroke="#777" stroke-width="0.8"/>
<use href="#tax" x="374" y="477"/>
<text x="375.5" y="484.4" font-size="4.2" font-weight="bold" fill="#111">Activated</text>
<text x="383.5" y="491" font-size="4.2" text-anchor="middle" font-weight="bold" fill="#111">72.9</text>
<rect x="459.8" y="477" width="76.7" height="76.7" fill="none" stroke="#777" stroke-width="0.8"/>
<use href="#tax" x="459.8" y="477"/>
<text x="461.3" y="484.4" font-size="4.2" font-weight="bold" fill="#111">Activated</text>
<text x="469.3" y="491" font-size="4.2" text-anchor="middle" font-weight="bold" fill="#111">34.4</text>
<text x="242.5" y="471.5" font-size="11" text-anchor="middle" fill="#111">Medium</text>
<text x="325.5" y="471.5" font-size="11" text-anchor="middle" fill="#111">IL-35</text>
<text x="410" y="471.5" font-size="11" text-anchor="middle" fill="#29abd4" textLength="52" lengthAdjust="spacingAndGlyphs">IL-12+IL-18</text>
<text x="494.3" y="471.5" font-size="11" text-anchor="middle" fill="#f7901e" textLength="81" lengthAdjust="spacingAndGlyphs">IL-12+IL-18+IL-35</text>
<text x="9" y="549" font-size="10.5" text-anchor="middle" fill="#111" transform="rotate(-90 9 549)">Tsne_2</text>
<text x="8.4" y="579.3" font-size="10.5" fill="#111" textLength="30" lengthAdjust="spacingAndGlyphs">Tsne_1</text>
<text x="80.6" y="575.5" font-size="6.2" text-anchor="middle" font-weight="bold" fill="#111">Cell Density</text>
<rect x="63.8" y="577.8" width="35.2" height="7.2" fill="url(#cbar)" stroke="none" stroke-width="1"/>
<text x="47" y="584.6" font-size="7.8" fill="#111">Low</text>
<text x="100.7" y="584.6" font-size="7.8" fill="#111">High</text>
<line x1="584.9" y1="559.1" x2="584.9" y2="462.8" stroke="#111" stroke-width="0.9"/>
<line x1="582.9" y1="558.7" x2="584.9" y2="558.7" stroke="#111" stroke-width="0.7"/>
<text x="580.7" y="561.4" font-size="7.4" text-anchor="end" fill="#111">0</text>
<line x1="583.7" y1="549.1" x2="584.9" y2="549.1" stroke="#111" stroke-width="0.5"/>
<line x1="582.9" y1="539.5" x2="584.9" y2="539.5" stroke="#111" stroke-width="0.7"/>
<text x="580.7" y="542.2" font-size="7.4" text-anchor="end" fill="#111">20</text>
<line x1="583.7" y1="529.9" x2="584.9" y2="529.9" stroke="#111" stroke-width="0.5"/>
<line x1="582.9" y1="520.3" x2="584.9" y2="520.3" stroke="#111" stroke-width="0.7"/>
<text x="580.7" y="523" font-size="7.4" text-anchor="end" fill="#111">40</text>
<line x1="583.7" y1="510.8" x2="584.9" y2="510.8" stroke="#111" stroke-width="0.5"/>
<line x1="582.9" y1="501.2" x2="584.9" y2="501.2" stroke="#111" stroke-width="0.7"/>
<text x="580.7" y="503.8" font-size="7.4" text-anchor="end" fill="#111">60</text>
<line x1="583.7" y1="491.6" x2="584.9" y2="491.6" stroke="#111" stroke-width="0.5"/>
<line x1="582.9" y1="482" x2="584.9" y2="482" stroke="#111" stroke-width="0.7"/>
<text x="580.7" y="484.6" font-size="7.4" text-anchor="end" fill="#111">80</text>
<line x1="583.7" y1="472.4" x2="584.9" y2="472.4" stroke="#111" stroke-width="0.5"/>
<line x1="582.9" y1="462.8" x2="584.9" y2="462.8" stroke="#111" stroke-width="0.7"/>
<text x="580.7" y="465.5" font-size="7.4" text-anchor="end" fill="#111">100</text>
<line x1="584.9" y1="558.7" x2="652.2" y2="558.7" stroke="#111" stroke-width="1"/>
<rect x="621.5" y="486.8" width="10.2" height="71.9" fill="#12acd6" stroke="#222" stroke-width="0.5"/>
<rect x="636.3" y="522.7" width="10.2" height="36" fill="#fba142" stroke="#222" stroke-width="0.5"/>
<line x1="594" y1="558.2" x2="601" y2="558.2" stroke="#111" stroke-width="1.2"/>
<line x1="608.5" y1="558.2" x2="615" y2="558.2" stroke="#111" stroke-width="1.2"/>
<line x1="626.6" y1="480.1" x2="641.4" y2="517.5" stroke="#111" stroke-width="0.4" stroke-dasharray="0.6,1.2"/>
<line x1="626.6" y1="482" x2="641.4" y2="518.4" stroke="#111" stroke-width="0.4" stroke-dasharray="0.6,1.2"/>
<line x1="626.6" y1="483.9" x2="641.4" y2="519.4" stroke="#111" stroke-width="0.4" stroke-dasharray="0.6,1.2"/>
<line x1="626.6" y1="485.8" x2="641.4" y2="520.3" stroke="#111" stroke-width="0.4" stroke-dasharray="0.6,1.2"/>
<line x1="626.6" y1="486.8" x2="641.4" y2="521.3" stroke="#111" stroke-width="0.4" stroke-dasharray="0.6,1.2"/>
<line x1="626.6" y1="487.7" x2="641.4" y2="522.3" stroke="#111" stroke-width="0.4" stroke-dasharray="0.6,1.2"/>
<line x1="626.6" y1="488.7" x2="641.4" y2="524.2" stroke="#111" stroke-width="0.4" stroke-dasharray="0.6,1.2"/>
<line x1="626.6" y1="489.7" x2="641.4" y2="527.1" stroke="#111" stroke-width="0.4" stroke-dasharray="0.6,1.2"/>
<line x1="626.6" y1="490.6" x2="641.4" y2="529.9" stroke="#111" stroke-width="0.4" stroke-dasharray="0.6,1.2"/>
<line x1="626.6" y1="491.6" x2="641.4" y2="534.7" stroke="#111" stroke-width="0.4" stroke-dasharray="0.6,1.2"/>
<circle cx="624.6" cy="480.1" r="0.8" fill="#000"/>
<circle cx="625.9" cy="482" r="0.8" fill="#000"/>
<circle cx="627.2" cy="483.9" r="0.8" fill="#000"/>
<circle cx="628.5" cy="485.8" r="0.8" fill="#000"/>
<circle cx="624.6" cy="486.8" r="0.8" fill="#000"/>
<circle cx="625.9" cy="487.7" r="0.8" fill="#000"/>
<circle cx="627.2" cy="488.7" r="0.8" fill="#000"/>
<circle cx="628.5" cy="489.7" r="0.8" fill="#000"/>
<circle cx="624.6" cy="490.6" r="0.8" fill="#000"/>
<circle cx="625.9" cy="491.6" r="0.8" fill="#000"/>
<circle cx="639" cy="517.5" r="0.8" fill="#000"/>
<circle cx="640.8" cy="518.4" r="0.8" fill="#000"/>
<circle cx="642.6" cy="519.4" r="0.8" fill="#000"/>
<circle cx="644.4" cy="520.3" r="0.8" fill="#000"/>
<circle cx="639" cy="521.3" r="0.8" fill="#000"/>
<circle cx="640.8" cy="522.3" r="0.8" fill="#000"/>
<circle cx="642.6" cy="524.2" r="0.8" fill="#000"/>
<circle cx="644.4" cy="527.1" r="0.8" fill="#000"/>
<circle cx="639" cy="529.9" r="0.8" fill="#000"/>
<circle cx="640.8" cy="534.7" r="0.8" fill="#000"/>
<line x1="641.4" y1="516.5" x2="641.4" y2="529" stroke="#111" stroke-width="0.6"/>
<line x1="639.6" y1="516.5" x2="643.2" y2="516.5" stroke="#111" stroke-width="0.6"/>
<line x1="597" y1="558.7" x2="597" y2="560.7" stroke="#111" stroke-width="0.6"/>
<line x1="611.8" y1="558.7" x2="611.8" y2="560.7" stroke="#111" stroke-width="0.6"/>
<line x1="626.6" y1="558.7" x2="626.6" y2="560.7" stroke="#111" stroke-width="0.6"/>
<line x1="641.4" y1="558.7" x2="641.4" y2="560.7" stroke="#111" stroke-width="0.6"/>
<text x="634.2" y="468.4" font-size="7.4" text-anchor="middle" fill="#222">&lt;0.0001</text>
<line x1="625.3" y1="471" x2="644.8" y2="471" stroke="#222" stroke-width="1.4"/>
<text x="567.5" y="511" font-size="8.6" text-anchor="middle" fill="#222" transform="rotate(-90 567.5 511)">% <tspan font-weight="bold">Activated</tspan> NK cells</text>
<text x="598.8" y="569.5" font-size="8.2" text-anchor="end" fill="#111" transform="rotate(-45 598.8 569.5)">Medium</text>
<text x="613.6" y="569.5" font-size="8.2" text-anchor="end" fill="#111" transform="rotate(-45 613.6 569.5)">IL-35</text>
<text x="628.4" y="569.5" font-size="8.2" text-anchor="end" fill="#111" transform="rotate(-45 628.4 569.5)">IL-12+IL-18</text>
<text x="643.2" y="569.5" font-size="8.2" text-anchor="end" fill="#111" transform="rotate(-45 643.2 569.5)">IL-12+IL-18+IL-35</text>
<text x="0" y="608.8" font-size="13.3" font-weight="bold" fill="#000">d</text>
<line x1="43.3" y1="708.4" x2="43.3" y2="615.4" stroke="#111" stroke-width="0.9"/>
<line x1="41.3" y1="708" x2="43.3" y2="708" stroke="#111" stroke-width="0.7"/>
<text x="39.5" y="710.4" font-size="6.8" text-anchor="end" fill="#111">0.0</text>
<line x1="42.1" y1="704.1" x2="43.3" y2="704.1" stroke="#111" stroke-width="0.5"/>
<line x1="42.1" y1="700.3" x2="43.3" y2="700.3" stroke="#111" stroke-width="0.5"/>
<line x1="42.1" y1="696.4" x2="43.3" y2="696.4" stroke="#111" stroke-width="0.5"/>
<line x1="41.3" y1="692.6" x2="43.3" y2="692.6" stroke="#111" stroke-width="0.7"/>
<text x="39.5" y="695" font-size="6.8" text-anchor="end" fill="#111">0.2</text>
<line x1="42.1" y1="688.7" x2="43.3" y2="688.7" stroke="#111" stroke-width="0.5"/>
<line x1="42.1" y1="684.8" x2="43.3" y2="684.8" stroke="#111" stroke-width="0.5"/>
<line x1="42.1" y1="681" x2="43.3" y2="681" stroke="#111" stroke-width="0.5"/>
<line x1="41.3" y1="677.1" x2="43.3" y2="677.1" stroke="#111" stroke-width="0.7"/>
<text x="39.5" y="679.6" font-size="6.8" text-anchor="end" fill="#111">0.4</text>
<line x1="42.1" y1="673.3" x2="43.3" y2="673.3" stroke="#111" stroke-width="0.5"/>
<line x1="42.1" y1="669.4" x2="43.3" y2="669.4" stroke="#111" stroke-width="0.5"/>
<line x1="42.1" y1="665.5" x2="43.3" y2="665.5" stroke="#111" stroke-width="0.5"/>
<line x1="41.3" y1="661.7" x2="43.3" y2="661.7" stroke="#111" stroke-width="0.7"/>
<text x="39.5" y="664.1" font-size="6.8" text-anchor="end" fill="#111">0.6</text>
<line x1="42.1" y1="657.8" x2="43.3" y2="657.8" stroke="#111" stroke-width="0.5"/>
<line x1="42.1" y1="654" x2="43.3" y2="654" stroke="#111" stroke-width="0.5"/>
<line x1="42.1" y1="650.1" x2="43.3" y2="650.1" stroke="#111" stroke-width="0.5"/>
<line x1="41.3" y1="646.2" x2="43.3" y2="646.2" stroke="#111" stroke-width="0.7"/>
<text x="39.5" y="648.7" font-size="6.8" text-anchor="end" fill="#111">0.8</text>
<line x1="42.1" y1="642.4" x2="43.3" y2="642.4" stroke="#111" stroke-width="0.5"/>
<line x1="42.1" y1="638.5" x2="43.3" y2="638.5" stroke="#111" stroke-width="0.5"/>
<line x1="42.1" y1="634.7" x2="43.3" y2="634.7" stroke="#111" stroke-width="0.5"/>
<line x1="41.3" y1="630.8" x2="43.3" y2="630.8" stroke="#111" stroke-width="0.7"/>
<text x="39.5" y="633.2" font-size="6.8" text-anchor="end" fill="#111">1.0</text>
<line x1="42.1" y1="626.9" x2="43.3" y2="626.9" stroke="#111" stroke-width="0.5"/>
<line x1="42.1" y1="623.1" x2="43.3" y2="623.1" stroke="#111" stroke-width="0.5"/>
<line x1="42.1" y1="619.2" x2="43.3" y2="619.2" stroke="#111" stroke-width="0.5"/>
<line x1="41.3" y1="615.4" x2="43.3" y2="615.4" stroke="#111" stroke-width="0.7"/>
<text x="39.5" y="617.8" font-size="6.8" text-anchor="end" fill="#111">1.2</text>
<line x1="43.3" y1="708" x2="241.7" y2="708" stroke="#111" stroke-width="1"/>
<line x1="69.9" y1="614" x2="69.9" y2="708" stroke="#ccc" stroke-width="0.5" stroke-dasharray="0.8,1.4"/>
<line x1="98.7" y1="614" x2="98.7" y2="708" stroke="#ccc" stroke-width="0.5" stroke-dasharray="0.8,1.4"/>
<line x1="127.5" y1="614" x2="127.5" y2="708" stroke="#ccc" stroke-width="0.5" stroke-dasharray="0.8,1.4"/>
<line x1="156.3" y1="614" x2="156.3" y2="708" stroke="#ccc" stroke-width="0.5" stroke-dasharray="0.8,1.4"/>
<line x1="185.1" y1="614" x2="185.1" y2="708" stroke="#ccc" stroke-width="0.5" stroke-dasharray="0.8,1.4"/>
<line x1="213.9" y1="614" x2="213.9" y2="708" stroke="#ccc" stroke-width="0.5" stroke-dasharray="0.8,1.4"/>
<rect x="46.5" y="630.8" width="7.7" height="77.2" fill="#12acd6" stroke="#222" stroke-width="0.5"/>
<line x1="46.5" y1="630.8" x2="54.2" y2="630.8" stroke="#111" stroke-width="1"/>
<rect x="56.8" y="681.8" width="7.7" height="26.2" fill="#fba142" stroke="#222" stroke-width="0.5"/>
<line x1="60.6" y1="673.3" x2="60.6" y2="689.5" stroke="#111" stroke-width="0.5"/>
<line x1="59.1" y1="673.3" x2="62.1" y2="673.3" stroke="#111" stroke-width="0.5"/>
<circle cx="60.6" cy="667.9" r="0.8" fill="#000"/>
<circle cx="60.6" cy="677.1" r="0.8" fill="#000"/>
<circle cx="60.6" cy="682.5" r="0.8" fill="#000"/>
<circle cx="60.6" cy="688.7" r="0.8" fill="#000"/>
<circle cx="60.6" cy="691" r="0.8" fill="#000"/>
<text x="55.5" y="611.4" font-size="7.4" text-anchor="middle" fill="#222" textLength="26" lengthAdjust="spacingAndGlyphs">&lt;0.0001</text>
<line x1="47" y1="614.8" x2="64" y2="614.8" stroke="#222" stroke-width="1.5"/>
<line x1="50.4" y1="708" x2="50.4" y2="710" stroke="#111" stroke-width="0.6"/>
<line x1="60.6" y1="708" x2="60.6" y2="710" stroke="#111" stroke-width="0.6"/>
<text x="61.8" y="716.5" font-size="9.4" text-anchor="end" fill="#111" transform="rotate(-45 61.8 716.5)">IFN-&#947;</text>
<rect x="75.3" y="630.8" width="7.7" height="77.2" fill="#12acd6" stroke="#222" stroke-width="0.5"/>
<line x1="75.3" y1="630.8" x2="83" y2="630.8" stroke="#111" stroke-width="1"/>
<rect x="85.6" y="681" width="7.7" height="27" fill="#fba142" stroke="#222" stroke-width="0.5"/>
<line x1="89.4" y1="666.3" x2="89.4" y2="695.6" stroke="#111" stroke-width="0.5"/>
<line x1="87.9" y1="666.3" x2="90.9" y2="666.3" stroke="#111" stroke-width="0.5"/>
<circle cx="89.4" cy="657.8" r="0.8" fill="#000"/>
<circle cx="89.4" cy="673.3" r="0.8" fill="#000"/>
<circle cx="89.4" cy="684.8" r="0.8" fill="#000"/>
<circle cx="89.4" cy="692.6" r="0.8" fill="#000"/>
<circle cx="89.4" cy="696.4" r="0.8" fill="#000"/>
<text x="84.3" y="611.4" font-size="7.4" text-anchor="middle" fill="#222" textLength="22.5" lengthAdjust="spacingAndGlyphs">0.0004</text>
<line x1="75.8" y1="614.8" x2="92.8" y2="614.8" stroke="#222" stroke-width="1.5"/>
<line x1="79.2" y1="708" x2="79.2" y2="710" stroke="#111" stroke-width="0.6"/>
<line x1="89.4" y1="708" x2="89.4" y2="710" stroke="#111" stroke-width="0.6"/>
<text x="90.6" y="716.5" font-size="9.4" text-anchor="end" fill="#111" transform="rotate(-45 90.6 716.5)">TNF-&#945;</text>
<rect x="104.1" y="630.8" width="7.7" height="77.2" fill="#12acd6" stroke="#222" stroke-width="0.5"/>
<line x1="104.1" y1="630.8" x2="111.8" y2="630.8" stroke="#111" stroke-width="1"/>
<rect x="114.4" y="678.7" width="7.7" height="29.3" fill="#fba142" stroke="#222" stroke-width="0.5"/>
<line x1="118.2" y1="669.4" x2="118.2" y2="687.2" stroke="#111" stroke-width="0.5"/>
<line x1="116.7" y1="669.4" x2="119.7" y2="669.4" stroke="#111" stroke-width="0.5"/>
<circle cx="118.2" cy="661.7" r="0.8" fill="#000"/>
<circle cx="118.2" cy="675.6" r="0.8" fill="#000"/>
<circle cx="118.2" cy="678.7" r="0.8" fill="#000"/>
<circle cx="118.2" cy="681" r="0.8" fill="#000"/>
<circle cx="118.2" cy="682.5" r="0.8" fill="#000"/>
<text x="113.1" y="611.4" font-size="7.4" text-anchor="middle" fill="#222" textLength="26" lengthAdjust="spacingAndGlyphs">&lt;0.0001</text>
<line x1="104.6" y1="614.8" x2="121.6" y2="614.8" stroke="#222" stroke-width="1.5"/>
<line x1="108" y1="708" x2="108" y2="710" stroke="#111" stroke-width="0.6"/>
<line x1="118.2" y1="708" x2="118.2" y2="710" stroke="#111" stroke-width="0.6"/>
<text x="119.4" y="716.5" font-size="9.4" text-anchor="end" fill="#111" transform="rotate(-45 119.4 716.5)">GM-CSF</text>
<rect x="132.9" y="630.8" width="7.7" height="77.2" fill="#12acd6" stroke="#222" stroke-width="0.5"/>
<line x1="132.9" y1="630.8" x2="140.6" y2="630.8" stroke="#111" stroke-width="1"/>
<rect x="143.2" y="674" width="7.7" height="34" fill="#fba142" stroke="#222" stroke-width="0.5"/>
<line x1="147" y1="663.2" x2="147" y2="684.8" stroke="#111" stroke-width="0.5"/>
<line x1="145.5" y1="663.2" x2="148.5" y2="663.2" stroke="#111" stroke-width="0.5"/>
<circle cx="147" cy="656.3" r="0.8" fill="#000"/>
<circle cx="147" cy="673.3" r="0.8" fill="#000"/>
<circle cx="147" cy="674" r="0.8" fill="#000"/>
<circle cx="147" cy="677.1" r="0.8" fill="#000"/>
<circle cx="147" cy="684.8" r="0.8" fill="#000"/>
<text x="141.9" y="611.4" font-size="7.4" text-anchor="middle" fill="#222" textLength="22.5" lengthAdjust="spacingAndGlyphs">0.0002</text>
<line x1="133.4" y1="614.8" x2="150.4" y2="614.8" stroke="#222" stroke-width="1.5"/>
<line x1="136.8" y1="708" x2="136.8" y2="710" stroke="#111" stroke-width="0.6"/>
<line x1="147" y1="708" x2="147" y2="710" stroke="#111" stroke-width="0.6"/>
<text x="148.2" y="716.5" font-size="9.4" text-anchor="end" fill="#111" transform="rotate(-45 148.2 716.5)">CCL3</text>
<rect x="161.7" y="630.8" width="7.7" height="77.2" fill="#12acd6" stroke="#222" stroke-width="0.5"/>
<line x1="161.7" y1="630.8" x2="169.4" y2="630.8" stroke="#111" stroke-width="1"/>
<rect x="172" y="656.3" width="7.7" height="51.7" fill="#fba142" stroke="#222" stroke-width="0.5"/>
<line x1="175.8" y1="641.6" x2="175.8" y2="670.9" stroke="#111" stroke-width="0.5"/>
<line x1="174.3" y1="641.6" x2="177.3" y2="641.6" stroke="#111" stroke-width="0.5"/>
<circle cx="175.8" cy="637" r="0.8" fill="#000"/>
<circle cx="175.8" cy="642.4" r="0.8" fill="#000"/>
<circle cx="175.8" cy="657" r="0.8" fill="#000"/>
<circle cx="175.8" cy="669.4" r="0.8" fill="#000"/>
<circle cx="175.8" cy="675.6" r="0.8" fill="#000"/>
<text x="170.7" y="611.4" font-size="7.4" text-anchor="middle" fill="#222" textLength="22.5" lengthAdjust="spacingAndGlyphs">0.0069</text>
<line x1="162.2" y1="614.8" x2="179.2" y2="614.8" stroke="#222" stroke-width="1.5"/>
<line x1="165.6" y1="708" x2="165.6" y2="710" stroke="#111" stroke-width="0.6"/>
<line x1="175.8" y1="708" x2="175.8" y2="710" stroke="#111" stroke-width="0.6"/>
<text x="177" y="716.5" font-size="9.4" text-anchor="end" fill="#111" transform="rotate(-45 177 716.5)">CCL4</text>
<rect x="190.5" y="630.8" width="7.7" height="77.2" fill="#12acd6" stroke="#222" stroke-width="0.5"/>
<line x1="190.5" y1="630.8" x2="198.2" y2="630.8" stroke="#111" stroke-width="1"/>
<rect x="200.8" y="661.7" width="7.7" height="46.3" fill="#fba142" stroke="#222" stroke-width="0.5"/>
<line x1="204.6" y1="632.3" x2="204.6" y2="688.7" stroke="#111" stroke-width="0.5"/>
<line x1="203.1" y1="632.3" x2="206.1" y2="632.3" stroke="#111" stroke-width="0.5"/>
<circle cx="204.6" cy="632.3" r="0.8" fill="#000"/>
<circle cx="204.6" cy="646.2" r="0.8" fill="#000"/>
<circle cx="204.6" cy="654" r="0.8" fill="#000"/>
<circle cx="204.6" cy="661.7" r="0.8" fill="#000"/>
<text x="199.5" y="611.4" font-size="7.4" text-anchor="middle" fill="#222" textLength="22.5" lengthAdjust="spacingAndGlyphs">0.0708</text>
<line x1="191" y1="614.8" x2="208" y2="614.8" stroke="#222" stroke-width="1.5"/>
<line x1="194.4" y1="708" x2="194.4" y2="710" stroke="#111" stroke-width="0.6"/>
<line x1="204.6" y1="708" x2="204.6" y2="710" stroke="#111" stroke-width="0.6"/>
<text x="205.8" y="716.5" font-size="9.4" text-anchor="end" fill="#111" transform="rotate(-45 205.8 716.5)">XCL1</text>
<rect x="219.3" y="630.8" width="7.7" height="77.2" fill="#12acd6" stroke="#222" stroke-width="0.5"/>
<line x1="219.3" y1="630.8" x2="227" y2="630.8" stroke="#111" stroke-width="1"/>
<rect x="229.6" y="686.4" width="7.7" height="21.6" fill="#fba142" stroke="#222" stroke-width="0.5"/>
<line x1="233.4" y1="643.2" x2="233.4" y2="708" stroke="#111" stroke-width="0.5"/>
<line x1="231.9" y1="643.2" x2="234.9" y2="643.2" stroke="#111" stroke-width="0.5"/>
<circle cx="233.4" cy="620.8" r="0.8" fill="#000"/>
<circle cx="233.4" cy="684.8" r="0.8" fill="#000"/>
<circle cx="233.4" cy="688.7" r="0.8" fill="#000"/>
<text x="228.3" y="611.4" font-size="7.4" text-anchor="middle" fill="#222" textLength="22.5" lengthAdjust="spacingAndGlyphs">0.0847</text>
<line x1="219.8" y1="614.8" x2="236.8" y2="614.8" stroke="#222" stroke-width="1.5"/>
<line x1="223.2" y1="708" x2="223.2" y2="710" stroke="#111" stroke-width="0.6"/>
<line x1="233.4" y1="708" x2="233.4" y2="710" stroke="#111" stroke-width="0.6"/>
<text x="234.6" y="716.5" font-size="9.4" text-anchor="end" fill="#111" transform="rotate(-45 234.6 716.5)">FLT3L</text>
<text x="12.3" y="661.3" font-size="8.4" text-anchor="middle" fill="#222" transform="rotate(-90 12.3 661.3)" textLength="75.5" lengthAdjust="spacingAndGlyphs">Cytokine levels (pg/ml)</text>
<text x="18.5" y="661" font-size="4.9" text-anchor="middle" fill="#333" transform="rotate(-90 18.5 661)" textLength="58" lengthAdjust="spacingAndGlyphs">Fold change compared</text>
<text x="24.7" y="661.3" font-size="4.9" text-anchor="middle" fill="#333" transform="rotate(-90 24.7 661.3)" textLength="56.5" lengthAdjust="spacingAndGlyphs">to control without IL-35</text>
<rect x="246.7" y="644.6" width="6.7" height="7" fill="#12acd6" stroke="#222" stroke-width="0.5"/>
<rect x="246.7" y="656.3" width="6.7" height="7" fill="#fba142" stroke="#222" stroke-width="0.5"/>
<text x="256.8" y="650.6" font-size="8.3" fill="#222" textLength="41.6" lengthAdjust="spacingAndGlyphs">IL-12+IL-18</text>
<text x="256.8" y="662.3" font-size="8.3" fill="#222" textLength="64.7" lengthAdjust="spacingAndGlyphs">IL-12+IL-18+IL-35</text>
<text x="336.4" y="608.7" font-size="14.5" font-weight="bold" fill="#000" font-family="Liberation Serif">e</text>
<path d="M350.2,694.6 L350.2,694.6 L351.3,694.6 L352.4,694.6 L353.5,694.6 L354.6,694.6 L355.7,694.6 L356.8,694.6 L357.9,694.6 L359.1,694.6 L360.2,694.6 L361.3,694.6 L362.4,694.6 L363.5,694.6 L364.6,694.6 L365.7,694.6 L366.8,694.6 L367.9,694.6 L369,694.6 L370.1,694.6 L371.2,694.6 L372.3,694.6 L373.4,694.6 L374.6,694.6 L375.7,694.6 L376.8,694.5 L377.9,694.2 L379,693.8 L380.1,693 L381.2,691.7 L382.3,690 L383.4,687.9 L384.5,685.1 L385.6,680.7 L386.7,674.1 L387.8,666.2 L388.9,659.7 L390.1,656.8 L391.2,657.4 L392.3,660.6 L393.4,665.5 L394.5,671.7 L395.6,678.2 L396.7,683.9 L397.8,688.1 L398.9,691 L400,692.8 L401.1,693.8 L402.2,694.3 L403.3,694.5 L404.4,694.6 L405.6,694.6 L406.7,694.6 L407.8,694.6 L408.9,694.6 L410,694.6 L411.1,694.6 L412.2,694.6 L413.3,694.6 L413.3,694.6 Z" fill="#36cfd6" stroke="none" stroke-width="1" fill-opacity="0.5"/>
<path d="M350.2,694.6 L351.3,694.6 L352.4,694.6 L353.5,694.6 L354.6,694.6 L355.7,694.6 L356.8,694.6 L357.9,694.6 L359.1,694.6 L360.2,694.6 L361.3,694.6 L362.4,694.6 L363.5,694.6 L364.6,694.6 L365.7,694.6 L366.8,694.6 L367.9,694.6 L369,694.6 L370.1,694.6 L371.2,694.6 L372.3,694.6 L373.4,694.6 L374.6,694.6 L375.7,694.6 L376.8,694.5 L377.9,694.2 L379,693.8 L380.1,693 L381.2,691.7 L382.3,690 L383.4,687.9 L384.5,685.1 L385.6,680.7 L386.7,674.1 L387.8,666.2 L388.9,659.7 L390.1,656.8 L391.2,657.4 L392.3,660.6 L393.4,665.5 L394.5,671.7 L395.6,678.2 L396.7,683.9 L397.8,688.1 L398.9,691 L400,692.8 L401.1,693.8 L402.2,694.3 L403.3,694.5 L404.4,694.6 L405.6,694.6 L406.7,694.6 L407.8,694.6 L408.9,694.6 L410,694.6 L411.1,694.6 L412.2,694.6 L413.3,694.6" fill="none" stroke="#28cdd4" stroke-width="0.9"/>
<line x1="350.2" y1="694.6" x2="413.3" y2="694.6" stroke="#35cfd6" stroke-width="0.9"/>
<path d="M350.2,714.8 L350.2,714.8 L351.3,714.8 L352.4,714.8 L353.5,714.8 L354.6,714.8 L355.7,714.8 L356.8,714.8 L357.9,714.8 L359.1,714.8 L360.2,714.8 L361.3,714.8 L362.4,714.8 L363.5,714.8 L364.6,714.8 L365.7,714.8 L366.8,714.8 L367.9,714.8 L369,714.8 L370.1,714.8 L371.2,714.8 L372.3,714.8 L373.4,714.8 L374.6,714.8 L375.7,714.8 L376.8,714.7 L377.9,714.3 L379,713.5 L380.1,711.9 L381.2,709.5 L382.3,706.3 L383.4,701.5 L384.5,694.5 L385.6,687 L386.7,682.6 L387.8,684 L388.9,689.7 L390.1,696.4 L391.2,701.6 L392.3,704.9 L393.4,707.2 L394.5,709.1 L395.6,710.8 L396.7,712.1 L397.8,713.2 L398.9,713.9 L400,714.3 L401.1,714.6 L402.2,714.7 L403.3,714.8 L404.4,714.8 L405.6,714.8 L406.7,714.8 L407.8,714.8 L408.9,714.8 L410,714.8 L411.1,714.8 L412.2,714.8 L413.3,714.8 L413.3,714.8 Z" fill="#f6a25f" stroke="none" stroke-width="1" fill-opacity="0.65"/>
<path d="M350.2,714.8 L351.3,714.8 L352.4,714.8 L353.5,714.8 L354.6,714.8 L355.7,714.8 L356.8,714.8 L357.9,714.8 L359.1,714.8 L360.2,714.8 L361.3,714.8 L362.4,714.8 L363.5,714.8 L364.6,714.8 L365.7,714.8 L366.8,714.8 L367.9,714.8 L369,714.8 L370.1,714.8 L371.2,714.8 L372.3,714.8 L373.4,714.8 L374.6,714.8 L375.7,714.8 L376.8,714.7 L377.9,714.3 L379,713.5 L380.1,711.9 L381.2,709.5 L382.3,706.3 L383.4,701.5 L384.5,694.5 L385.6,687 L386.7,682.6 L387.8,684 L388.9,689.7 L390.1,696.4 L391.2,701.6 L392.3,704.9 L393.4,707.2 L394.5,709.1 L395.6,710.8 L396.7,712.1 L397.8,713.2 L398.9,713.9 L400,714.3 L401.1,714.6 L402.2,714.7 L403.3,714.8 L404.4,714.8 L405.6,714.8 L406.7,714.8 L407.8,714.8 L408.9,714.8 L410,714.8 L411.1,714.8 L412.2,714.8 L413.3,714.8" fill="none" stroke="#f47f1c" stroke-width="0.9"/>
<rect x="350.2" y="651" width="63.1" height="63.8" fill="none" stroke="#8a8a8a" stroke-width="0.9"/>
<line x1="350.2" y1="714.8" x2="413.3" y2="714.8" stroke="#f47f1c" stroke-width="0.9"/>
<line x1="355.2" y1="714.8" x2="355.2" y2="716.3" stroke="#666" stroke-width="0.4"/>
<text x="354.2" y="719.8" font-size="2.4" fill="#777">10</text>
<line x1="369.2" y1="714.8" x2="369.2" y2="716.3" stroke="#666" stroke-width="0.4"/>
<text x="368.2" y="719.8" font-size="2.4" fill="#777">10</text>
<line x1="383.2" y1="714.8" x2="383.2" y2="716.3" stroke="#666" stroke-width="0.4"/>
<text x="382.2" y="719.8" font-size="2.4" fill="#777">10</text>
<line x1="397.2" y1="714.8" x2="397.2" y2="716.3" stroke="#666" stroke-width="0.4"/>
<text x="396.2" y="719.8" font-size="2.4" fill="#777">10</text>
<line x1="411.2" y1="714.8" x2="411.2" y2="716.3" stroke="#666" stroke-width="0.4"/>
<text x="410.2" y="719.8" font-size="2.4" fill="#777">10</text>
<rect x="370.2" y="714.6" width="2.4" height="1.4" fill="#111" stroke="none" stroke-width="1"/>
<path d="M415.3,694.6 L415.3,694.6 L416.4,694.6 L417.5,694.6 L418.6,694.6 L419.7,694.6 L420.8,694.6 L421.9,694.6 L423,694.6 L424.2,694.6 L425.3,694.6 L426.4,694.6 L427.5,694.6 L428.6,694.6 L429.7,694.6 L430.8,694.6 L431.9,694.6 L433,694.6 L434.1,694.6 L435.2,694.6 L436.3,694.5 L437.4,694.5 L438.5,694.5 L439.7,694.4 L440.8,694.3 L441.9,694.1 L443,693.9 L444.1,693.6 L445.2,693.3 L446.3,692.9 L447.4,692.5 L448.5,692 L449.6,691.3 L450.7,690.6 L451.8,689.7 L452.9,688.6 L454,687.4 L455.2,686.1 L456.3,684.7 L457.4,683.4 L458.5,682.3 L459.6,681.4 L460.7,680.5 L461.8,678.7 L462.9,674.3 L464,666.8 L465.1,659.3 L466.2,657.3 L467.3,662.9 L468.4,672.2 L469.5,680.2 L470.7,685.4 L471.8,688.9 L472.9,691.5 L474,693.2 L475.1,694 L476.2,694.4 L477.3,694.5 L478.4,694.6 L478.4,694.6 Z" fill="#36cfd6" stroke="none" stroke-width="1" fill-opacity="0.5"/>
<path d="M415.3,694.6 L416.4,694.6 L417.5,694.6 L418.6,694.6 L419.7,694.6 L420.8,694.6 L421.9,694.6 L423,694.6 L424.2,694.6 L425.3,694.6 L426.4,694.6 L427.5,694.6 L428.6,694.6 L429.7,694.6 L430.8,694.6 L431.9,694.6 L433,694.6 L434.1,694.6 L435.2,694.6 L436.3,694.5 L437.4,694.5 L438.5,694.5 L439.7,694.4 L440.8,694.3 L441.9,694.1 L443,693.9 L444.1,693.6 L445.2,693.3 L446.3,692.9 L447.4,692.5 L448.5,692 L449.6,691.3 L450.7,690.6 L451.8,689.7 L452.9,688.6 L454,687.4 L455.2,686.1 L456.3,684.7 L457.4,683.4 L458.5,682.3 L459.6,681.4 L460.7,680.5 L461.8,678.7 L462.9,674.3 L464,666.8 L465.1,659.3 L466.2,657.3 L467.3,662.9 L468.4,672.2 L469.5,680.2 L470.7,685.4 L471.8,688.9 L472.9,691.5 L474,693.2 L475.1,694 L476.2,694.4 L477.3,694.5 L478.4,694.6" fill="none" stroke="#28cdd4" stroke-width="0.9"/>
<line x1="415.3" y1="694.6" x2="478.4" y2="694.6" stroke="#35cfd6" stroke-width="0.9"/>
<path d="M415.3,714.8 L415.3,714.8 L416.4,714.8 L417.5,714.8 L418.6,714.8 L419.7,714.8 L420.8,714.8 L421.9,714.8 L423,714.8 L424.2,714.8 L425.3,714.8 L426.4,714.8 L427.5,714.8 L428.6,714.8 L429.7,714.8 L430.8,714.8 L431.9,714.8 L433,714.8 L434.1,714.8 L435.2,714.8 L436.3,714.8 L437.4,714.8 L438.5,714.8 L439.7,714.8 L440.8,714.8 L441.9,714.8 L443,714.8 L444.1,714.8 L445.2,714.8 L446.3,714.7 L447.4,714.6 L448.5,714.4 L449.6,713.9 L450.7,712.9 L451.8,711.5 L452.9,709.6 L454,707.3 L455.2,704.7 L456.3,702 L457.4,699.3 L458.5,696.8 L459.6,694.7 L460.7,692.6 L461.8,690.1 L462.9,686.3 L464,681.6 L465.1,678.2 L466.2,678.8 L467.3,684.2 L468.4,692 L469.5,699.3 L470.7,704.9 L471.8,709 L472.9,712 L474,713.7 L475.1,714.4 L476.2,714.7 L477.3,714.8 L478.4,714.8 L478.4,714.8 Z" fill="#f6a25f" stroke="none" stroke-width="1" fill-opacity="0.65"/>
<path d="M415.3,714.8 L416.4,714.8 L417.5,714.8 L418.6,714.8 L419.7,714.8 L420.8,714.8 L421.9,714.8 L423,714.8 L424.2,714.8 L425.3,714.8 L426.4,714.8 L427.5,714.8 L428.6,714.8 L429.7,714.8 L430.8,714.8 L431.9,714.8 L433,714.8 L434.1,714.8 L435.2,714.8 L436.3,714.8 L437.4,714.8 L438.5,714.8 L439.7,714.8 L440.8,714.8 L441.9,714.8 L443,714.8 L444.1,714.8 L445.2,714.8 L446.3,714.7 L447.4,714.6 L448.5,714.4 L449.6,713.9 L450.7,712.9 L451.8,711.5 L452.9,709.6 L454,707.3 L455.2,704.7 L456.3,702 L457.4,699.3 L458.5,696.8 L459.6,694.7 L460.7,692.6 L461.8,690.1 L462.9,686.3 L464,681.6 L465.1,678.2 L466.2,678.8 L467.3,684.2 L468.4,692 L469.5,699.3 L470.7,704.9 L471.8,709 L472.9,712 L474,713.7 L475.1,714.4 L476.2,714.7 L477.3,714.8 L478.4,714.8" fill="none" stroke="#f47f1c" stroke-width="0.9"/>
<rect x="415.3" y="651" width="63.1" height="63.8" fill="none" stroke="#8a8a8a" stroke-width="0.9"/>
<line x1="415.3" y1="714.8" x2="478.4" y2="714.8" stroke="#f47f1c" stroke-width="0.9"/>
<line x1="420.3" y1="714.8" x2="420.3" y2="716.3" stroke="#666" stroke-width="0.4"/>
<text x="419.3" y="719.8" font-size="2.4" fill="#777">10</text>
<line x1="434.3" y1="714.8" x2="434.3" y2="716.3" stroke="#666" stroke-width="0.4"/>
<text x="433.3" y="719.8" font-size="2.4" fill="#777">10</text>
<line x1="448.3" y1="714.8" x2="448.3" y2="716.3" stroke="#666" stroke-width="0.4"/>
<text x="447.3" y="719.8" font-size="2.4" fill="#777">10</text>
<line x1="462.3" y1="714.8" x2="462.3" y2="716.3" stroke="#666" stroke-width="0.4"/>
<text x="461.3" y="719.8" font-size="2.4" fill="#777">10</text>
<line x1="476.3" y1="714.8" x2="476.3" y2="716.3" stroke="#666" stroke-width="0.4"/>
<text x="475.3" y="719.8" font-size="2.4" fill="#777">10</text>
<rect x="435.3" y="714.6" width="2.4" height="1.4" fill="#111" stroke="none" stroke-width="1"/>
<text x="384" y="646" font-size="9.6" text-anchor="middle" font-weight="bold" fill="#111">T-BET</text>
<text x="443.7" y="646" font-size="9.6" text-anchor="middle" font-weight="bold" fill="#111">EOMES</text>
<line x1="525.2" y1="731.9" x2="525.2" y2="637" stroke="#111" stroke-width="0.9"/>
<line x1="523.2" y1="731.5" x2="525.2" y2="731.5" stroke="#111" stroke-width="0.7"/>
<text x="521" y="734.2" font-size="7.6" text-anchor="end" fill="#111">0.0</text>
<line x1="524" y1="726.8" x2="525.2" y2="726.8" stroke="#111" stroke-width="0.5"/>
<line x1="524" y1="722" x2="525.2" y2="722" stroke="#111" stroke-width="0.5"/>
<line x1="524" y1="717.3" x2="525.2" y2="717.3" stroke="#111" stroke-width="0.5"/>
<line x1="523.2" y1="712.6" x2="525.2" y2="712.6" stroke="#111" stroke-width="0.7"/>
<text x="521" y="715.3" font-size="7.6" text-anchor="end" fill="#111">0.2</text>
<line x1="524" y1="707.9" x2="525.2" y2="707.9" stroke="#111" stroke-width="0.5"/>
<line x1="524" y1="703.1" x2="525.2" y2="703.1" stroke="#111" stroke-width="0.5"/>
<line x1="524" y1="698.4" x2="525.2" y2="698.4" stroke="#111" stroke-width="0.5"/>
<line x1="523.2" y1="693.7" x2="525.2" y2="693.7" stroke="#111" stroke-width="0.7"/>
<text x="521" y="696.4" font-size="7.6" text-anchor="end" fill="#111">0.4</text>
<line x1="524" y1="689" x2="525.2" y2="689" stroke="#111" stroke-width="0.5"/>
<line x1="524" y1="684.2" x2="525.2" y2="684.2" stroke="#111" stroke-width="0.5"/>
<line x1="524" y1="679.5" x2="525.2" y2="679.5" stroke="#111" stroke-width="0.5"/>
<line x1="523.2" y1="674.8" x2="525.2" y2="674.8" stroke="#111" stroke-width="0.7"/>
<text x="521" y="677.5" font-size="7.6" text-anchor="end" fill="#111">0.6</text>
<line x1="524" y1="670.1" x2="525.2" y2="670.1" stroke="#111" stroke-width="0.5"/>
<line x1="524" y1="665.4" x2="525.2" y2="665.4" stroke="#111" stroke-width="0.5"/>
<line x1="524" y1="660.6" x2="525.2" y2="660.6" stroke="#111" stroke-width="0.5"/>
<line x1="523.2" y1="655.9" x2="525.2" y2="655.9" stroke="#111" stroke-width="0.7"/>
<text x="521" y="658.6" font-size="7.6" text-anchor="end" fill="#111">0.8</text>
<line x1="524" y1="651.2" x2="525.2" y2="651.2" stroke="#111" stroke-width="0.5"/>
<line x1="524" y1="646.5" x2="525.2" y2="646.5" stroke="#111" stroke-width="0.5"/>
<line x1="524" y1="641.7" x2="525.2" y2="641.7" stroke="#111" stroke-width="0.5"/>
<line x1="523.2" y1="637" x2="525.2" y2="637" stroke="#111" stroke-width="0.7"/>
<text x="521" y="639.7" font-size="7.6" text-anchor="end" fill="#111">1.0</text>
<line x1="525.2" y1="731.5" x2="602.7" y2="731.5" stroke="#111" stroke-width="1"/>
<rect x="530.3" y="637" width="11.1" height="94.5" fill="#12acd6" stroke="#222" stroke-width="0.5"/>
<line x1="530.3" y1="637" x2="541.4" y2="637" stroke="#111" stroke-width="1"/>
<rect x="545.3" y="671" width="10.4" height="60.5" fill="#fba142" stroke="#222" stroke-width="0.5"/>
<rect x="572.2" y="637" width="11.1" height="94.5" fill="#12acd6" stroke="#222" stroke-width="0.5"/>
<line x1="572.2" y1="637" x2="583.3" y2="637" stroke="#111" stroke-width="1"/>
<rect x="587.2" y="655.9" width="10.4" height="75.6" fill="#fba142" stroke="#222" stroke-width="0.5"/>
<line x1="563.5" y1="633" x2="563.5" y2="731.5" stroke="#ccc" stroke-width="0.5" stroke-dasharray="0.8,1.4"/>
<line x1="550.5" y1="663.5" x2="550.5" y2="677.6" stroke="#111" stroke-width="0.5"/>
<line x1="548.9" y1="663.5" x2="552.1" y2="663.5" stroke="#111" stroke-width="0.5"/>
<line x1="592.4" y1="648.3" x2="592.4" y2="662.5" stroke="#111" stroke-width="0.5"/>
<line x1="590.8" y1="648.3" x2="594" y2="648.3" stroke="#111" stroke-width="0.5"/>
<circle cx="550.5" cy="657.8" r="0.8" fill="#000"/>
<circle cx="550.5" cy="669.1" r="0.8" fill="#000"/>
<circle cx="550.5" cy="671" r="0.8" fill="#000"/>
<circle cx="550.5" cy="672.9" r="0.8" fill="#000"/>
<circle cx="550.5" cy="674.8" r="0.8" fill="#000"/>
<circle cx="550.5" cy="676.7" r="0.8" fill="#000"/>
<circle cx="592.4" cy="643.6" r="0.8" fill="#000"/>
<circle cx="592.4" cy="652.1" r="0.8" fill="#000"/>
<circle cx="592.4" cy="655.9" r="0.8" fill="#000"/>
<circle cx="592.4" cy="657.8" r="0.8" fill="#000"/>
<circle cx="592.4" cy="659.7" r="0.8" fill="#000"/>
<line x1="535.8" y1="731.5" x2="535.8" y2="733.5" stroke="#111" stroke-width="0.6"/>
<line x1="550.5" y1="731.5" x2="550.5" y2="733.5" stroke="#111" stroke-width="0.6"/>
<line x1="577.7" y1="731.5" x2="577.7" y2="733.5" stroke="#111" stroke-width="0.6"/>
<line x1="592.4" y1="731.5" x2="592.4" y2="733.5" stroke="#111" stroke-width="0.6"/>
<text x="542.9" y="627" font-size="7.4" text-anchor="middle" fill="#222">&lt;0.0001</text>
<line x1="529.4" y1="629.5" x2="556.3" y2="629.5" stroke="#222" stroke-width="1.4"/>
<text x="583.3" y="627" font-size="7.4" text-anchor="middle" fill="#222">0.0002</text>
<line x1="571" y1="629.5" x2="595.5" y2="629.5" stroke="#222" stroke-width="1.4"/>
<text x="495" y="682" font-size="9.6" text-anchor="middle" fill="#222" transform="rotate(-90 495 682)" textLength="124" lengthAdjust="spacingAndGlyphs">Relative <tspan font-weight="bold">Transcription factor</tspan></text>
<text x="504.5" y="682.5" font-size="9.6" text-anchor="middle" fill="#222" transform="rotate(-90 504.5 682.5)" textLength="111" lengthAdjust="spacingAndGlyphs">MFI to control without IL-35</text>
<text x="553.5" y="738" font-size="9.3" text-anchor="end" fill="#111" transform="rotate(-45 553.5 738)">T-BET</text>
<text x="589.5" y="737" font-size="9.3" text-anchor="end" fill="#111" transform="rotate(-45 589.5 737)">EOMES</text>
<rect x="605.7" y="667.2" width="8.1" height="8.1" fill="#12acd6" stroke="#222" stroke-width="0.5"/>
<rect x="605.7" y="678.9" width="8.1" height="7.8" fill="#fba142" stroke="#222" stroke-width="0.5"/>
<text x="616.2" y="674.6" font-size="8.6" fill="#222" textLength="43.4" lengthAdjust="spacingAndGlyphs">IL-12+IL-18</text>
<text x="616.2" y="686.2" font-size="8.6" fill="#222" textLength="65.8" lengthAdjust="spacingAndGlyphs">IL-12+IL-18+IL-35</text>
<text x="4.5" y="772" font-size="12.5" font-weight="bold" fill="#000">f</text>
<line x1="28.1" y1="883.8" x2="28.1" y2="798.6" stroke="#111" stroke-width="0.9"/>
<line x1="25.5" y1="883.4" x2="28.1" y2="883.4" stroke="#111" stroke-width="0.7"/>
<text x="22.9" y="885.9" font-size="6.9" text-anchor="end" font-weight="bold" fill="#111">0</text>
<line x1="26.5" y1="880" x2="28.1" y2="880" stroke="#111" stroke-width="0.5"/>
<line x1="26.5" y1="876.6" x2="28.1" y2="876.6" stroke="#111" stroke-width="0.5"/>
<line x1="26.5" y1="873.2" x2="28.1" y2="873.2" stroke="#111" stroke-width="0.5"/>
<line x1="26.5" y1="869.8" x2="28.1" y2="869.8" stroke="#111" stroke-width="0.5"/>
<line x1="25.5" y1="866.4" x2="28.1" y2="866.4" stroke="#111" stroke-width="0.7"/>
<text x="22.9" y="868.9" font-size="6.9" text-anchor="end" font-weight="bold" fill="#111">50</text>
<line x1="26.5" y1="863" x2="28.1" y2="863" stroke="#111" stroke-width="0.5"/>
<line x1="26.5" y1="859.7" x2="28.1" y2="859.7" stroke="#111" stroke-width="0.5"/>
<line x1="26.5" y1="856.3" x2="28.1" y2="856.3" stroke="#111" stroke-width="0.5"/>
<line x1="26.5" y1="852.9" x2="28.1" y2="852.9" stroke="#111" stroke-width="0.5"/>
<line x1="25.5" y1="849.5" x2="28.1" y2="849.5" stroke="#111" stroke-width="0.7"/>
<text x="22.9" y="852" font-size="6.9" text-anchor="end" font-weight="bold" fill="#111">100</text>
<line x1="26.5" y1="846.1" x2="28.1" y2="846.1" stroke="#111" stroke-width="0.5"/>
<line x1="26.5" y1="842.7" x2="28.1" y2="842.7" stroke="#111" stroke-width="0.5"/>
<line x1="26.5" y1="839.3" x2="28.1" y2="839.3" stroke="#111" stroke-width="0.5"/>
<line x1="26.5" y1="835.9" x2="28.1" y2="835.9" stroke="#111" stroke-width="0.5"/>
<line x1="25.5" y1="832.5" x2="28.1" y2="832.5" stroke="#111" stroke-width="0.7"/>
<text x="22.9" y="835" font-size="6.9" text-anchor="end" font-weight="bold" fill="#111">150</text>
<line x1="26.5" y1="829.1" x2="28.1" y2="829.1" stroke="#111" stroke-width="0.5"/>
<line x1="26.5" y1="825.7" x2="28.1" y2="825.7" stroke="#111" stroke-width="0.5"/>
<line x1="26.5" y1="822.3" x2="28.1" y2="822.3" stroke="#111" stroke-width="0.5"/>
<line x1="26.5" y1="819" x2="28.1" y2="819" stroke="#111" stroke-width="0.5"/>
<line x1="25.5" y1="815.6" x2="28.1" y2="815.6" stroke="#111" stroke-width="0.7"/>
<text x="22.9" y="818" font-size="6.9" text-anchor="end" font-weight="bold" fill="#111">200</text>
<line x1="26.5" y1="812.2" x2="28.1" y2="812.2" stroke="#111" stroke-width="0.5"/>
<line x1="26.5" y1="808.8" x2="28.1" y2="808.8" stroke="#111" stroke-width="0.5"/>
<line x1="26.5" y1="805.4" x2="28.1" y2="805.4" stroke="#111" stroke-width="0.5"/>
<line x1="26.5" y1="802" x2="28.1" y2="802" stroke="#111" stroke-width="0.5"/>
<line x1="25.5" y1="798.6" x2="28.1" y2="798.6" stroke="#111" stroke-width="0.7"/>
<text x="22.9" y="801.1" font-size="6.9" text-anchor="end" font-weight="bold" fill="#111">250</text>
<line x1="28.1" y1="883.4" x2="84.4" y2="883.4" stroke="#111" stroke-width="1"/>
<line x1="56" y1="800" x2="56" y2="883.4" stroke="#ccc" stroke-width="0.5" stroke-dasharray="0.8,1.4"/>
<rect x="44.1" y="865.4" width="7.8" height="18" fill="#fba142" stroke="#222" stroke-width="0.5"/>
<rect x="60" y="867.9" width="7.8" height="15.5" fill="#12acd6" stroke="#222" stroke-width="0.5"/>
<rect x="72.2" y="833.5" width="7.8" height="49.9" fill="#fba142" stroke="#222" stroke-width="0.5"/>
<line x1="36" y1="883.4" x2="48" y2="858.3" stroke="#888" stroke-width="0.3"/>
<line x1="36" y1="883.4" x2="48" y2="861.7" stroke="#888" stroke-width="0.3"/>
<line x1="36" y1="883.4" x2="48" y2="868.1" stroke="#888" stroke-width="0.3"/>
<line x1="63.9" y1="862.4" x2="76.1" y2="812.8" stroke="#888" stroke-width="0.3"/>
<line x1="63.9" y1="864.7" x2="76.1" y2="817.3" stroke="#888" stroke-width="0.3"/>
<line x1="63.9" y1="867.1" x2="76.1" y2="829.1" stroke="#888" stroke-width="0.3"/>
<line x1="63.9" y1="878.3" x2="76.1" y2="859.7" stroke="#888" stroke-width="0.3"/>
<line x1="63.9" y1="871.5" x2="76.1" y2="845.4" stroke="#888" stroke-width="0.3"/>
<circle cx="36" cy="883.4" r="1.1" fill="#000"/>
<circle cx="48" cy="858.3" r="1.1" fill="#000"/>
<circle cx="48" cy="860.3" r="1.1" fill="#000"/>
<circle cx="48" cy="861.7" r="1.1" fill="#000"/>
<circle cx="48" cy="865.8" r="1.1" fill="#000"/>
<circle cx="48" cy="868.1" r="1.1" fill="#000"/>
<circle cx="63.9" cy="862.4" r="1.1" fill="#000"/>
<circle cx="63.9" cy="864.7" r="1.1" fill="#000"/>
<circle cx="63.9" cy="867.1" r="1.1" fill="#000"/>
<circle cx="63.9" cy="871.5" r="1.1" fill="#000"/>
<circle cx="63.9" cy="878.3" r="1.1" fill="#000"/>
<circle cx="76.1" cy="812.8" r="1.1" fill="#000"/>
<circle cx="76.1" cy="817.3" r="1.1" fill="#000"/>
<circle cx="76.1" cy="829.1" r="1.1" fill="#000"/>
<circle cx="76.1" cy="845.4" r="1.1" fill="#000"/>
<circle cx="76.1" cy="859.7" r="1.1" fill="#000"/>
<line x1="48" y1="854.6" x2="48" y2="874.9" stroke="#111" stroke-width="0.6"/>
<line x1="46.2" y1="854.6" x2="49.8" y2="854.6" stroke="#111" stroke-width="0.6"/>
<line x1="76.1" y1="816.2" x2="76.1" y2="851.2" stroke="#111" stroke-width="0.6"/>
<line x1="74.3" y1="816.2" x2="77.9" y2="816.2" stroke="#111" stroke-width="0.6"/>
<line x1="36" y1="883.4" x2="36" y2="885.4" stroke="#111" stroke-width="0.6"/>
<line x1="48" y1="883.4" x2="48" y2="885.4" stroke="#111" stroke-width="0.6"/>
<line x1="63.9" y1="883.4" x2="63.9" y2="885.4" stroke="#111" stroke-width="0.6"/>
<line x1="76.1" y1="883.4" x2="76.1" y2="885.4" stroke="#111" stroke-width="0.6"/>
<text x="41.7" y="809.6" font-size="7.8" text-anchor="middle" fill="#444" textLength="22" lengthAdjust="spacingAndGlyphs">0.0181</text>
<line x1="33.7" y1="812.6" x2="50" y2="812.6" stroke="#222" stroke-width="1.4"/>
<text x="70" y="803.2" font-size="7.8" text-anchor="middle" fill="#444" textLength="22" lengthAdjust="spacingAndGlyphs">0.0019</text>
<line x1="62" y1="806.2" x2="78.6" y2="806.2" stroke="#222" stroke-width="1.4"/>
<text x="56.3" y="794" font-size="8.2" text-anchor="middle" font-weight="bold" fill="#111">VEGF-A</text>
<text x="6.8" y="842.5" font-size="8.2" text-anchor="middle" fill="#222" transform="rotate(-90 6.8 842.5)">pg/ml</text>
<text x="38.5" y="889.5" font-size="7" text-anchor="end" font-weight="bold" fill="#111" transform="rotate(-45 38.5 889.5)">Medium</text>
<text x="50.5" y="889.5" font-size="7" text-anchor="end" font-weight="bold" fill="#111" transform="rotate(-45 50.5 889.5)">IL-35</text>
<text x="66.4" y="889.5" font-size="7" text-anchor="end" font-weight="bold" fill="#111" transform="rotate(-45 66.4 889.5)">IL-12+IL-18</text>
<text x="78.6" y="889.5" font-size="7" text-anchor="end" font-weight="bold" fill="#111" transform="rotate(-45 78.6 889.5)">IL-12+IL-18+IL-35</text>
<line x1="116.6" y1="883.8" x2="116.6" y2="798.6" stroke="#111" stroke-width="0.9"/>
<line x1="114" y1="883.4" x2="116.6" y2="883.4" stroke="#111" stroke-width="0.7"/>
<text x="111.4" y="885.9" font-size="6.9" text-anchor="end" font-weight="bold" fill="#111">0</text>
<line x1="115" y1="877.7" x2="116.6" y2="877.7" stroke="#111" stroke-width="0.5"/>
<line x1="115" y1="872.1" x2="116.6" y2="872.1" stroke="#111" stroke-width="0.5"/>
<line x1="115" y1="866.4" x2="116.6" y2="866.4" stroke="#111" stroke-width="0.5"/>
<line x1="115" y1="860.8" x2="116.6" y2="860.8" stroke="#111" stroke-width="0.5"/>
<line x1="114" y1="855.1" x2="116.6" y2="855.1" stroke="#111" stroke-width="0.7"/>
<text x="111.4" y="857.6" font-size="6.9" text-anchor="end" font-weight="bold" fill="#111">500</text>
<line x1="115" y1="849.5" x2="116.6" y2="849.5" stroke="#111" stroke-width="0.5"/>
<line x1="115" y1="843.8" x2="116.6" y2="843.8" stroke="#111" stroke-width="0.5"/>
<line x1="115" y1="838.2" x2="116.6" y2="838.2" stroke="#111" stroke-width="0.5"/>
<line x1="115" y1="832.5" x2="116.6" y2="832.5" stroke="#111" stroke-width="0.5"/>
<line x1="114" y1="826.9" x2="116.6" y2="826.9" stroke="#111" stroke-width="0.7"/>
<text x="111.4" y="829.4" font-size="6.9" text-anchor="end" font-weight="bold" fill="#111">1000</text>
<line x1="115" y1="821.2" x2="116.6" y2="821.2" stroke="#111" stroke-width="0.5"/>
<line x1="115" y1="815.6" x2="116.6" y2="815.6" stroke="#111" stroke-width="0.5"/>
<line x1="115" y1="809.9" x2="116.6" y2="809.9" stroke="#111" stroke-width="0.5"/>
<line x1="115" y1="804.3" x2="116.6" y2="804.3" stroke="#111" stroke-width="0.5"/>
<line x1="114" y1="798.6" x2="116.6" y2="798.6" stroke="#111" stroke-width="0.7"/>
<text x="111.4" y="801.1" font-size="6.9" text-anchor="end" font-weight="bold" fill="#111">1500</text>
<line x1="116.6" y1="883.4" x2="172.9" y2="883.4" stroke="#111" stroke-width="1"/>
<line x1="144.5" y1="800" x2="144.5" y2="883.4" stroke="#ccc" stroke-width="0.5" stroke-dasharray="0.8,1.4"/>
<rect x="120.3" y="881.7" width="8.4" height="1.7" fill="#12acd6" stroke="#222" stroke-width="0.5"/>
<rect x="132.2" y="878.3" width="8.4" height="5.1" fill="#fba142" stroke="#222" stroke-width="0.5"/>
<rect x="148.4" y="863" width="8.5" height="20.4" fill="#12acd6" stroke="#222" stroke-width="0.5"/>
<rect x="160.3" y="847.2" width="8.4" height="36.2" fill="#fba142" stroke="#222" stroke-width="0.5"/>
<line x1="124.5" y1="881.1" x2="136.4" y2="867.6" stroke="#888" stroke-width="0.3"/>
<line x1="124.5" y1="882.3" x2="136.4" y2="880.6" stroke="#888" stroke-width="0.3"/>
<line x1="152.7" y1="842.7" x2="164.5" y2="813.3" stroke="#888" stroke-width="0.3"/>
<line x1="152.7" y1="855.7" x2="164.5" y2="828.6" stroke="#888" stroke-width="0.3"/>
<line x1="152.7" y1="877.7" x2="164.5" y2="868.7" stroke="#888" stroke-width="0.3"/>
<line x1="152.7" y1="878.3" x2="164.5" y2="878.9" stroke="#888" stroke-width="0.3"/>
<circle cx="124.5" cy="881.1" r="1.1" fill="#000"/>
<circle cx="124.5" cy="882.3" r="1.1" fill="#000"/>
<circle cx="136.4" cy="867.6" r="1.1" fill="#000"/>
<circle cx="136.4" cy="880.6" r="1.1" fill="#000"/>
<circle cx="136.4" cy="882.3" r="1.1" fill="#000"/>
<circle cx="152.7" cy="842.7" r="1.1" fill="#000"/>
<circle cx="152.7" cy="855.7" r="1.1" fill="#000"/>
<circle cx="152.7" cy="877.7" r="1.1" fill="#000"/>
<circle cx="152.7" cy="878.3" r="1.1" fill="#000"/>
<circle cx="164.5" cy="813.3" r="1.1" fill="#000"/>
<circle cx="164.5" cy="828.6" r="1.1" fill="#000"/>
<circle cx="164.5" cy="868.7" r="1.1" fill="#000"/>
<circle cx="164.5" cy="878.9" r="1.1" fill="#000"/>
<line x1="136.4" y1="871" x2="136.4" y2="883.4" stroke="#111" stroke-width="0.6"/>
<line x1="134.6" y1="871" x2="138.2" y2="871" stroke="#111" stroke-width="0.6"/>
<line x1="164.5" y1="815.6" x2="164.5" y2="878.9" stroke="#111" stroke-width="0.6"/>
<line x1="162.7" y1="815.6" x2="166.3" y2="815.6" stroke="#111" stroke-width="0.6"/>
<line x1="124.5" y1="883.4" x2="124.5" y2="885.4" stroke="#111" stroke-width="0.6"/>
<line x1="136.4" y1="883.4" x2="136.4" y2="885.4" stroke="#111" stroke-width="0.6"/>
<line x1="152.7" y1="883.4" x2="152.7" y2="885.4" stroke="#111" stroke-width="0.6"/>
<line x1="164.5" y1="883.4" x2="164.5" y2="885.4" stroke="#111" stroke-width="0.6"/>
<text x="144.5" y="794" font-size="8.2" text-anchor="middle" font-weight="bold" fill="#111">IL-8</text>
<text x="92.2" y="842.5" font-size="8.2" text-anchor="middle" fill="#222" transform="rotate(-90 92.2 842.5)">pg/ml</text>
<text x="127" y="889.5" font-size="7" text-anchor="end" font-weight="bold" fill="#111" transform="rotate(-45 127 889.5)">Medium</text>
<text x="138.9" y="889.5" font-size="7" text-anchor="end" font-weight="bold" fill="#111" transform="rotate(-45 138.9 889.5)">IL-35</text>
<text x="155.2" y="889.5" font-size="7" text-anchor="end" font-weight="bold" fill="#111" transform="rotate(-45 155.2 889.5)">IL-12+IL-18</text>
<text x="167" y="889.5" font-size="7" text-anchor="end" font-weight="bold" fill="#111" transform="rotate(-45 167 889.5)">IL-12+IL-18+IL-35</text>
<line x1="203.6" y1="883.8" x2="203.6" y2="800.6" stroke="#111" stroke-width="0.9"/>
<line x1="201" y1="883.4" x2="203.6" y2="883.4" stroke="#111" stroke-width="0.7"/>
<text x="198.4" y="885.9" font-size="6.9" text-anchor="end" font-weight="bold" fill="#111">0</text>
<line x1="202" y1="879.3" x2="203.6" y2="879.3" stroke="#111" stroke-width="0.5"/>
<line x1="202" y1="875.1" x2="203.6" y2="875.1" stroke="#111" stroke-width="0.5"/>
<line x1="202" y1="871" x2="203.6" y2="871" stroke="#111" stroke-width="0.5"/>
<line x1="202" y1="866.8" x2="203.6" y2="866.8" stroke="#111" stroke-width="0.5"/>
<line x1="201" y1="862.7" x2="203.6" y2="862.7" stroke="#111" stroke-width="0.7"/>
<text x="198.4" y="865.2" font-size="6.9" text-anchor="end" font-weight="bold" fill="#111">500</text>
<line x1="202" y1="858.6" x2="203.6" y2="858.6" stroke="#111" stroke-width="0.5"/>
<line x1="202" y1="854.4" x2="203.6" y2="854.4" stroke="#111" stroke-width="0.5"/>
<line x1="202" y1="850.3" x2="203.6" y2="850.3" stroke="#111" stroke-width="0.5"/>
<line x1="202" y1="846.1" x2="203.6" y2="846.1" stroke="#111" stroke-width="0.5"/>
<line x1="201" y1="842" x2="203.6" y2="842" stroke="#111" stroke-width="0.7"/>
<text x="198.4" y="844.5" font-size="6.9" text-anchor="end" font-weight="bold" fill="#111">1000</text>
<line x1="202" y1="837.9" x2="203.6" y2="837.9" stroke="#111" stroke-width="0.5"/>
<line x1="202" y1="833.7" x2="203.6" y2="833.7" stroke="#111" stroke-width="0.5"/>
<line x1="202" y1="829.6" x2="203.6" y2="829.6" stroke="#111" stroke-width="0.5"/>
<line x1="202" y1="825.4" x2="203.6" y2="825.4" stroke="#111" stroke-width="0.5"/>
<line x1="201" y1="821.3" x2="203.6" y2="821.3" stroke="#111" stroke-width="0.7"/>
<text x="198.4" y="823.8" font-size="6.9" text-anchor="end" font-weight="bold" fill="#111">1500</text>
<line x1="202" y1="817.2" x2="203.6" y2="817.2" stroke="#111" stroke-width="0.5"/>
<line x1="202" y1="813" x2="203.6" y2="813" stroke="#111" stroke-width="0.5"/>
<line x1="202" y1="808.9" x2="203.6" y2="808.9" stroke="#111" stroke-width="0.5"/>
<line x1="202" y1="804.7" x2="203.6" y2="804.7" stroke="#111" stroke-width="0.5"/>
<line x1="201" y1="800.6" x2="203.6" y2="800.6" stroke="#111" stroke-width="0.7"/>
<text x="198.4" y="803.1" font-size="6.9" text-anchor="end" font-weight="bold" fill="#111">2000</text>
<line x1="203.6" y1="883.4" x2="259.7" y2="883.4" stroke="#111" stroke-width="1"/>
<line x1="231.5" y1="800" x2="231.5" y2="883.4" stroke="#ccc" stroke-width="0.5" stroke-dasharray="0.8,1.4"/>
<rect x="207.4" y="878.8" width="8.2" height="4.6" fill="#12acd6" stroke="#222" stroke-width="0.5"/>
<rect x="219.7" y="865.2" width="7.7" height="18.2" fill="#fba142" stroke="#222" stroke-width="0.5"/>
<rect x="235.6" y="839.5" width="8.2" height="43.9" fill="#12acd6" stroke="#222" stroke-width="0.5"/>
<rect x="247.9" y="827.1" width="7.7" height="56.3" fill="#fba142" stroke="#222" stroke-width="0.5"/>
<line x1="211.5" y1="873" x2="223.6" y2="833.7" stroke="#888" stroke-width="0.3"/>
<line x1="211.5" y1="875.1" x2="223.6" y2="857.7" stroke="#888" stroke-width="0.3"/>
<line x1="211.5" y1="881.3" x2="223.6" y2="875.1" stroke="#888" stroke-width="0.3"/>
<line x1="239.7" y1="828.8" x2="251.8" y2="812.2" stroke="#888" stroke-width="0.3"/>
<line x1="239.7" y1="837.9" x2="251.8" y2="819.2" stroke="#888" stroke-width="0.3"/>
<line x1="239.7" y1="839.9" x2="251.8" y2="834.5" stroke="#888" stroke-width="0.3"/>
<line x1="239.7" y1="868.9" x2="251.8" y2="855.2" stroke="#888" stroke-width="0.3"/>
<circle cx="211.5" cy="873" r="1.1" fill="#000"/>
<circle cx="211.5" cy="875.1" r="1.1" fill="#000"/>
<circle cx="211.5" cy="881.3" r="1.1" fill="#000"/>
<circle cx="211.5" cy="882.2" r="1.1" fill="#000"/>
<circle cx="223.6" cy="833.7" r="1.1" fill="#000"/>
<circle cx="223.6" cy="857.7" r="1.1" fill="#000"/>
<circle cx="223.6" cy="875.1" r="1.1" fill="#000"/>
<circle cx="223.6" cy="879.3" r="1.1" fill="#000"/>
<circle cx="239.7" cy="828.8" r="1.1" fill="#000"/>
<circle cx="239.7" cy="837.9" r="1.1" fill="#000"/>
<circle cx="239.7" cy="839.9" r="1.1" fill="#000"/>
<circle cx="239.7" cy="868.9" r="1.1" fill="#000"/>
<circle cx="251.8" cy="812.2" r="1.1" fill="#000"/>
<circle cx="251.8" cy="819.2" r="1.1" fill="#000"/>
<circle cx="251.8" cy="834.5" r="1.1" fill="#000"/>
<circle cx="251.8" cy="855.2" r="1.1" fill="#000"/>
<line x1="223.6" y1="845.3" x2="223.6" y2="883.4" stroke="#111" stroke-width="0.6"/>
<line x1="221.8" y1="845.3" x2="225.4" y2="845.3" stroke="#111" stroke-width="0.6"/>
<line x1="251.8" y1="812.2" x2="251.8" y2="843.7" stroke="#111" stroke-width="0.6"/>
<line x1="249.9" y1="812.2" x2="253.6" y2="812.2" stroke="#111" stroke-width="0.6"/>
<line x1="211.5" y1="883.4" x2="211.5" y2="885.4" stroke="#111" stroke-width="0.6"/>
<line x1="223.6" y1="883.4" x2="223.6" y2="885.4" stroke="#111" stroke-width="0.6"/>
<line x1="239.7" y1="883.4" x2="239.7" y2="885.4" stroke="#111" stroke-width="0.6"/>
<line x1="251.8" y1="883.4" x2="251.8" y2="885.4" stroke="#111" stroke-width="0.6"/>
<text x="244.8" y="803" font-size="7.8" text-anchor="middle" fill="#444" textLength="22" lengthAdjust="spacingAndGlyphs">0.0179</text>
<line x1="236.6" y1="806" x2="253" y2="806" stroke="#222" stroke-width="1.4"/>
<text x="231.5" y="794" font-size="8.2" text-anchor="middle" font-weight="bold" fill="#111">CCL5</text>
<text x="179.2" y="842.5" font-size="8.2" text-anchor="middle" fill="#222" transform="rotate(-90 179.2 842.5)">pg/ml</text>
<text x="214" y="889.5" font-size="7" text-anchor="end" font-weight="bold" fill="#111" transform="rotate(-45 214 889.5)">Medium</text>
<text x="226.1" y="889.5" font-size="7" text-anchor="end" font-weight="bold" fill="#111" transform="rotate(-45 226.1 889.5)">IL-35</text>
<text x="242.2" y="889.5" font-size="7" text-anchor="end" font-weight="bold" fill="#111" transform="rotate(-45 242.2 889.5)">IL-12+IL-18</text>
<text x="254.2" y="889.5" font-size="7" text-anchor="end" font-weight="bold" fill="#111" transform="rotate(-45 254.2 889.5)">IL-12+IL-18+IL-35</text>
<text x="274.7" y="771.4" font-size="13" font-weight="bold" fill="#000" font-family="Liberation Serif">g</text>
<defs>
<radialGradient id="dens"><stop offset="0" stop-color="#ff3010"/><stop offset="0.1" stop-color="#f8a020"/><stop offset="0.25" stop-color="#c8e830"/><stop offset="0.5" stop-color="#30e080"/><stop offset="0.72" stop-color="#18c0f0"/><stop offset="0.86" stop-color="#2060ee"/><stop offset="1" stop-color="#1a3ae8" stop-opacity="0.3"/></radialGradient>
</defs>
<ellipse cx="327.4" cy="801.9" rx="4.9" ry="9.3" fill="url(#dens)"/>
<circle cx="329" cy="789" r="0.5" fill="#0028ff"/>
<circle cx="321.6" cy="796.3" r="0.5" fill="#0069ff"/>
<circle cx="331.4" cy="814" r="0.5" fill="#0069ff"/>
<circle cx="336.9" cy="807.1" r="0.5" fill="#0069ff"/>
<circle cx="337.6" cy="800.8" r="0.5" fill="#0069ff"/>
<circle cx="321.1" cy="792.6" r="0.5" fill="#0069ff"/>
<circle cx="321.1" cy="807.9" r="0.5" fill="#0069ff"/>
<circle cx="332.2" cy="795" r="0.5" fill="#0069ff"/>
<circle cx="334.9" cy="796" r="0.5" fill="#0069ff"/>
<circle cx="327.4" cy="789.2" r="0.5" fill="#0069ff"/>
<circle cx="323.7" cy="809.4" r="0.5" fill="#0069ff"/>
<circle cx="323.7" cy="811.4" r="0.5" fill="#0069ff"/>
<circle cx="331.6" cy="795.8" r="0.5" fill="#0069ff"/>
<circle cx="325.9" cy="813.2" r="0.5" fill="#0069ff"/>
<circle cx="322.7" cy="804.3" r="0.5" fill="#00aaff"/>
<circle cx="327" cy="811.4" r="0.5" fill="#00aaff"/>
<circle cx="332" cy="796" r="0.5" fill="#00aaff"/>
<circle cx="329.1" cy="793" r="0.5" fill="#00aaff"/>
<circle cx="333.4" cy="798" r="0.5" fill="#00aaff"/>
<circle cx="333.2" cy="801.2" r="0.5" fill="#00aaff"/>
<circle cx="328" cy="791.8" r="0.5" fill="#00aaff"/>
<circle cx="324.5" cy="810.6" r="0.5" fill="#00aaff"/>
<circle cx="332.4" cy="797.3" r="0.5" fill="#00aaff"/>
<circle cx="332" cy="802.6" r="0.5" fill="#00aaff"/>
<circle cx="330.4" cy="809.2" r="0.5" fill="#00aaff"/>
<circle cx="332.3" cy="804.1" r="0.5" fill="#00aaff"/>
<circle cx="326.6" cy="812.5" r="0.5" fill="#00aaff"/>
<circle cx="331.3" cy="808.7" r="0.5" fill="#00aaff"/>
<circle cx="330.3" cy="794.9" r="0.5" fill="#00aaff"/>
<circle cx="324" cy="794.7" r="0.5" fill="#00aaff"/>
<circle cx="326.7" cy="812.3" r="0.5" fill="#00aaff"/>
<circle cx="328.9" cy="794.1" r="0.5" fill="#00aaff"/>
<circle cx="331.9" cy="800.5" r="0.5" fill="#00aaff"/>
<circle cx="332.7" cy="797.4" r="0.5" fill="#00aaff"/>
<circle cx="330" cy="793.2" r="0.5" fill="#00aaff"/>
<circle cx="324.3" cy="793.7" r="0.5" fill="#00ebff"/>
<circle cx="322.8" cy="796.7" r="0.5" fill="#00ebff"/>
<circle cx="330.7" cy="806.6" r="0.5" fill="#00ebff"/>
<circle cx="331" cy="797.8" r="0.5" fill="#00ebff"/>
<circle cx="323.8" cy="797.2" r="0.5" fill="#00ebff"/>
<circle cx="330.9" cy="805.8" r="0.5" fill="#00ebff"/>
<circle cx="323.4" cy="803" r="0.5" fill="#00ebff"/>
<circle cx="331.7" cy="804.9" r="0.5" fill="#00ebff"/>
<circle cx="323.6" cy="798.8" r="0.5" fill="#00ebff"/>
<circle cx="331.4" cy="798.8" r="0.5" fill="#00ebff"/>
<circle cx="324.3" cy="797" r="0.5" fill="#00ebff"/>
<circle cx="329.3" cy="795.4" r="0.5" fill="#00ebff"/>
<circle cx="328.1" cy="793.3" r="0.5" fill="#00ebff"/>
<circle cx="332" cy="802.9" r="0.5" fill="#00ebff"/>
<circle cx="332.3" cy="804.7" r="0.5" fill="#00ebff"/>
<circle cx="327.4" cy="792.2" r="0.5" fill="#00ebff"/>
<circle cx="327.6" cy="810.8" r="0.5" fill="#00ebff"/>
<circle cx="331" cy="804.8" r="0.5" fill="#00ebff"/>
<circle cx="331.9" cy="800" r="0.5" fill="#00ebff"/>
<circle cx="327.8" cy="809.1" r="0.5" fill="#00ebff"/>
<circle cx="323.7" cy="802.5" r="0.5" fill="#00ebff"/>
<circle cx="323.6" cy="805.2" r="0.5" fill="#00ebff"/>
<circle cx="324.3" cy="795.8" r="0.5" fill="#00ebff"/>
<circle cx="330.9" cy="804.1" r="0.5" fill="#00ebff"/>
<circle cx="326.2" cy="808.9" r="0.5" fill="#06f0b7"/>
<circle cx="325.4" cy="807.4" r="0.5" fill="#06f0b7"/>
<circle cx="330.1" cy="808.4" r="0.5" fill="#06f0b7"/>
<circle cx="327.8" cy="809.4" r="0.5" fill="#06f0b7"/>
<circle cx="331.6" cy="799.7" r="0.5" fill="#06f0b7"/>
<circle cx="325.8" cy="795.1" r="0.5" fill="#06f0b7"/>
<circle cx="329.9" cy="796.6" r="0.5" fill="#06f0b7"/>
<circle cx="326.3" cy="794.2" r="0.5" fill="#06f0b7"/>
<circle cx="330.8" cy="796.9" r="0.5" fill="#06f0b7"/>
<circle cx="328.2" cy="808" r="0.5" fill="#06f0b7"/>
<circle cx="328.4" cy="809.8" r="0.5" fill="#06f0b7"/>
<circle cx="329.6" cy="808.1" r="0.5" fill="#06f0b7"/>
<circle cx="324.9" cy="795.8" r="0.5" fill="#06f0b7"/>
<circle cx="324.6" cy="799.2" r="0.5" fill="#06f0b7"/>
<circle cx="324.5" cy="806.7" r="0.5" fill="#06f0b7"/>
<circle cx="328.2" cy="795" r="0.5" fill="#0df56f"/>
<circle cx="328.2" cy="795" r="0.5" fill="#0df56f"/>
<circle cx="325.2" cy="797.5" r="0.5" fill="#0df56f"/>
<circle cx="324.4" cy="802.8" r="0.5" fill="#0df56f"/>
<circle cx="324.7" cy="799.7" r="0.5" fill="#0df56f"/>
<rect x="300.2" y="779.4" width="52.3" height="52" fill="none" stroke="#999" stroke-width="0.8"/>
<rect x="331.8" y="781.4" width="19.5" height="37" fill="none" stroke="#777" stroke-width="0.7"/>
<text x="343.6" y="821.9" font-size="3.4" text-anchor="middle" font-weight="bold" fill="#222">GP130+</text>
<text x="343.6" y="827.4" font-size="3.6" text-anchor="middle" font-weight="bold" fill="#222">8.88</text>
<line x1="298.6" y1="784.4" x2="300.2" y2="784.4" stroke="#666" stroke-width="0.5"/>
<text x="297.7" y="785.2" font-size="2.2" text-anchor="end" fill="#888">10</text>
<line x1="298.6" y1="794.9" x2="300.2" y2="794.9" stroke="#666" stroke-width="0.5"/>
<text x="297.7" y="795.7" font-size="2.2" text-anchor="end" fill="#888">10</text>
<line x1="298.6" y1="805.4" x2="300.2" y2="805.4" stroke="#666" stroke-width="0.5"/>
<text x="297.7" y="806.2" font-size="2.2" text-anchor="end" fill="#888">10</text>
<line x1="298.6" y1="815.9" x2="300.2" y2="815.9" stroke="#666" stroke-width="0.5"/>
<text x="297.7" y="816.7" font-size="2.2" text-anchor="end" fill="#888">10</text>
<line x1="298.6" y1="826.4" x2="300.2" y2="826.4" stroke="#666" stroke-width="0.5"/>
<text x="297.7" y="827.2" font-size="2.2" text-anchor="end" fill="#888">10</text>
<line x1="310.2" y1="831.4" x2="310.2" y2="833" stroke="#666" stroke-width="0.5"/>
<line x1="331.2" y1="831.4" x2="331.2" y2="833" stroke="#666" stroke-width="0.5"/>
<line x1="352.2" y1="831.4" x2="352.2" y2="833" stroke="#666" stroke-width="0.5"/>
<circle cx="299.7" cy="817.4" r="0.8" fill="#111"/>
<rect x="312.2" y="831.4" width="2.2" height="1" fill="#111" stroke="none" stroke-width="1"/>
<ellipse cx="392.3" cy="800.4" rx="9.8" ry="9.8" fill="url(#dens)"/>
<circle cx="378.7" cy="786.9" r="0.5" fill="#0028ff"/>
<circle cx="379.4" cy="806.1" r="0.5" fill="#0028ff"/>
<circle cx="380.4" cy="792.4" r="0.5" fill="#0069ff"/>
<circle cx="405.1" cy="804" r="0.5" fill="#0069ff"/>
<circle cx="403.3" cy="807.2" r="0.5" fill="#0069ff"/>
<circle cx="395" cy="811.7" r="0.5" fill="#0069ff"/>
<circle cx="401.7" cy="808.2" r="0.5" fill="#0069ff"/>
<circle cx="381.8" cy="797.2" r="0.5" fill="#0069ff"/>
<circle cx="385.7" cy="814.9" r="0.5" fill="#0069ff"/>
<circle cx="394.6" cy="814.8" r="0.5" fill="#0069ff"/>
<circle cx="399.9" cy="788.1" r="0.5" fill="#0069ff"/>
<circle cx="388.4" cy="790.5" r="0.5" fill="#0069ff"/>
<circle cx="391.5" cy="812.7" r="0.5" fill="#0069ff"/>
<circle cx="398.3" cy="814.5" r="0.5" fill="#0069ff"/>
<circle cx="397.7" cy="791.5" r="0.5" fill="#0069ff"/>
<circle cx="403.1" cy="790.2" r="0.5" fill="#00aaff"/>
<circle cx="382.3" cy="802" r="0.5" fill="#00aaff"/>
<circle cx="391" cy="811.2" r="0.5" fill="#00aaff"/>
<circle cx="379.4" cy="800.6" r="0.5" fill="#00aaff"/>
<circle cx="388.6" cy="810.8" r="0.5" fill="#00aaff"/>
<circle cx="387.3" cy="810.3" r="0.5" fill="#00aaff"/>
<circle cx="383.5" cy="805.4" r="0.5" fill="#00aaff"/>
<circle cx="398.6" cy="791.8" r="0.5" fill="#00aaff"/>
<circle cx="402.9" cy="805.1" r="0.5" fill="#00aaff"/>
<circle cx="391.9" cy="790.7" r="0.5" fill="#00aaff"/>
<circle cx="389" cy="788.1" r="0.5" fill="#00aaff"/>
<circle cx="400.4" cy="808.7" r="0.5" fill="#00aaff"/>
<circle cx="400.8" cy="794.1" r="0.5" fill="#00aaff"/>
<circle cx="404.3" cy="799.7" r="0.5" fill="#00aaff"/>
<circle cx="385.4" cy="809.5" r="0.5" fill="#00aaff"/>
<circle cx="388.3" cy="808.6" r="0.5" fill="#00aaff"/>
<circle cx="385.3" cy="806.2" r="0.5" fill="#00aaff"/>
<circle cx="402.1" cy="801.2" r="0.5" fill="#00aaff"/>
<circle cx="387.9" cy="809.5" r="0.5" fill="#00ebff"/>
<circle cx="383.4" cy="802.8" r="0.5" fill="#00ebff"/>
<circle cx="398.4" cy="807" r="0.5" fill="#00ebff"/>
<circle cx="400.5" cy="797.6" r="0.5" fill="#00ebff"/>
<circle cx="402.1" cy="800.7" r="0.5" fill="#00ebff"/>
<circle cx="382.9" cy="799.4" r="0.5" fill="#00ebff"/>
<circle cx="397.7" cy="808.5" r="0.5" fill="#00ebff"/>
<circle cx="392.5" cy="808.3" r="0.5" fill="#00ebff"/>
<circle cx="399.8" cy="800.3" r="0.5" fill="#00ebff"/>
<circle cx="397.8" cy="794.8" r="0.5" fill="#00ebff"/>
<circle cx="399.6" cy="798.7" r="0.5" fill="#00ebff"/>
<circle cx="385" cy="796" r="0.5" fill="#00ebff"/>
<circle cx="399.4" cy="796.7" r="0.5" fill="#00ebff"/>
<circle cx="398.2" cy="795.6" r="0.5" fill="#00ebff"/>
<circle cx="388.2" cy="794.2" r="0.5" fill="#00ebff"/>
<circle cx="385.3" cy="797.6" r="0.5" fill="#00ebff"/>
<circle cx="397.2" cy="805.2" r="0.5" fill="#06f0b7"/>
<circle cx="385.4" cy="801.9" r="0.5" fill="#06f0b7"/>
<circle cx="399.2" cy="800.3" r="0.5" fill="#06f0b7"/>
<circle cx="389.7" cy="807.8" r="0.5" fill="#06f0b7"/>
<circle cx="386.5" cy="795.6" r="0.5" fill="#06f0b7"/>
<circle cx="383.6" cy="799.5" r="0.5" fill="#06f0b7"/>
<circle cx="400.5" cy="800.1" r="0.5" fill="#06f0b7"/>
<circle cx="398.6" cy="796.1" r="0.5" fill="#06f0b7"/>
<circle cx="386.5" cy="796.9" r="0.5" fill="#06f0b7"/>
<circle cx="400.6" cy="802.2" r="0.5" fill="#06f0b7"/>
<circle cx="393.4" cy="793.3" r="0.5" fill="#06f0b7"/>
<circle cx="395.6" cy="807.8" r="0.5" fill="#06f0b7"/>
<circle cx="396.3" cy="794.9" r="0.5" fill="#06f0b7"/>
<circle cx="384.7" cy="798" r="0.5" fill="#06f0b7"/>
<circle cx="397" cy="795.7" r="0.5" fill="#06f0b7"/>
<circle cx="390.4" cy="807.5" r="0.5" fill="#06f0b7"/>
<circle cx="392.3" cy="807.4" r="0.5" fill="#06f0b7"/>
<circle cx="388.7" cy="793.3" r="0.5" fill="#06f0b7"/>
<circle cx="390.7" cy="794.2" r="0.5" fill="#06f0b7"/>
<circle cx="385.5" cy="796.9" r="0.5" fill="#06f0b7"/>
<circle cx="393.2" cy="806.6" r="0.5" fill="#06f0b7"/>
<circle cx="398.8" cy="798.3" r="0.5" fill="#06f0b7"/>
<circle cx="388.6" cy="805.5" r="0.5" fill="#06f0b7"/>
<circle cx="395.8" cy="793.3" r="0.5" fill="#06f0b7"/>
<circle cx="395.6" cy="806.5" r="0.5" fill="#06f0b7"/>
<circle cx="396.6" cy="804.9" r="0.5" fill="#0df56f"/>
<circle cx="387.7" cy="804.7" r="0.5" fill="#0df56f"/>
<circle cx="399.4" cy="802.6" r="0.5" fill="#0df56f"/>
<circle cx="390.8" cy="805.9" r="0.5" fill="#0df56f"/>
<circle cx="388.4" cy="806.3" r="0.5" fill="#0df56f"/>
<circle cx="392.8" cy="807.7" r="0.5" fill="#0df56f"/>
<circle cx="397.6" cy="805.1" r="0.5" fill="#0df56f"/>
<circle cx="388" cy="794.8" r="0.5" fill="#0df56f"/>
<circle cx="387.9" cy="804.2" r="0.5" fill="#0df56f"/>
<circle cx="387.6" cy="804.4" r="0.5" fill="#0df56f"/>
<rect x="359.8" y="779.4" width="52.3" height="52" fill="none" stroke="#999" stroke-width="0.8"/>
<rect x="391.2" y="781.4" width="18.9" height="37" fill="none" stroke="#777" stroke-width="0.7"/>
<text x="402.6" y="821.9" font-size="3.4" text-anchor="middle" font-weight="bold" fill="#222">GP130+</text>
<text x="402.6" y="827.4" font-size="3.6" text-anchor="middle" font-weight="bold" fill="#222">49.3</text>
<line x1="358.2" y1="784.4" x2="359.8" y2="784.4" stroke="#666" stroke-width="0.5"/>
<text x="357.3" y="785.2" font-size="2.2" text-anchor="end" fill="#888">10</text>
<line x1="358.2" y1="794.9" x2="359.8" y2="794.9" stroke="#666" stroke-width="0.5"/>
<text x="357.3" y="795.7" font-size="2.2" text-anchor="end" fill="#888">10</text>
<line x1="358.2" y1="805.4" x2="359.8" y2="805.4" stroke="#666" stroke-width="0.5"/>
<text x="357.3" y="806.2" font-size="2.2" text-anchor="end" fill="#888">10</text>
<line x1="358.2" y1="815.9" x2="359.8" y2="815.9" stroke="#666" stroke-width="0.5"/>
<text x="357.3" y="816.7" font-size="2.2" text-anchor="end" fill="#888">10</text>
<line x1="358.2" y1="826.4" x2="359.8" y2="826.4" stroke="#666" stroke-width="0.5"/>
<text x="357.3" y="827.2" font-size="2.2" text-anchor="end" fill="#888">10</text>
<line x1="369.8" y1="831.4" x2="369.8" y2="833" stroke="#666" stroke-width="0.5"/>
<line x1="390.8" y1="831.4" x2="390.8" y2="833" stroke="#666" stroke-width="0.5"/>
<line x1="411.8" y1="831.4" x2="411.8" y2="833" stroke="#666" stroke-width="0.5"/>
<circle cx="359.3" cy="817.4" r="0.8" fill="#111"/>
<rect x="371.8" y="831.4" width="2.2" height="1" fill="#111" stroke="none" stroke-width="1"/>
<ellipse cx="456.5" cy="802.3" rx="5.3" ry="7.5" fill="url(#dens)"/>
<circle cx="469.8" cy="789.6" r="0.5" fill="#0028ff"/>
<circle cx="470.3" cy="791.9" r="0.5" fill="#0028ff"/>
<circle cx="464.8" cy="795.3" r="0.5" fill="#0028ff"/>
<circle cx="465.8" cy="798.6" r="0.5" fill="#0028ff"/>
<circle cx="459.2" cy="792.3" r="0.5" fill="#0028ff"/>
<circle cx="467.7" cy="792.4" r="0.5" fill="#0028ff"/>
<circle cx="466.1" cy="787.6" r="0.5" fill="#0028ff"/>
<circle cx="464.7" cy="798.8" r="0.5" fill="#0028ff"/>
<circle cx="466.4" cy="794.2" r="0.5" fill="#0069ff"/>
<circle cx="467.9" cy="792.5" r="0.5" fill="#0069ff"/>
<circle cx="463.9" cy="797.7" r="0.5" fill="#0069ff"/>
<circle cx="459.3" cy="810.7" r="0.5" fill="#0069ff"/>
<circle cx="459.6" cy="793.8" r="0.5" fill="#0069ff"/>
<circle cx="452.7" cy="810.7" r="0.5" fill="#0069ff"/>
<circle cx="450.1" cy="798.5" r="0.5" fill="#0069ff"/>
<circle cx="454.7" cy="790.2" r="0.5" fill="#0069ff"/>
<circle cx="471.4" cy="791.6" r="0.5" fill="#0069ff"/>
<circle cx="471.9" cy="791.7" r="0.5" fill="#0069ff"/>
<circle cx="463.9" cy="797.9" r="0.5" fill="#0069ff"/>
<circle cx="463.5" cy="802.8" r="0.5" fill="#0069ff"/>
<circle cx="466.8" cy="796.8" r="0.5" fill="#0069ff"/>
<circle cx="463" cy="798.1" r="0.5" fill="#0069ff"/>
<circle cx="461.6" cy="794.8" r="0.5" fill="#0069ff"/>
<circle cx="463.6" cy="811.2" r="0.5" fill="#0069ff"/>
<circle cx="461.7" cy="797.5" r="0.5" fill="#0069ff"/>
<circle cx="467.6" cy="793.4" r="0.5" fill="#0069ff"/>
<circle cx="460.4" cy="809.4" r="0.5" fill="#0069ff"/>
<circle cx="459.8" cy="809.4" r="0.5" fill="#0069ff"/>
<circle cx="448.5" cy="805.2" r="0.5" fill="#0069ff"/>
<circle cx="467.8" cy="790.4" r="0.5" fill="#0069ff"/>
<circle cx="449.6" cy="797.6" r="0.5" fill="#0069ff"/>
<circle cx="449.6" cy="799" r="0.5" fill="#0069ff"/>
<circle cx="461.6" cy="796.4" r="0.5" fill="#0069ff"/>
<circle cx="455.4" cy="810" r="0.5" fill="#00aaff"/>
<circle cx="461.5" cy="798" r="0.5" fill="#00aaff"/>
<circle cx="450.9" cy="805.1" r="0.5" fill="#00aaff"/>
<circle cx="464.3" cy="800.5" r="0.5" fill="#00aaff"/>
<circle cx="460.2" cy="812.1" r="0.5" fill="#00aaff"/>
<circle cx="454.6" cy="793.1" r="0.5" fill="#00aaff"/>
<circle cx="462.4" cy="802.4" r="0.5" fill="#00aaff"/>
<circle cx="457.8" cy="794.2" r="0.5" fill="#00aaff"/>
<circle cx="451.6" cy="799.4" r="0.5" fill="#00aaff"/>
<circle cx="450.7" cy="806.4" r="0.5" fill="#00aaff"/>
<circle cx="451.6" cy="807.8" r="0.5" fill="#00aaff"/>
<circle cx="458.8" cy="809.8" r="0.5" fill="#00aaff"/>
<circle cx="455.4" cy="795.1" r="0.5" fill="#00aaff"/>
<circle cx="460.7" cy="796.2" r="0.5" fill="#00aaff"/>
<circle cx="458.3" cy="808.9" r="0.5" fill="#00aaff"/>
<circle cx="452.4" cy="796.8" r="0.5" fill="#00aaff"/>
<circle cx="451.9" cy="796.1" r="0.5" fill="#00aaff"/>
<circle cx="451.9" cy="800.7" r="0.5" fill="#00aaff"/>
<circle cx="452.6" cy="795.8" r="0.5" fill="#00aaff"/>
<circle cx="452.5" cy="796.4" r="0.5" fill="#00aaff"/>
<circle cx="460.3" cy="797.1" r="0.5" fill="#00aaff"/>
<circle cx="457.4" cy="794" r="0.5" fill="#00aaff"/>
<circle cx="459.8" cy="796.2" r="0.5" fill="#00aaff"/>
<circle cx="459.3" cy="807.5" r="0.5" fill="#00aaff"/>
<circle cx="457.3" cy="793.4" r="0.5" fill="#00aaff"/>
<circle cx="458.3" cy="808.4" r="0.5" fill="#00aaff"/>
<circle cx="460" cy="808.1" r="0.5" fill="#00aaff"/>
<circle cx="455" cy="808.9" r="0.5" fill="#00ebff"/>
<circle cx="456.9" cy="795.1" r="0.5" fill="#00ebff"/>
<circle cx="452.2" cy="804.7" r="0.5" fill="#00ebff"/>
<circle cx="460.6" cy="799.3" r="0.5" fill="#00ebff"/>
<circle cx="460.4" cy="796.6" r="0.5" fill="#00ebff"/>
<circle cx="460.6" cy="799.8" r="0.5" fill="#00ebff"/>
<circle cx="452.1" cy="802" r="0.5" fill="#00ebff"/>
<circle cx="460.3" cy="798.4" r="0.5" fill="#00ebff"/>
<circle cx="461.2" cy="800" r="0.5" fill="#00ebff"/>
<circle cx="453" cy="807.4" r="0.5" fill="#00ebff"/>
<circle cx="457.2" cy="796.1" r="0.5" fill="#00ebff"/>
<circle cx="460.4" cy="803.5" r="0.5" fill="#00ebff"/>
<circle cx="452.1" cy="803.1" r="0.5" fill="#00ebff"/>
<circle cx="460.8" cy="804.7" r="0.5" fill="#00ebff"/>
<circle cx="454.7" cy="808.9" r="0.5" fill="#00ebff"/>
<circle cx="452.4" cy="801.8" r="0.5" fill="#00ebff"/>
<circle cx="455.2" cy="807.8" r="0.5" fill="#00ebff"/>
<circle cx="460.6" cy="805.5" r="0.5" fill="#06f0b7"/>
<circle cx="458.3" cy="807.5" r="0.5" fill="#06f0b7"/>
<circle cx="458.4" cy="796.3" r="0.5" fill="#06f0b7"/>
<circle cx="460.6" cy="803.9" r="0.5" fill="#06f0b7"/>
<circle cx="459.1" cy="798.1" r="0.5" fill="#06f0b7"/>
<circle cx="458.6" cy="806.5" r="0.5" fill="#06f0b7"/>
<circle cx="452.7" cy="804.2" r="0.5" fill="#06f0b7"/>
<circle cx="456.9" cy="795.7" r="0.5" fill="#06f0b7"/>
<circle cx="452.6" cy="801.2" r="0.5" fill="#06f0b7"/>
<circle cx="453.8" cy="797.4" r="0.5" fill="#06f0b7"/>
<circle cx="460.4" cy="803.8" r="0.5" fill="#06f0b7"/>
<circle cx="453.7" cy="805.4" r="0.5" fill="#06f0b7"/>
<circle cx="453.1" cy="800" r="0.5" fill="#06f0b7"/>
<circle cx="459.7" cy="805.6" r="0.5" fill="#06f0b7"/>
<circle cx="458.2" cy="806.4" r="0.5" fill="#06f0b7"/>
<circle cx="459.9" cy="800.6" r="0.5" fill="#06f0b7"/>
<circle cx="457.9" cy="807.4" r="0.5" fill="#06f0b7"/>
<circle cx="459.7" cy="803.5" r="0.5" fill="#06f0b7"/>
<circle cx="454.2" cy="806.8" r="0.5" fill="#06f0b7"/>
<circle cx="459.8" cy="798.7" r="0.5" fill="#0df56f"/>
<circle cx="460" cy="801.9" r="0.5" fill="#0df56f"/>
<circle cx="452.8" cy="804.3" r="0.5" fill="#0df56f"/>
<rect x="435.6" y="779.4" width="52.3" height="52" fill="none" stroke="#999" stroke-width="0.8"/>
<rect x="460.9" y="781.4" width="25.4" height="37" fill="none" stroke="#777" stroke-width="0.7"/>
<text x="475.6" y="821.9" font-size="3.4" text-anchor="middle" font-weight="bold" fill="#222">IL12RB2+</text>
<text x="475.6" y="827.4" font-size="3.6" text-anchor="middle" font-weight="bold" fill="#222">5.81</text>
<line x1="434" y1="784.4" x2="435.6" y2="784.4" stroke="#666" stroke-width="0.5"/>
<text x="433.1" y="785.2" font-size="2.2" text-anchor="end" fill="#888">10</text>
<line x1="434" y1="794.9" x2="435.6" y2="794.9" stroke="#666" stroke-width="0.5"/>
<text x="433.1" y="795.7" font-size="2.2" text-anchor="end" fill="#888">10</text>
<line x1="434" y1="805.4" x2="435.6" y2="805.4" stroke="#666" stroke-width="0.5"/>
<text x="433.1" y="806.2" font-size="2.2" text-anchor="end" fill="#888">10</text>
<line x1="434" y1="815.9" x2="435.6" y2="815.9" stroke="#666" stroke-width="0.5"/>
<text x="433.1" y="816.7" font-size="2.2" text-anchor="end" fill="#888">10</text>
<line x1="434" y1="826.4" x2="435.6" y2="826.4" stroke="#666" stroke-width="0.5"/>
<text x="433.1" y="827.2" font-size="2.2" text-anchor="end" fill="#888">10</text>
<line x1="445.6" y1="831.4" x2="445.6" y2="833" stroke="#666" stroke-width="0.5"/>
<line x1="466.6" y1="831.4" x2="466.6" y2="833" stroke="#666" stroke-width="0.5"/>
<line x1="487.6" y1="831.4" x2="487.6" y2="833" stroke="#666" stroke-width="0.5"/>
<circle cx="435.1" cy="817.4" r="0.8" fill="#111"/>
<rect x="447.6" y="831.4" width="2.2" height="1" fill="#111" stroke="none" stroke-width="1"/>
<ellipse cx="526.5" cy="800.9" rx="12.3" ry="9.3" fill="url(#dens)"/>
<circle cx="542.7" cy="816.3" r="0.5" fill="#0028ff"/>
<circle cx="543.7" cy="800.6" r="0.5" fill="#0028ff"/>
<circle cx="529.9" cy="789.1" r="0.5" fill="#0069ff"/>
<circle cx="531.5" cy="812.6" r="0.5" fill="#0069ff"/>
<circle cx="533.5" cy="812.2" r="0.5" fill="#0069ff"/>
<circle cx="509.8" cy="801.2" r="0.5" fill="#0069ff"/>
<circle cx="510.9" cy="801.2" r="0.5" fill="#0069ff"/>
<circle cx="526" cy="811.8" r="0.5" fill="#0069ff"/>
<circle cx="504.3" cy="791.1" r="0.5" fill="#0069ff"/>
<circle cx="531.1" cy="790.6" r="0.5" fill="#0069ff"/>
<circle cx="538" cy="794.1" r="0.5" fill="#0069ff"/>
<circle cx="512" cy="795" r="0.5" fill="#0069ff"/>
<circle cx="528.9" cy="813.3" r="0.5" fill="#0069ff"/>
<circle cx="529.9" cy="811.1" r="0.5" fill="#0069ff"/>
<circle cx="526.2" cy="790.1" r="0.5" fill="#0069ff"/>
<circle cx="518.6" cy="792.8" r="0.5" fill="#0069ff"/>
<circle cx="533.4" cy="814.6" r="0.5" fill="#0069ff"/>
<circle cx="537.5" cy="794.3" r="0.5" fill="#0069ff"/>
<circle cx="527.2" cy="811.3" r="0.5" fill="#0069ff"/>
<circle cx="536.9" cy="810.7" r="0.5" fill="#0069ff"/>
<circle cx="521.6" cy="811.3" r="0.5" fill="#0069ff"/>
<circle cx="515.1" cy="805.4" r="0.5" fill="#00aaff"/>
<circle cx="536.4" cy="810.7" r="0.5" fill="#00aaff"/>
<circle cx="513" cy="803.4" r="0.5" fill="#00aaff"/>
<circle cx="537" cy="806.3" r="0.5" fill="#00aaff"/>
<circle cx="535.6" cy="810.9" r="0.5" fill="#00aaff"/>
<circle cx="530.2" cy="792" r="0.5" fill="#00aaff"/>
<circle cx="518.3" cy="794.3" r="0.5" fill="#00aaff"/>
<circle cx="517.8" cy="808.3" r="0.5" fill="#00aaff"/>
<circle cx="538.3" cy="809.6" r="0.5" fill="#00aaff"/>
<circle cx="536.7" cy="807.7" r="0.5" fill="#00aaff"/>
<circle cx="537.5" cy="804.9" r="0.5" fill="#00aaff"/>
<circle cx="536.9" cy="808" r="0.5" fill="#00aaff"/>
<circle cx="540.3" cy="804.2" r="0.5" fill="#00aaff"/>
<circle cx="536.8" cy="805.7" r="0.5" fill="#00aaff"/>
<circle cx="532.5" cy="790.7" r="0.5" fill="#00aaff"/>
<circle cx="513.4" cy="799.2" r="0.5" fill="#00aaff"/>
<circle cx="517.9" cy="792.9" r="0.5" fill="#00aaff"/>
<circle cx="537.7" cy="800.7" r="0.5" fill="#00aaff"/>
<circle cx="534" cy="808.9" r="0.5" fill="#00aaff"/>
<circle cx="520.2" cy="810.3" r="0.5" fill="#00aaff"/>
<circle cx="514.4" cy="797.2" r="0.5" fill="#00aaff"/>
<circle cx="515.1" cy="802.9" r="0.5" fill="#00aaff"/>
<circle cx="531.4" cy="793.6" r="0.5" fill="#00aaff"/>
<circle cx="514.8" cy="797.8" r="0.5" fill="#00ebff"/>
<circle cx="523.3" cy="791.3" r="0.5" fill="#00ebff"/>
<circle cx="537.1" cy="803" r="0.5" fill="#00ebff"/>
<circle cx="537.1" cy="803.5" r="0.5" fill="#00ebff"/>
<circle cx="533.1" cy="792.1" r="0.5" fill="#00ebff"/>
<circle cx="518.4" cy="808.7" r="0.5" fill="#00ebff"/>
<circle cx="531.5" cy="808.8" r="0.5" fill="#00ebff"/>
<circle cx="518.8" cy="807.3" r="0.5" fill="#00ebff"/>
<circle cx="518.2" cy="806.9" r="0.5" fill="#00ebff"/>
<circle cx="519.5" cy="808.4" r="0.5" fill="#00ebff"/>
<circle cx="532.9" cy="807.6" r="0.5" fill="#00ebff"/>
<circle cx="518.2" cy="795.5" r="0.5" fill="#00ebff"/>
<circle cx="516.9" cy="801.4" r="0.5" fill="#00ebff"/>
<circle cx="521.8" cy="808" r="0.5" fill="#00ebff"/>
<circle cx="535.2" cy="805.1" r="0.5" fill="#00ebff"/>
<circle cx="532.9" cy="795.3" r="0.5" fill="#00ebff"/>
<circle cx="535.7" cy="796.2" r="0.5" fill="#06f0b7"/>
<circle cx="519.5" cy="805.1" r="0.5" fill="#06f0b7"/>
<circle cx="521.7" cy="793" r="0.5" fill="#06f0b7"/>
<circle cx="517.8" cy="799.7" r="0.5" fill="#06f0b7"/>
<circle cx="518.6" cy="804.7" r="0.5" fill="#06f0b7"/>
<circle cx="515.6" cy="801" r="0.5" fill="#06f0b7"/>
<circle cx="523" cy="807.1" r="0.5" fill="#06f0b7"/>
<circle cx="536.4" cy="801.1" r="0.5" fill="#06f0b7"/>
<circle cx="516.6" cy="804.4" r="0.5" fill="#06f0b7"/>
<circle cx="533.4" cy="797.5" r="0.5" fill="#06f0b7"/>
<circle cx="522" cy="807.9" r="0.5" fill="#06f0b7"/>
<circle cx="535.3" cy="804.1" r="0.5" fill="#06f0b7"/>
<circle cx="519.8" cy="797.5" r="0.5" fill="#06f0b7"/>
<circle cx="517" cy="804.1" r="0.5" fill="#06f0b7"/>
<circle cx="516.8" cy="800.4" r="0.5" fill="#06f0b7"/>
<circle cx="524.9" cy="794.3" r="0.5" fill="#06f0b7"/>
<circle cx="520.6" cy="805.8" r="0.5" fill="#06f0b7"/>
<circle cx="522.6" cy="807.3" r="0.5" fill="#0df56f"/>
<circle cx="527.5" cy="808.1" r="0.5" fill="#0df56f"/>
<circle cx="530" cy="795.4" r="0.5" fill="#0df56f"/>
<circle cx="535" cy="803.1" r="0.5" fill="#0df56f"/>
<circle cx="532.5" cy="797.1" r="0.5" fill="#0df56f"/>
<circle cx="520.1" cy="805.5" r="0.5" fill="#0df56f"/>
<circle cx="532.7" cy="803.8" r="0.5" fill="#0df56f"/>
<circle cx="519.4" cy="804.1" r="0.5" fill="#0df56f"/>
<rect x="494.5" y="779.4" width="52.3" height="52" fill="none" stroke="#999" stroke-width="0.8"/>
<rect x="519.8" y="781.4" width="25.4" height="37" fill="none" stroke="#777" stroke-width="0.7"/>
<text x="534.5" y="821.9" font-size="3.4" text-anchor="middle" font-weight="bold" fill="#222">IL12RB2+</text>
<text x="534.5" y="827.4" font-size="3.6" text-anchor="middle" font-weight="bold" fill="#222">59.3</text>
<line x1="492.9" y1="784.4" x2="494.5" y2="784.4" stroke="#666" stroke-width="0.5"/>
<text x="492" y="785.2" font-size="2.2" text-anchor="end" fill="#888">10</text>
<line x1="492.9" y1="794.9" x2="494.5" y2="794.9" stroke="#666" stroke-width="0.5"/>
<text x="492" y="795.7" font-size="2.2" text-anchor="end" fill="#888">10</text>
<line x1="492.9" y1="805.4" x2="494.5" y2="805.4" stroke="#666" stroke-width="0.5"/>
<text x="492" y="806.2" font-size="2.2" text-anchor="end" fill="#888">10</text>
<line x1="492.9" y1="815.9" x2="494.5" y2="815.9" stroke="#666" stroke-width="0.5"/>
<text x="492" y="816.7" font-size="2.2" text-anchor="end" fill="#888">10</text>
<line x1="492.9" y1="826.4" x2="494.5" y2="826.4" stroke="#666" stroke-width="0.5"/>
<text x="492" y="827.2" font-size="2.2" text-anchor="end" fill="#888">10</text>
<line x1="504.5" y1="831.4" x2="504.5" y2="833" stroke="#666" stroke-width="0.5"/>
<line x1="525.5" y1="831.4" x2="525.5" y2="833" stroke="#666" stroke-width="0.5"/>
<line x1="546.5" y1="831.4" x2="546.5" y2="833" stroke="#666" stroke-width="0.5"/>
<circle cx="494" cy="817.4" r="0.8" fill="#111"/>
<rect x="506.5" y="831.4" width="2.2" height="1" fill="#111" stroke="none" stroke-width="1"/>
<ellipse cx="594.7" cy="801.9" rx="5.1" ry="8.9" fill="url(#dens)"/>
<circle cx="597.3" cy="789.3" r="0.5" fill="#0028ff"/>
<circle cx="592.1" cy="813.6" r="0.5" fill="#0028ff"/>
<circle cx="587.2" cy="801.9" r="0.5" fill="#0028ff"/>
<circle cx="599.5" cy="811.7" r="0.5" fill="#0028ff"/>
<circle cx="588.9" cy="810.8" r="0.5" fill="#0069ff"/>
<circle cx="587.4" cy="808.8" r="0.5" fill="#0069ff"/>
<circle cx="600.4" cy="797.1" r="0.5" fill="#0069ff"/>
<circle cx="594.7" cy="790.8" r="0.5" fill="#0069ff"/>
<circle cx="589.1" cy="809.6" r="0.5" fill="#0069ff"/>
<circle cx="585.7" cy="801.2" r="0.5" fill="#0069ff"/>
<circle cx="591.8" cy="790.5" r="0.5" fill="#0069ff"/>
<circle cx="590.5" cy="815.4" r="0.5" fill="#0069ff"/>
<circle cx="593.7" cy="815" r="0.5" fill="#0069ff"/>
<circle cx="601.4" cy="789.1" r="0.5" fill="#0069ff"/>
<circle cx="588.9" cy="811.1" r="0.5" fill="#0069ff"/>
<circle cx="590" cy="796.3" r="0.5" fill="#0069ff"/>
<circle cx="599.9" cy="806.3" r="0.5" fill="#0069ff"/>
<circle cx="597.1" cy="793.6" r="0.5" fill="#0069ff"/>
<circle cx="600.1" cy="804.4" r="0.5" fill="#0069ff"/>
<circle cx="588.6" cy="800.8" r="0.5" fill="#00aaff"/>
<circle cx="600" cy="800.4" r="0.5" fill="#00aaff"/>
<circle cx="594.4" cy="810.9" r="0.5" fill="#00aaff"/>
<circle cx="588.3" cy="801.9" r="0.5" fill="#00aaff"/>
<circle cx="597.6" cy="809.1" r="0.5" fill="#00aaff"/>
<circle cx="591.8" cy="791.7" r="0.5" fill="#00aaff"/>
<circle cx="593.4" cy="794" r="0.5" fill="#00aaff"/>
<circle cx="589.1" cy="798.5" r="0.5" fill="#00aaff"/>
<circle cx="592.9" cy="793.4" r="0.5" fill="#00aaff"/>
<circle cx="592.3" cy="794.2" r="0.5" fill="#00aaff"/>
<circle cx="598.4" cy="806.3" r="0.5" fill="#00aaff"/>
<circle cx="598.9" cy="808" r="0.5" fill="#00aaff"/>
<circle cx="597.3" cy="809.2" r="0.5" fill="#00aaff"/>
<circle cx="597.6" cy="793.8" r="0.5" fill="#00aaff"/>
<circle cx="590.5" cy="807.8" r="0.5" fill="#00aaff"/>
<circle cx="591.5" cy="794.3" r="0.5" fill="#00ebff"/>
<circle cx="590.6" cy="804.7" r="0.5" fill="#00ebff"/>
<circle cx="595.8" cy="792.8" r="0.5" fill="#00ebff"/>
<circle cx="594" cy="793.2" r="0.5" fill="#00ebff"/>
<circle cx="595.4" cy="809.2" r="0.5" fill="#00ebff"/>
<circle cx="598.5" cy="797.5" r="0.5" fill="#00ebff"/>
<circle cx="598.9" cy="800.4" r="0.5" fill="#00ebff"/>
<circle cx="596.8" cy="811.1" r="0.5" fill="#00ebff"/>
<circle cx="598.4" cy="805.9" r="0.5" fill="#00ebff"/>
<circle cx="589.9" cy="799.3" r="0.5" fill="#00ebff"/>
<circle cx="592.8" cy="794.4" r="0.5" fill="#00ebff"/>
<circle cx="597.7" cy="794.2" r="0.5" fill="#00ebff"/>
<circle cx="591.3" cy="798.3" r="0.5" fill="#00ebff"/>
<circle cx="598.7" cy="796.8" r="0.5" fill="#00ebff"/>
<circle cx="594.1" cy="795" r="0.5" fill="#00ebff"/>
<circle cx="593.7" cy="810.6" r="0.5" fill="#00ebff"/>
<circle cx="592.3" cy="794.2" r="0.5" fill="#00ebff"/>
<circle cx="597.9" cy="797.3" r="0.5" fill="#00ebff"/>
<circle cx="594.1" cy="810" r="0.5" fill="#00ebff"/>
<circle cx="596.8" cy="807.7" r="0.5" fill="#00ebff"/>
<circle cx="597.4" cy="795.7" r="0.5" fill="#00ebff"/>
<circle cx="599.3" cy="800" r="0.5" fill="#00ebff"/>
<circle cx="596.9" cy="795.5" r="0.5" fill="#00ebff"/>
<circle cx="592.5" cy="795.6" r="0.5" fill="#00ebff"/>
<circle cx="590.3" cy="800.9" r="0.5" fill="#06f0b7"/>
<circle cx="598.6" cy="804.8" r="0.5" fill="#06f0b7"/>
<circle cx="596.6" cy="795" r="0.5" fill="#06f0b7"/>
<circle cx="597" cy="795" r="0.5" fill="#06f0b7"/>
<circle cx="597.9" cy="798.7" r="0.5" fill="#06f0b7"/>
<circle cx="590.9" cy="803.1" r="0.5" fill="#06f0b7"/>
<circle cx="593.7" cy="809.1" r="0.5" fill="#06f0b7"/>
<circle cx="591.7" cy="808.2" r="0.5" fill="#06f0b7"/>
<circle cx="593.2" cy="809" r="0.5" fill="#06f0b7"/>
<circle cx="594.6" cy="794.4" r="0.5" fill="#06f0b7"/>
<circle cx="596.6" cy="807.4" r="0.5" fill="#06f0b7"/>
<circle cx="597" cy="795.9" r="0.5" fill="#06f0b7"/>
<circle cx="591.6" cy="799.9" r="0.5" fill="#06f0b7"/>
<circle cx="597.8" cy="799.9" r="0.5" fill="#06f0b7"/>
<circle cx="592.4" cy="797.9" r="0.5" fill="#06f0b7"/>
<circle cx="591.1" cy="805.4" r="0.5" fill="#0df56f"/>
<circle cx="598.4" cy="804.8" r="0.5" fill="#0df56f"/>
<circle cx="597.3" cy="797.2" r="0.5" fill="#0df56f"/>
<circle cx="592" cy="799.4" r="0.5" fill="#0df56f"/>
<circle cx="591.6" cy="801.7" r="0.5" fill="#0df56f"/>
<circle cx="594.5" cy="807.1" r="0.5" fill="#0df56f"/>
<rect x="573.1" y="779.4" width="52.3" height="52" fill="none" stroke="#999" stroke-width="0.8"/>
<rect x="594.4" y="781.4" width="27.7" height="37" fill="none" stroke="#777" stroke-width="0.7"/>
<text x="610.2" y="821.9" font-size="3.4" text-anchor="middle" font-weight="bold" fill="#222">IL27RA+</text>
<text x="610.2" y="827.4" font-size="3.6" text-anchor="middle" font-weight="bold" fill="#222">41.7</text>
<line x1="571.5" y1="784.4" x2="573.1" y2="784.4" stroke="#666" stroke-width="0.5"/>
<text x="570.6" y="785.2" font-size="2.2" text-anchor="end" fill="#888">10</text>
<line x1="571.5" y1="794.9" x2="573.1" y2="794.9" stroke="#666" stroke-width="0.5"/>
<text x="570.6" y="795.7" font-size="2.2" text-anchor="end" fill="#888">10</text>
<line x1="571.5" y1="805.4" x2="573.1" y2="805.4" stroke="#666" stroke-width="0.5"/>
<text x="570.6" y="806.2" font-size="2.2" text-anchor="end" fill="#888">10</text>
<line x1="571.5" y1="815.9" x2="573.1" y2="815.9" stroke="#666" stroke-width="0.5"/>
<text x="570.6" y="816.7" font-size="2.2" text-anchor="end" fill="#888">10</text>
<line x1="571.5" y1="826.4" x2="573.1" y2="826.4" stroke="#666" stroke-width="0.5"/>
<text x="570.6" y="827.2" font-size="2.2" text-anchor="end" fill="#888">10</text>
<line x1="583.1" y1="831.4" x2="583.1" y2="833" stroke="#666" stroke-width="0.5"/>
<line x1="604.1" y1="831.4" x2="604.1" y2="833" stroke="#666" stroke-width="0.5"/>
<line x1="625.1" y1="831.4" x2="625.1" y2="833" stroke="#666" stroke-width="0.5"/>
<circle cx="572.6" cy="817.4" r="0.8" fill="#111"/>
<rect x="585.1" y="831.4" width="2.2" height="1" fill="#111" stroke="none" stroke-width="1"/>
<ellipse cx="660.7" cy="800.9" rx="11" ry="8.9" fill="url(#dens)"/>
<circle cx="643.6" cy="806.1" r="0.5" fill="#0028ff"/>
<circle cx="668.3" cy="820.7" r="0.5" fill="#0028ff"/>
<circle cx="659.7" cy="814.4" r="0.5" fill="#0028ff"/>
<circle cx="651.2" cy="809.3" r="0.5" fill="#0069ff"/>
<circle cx="643.5" cy="801.4" r="0.5" fill="#0069ff"/>
<circle cx="649.3" cy="794.4" r="0.5" fill="#0069ff"/>
<circle cx="644.3" cy="797.7" r="0.5" fill="#0069ff"/>
<circle cx="647.8" cy="802.8" r="0.5" fill="#0069ff"/>
<circle cx="674.4" cy="810.1" r="0.5" fill="#0069ff"/>
<circle cx="668.1" cy="792.6" r="0.5" fill="#0069ff"/>
<circle cx="664.8" cy="789.8" r="0.5" fill="#0069ff"/>
<circle cx="661.7" cy="790.9" r="0.5" fill="#0069ff"/>
<circle cx="665.9" cy="811.5" r="0.5" fill="#0069ff"/>
<circle cx="674.4" cy="811.2" r="0.5" fill="#0069ff"/>
<circle cx="663.3" cy="810.6" r="0.5" fill="#0069ff"/>
<circle cx="659.9" cy="790.6" r="0.5" fill="#0069ff"/>
<circle cx="645.7" cy="803.3" r="0.5" fill="#0069ff"/>
<circle cx="665.9" cy="788.9" r="0.5" fill="#0069ff"/>
<circle cx="672.7" cy="802.8" r="0.5" fill="#0069ff"/>
<circle cx="673.2" cy="807.7" r="0.5" fill="#0069ff"/>
<circle cx="675.9" cy="809.5" r="0.5" fill="#0069ff"/>
<circle cx="672.7" cy="808.9" r="0.5" fill="#00aaff"/>
<circle cx="652.6" cy="807" r="0.5" fill="#00aaff"/>
<circle cx="671.6" cy="800.6" r="0.5" fill="#00aaff"/>
<circle cx="671.4" cy="801.3" r="0.5" fill="#00aaff"/>
<circle cx="652.1" cy="790.9" r="0.5" fill="#00aaff"/>
<circle cx="657.1" cy="809.3" r="0.5" fill="#00aaff"/>
<circle cx="666.9" cy="810.1" r="0.5" fill="#00aaff"/>
<circle cx="659.3" cy="812.8" r="0.5" fill="#00aaff"/>
<circle cx="672.8" cy="802.4" r="0.5" fill="#00aaff"/>
<circle cx="673.2" cy="798.5" r="0.5" fill="#00aaff"/>
<circle cx="654" cy="809.2" r="0.5" fill="#00aaff"/>
<circle cx="650.5" cy="803" r="0.5" fill="#00aaff"/>
<circle cx="662.1" cy="791.9" r="0.5" fill="#00aaff"/>
<circle cx="669.6" cy="794.9" r="0.5" fill="#00aaff"/>
<circle cx="662.3" cy="811.8" r="0.5" fill="#00aaff"/>
<circle cx="669.4" cy="805.6" r="0.5" fill="#00aaff"/>
<circle cx="660" cy="809.2" r="0.5" fill="#00aaff"/>
<circle cx="662.6" cy="809.4" r="0.5" fill="#00aaff"/>
<circle cx="648.6" cy="796.8" r="0.5" fill="#00aaff"/>
<circle cx="671.7" cy="799.7" r="0.5" fill="#00aaff"/>
<circle cx="662.6" cy="811.1" r="0.5" fill="#00ebff"/>
<circle cx="666.1" cy="793.8" r="0.5" fill="#00ebff"/>
<circle cx="656.8" cy="792.8" r="0.5" fill="#00ebff"/>
<circle cx="652.5" cy="796.9" r="0.5" fill="#00ebff"/>
<circle cx="650.2" cy="802.5" r="0.5" fill="#00ebff"/>
<circle cx="653.5" cy="796" r="0.5" fill="#00ebff"/>
<circle cx="669.8" cy="796.6" r="0.5" fill="#00ebff"/>
<circle cx="651.8" cy="800.9" r="0.5" fill="#00ebff"/>
<circle cx="652.3" cy="805.2" r="0.5" fill="#00ebff"/>
<circle cx="650.8" cy="803.8" r="0.5" fill="#00ebff"/>
<circle cx="666" cy="806.6" r="0.5" fill="#00ebff"/>
<circle cx="669.2" cy="796.8" r="0.5" fill="#00ebff"/>
<circle cx="667.5" cy="806.2" r="0.5" fill="#00ebff"/>
<circle cx="654.5" cy="806.5" r="0.5" fill="#00ebff"/>
<circle cx="669.8" cy="803.3" r="0.5" fill="#00ebff"/>
<circle cx="660.6" cy="794" r="0.5" fill="#06f0b7"/>
<circle cx="655.3" cy="795.4" r="0.5" fill="#06f0b7"/>
<circle cx="668.4" cy="803.1" r="0.5" fill="#06f0b7"/>
<circle cx="654.3" cy="797.2" r="0.5" fill="#06f0b7"/>
<circle cx="664.9" cy="806.4" r="0.5" fill="#06f0b7"/>
<circle cx="668.2" cy="806.2" r="0.5" fill="#06f0b7"/>
<circle cx="663.9" cy="793.5" r="0.5" fill="#06f0b7"/>
<circle cx="651.5" cy="803.9" r="0.5" fill="#06f0b7"/>
<circle cx="670.3" cy="802.4" r="0.5" fill="#06f0b7"/>
<circle cx="653" cy="801.8" r="0.5" fill="#06f0b7"/>
<circle cx="655.9" cy="795.6" r="0.5" fill="#06f0b7"/>
<circle cx="655.8" cy="795" r="0.5" fill="#06f0b7"/>
<circle cx="655.4" cy="805.7" r="0.5" fill="#06f0b7"/>
<circle cx="670.1" cy="801.4" r="0.5" fill="#06f0b7"/>
<circle cx="653.7" cy="806" r="0.5" fill="#06f0b7"/>
<circle cx="665.9" cy="807.4" r="0.5" fill="#06f0b7"/>
<circle cx="667.5" cy="802.2" r="0.5" fill="#06f0b7"/>
<circle cx="669.7" cy="800.5" r="0.5" fill="#06f0b7"/>
<circle cx="663.4" cy="795.5" r="0.5" fill="#0df56f"/>
<circle cx="666.2" cy="804.9" r="0.5" fill="#0df56f"/>
<circle cx="666.1" cy="804.8" r="0.5" fill="#0df56f"/>
<rect x="632.2" y="779.4" width="52.3" height="52" fill="none" stroke="#999" stroke-width="0.8"/>
<rect x="654" y="781.4" width="27" height="37" fill="none" stroke="#777" stroke-width="0.7"/>
<text x="669.5" y="821.9" font-size="3.4" text-anchor="middle" font-weight="bold" fill="#222">IL27RA+</text>
<text x="669.5" y="827.4" font-size="3.6" text-anchor="middle" font-weight="bold" fill="#222">93.3</text>
<line x1="630.6" y1="784.4" x2="632.2" y2="784.4" stroke="#666" stroke-width="0.5"/>
<text x="629.7" y="785.2" font-size="2.2" text-anchor="end" fill="#888">10</text>
<line x1="630.6" y1="794.9" x2="632.2" y2="794.9" stroke="#666" stroke-width="0.5"/>
<text x="629.7" y="795.7" font-size="2.2" text-anchor="end" fill="#888">10</text>
<line x1="630.6" y1="805.4" x2="632.2" y2="805.4" stroke="#666" stroke-width="0.5"/>
<text x="629.7" y="806.2" font-size="2.2" text-anchor="end" fill="#888">10</text>
<line x1="630.6" y1="815.9" x2="632.2" y2="815.9" stroke="#666" stroke-width="0.5"/>
<text x="629.7" y="816.7" font-size="2.2" text-anchor="end" fill="#888">10</text>
<line x1="630.6" y1="826.4" x2="632.2" y2="826.4" stroke="#666" stroke-width="0.5"/>
<text x="629.7" y="827.2" font-size="2.2" text-anchor="end" fill="#888">10</text>
<line x1="642.2" y1="831.4" x2="642.2" y2="833" stroke="#666" stroke-width="0.5"/>
<line x1="663.2" y1="831.4" x2="663.2" y2="833" stroke="#666" stroke-width="0.5"/>
<line x1="684.2" y1="831.4" x2="684.2" y2="833" stroke="#666" stroke-width="0.5"/>
<circle cx="631.7" cy="817.4" r="0.8" fill="#111"/>
<rect x="644.2" y="831.4" width="2.2" height="1" fill="#111" stroke="none" stroke-width="1"/>
<text x="326.6" y="777.4" font-size="8.4" text-anchor="middle" fill="#111" textLength="32" lengthAdjust="spacingAndGlyphs">Medium</text>
<text x="386.2" y="777.4" font-size="8.4" text-anchor="middle" fill="#111" textLength="42" lengthAdjust="spacingAndGlyphs">IL-12+IL-18</text>
<text x="462.1" y="777.4" font-size="8.4" text-anchor="middle" fill="#111" textLength="32" lengthAdjust="spacingAndGlyphs">Medium</text>
<text x="520.9" y="777.4" font-size="8.4" text-anchor="middle" fill="#111" textLength="42" lengthAdjust="spacingAndGlyphs">IL-12+IL-18</text>
<text x="599.5" y="777.4" font-size="8.4" text-anchor="middle" fill="#111" textLength="32" lengthAdjust="spacingAndGlyphs">Medium</text>
<text x="658.6" y="777.4" font-size="8.4" text-anchor="middle" fill="#111" textLength="42" lengthAdjust="spacingAndGlyphs">IL-12+IL-18</text>
<text x="295.7" y="804" font-size="9.6" text-anchor="middle" fill="#111" transform="rotate(-90 295.7 804)">CD56</text>
<line x1="292.5" y1="834" x2="292.5" y2="822" stroke="#111" stroke-width="1.3"/>
<path d="M289.7,823 L292.5,816.5 L295.3,823 Z" fill="#111" stroke="none" stroke-width="1"/>
<text x="430.5" y="804" font-size="9.6" text-anchor="middle" fill="#111" transform="rotate(-90 430.5 804)">CD56</text>
<line x1="427.3" y1="834" x2="427.3" y2="822" stroke="#111" stroke-width="1.3"/>
<path d="M424.5,823 L427.3,816.5 L430.1,823 Z" fill="#111" stroke="none" stroke-width="1"/>
<text x="564.4" y="804" font-size="9.6" text-anchor="middle" fill="#111" transform="rotate(-90 564.4 804)">CD56</text>
<line x1="561.2" y1="834" x2="561.2" y2="822" stroke="#111" stroke-width="1.3"/>
<path d="M558.4,823 L561.2,816.5 L564,823 Z" fill="#111" stroke="none" stroke-width="1"/>
<line x1="296" y1="841.2" x2="307" y2="841.2" stroke="#111" stroke-width="1.3"/>
<path d="M306,838.4 L312.5,841.2 L306,844 Z" fill="#111" stroke="none" stroke-width="1"/>
<text x="318.5" y="844.8" font-size="9.6" fill="#111" textLength="25" lengthAdjust="spacingAndGlyphs">GP130</text>
<line x1="431.2" y1="841.2" x2="442.2" y2="841.2" stroke="#111" stroke-width="1.3"/>
<path d="M441.2,838.4 L447.7,841.2 L441.2,844 Z" fill="#111" stroke="none" stroke-width="1"/>
<text x="448.5" y="844.8" font-size="9.6" fill="#111" textLength="33.3" lengthAdjust="spacingAndGlyphs">IL-12R&#946;2</text>
<line x1="566.3" y1="841.2" x2="577.3" y2="841.2" stroke="#111" stroke-width="1.3"/>
<path d="M576.3,838.4 L582.8,841.2 L576.3,844 Z" fill="#111" stroke="none" stroke-width="1"/>
<text x="585.4" y="844.8" font-size="9.6" fill="#111" textLength="29.3" lengthAdjust="spacingAndGlyphs">IL-27R&#945;</text>
<line x1="326.7" y1="919.7" x2="326.7" y2="856" stroke="#222" stroke-width="0.8"/>
<line x1="324.9" y1="919.3" x2="326.7" y2="919.3" stroke="#222" stroke-width="0.7"/>
<text x="322.7" y="921.7" font-size="6.6" text-anchor="end" fill="#222">0</text>
<line x1="325.6" y1="913" x2="326.7" y2="913" stroke="#222" stroke-width="0.5"/>
<line x1="324.9" y1="906.6" x2="326.7" y2="906.6" stroke="#222" stroke-width="0.7"/>
<text x="322.7" y="909" font-size="6.6" text-anchor="end" fill="#222">20</text>
<line x1="325.6" y1="900.3" x2="326.7" y2="900.3" stroke="#222" stroke-width="0.5"/>
<line x1="324.9" y1="894" x2="326.7" y2="894" stroke="#222" stroke-width="0.7"/>
<text x="322.7" y="896.4" font-size="6.6" text-anchor="end" fill="#222">40</text>
<line x1="325.6" y1="887.6" x2="326.7" y2="887.6" stroke="#222" stroke-width="0.5"/>
<line x1="324.9" y1="881.3" x2="326.7" y2="881.3" stroke="#222" stroke-width="0.7"/>
<text x="322.7" y="883.7" font-size="6.6" text-anchor="end" fill="#222">60</text>
<line x1="325.6" y1="875" x2="326.7" y2="875" stroke="#222" stroke-width="0.5"/>
<line x1="324.9" y1="868.7" x2="326.7" y2="868.7" stroke="#222" stroke-width="0.7"/>
<text x="322.7" y="871" font-size="6.6" text-anchor="end" fill="#222">80</text>
<line x1="325.6" y1="862.3" x2="326.7" y2="862.3" stroke="#222" stroke-width="0.5"/>
<line x1="324.9" y1="856" x2="326.7" y2="856" stroke="#222" stroke-width="0.7"/>
<text x="322.7" y="858.4" font-size="6.6" text-anchor="end" fill="#222">00</text>
<line x1="326.7" y1="919.3" x2="403" y2="919.3" stroke="#222" stroke-width="0.9"/>
<rect x="328.5" y="918" width="6.2" height="1.3" fill="#569cf8" stroke="#333" stroke-width="0.5"/>
<circle cx="331.6" cy="918" r="1" fill="#000"/>
<circle cx="331.6" cy="918.4" r="1" fill="#000"/>
<line x1="331.6" y1="919.3" x2="331.6" y2="920.9" stroke="#222" stroke-width="0.5"/>
<text x="334.2" y="926" font-size="5.9" text-anchor="end" fill="#222" transform="rotate(-45 334.2 926)">Medium</text>
<rect x="336.9" y="892.7" width="6.2" height="26.6" fill="#569cf8" stroke="#333" stroke-width="0.5"/>
<line x1="340" y1="883.2" x2="340" y2="902.2" stroke="#111" stroke-width="0.5"/>
<line x1="338.4" y1="883.2" x2="341.6" y2="883.2" stroke="#111" stroke-width="0.5"/>
<circle cx="340" cy="873.7" r="1" fill="#000"/>
<circle cx="340" cy="894" r="1" fill="#000"/>
<circle cx="340" cy="895.2" r="1" fill="#000"/>
<circle cx="340" cy="896.5" r="1" fill="#000"/>
<line x1="340" y1="919.3" x2="340" y2="920.9" stroke="#222" stroke-width="0.5"/>
<text x="342.6" y="926" font-size="5.9" text-anchor="end" fill="#222" transform="rotate(-45 342.6 926)">IL-12</text>
<rect x="345.4" y="918" width="6.2" height="1.3" fill="#569cf8" stroke="#333" stroke-width="0.5"/>
<circle cx="348.5" cy="918" r="1" fill="#000"/>
<circle cx="348.5" cy="918.7" r="1" fill="#000"/>
<line x1="348.5" y1="919.3" x2="348.5" y2="920.9" stroke="#222" stroke-width="0.5"/>
<text x="351.1" y="926" font-size="5.9" text-anchor="end" fill="#222" transform="rotate(-45 351.1 926)">IL-15</text>
<rect x="353.8" y="918" width="6.2" height="1.3" fill="#569cf8" stroke="#333" stroke-width="0.5"/>
<circle cx="356.9" cy="918" r="1" fill="#000"/>
<circle cx="356.9" cy="918.7" r="1" fill="#000"/>
<line x1="356.9" y1="919.3" x2="356.9" y2="920.9" stroke="#222" stroke-width="0.5"/>
<text x="359.5" y="926" font-size="5.9" text-anchor="end" fill="#222" transform="rotate(-45 359.5 926)">IL-2</text>
<rect x="362.2" y="916.8" width="6.2" height="2.5" fill="#569cf8" stroke="#333" stroke-width="0.5"/>
<circle cx="365.3" cy="916.1" r="1" fill="#000"/>
<circle cx="365.3" cy="917.4" r="1" fill="#000"/>
<line x1="365.3" y1="919.3" x2="365.3" y2="920.9" stroke="#222" stroke-width="0.5"/>
<text x="367.9" y="926" font-size="5.9" text-anchor="end" fill="#222" transform="rotate(-45 367.9 926)">IL-18</text>
<rect x="370.6" y="891.4" width="6.2" height="27.9" fill="#569cf8" stroke="#333" stroke-width="0.5"/>
<line x1="373.8" y1="884.5" x2="373.8" y2="897.8" stroke="#111" stroke-width="0.5"/>
<line x1="372.1" y1="884.5" x2="375.4" y2="884.5" stroke="#111" stroke-width="0.5"/>
<circle cx="373.8" cy="878.2" r="1" fill="#000"/>
<circle cx="373.8" cy="890.8" r="1" fill="#000"/>
<circle cx="373.8" cy="897.1" r="1" fill="#000"/>
<line x1="373.8" y1="919.3" x2="373.8" y2="920.9" stroke="#222" stroke-width="0.5"/>
<text x="376.4" y="926" font-size="5.9" text-anchor="end" fill="#222" transform="rotate(-45 376.4 926)">IL-12+IL-15</text>
<rect x="379.1" y="891.4" width="6.2" height="27.9" fill="#569cf8" stroke="#333" stroke-width="0.5"/>
<line x1="382.2" y1="884.5" x2="382.2" y2="898.4" stroke="#111" stroke-width="0.5"/>
<line x1="380.6" y1="884.5" x2="383.8" y2="884.5" stroke="#111" stroke-width="0.5"/>
<circle cx="382.2" cy="877.5" r="1" fill="#000"/>
<circle cx="382.2" cy="894" r="1" fill="#000"/>
<circle cx="382.2" cy="897.1" r="1" fill="#000"/>
<line x1="382.2" y1="919.3" x2="382.2" y2="920.9" stroke="#222" stroke-width="0.5"/>
<text x="384.8" y="926" font-size="5.9" text-anchor="end" fill="#222" transform="rotate(-45 384.8 926)">IL-2+IL-12</text>
<rect x="387.5" y="890.8" width="6.2" height="28.5" fill="#569cf8" stroke="#333" stroke-width="0.5"/>
<line x1="390.6" y1="885.1" x2="390.6" y2="896.5" stroke="#111" stroke-width="0.5"/>
<line x1="389" y1="885.1" x2="392.2" y2="885.1" stroke="#111" stroke-width="0.5"/>
<circle cx="390.6" cy="882.6" r="1" fill="#000"/>
<circle cx="390.6" cy="890.8" r="1" fill="#000"/>
<circle cx="390.6" cy="898.4" r="1" fill="#000"/>
<line x1="390.6" y1="919.3" x2="390.6" y2="920.9" stroke="#222" stroke-width="0.5"/>
<text x="393.2" y="926" font-size="5.9" text-anchor="end" fill="#222" transform="rotate(-45 393.2 926)">IL-12+IL-18</text>
<rect x="395.9" y="916.8" width="6.2" height="2.5" fill="#569cf8" stroke="#333" stroke-width="0.5"/>
<circle cx="399" cy="916.1" r="1" fill="#000"/>
<circle cx="399" cy="916.8" r="1" fill="#000"/>
<line x1="399" y1="919.3" x2="399" y2="920.9" stroke="#222" stroke-width="0.5"/>
<text x="401.6" y="926" font-size="5.9" text-anchor="end" fill="#222" transform="rotate(-45 401.6 926)">IL-15+IL-18</text>
<text x="309.7" y="888.9" font-size="6.1" text-anchor="middle" font-weight="bold" fill="#222" transform="rotate(-90 309.7 888.9)">% GP130<tspan font-size="4.2" dy="-2.2">+</tspan><tspan dy="2.2"> NK cells</tspan></text>
<line x1="459.3" y1="919.7" x2="459.3" y2="856" stroke="#222" stroke-width="0.8"/>
<line x1="457.5" y1="919.3" x2="459.3" y2="919.3" stroke="#222" stroke-width="0.7"/>
<text x="455.3" y="921.7" font-size="6.6" text-anchor="end" fill="#222">0</text>
<line x1="458.2" y1="913" x2="459.3" y2="913" stroke="#222" stroke-width="0.5"/>
<line x1="457.5" y1="906.6" x2="459.3" y2="906.6" stroke="#222" stroke-width="0.7"/>
<text x="455.3" y="909" font-size="6.6" text-anchor="end" fill="#222">20</text>
<line x1="458.2" y1="900.3" x2="459.3" y2="900.3" stroke="#222" stroke-width="0.5"/>
<line x1="457.5" y1="894" x2="459.3" y2="894" stroke="#222" stroke-width="0.7"/>
<text x="455.3" y="896.4" font-size="6.6" text-anchor="end" fill="#222">40</text>
<line x1="458.2" y1="887.6" x2="459.3" y2="887.6" stroke="#222" stroke-width="0.5"/>
<line x1="457.5" y1="881.3" x2="459.3" y2="881.3" stroke="#222" stroke-width="0.7"/>
<text x="455.3" y="883.7" font-size="6.6" text-anchor="end" fill="#222">60</text>
<line x1="458.2" y1="875" x2="459.3" y2="875" stroke="#222" stroke-width="0.5"/>
<line x1="457.5" y1="868.7" x2="459.3" y2="868.7" stroke="#222" stroke-width="0.7"/>
<text x="455.3" y="871" font-size="6.6" text-anchor="end" fill="#222">80</text>
<line x1="458.2" y1="862.3" x2="459.3" y2="862.3" stroke="#222" stroke-width="0.5"/>
<line x1="457.5" y1="856" x2="459.3" y2="856" stroke="#222" stroke-width="0.7"/>
<text x="455.3" y="858.4" font-size="6.6" text-anchor="end" fill="#222">00</text>
<line x1="459.3" y1="919.3" x2="536.2" y2="919.3" stroke="#222" stroke-width="0.9"/>
<rect x="461" y="916.8" width="6.2" height="2.5" fill="#569cf8" stroke="#333" stroke-width="0.5"/>
<circle cx="464.1" cy="914.9" r="1" fill="#000"/>
<circle cx="464.1" cy="918" r="1" fill="#000"/>
<line x1="464.1" y1="919.3" x2="464.1" y2="920.9" stroke="#222" stroke-width="0.5"/>
<text x="466.7" y="926" font-size="5.9" text-anchor="end" fill="#222" transform="rotate(-45 466.7 926)">Medium</text>
<rect x="469.4" y="912.3" width="6.2" height="7" fill="#569cf8" stroke="#333" stroke-width="0.5"/>
<line x1="472.5" y1="908.5" x2="472.5" y2="916.1" stroke="#111" stroke-width="0.5"/>
<line x1="470.9" y1="908.5" x2="474.1" y2="908.5" stroke="#111" stroke-width="0.5"/>
<circle cx="472.5" cy="905.4" r="1" fill="#000"/>
<circle cx="472.5" cy="916.1" r="1" fill="#000"/>
<circle cx="472.5" cy="917.4" r="1" fill="#000"/>
<line x1="472.5" y1="919.3" x2="472.5" y2="920.9" stroke="#222" stroke-width="0.5"/>
<text x="475.1" y="926" font-size="5.9" text-anchor="end" fill="#222" transform="rotate(-45 475.1 926)">IL-12</text>
<rect x="477.8" y="902.2" width="6.2" height="17.1" fill="#569cf8" stroke="#333" stroke-width="0.5"/>
<line x1="480.9" y1="895.2" x2="480.9" y2="908.5" stroke="#111" stroke-width="0.5"/>
<line x1="479.3" y1="895.2" x2="482.5" y2="895.2" stroke="#111" stroke-width="0.5"/>
<circle cx="480.9" cy="889.5" r="1" fill="#000"/>
<circle cx="480.9" cy="908.5" r="1" fill="#000"/>
<circle cx="480.9" cy="909.8" r="1" fill="#000"/>
<line x1="480.9" y1="919.3" x2="480.9" y2="920.9" stroke="#222" stroke-width="0.5"/>
<text x="483.5" y="926" font-size="5.9" text-anchor="end" fill="#222" transform="rotate(-45 483.5 926)">IL-15</text>
<rect x="486.2" y="905.4" width="6.2" height="13.9" fill="#569cf8" stroke="#333" stroke-width="0.5"/>
<line x1="489.3" y1="900.3" x2="489.3" y2="910.4" stroke="#111" stroke-width="0.5"/>
<line x1="487.7" y1="900.3" x2="490.9" y2="900.3" stroke="#111" stroke-width="0.5"/>
<circle cx="489.3" cy="895.2" r="1" fill="#000"/>
<circle cx="489.3" cy="906.6" r="1" fill="#000"/>
<circle cx="489.3" cy="907.9" r="1" fill="#000"/>
<line x1="489.3" y1="919.3" x2="489.3" y2="920.9" stroke="#222" stroke-width="0.5"/>
<text x="491.9" y="926" font-size="5.9" text-anchor="end" fill="#222" transform="rotate(-45 491.9 926)">IL-2</text>
<rect x="494.6" y="909.8" width="6.2" height="9.5" fill="#569cf8" stroke="#333" stroke-width="0.5"/>
<line x1="497.7" y1="905.4" x2="497.7" y2="914.2" stroke="#111" stroke-width="0.5"/>
<line x1="496.1" y1="905.4" x2="499.3" y2="905.4" stroke="#111" stroke-width="0.5"/>
<circle cx="497.7" cy="900.9" r="1" fill="#000"/>
<circle cx="497.7" cy="911.7" r="1" fill="#000"/>
<circle cx="497.7" cy="914.9" r="1" fill="#000"/>
<line x1="497.7" y1="919.3" x2="497.7" y2="920.9" stroke="#222" stroke-width="0.5"/>
<text x="500.3" y="926" font-size="5.9" text-anchor="end" fill="#222" transform="rotate(-45 500.3 926)">IL-18</text>
<rect x="503.1" y="899" width="6.2" height="20.3" fill="#569cf8" stroke="#333" stroke-width="0.5"/>
<line x1="506.2" y1="887" x2="506.2" y2="911.1" stroke="#111" stroke-width="0.5"/>
<line x1="504.6" y1="887" x2="507.8" y2="887" stroke="#111" stroke-width="0.5"/>
<circle cx="506.2" cy="875.6" r="1" fill="#000"/>
<circle cx="506.2" cy="908.5" r="1" fill="#000"/>
<circle cx="506.2" cy="913" r="1" fill="#000"/>
<line x1="506.2" y1="919.3" x2="506.2" y2="920.9" stroke="#222" stroke-width="0.5"/>
<text x="508.8" y="926" font-size="5.9" text-anchor="end" fill="#222" transform="rotate(-45 508.8 926)">IL-12+IL-15</text>
<rect x="511.5" y="901.6" width="6.2" height="17.7" fill="#569cf8" stroke="#333" stroke-width="0.5"/>
<line x1="514.6" y1="890.2" x2="514.6" y2="913" stroke="#111" stroke-width="0.5"/>
<line x1="513" y1="890.2" x2="516.2" y2="890.2" stroke="#111" stroke-width="0.5"/>
<circle cx="514.6" cy="880.1" r="1" fill="#000"/>
<circle cx="514.6" cy="909.2" r="1" fill="#000"/>
<circle cx="514.6" cy="911.1" r="1" fill="#000"/>
<line x1="514.6" y1="919.3" x2="514.6" y2="920.9" stroke="#222" stroke-width="0.5"/>
<text x="517.2" y="926" font-size="5.9" text-anchor="end" fill="#222" transform="rotate(-45 517.2 926)">IL-2+IL-12</text>
<rect x="519.9" y="888.9" width="6.2" height="30.4" fill="#569cf8" stroke="#333" stroke-width="0.5"/>
<line x1="523" y1="875.6" x2="523" y2="902.2" stroke="#111" stroke-width="0.5"/>
<line x1="521.4" y1="875.6" x2="524.6" y2="875.6" stroke="#111" stroke-width="0.5"/>
<circle cx="523" cy="862.3" r="1" fill="#000"/>
<circle cx="523" cy="900.3" r="1" fill="#000"/>
<circle cx="523" cy="903.5" r="1" fill="#000"/>
<line x1="523" y1="919.3" x2="523" y2="920.9" stroke="#222" stroke-width="0.5"/>
<text x="525.6" y="926" font-size="5.9" text-anchor="end" fill="#222" transform="rotate(-45 525.6 926)">IL-12+IL-18</text>
<rect x="528.3" y="882.6" width="6.2" height="36.7" fill="#569cf8" stroke="#333" stroke-width="0.5"/>
<line x1="531.4" y1="871.2" x2="531.4" y2="893.3" stroke="#111" stroke-width="0.5"/>
<line x1="529.8" y1="871.2" x2="533" y2="871.2" stroke="#111" stroke-width="0.5"/>
<circle cx="531.4" cy="861.1" r="1" fill="#000"/>
<circle cx="531.4" cy="888.3" r="1" fill="#000"/>
<circle cx="531.4" cy="897.1" r="1" fill="#000"/>
<line x1="531.4" y1="919.3" x2="531.4" y2="920.9" stroke="#222" stroke-width="0.5"/>
<text x="534" y="926" font-size="5.9" text-anchor="end" fill="#222" transform="rotate(-45 534 926)">IL-15+IL-18</text>
<text x="442.4" y="888.9" font-size="6.1" text-anchor="middle" font-weight="bold" fill="#222" transform="rotate(-90 442.4 888.9)">% IL-12R&#946;2<tspan font-size="4.2" dy="-2.2">+</tspan><tspan dy="2.2"> NK cells</tspan></text>
<line x1="593.8" y1="919.7" x2="593.8" y2="856" stroke="#222" stroke-width="0.8"/>
<line x1="592" y1="919.3" x2="593.8" y2="919.3" stroke="#222" stroke-width="0.7"/>
<text x="589.8" y="921.7" font-size="6.6" text-anchor="end" fill="#222">0</text>
<line x1="592.7" y1="913" x2="593.8" y2="913" stroke="#222" stroke-width="0.5"/>
<line x1="592" y1="906.6" x2="593.8" y2="906.6" stroke="#222" stroke-width="0.7"/>
<text x="589.8" y="909" font-size="6.6" text-anchor="end" fill="#222">20</text>
<line x1="592.7" y1="900.3" x2="593.8" y2="900.3" stroke="#222" stroke-width="0.5"/>
<line x1="592" y1="894" x2="593.8" y2="894" stroke="#222" stroke-width="0.7"/>
<text x="589.8" y="896.4" font-size="6.6" text-anchor="end" fill="#222">40</text>
<line x1="592.7" y1="887.6" x2="593.8" y2="887.6" stroke="#222" stroke-width="0.5"/>
<line x1="592" y1="881.3" x2="593.8" y2="881.3" stroke="#222" stroke-width="0.7"/>
<text x="589.8" y="883.7" font-size="6.6" text-anchor="end" fill="#222">60</text>
<line x1="592.7" y1="875" x2="593.8" y2="875" stroke="#222" stroke-width="0.5"/>
<line x1="592" y1="868.7" x2="593.8" y2="868.7" stroke="#222" stroke-width="0.7"/>
<text x="589.8" y="871" font-size="6.6" text-anchor="end" fill="#222">80</text>
<line x1="592.7" y1="862.3" x2="593.8" y2="862.3" stroke="#222" stroke-width="0.5"/>
<line x1="592" y1="856" x2="593.8" y2="856" stroke="#222" stroke-width="0.7"/>
<text x="589.8" y="858.4" font-size="6.6" text-anchor="end" fill="#222">100</text>
<line x1="593.8" y1="919.3" x2="669.7" y2="919.3" stroke="#222" stroke-width="0.9"/>
<rect x="594.9" y="893.3" width="6.2" height="26" fill="#569cf8" stroke="#333" stroke-width="0.5"/>
<line x1="598" y1="890.8" x2="598" y2="895.2" stroke="#111" stroke-width="0.5"/>
<line x1="596.4" y1="890.8" x2="599.6" y2="890.8" stroke="#111" stroke-width="0.5"/>
<circle cx="598" cy="890.8" r="1" fill="#000"/>
<circle cx="598" cy="894" r="1" fill="#000"/>
<circle cx="598" cy="895.2" r="1" fill="#000"/>
<line x1="598" y1="919.3" x2="598" y2="920.9" stroke="#222" stroke-width="0.5"/>
<text x="600.6" y="926" font-size="5.9" text-anchor="end" fill="#222" transform="rotate(-45 600.6 926)">Medium</text>
<rect x="603.3" y="878.8" width="6.2" height="40.5" fill="#569cf8" stroke="#333" stroke-width="0.5"/>
<line x1="606.4" y1="873.1" x2="606.4" y2="884.5" stroke="#111" stroke-width="0.5"/>
<line x1="604.8" y1="873.1" x2="608" y2="873.1" stroke="#111" stroke-width="0.5"/>
<circle cx="606.4" cy="868.7" r="1" fill="#000"/>
<circle cx="606.4" cy="881.3" r="1" fill="#000"/>
<circle cx="606.4" cy="887.6" r="1" fill="#000"/>
<line x1="606.4" y1="919.3" x2="606.4" y2="920.9" stroke="#222" stroke-width="0.5"/>
<text x="609" y="926" font-size="5.9" text-anchor="end" fill="#222" transform="rotate(-45 609 926)">IL-12</text>
<rect x="611.6" y="861.1" width="6.2" height="58.2" fill="#569cf8" stroke="#333" stroke-width="0.5"/>
<line x1="614.8" y1="859.2" x2="614.8" y2="863.6" stroke="#111" stroke-width="0.5"/>
<line x1="613.1" y1="859.2" x2="616.4" y2="859.2" stroke="#111" stroke-width="0.5"/>
<circle cx="614.8" cy="859.2" r="1" fill="#000"/>
<circle cx="614.8" cy="862.3" r="1" fill="#000"/>
<circle cx="614.8" cy="863.6" r="1" fill="#000"/>
<line x1="614.8" y1="919.3" x2="614.8" y2="920.9" stroke="#222" stroke-width="0.5"/>
<text x="617.4" y="926" font-size="5.9" text-anchor="end" fill="#222" transform="rotate(-45 617.4 926)">IL-15</text>
<rect x="620" y="864.2" width="6.2" height="55.1" fill="#569cf8" stroke="#333" stroke-width="0.5"/>
<line x1="623.1" y1="861.7" x2="623.1" y2="867.4" stroke="#111" stroke-width="0.5"/>
<line x1="621.5" y1="861.7" x2="624.7" y2="861.7" stroke="#111" stroke-width="0.5"/>
<circle cx="623.1" cy="860.4" r="1" fill="#000"/>
<circle cx="623.1" cy="865.5" r="1" fill="#000"/>
<circle cx="623.1" cy="868.7" r="1" fill="#000"/>
<line x1="623.1" y1="919.3" x2="623.1" y2="920.9" stroke="#222" stroke-width="0.5"/>
<text x="625.7" y="926" font-size="5.9" text-anchor="end" fill="#222" transform="rotate(-45 625.7 926)">IL-2</text>
<rect x="628.4" y="866.8" width="6.2" height="52.5" fill="#569cf8" stroke="#333" stroke-width="0.5"/>
<line x1="631.5" y1="861.7" x2="631.5" y2="872.5" stroke="#111" stroke-width="0.5"/>
<line x1="629.9" y1="861.7" x2="633.1" y2="861.7" stroke="#111" stroke-width="0.5"/>
<circle cx="631.5" cy="861.1" r="1" fill="#000"/>
<circle cx="631.5" cy="868.7" r="1" fill="#000"/>
<circle cx="631.5" cy="876.3" r="1" fill="#000"/>
<line x1="631.5" y1="919.3" x2="631.5" y2="920.9" stroke="#222" stroke-width="0.5"/>
<text x="634.1" y="926" font-size="5.9" text-anchor="end" fill="#222" transform="rotate(-45 634.1 926)">IL-18</text>
<rect x="636.8" y="861.1" width="6.2" height="58.2" fill="#569cf8" stroke="#333" stroke-width="0.5"/>
<line x1="639.9" y1="859.2" x2="639.9" y2="863" stroke="#111" stroke-width="0.5"/>
<line x1="638.3" y1="859.2" x2="641.5" y2="859.2" stroke="#111" stroke-width="0.5"/>
<circle cx="639.9" cy="859.2" r="1" fill="#000"/>
<circle cx="639.9" cy="861.1" r="1" fill="#000"/>
<circle cx="639.9" cy="862.3" r="1" fill="#000"/>
<line x1="639.9" y1="919.3" x2="639.9" y2="920.9" stroke="#222" stroke-width="0.5"/>
<text x="642.5" y="926" font-size="5.9" text-anchor="end" fill="#222" transform="rotate(-45 642.5 926)">IL-12+IL-15</text>
<rect x="645.1" y="863" width="6.2" height="56.3" fill="#569cf8" stroke="#333" stroke-width="0.5"/>
<line x1="648.2" y1="861.1" x2="648.2" y2="865.5" stroke="#111" stroke-width="0.5"/>
<line x1="646.6" y1="861.1" x2="649.9" y2="861.1" stroke="#111" stroke-width="0.5"/>
<circle cx="648.2" cy="859.8" r="1" fill="#000"/>
<circle cx="648.2" cy="863.6" r="1" fill="#000"/>
<circle cx="648.2" cy="865.5" r="1" fill="#000"/>
<line x1="648.2" y1="919.3" x2="648.2" y2="920.9" stroke="#222" stroke-width="0.5"/>
<text x="650.9" y="926" font-size="5.9" text-anchor="end" fill="#222" transform="rotate(-45 650.9 926)">IL-2+IL-12</text>
<rect x="653.5" y="864.2" width="6.2" height="55.1" fill="#569cf8" stroke="#333" stroke-width="0.5"/>
<line x1="656.6" y1="862.3" x2="656.6" y2="866.1" stroke="#111" stroke-width="0.5"/>
<line x1="655" y1="862.3" x2="658.2" y2="862.3" stroke="#111" stroke-width="0.5"/>
<circle cx="656.6" cy="861.1" r="1" fill="#000"/>
<circle cx="656.6" cy="863.6" r="1" fill="#000"/>
<circle cx="656.6" cy="866.8" r="1" fill="#000"/>
<line x1="656.6" y1="919.3" x2="656.6" y2="920.9" stroke="#222" stroke-width="0.5"/>
<text x="659.2" y="926" font-size="5.9" text-anchor="end" fill="#222" transform="rotate(-45 659.2 926)">IL-12+IL-18</text>
<rect x="661.9" y="857.3" width="6.2" height="62" fill="#569cf8" stroke="#333" stroke-width="0.5"/>
<circle cx="665" cy="856.6" r="1" fill="#000"/>
<circle cx="665" cy="857.3" r="1" fill="#000"/>
<circle cx="665" cy="857.9" r="1" fill="#000"/>
<line x1="665" y1="919.3" x2="665" y2="920.9" stroke="#222" stroke-width="0.5"/>
<text x="667.6" y="926" font-size="5.9" text-anchor="end" fill="#222" transform="rotate(-45 667.6 926)">IL-15+IL-18</text>
<text x="575.3" y="888.9" font-size="6.1" text-anchor="middle" font-weight="bold" fill="#222" transform="rotate(-90 575.3 888.9)">% IL-27R&#945;<tspan font-size="4.2" dy="-2.2">+</tspan><tspan dy="2.2"> NK cells</tspan></text>
</svg>
</body></html>
